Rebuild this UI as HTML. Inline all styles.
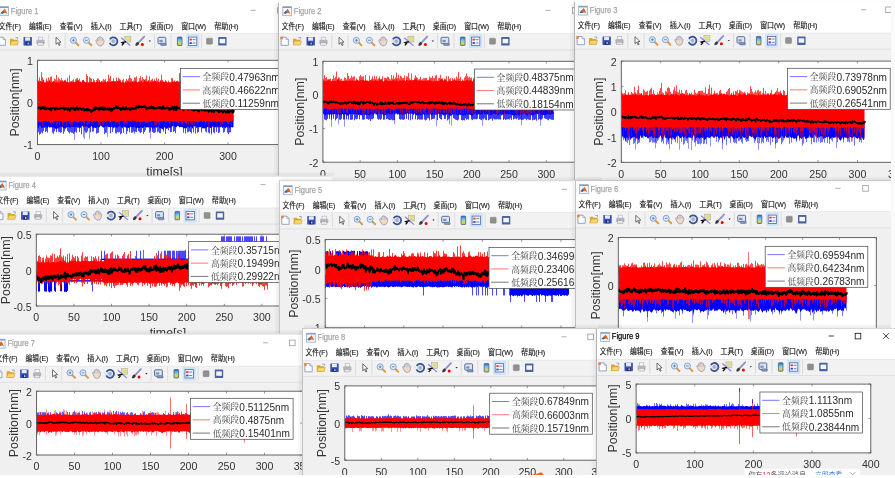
<!DOCTYPE html><html><head><meta charset="utf-8"><title>Figures</title><style>html,body{margin:0;padding:0;background:#fff;overflow:hidden}svg{display:block;filter:blur(0.45px)}</style></head><body><svg width="895" height="478" viewBox="0 0 895 478"><defs><linearGradient id="cbg" x1="0" y1="0" x2="0" y2="1"><stop offset="0" stop-color="#3a5ad8"/><stop offset="0.35" stop-color="#58c8e8"/><stop offset="0.65" stop-color="#b8e070"/><stop offset="1" stop-color="#f0b040"/></linearGradient><linearGradient id="shl" x1="0" y1="0" x2="1" y2="0"><stop offset="0" stop-color="#000" stop-opacity="0"/><stop offset="1" stop-color="#000" stop-opacity="0.07"/></linearGradient><linearGradient id="sht" x1="0" y1="0" x2="0" y2="1"><stop offset="0" stop-color="#000" stop-opacity="0"/><stop offset="1" stop-color="#000" stop-opacity="0.07"/></linearGradient></defs><rect width="895" height="478" fill="#fff"/><clipPath id="w0"><rect x="-5" y="2" width="305" height="198"/></clipPath><g clip-path="url(#w0)"><rect x="-5" y="2" width="305" height="198" fill="#f0f0f0"/><rect x="-5" y="2" width="305" height="31.6" fill="#fff"/><path d="M-5 33.8 H300" stroke="#e2e2e2" stroke-width="0.8"/><rect x="-5" y="34.2" width="305" height="15.3" fill="#f2f2f2"/><path d="M-5 49.8 H300" stroke="#dcdcdc" stroke-width="0.8"/><g transform="translate(-0.7,6.3)"><rect x="0.4" y="0.4" width="8.8" height="9" fill="#f6f7fa" stroke="#a0aac0" stroke-width="0.8"/><rect x="0.4" y="0.4" width="8.8" height="1.3" fill="#7f98c8"/><path d="M1.2 7 L5.4 2.4 L8.2 8 L6.4 6.8 Z" fill="#e06a1c"/><path d="M1.2 7 L3.6 4.4 L4.8 6.8 L3 7.6 Z" fill="#2f6db5"/><path d="M5.4 2.4 L8.2 8 L6.2 4.8 Z" fill="#b83a10"/></g><text x="10.8" y="13.7" style='font-family:"Liberation Sans","Noto Sans CJK SC",sans-serif;font-size:8.5px' fill="#a6a6a6" stroke="#a6a6a6" stroke-width="0.25" textLength="27.6" lengthAdjust="spacingAndGlyphs">Figure 1</text><path d="M250.4 10.3 H255.6" stroke="#9a9a9a" stroke-width="0.8"/><rect x="277.6" y="7.6" width="5.6" height="5.6" fill="none" stroke="#9a9a9a" stroke-width="0.8"/><text x="-1.2" y="28.7" style='font-family:"Liberation Sans","Noto Sans CJK SC",sans-serif;font-size:7.6px' fill="#1a1a1a" stroke="#1a1a1a" stroke-width="0.15" textLength="22.1" lengthAdjust="spacingAndGlyphs">文件(F)</text><text x="29" y="28.7" style='font-family:"Liberation Sans","Noto Sans CJK SC",sans-serif;font-size:7.6px' fill="#1a1a1a" stroke="#1a1a1a" stroke-width="0.15" textLength="22.6" lengthAdjust="spacingAndGlyphs">编辑(E)</text><text x="59.7" y="28.7" style='font-family:"Liberation Sans","Noto Sans CJK SC",sans-serif;font-size:7.6px' fill="#1a1a1a" stroke="#1a1a1a" stroke-width="0.15" textLength="22.9" lengthAdjust="spacingAndGlyphs">查看(V)</text><text x="90.7" y="28.7" style='font-family:"Liberation Sans","Noto Sans CJK SC",sans-serif;font-size:7.6px' fill="#1a1a1a" stroke="#1a1a1a" stroke-width="0.15" textLength="20.9" lengthAdjust="spacingAndGlyphs">插入(I)</text><text x="119.5" y="28.7" style='font-family:"Liberation Sans","Noto Sans CJK SC",sans-serif;font-size:7.6px' fill="#1a1a1a" stroke="#1a1a1a" stroke-width="0.15" textLength="22.6" lengthAdjust="spacingAndGlyphs">工具(T)</text><text x="149.8" y="28.7" style='font-family:"Liberation Sans","Noto Sans CJK SC",sans-serif;font-size:7.6px' fill="#1a1a1a" stroke="#1a1a1a" stroke-width="0.15" textLength="23.3" lengthAdjust="spacingAndGlyphs">桌面(D)</text><text x="181.2" y="28.7" style='font-family:"Liberation Sans","Noto Sans CJK SC",sans-serif;font-size:7.6px' fill="#1a1a1a" stroke="#1a1a1a" stroke-width="0.15" textLength="25" lengthAdjust="spacingAndGlyphs">窗口(W)</text><text x="214.2" y="28.7" style='font-family:"Liberation Sans","Noto Sans CJK SC",sans-serif;font-size:7.6px' fill="#1a1a1a" stroke="#1a1a1a" stroke-width="0.15" textLength="24.2" lengthAdjust="spacingAndGlyphs">帮助(H)</text><g transform="translate(-2.9,36.7)"><path d="M1 0.5 H6 L8.3 2.8 V8.6 H1 Z" fill="#fdfdff" stroke="#7d8fb0" stroke-width="0.8"/><path d="M6 0.5 V2.8 H8.3" fill="#dfe6f2" stroke="#7d8fb0" stroke-width="0.6"/><rect x="0.2" y="0" width="2.6" height="2.6" fill="#f08040"/></g><g transform="translate(9.5,36.7)"><path d="M0.5 2 H3.5 L4.3 3 H8 V8.3 H0.5 Z" fill="#d9a92c"/><path d="M0.5 8.3 L2 4.3 H9 L7.8 8.3 Z" fill="#f6d56b" stroke="#c89a28" stroke-width="0.5"/><path d="M6 0.8 L8.2 0.8 L8.2 2.6" stroke="#6a8ac0" stroke-width="0.7" fill="none"/></g><g transform="translate(23.1,36.7)"><rect x="0.4" y="0.4" width="8.4" height="8.4" rx="0.6" fill="#3b4fb0"/><rect x="2" y="0.6" width="5" height="3.4" fill="#e8ecf8"/><rect x="2.6" y="5.6" width="3.8" height="3" fill="#1e2a70"/><rect x="4.4" y="6" width="1.2" height="1.8" fill="#dfe4f0"/></g><g transform="translate(36,36.7)"><rect x="2.4" y="0.4" width="4.4" height="3.6" fill="#f4f6fa" stroke="#9aa4b8" stroke-width="0.5"/><path d="M0.4 4.2 Q0.4 3 1.6 3 H7.4 Q8.6 3 8.6 4.2 V7.4 H0.4 Z" fill="#b4b6bc"/><rect x="1.8" y="6" width="5.4" height="2.7" fill="#e6e7ea" stroke="#8c8e94" stroke-width="0.4"/></g><g transform="translate(53.7,36.7)"><path d="M2.3 0.6 L2.3 7.6 L4 6 L5.4 8.8 L6.4 8.3 L5 5.6 L7.3 5.4 Z" fill="#fff" stroke="#333" stroke-width="0.7"/></g><g transform="translate(69.8,36.7)"><path d="M5.2 5.2 L8.6 8.6" stroke="#e09a40" stroke-width="2" stroke-linecap="round"/><circle cx="3.6" cy="3.6" r="3" fill="#dcecfb" stroke="#7a9ad0" stroke-width="0.9"/><path d="M2.2 3.6 H5 M3.6 2.2 V5" stroke="#4a78c0" stroke-width="0.8"/></g><g transform="translate(82.8,36.7)"><path d="M5.2 5.2 L8.6 8.6" stroke="#e09a40" stroke-width="2" stroke-linecap="round"/><circle cx="3.6" cy="3.6" r="3" fill="#dcecfb" stroke="#7a9ad0" stroke-width="0.9"/><path d="M2.2 3.6 H5" stroke="#4a78c0" stroke-width="0.8"/></g><g transform="translate(94.9,36.2)"><path d="M1.2 5.2 Q0.4 3.6 1.8 3.4 L2.8 4.4 V2 Q3.4 0.6 4.4 1.4 V0.9 Q5.2 0 6 0.9 V1.4 Q7 0.8 7.6 1.8 V3.2 Q8.8 2.8 9.2 3.8 L8.8 6.6 Q8.2 9.8 5.2 9.8 Q2.8 9.8 1.2 5.2 Z" fill="#f7d8bc" stroke="#7f93c6" stroke-width="0.7"/><path d="M3 2.2 V5 M4.5 1.2 V4.6 M6 1.2 V4.6 M7.5 2 V5" stroke="#9fb0d8" stroke-width="0.5"/></g><g transform="translate(108.3,36.2)"><path d="M1.6 3.2 A4 4 0 1 1 1.4 6.6" fill="none" stroke="#3a5490" stroke-width="1.8"/><circle cx="5.2" cy="5" r="2.2" fill="#b8c4dc"/><path d="M4.4 3.8 V6.2 M5.4 3.6 V6.4" stroke="#7f8fb8" stroke-width="0.5"/><path d="M0 4.6 L3 4.2 L2 6.6 Z" fill="#fff" stroke="#9aa" stroke-width="0.3"/></g><g transform="translate(120.9,36.2)"><rect x="4" y="0" width="6" height="5.8" fill="#e6e4a4" stroke="#a8a470" stroke-width="0.5"/><rect x="5" y="1" width="4" height="3.8" fill="#dddb9a"/><path d="M0.4 1.6 L9.4 9.4" stroke="#8080ff" stroke-width="1.2"/><path d="M5 5.6 L1.2 6.4 L2.6 7.4 L1 9.2" stroke="#111" stroke-width="1.4" fill="none"/></g><g transform="translate(134.8,36.2)"><path d="M9.4 0.4 L4.2 6" stroke="#8c94cc" stroke-width="1.9" stroke-linecap="round"/><path d="M0.6 9.6 Q0.4 6.6 3 5.6 L4.4 7 Q3.8 9.6 0.6 9.6 Z" fill="#3a3a3a"/><circle cx="7.6" cy="8.2" r="1.5" fill="#ee0000"/></g><path d="M148.6 40.6 h2.4 l-1.2 1.3 z" fill="#333"/><g transform="translate(157.6,36.7)"><rect x="0.4" y="0.6" width="7.8" height="6.4" rx="1" fill="#dde4f0" stroke="#4a5f95" stroke-width="0.9"/><rect x="1.8" y="3.2" width="3.2" height="2.2" fill="#7d8fb8"/><rect x="3" y="6.6" width="5.8" height="2.2" rx="0.6" fill="#8596bd" stroke="#4a5f95" stroke-width="0.5"/></g><rect x="186.2" y="34.2" width="13" height="14" fill="#cce4f7"/><g transform="translate(175.1,36.7)"><rect x="2.3" y="0.4" width="4.6" height="8.4" rx="0.6" fill="url(#cbg)" stroke="#4f5f8f" stroke-width="0.8"/></g><g transform="translate(188,36.7)"><rect x="0.4" y="0.4" width="8.4" height="8.4" fill="#f4f6fb" stroke="#5a6a9a" stroke-width="0.8"/><rect x="1.5" y="2" width="2.4" height="1.8" fill="#e83a3a"/><rect x="1.5" y="5.4" width="2.4" height="1.8" fill="#3a4ae8"/><path d="M4.6 2.9 H7.6 M4.6 6.3 H7.6" stroke="#6a7aa8" stroke-width="0.9"/></g><rect x="206.5" y="38.2" width="6" height="6" rx="0.8" fill="#909090" stroke="#777" stroke-width="0.4"/><g transform="translate(217.8,36.7)"><rect x="0.4" y="0.4" width="8.4" height="8.4" rx="0.6" fill="#4a64a0"/><rect x="1.8" y="2.2" width="5.6" height="4.4" fill="#f4f6fb"/></g><path d="M48.8 34.2 V48.2" stroke="#d6d6d6" stroke-width="0.8"/><path d="M65.1 34.2 V48.2" stroke="#d6d6d6" stroke-width="0.8"/><path d="M154.5 34.2 V48.2" stroke="#d6d6d6" stroke-width="0.8"/><path d="M171 34.2 V48.2" stroke="#d6d6d6" stroke-width="0.8"/><path d="M201.5 34.2 V48.2" stroke="#d6d6d6" stroke-width="0.8"/><path d="M-4.5 200 V2.5" stroke="#b4b4b4" stroke-width="1" fill="none"/><clipPath id="a21"><rect x="37.5" y="60.3" width="254" height="84.3"/></clipPath><rect x="37.5" y="60.3" width="254" height="84.3" fill="#fff"/><g clip-path="url(#a21)"><path d="M37.5 115.09 L38.5 115.09 L39.5 115.09 L40.5 115.09 L41.5 115.09 L42.5 115.09 L43.5 115.09 L44.5 115.09 L45.5 115.09 L46.5 115.09 L47.5 115.09 L48.5 115.09 L49.5 115.09 L50.5 115.09 L51.5 115.09 L52.5 115.09 L53.5 115.09 L54.5 115.09 L55.5 115.09 L56.5 115.09 L57.5 115.09 L58.5 115.09 L59.5 115.09 L60.5 115.09 L61.5 115.09 L62.5 115.09 L63.5 115.09 L64.5 115.09 L65.5 115.09 L66.5 115.09 L67.5 115.09 L68.5 115.09 L69.5 115.09 L70.5 115.09 L71.5 115.09 L72.5 115.09 L73.5 115.09 L74.5 115.09 L75.5 115.09 L76.5 115.09 L77.5 115.09 L78.5 115.09 L79.5 115.09 L80.5 115.09 L81.5 115.09 L82.5 115.09 L83.5 115.09 L84.5 115.09 L85.5 115.09 L86.5 115.09 L87.5 115.09 L88.5 115.09 L89.5 115.09 L90.5 115.09 L91.5 115.09 L92.5 115.09 L93.5 115.09 L94.5 115.09 L95.5 115.09 L96.5 115.09 L97.5 115.09 L98.5 115.09 L99.5 115.09 L100.5 115.09 L101.5 115.09 L102.5 115.09 L103.5 115.09 L104.5 115.09 L105.5 115.09 L106.5 115.09 L107.5 115.09 L108.5 115.09 L109.5 115.09 L110.5 115.09 L111.5 115.09 L112.5 115.09 L113.5 115.09 L114.5 115.09 L115.5 115.09 L116.5 115.09 L117.5 115.09 L118.5 115.09 L119.5 115.09 L120.5 115.09 L121.5 115.09 L122.5 115.09 L123.5 115.09 L124.5 115.09 L125.5 115.09 L126.5 115.09 L127.5 115.09 L128.5 115.09 L129.5 115.09 L130.5 115.09 L131.5 115.09 L132.5 115.09 L133.5 115.09 L134.5 115.09 L135.5 115.09 L136.5 115.09 L137.5 115.09 L138.5 115.09 L139.5 115.09 L140.5 115.09 L141.5 115.09 L142.5 115.09 L143.5 115.09 L144.5 115.09 L145.5 115.09 L146.5 115.09 L147.5 115.09 L148.5 115.09 L149.5 115.09 L150.5 115.09 L151.5 115.09 L152.5 115.09 L153.5 115.09 L154.5 115.09 L155.5 115.09 L156.5 115.09 L157.5 115.09 L158.5 115.09 L159.5 115.09 L160.5 115.09 L161.5 115.09 L162.5 115.09 L163.5 115.09 L164.5 115.09 L165.5 115.09 L166.5 115.09 L167.5 115.09 L168.5 115.09 L169.5 115.09 L170.5 115.09 L171.5 115.09 L172.5 115.09 L173.5 115.09 L174.5 115.09 L175.5 115.09 L176.5 115.09 L177.5 115.09 L178.5 115.09 L179.5 115.09 L180.5 115.09 L181.5 115.09 L182.5 115.09 L183.5 115.09 L184.5 115.09 L185.5 115.09 L186.5 115.09 L187.5 115.09 L188.5 115.09 L189.5 115.09 L190.5 115.09 L191.5 115.09 L192.5 115.09 L193.5 115.09 L194.5 115.09 L195.5 115.09 L196.5 115.09 L197.5 115.09 L198.5 115.09 L199.5 115.09 L200.5 115.09 L201.5 115.09 L202.5 115.09 L203.5 115.09 L204.5 115.09 L205.5 115.09 L206.5 115.09 L207.5 115.09 L208.5 115.09 L209.5 115.09 L210.5 115.09 L211.5 115.09 L212.5 115.09 L213.5 115.09 L214.5 115.09 L215.5 115.09 L216.5 115.09 L217.5 115.09 L218.5 115.09 L219.5 115.09 L220.5 115.09 L221.5 115.09 L222.5 115.09 L223.5 115.09 L224.5 115.09 L225.5 115.09 L226.5 115.09 L227.5 115.09 L228.5 115.09 L229.5 115.09 L230.5 115.09 L231.5 115.09 L232.5 115.09 L233.5 115.09 L233.5 127.1 L232.5 127.6 L231.5 127.08 L230.5 127.46 L229.5 127.89 L228.5 126.24 L227.5 128.07 L226.5 126.75 L225.5 128.66 L224.5 127.15 L223.5 126.46 L222.5 128.26 L221.5 126.62 L220.5 127.54 L219.5 126.35 L218.5 126.77 L217.5 127.82 L216.5 126.01 L215.5 127.59 L214.5 127.23 L213.5 126.67 L212.5 126.52 L211.5 127.69 L210.5 127.89 L209.5 127.29 L208.5 127.09 L207.5 127.01 L206.5 127.83 L205.5 127.79 L204.5 128.49 L203.5 128.37 L202.5 128.58 L201.5 126.43 L200.5 127.17 L199.5 127.15 L198.5 126.96 L197.5 126.87 L196.5 128.36 L195.5 125.58 L194.5 126.64 L193.5 125.77 L192.5 128.93 L191.5 126.57 L190.5 126.14 L189.5 128.34 L188.5 126.87 L187.5 126.29 L186.5 128.62 L185.5 127.77 L184.5 128.44 L183.5 127.74 L182.5 127.27 L181.5 127.08 L180.5 126.93 L179.5 127.58 L178.5 126.11 L177.5 125.8 L176.5 127.16 L175.5 127.2 L174.5 126.45 L173.5 125.68 L172.5 126.18 L171.5 127.04 L170.5 127.63 L169.5 127.97 L168.5 126.8 L167.5 128.57 L166.5 128.89 L165.5 127.86 L164.5 127.01 L163.5 128.9 L162.5 129.34 L161.5 128.51 L160.5 128.27 L159.5 128.2 L158.5 125.48 L157.5 127.19 L156.5 127.83 L155.5 126.77 L154.5 128.07 L153.5 127.34 L152.5 129.35 L151.5 127.4 L150.5 126.7 L149.5 127.36 L148.5 127.42 L147.5 127.21 L146.5 127.45 L145.5 126.74 L144.5 126.12 L143.5 127.43 L142.5 128.31 L141.5 127.07 L140.5 127.62 L139.5 128.17 L138.5 127.96 L137.5 127.48 L136.5 128.85 L135.5 127.87 L134.5 126.11 L133.5 128.04 L132.5 127.08 L131.5 127.29 L130.5 126.93 L129.5 127.26 L128.5 128.24 L127.5 127.37 L126.5 128.26 L125.5 127.35 L124.5 127.25 L123.5 125.69 L122.5 128.63 L121.5 127.04 L120.5 126.79 L119.5 125.63 L118.5 126.66 L117.5 127.58 L116.5 127.8 L115.5 127.12 L114.5 127.37 L113.5 128.52 L112.5 126.22 L111.5 126.96 L110.5 127.49 L109.5 126.88 L108.5 127.24 L107.5 126.26 L106.5 126.79 L105.5 125.95 L104.5 126.97 L103.5 127.83 L102.5 127.04 L101.5 126.32 L100.5 125.5 L99.5 127.3 L98.5 127.85 L97.5 126.05 L96.5 128.04 L95.5 127.88 L94.5 127.62 L93.5 128.04 L92.5 127.23 L91.5 126.11 L90.5 126.94 L89.5 127.86 L88.5 128.38 L87.5 126.3 L86.5 126.64 L85.5 126.33 L84.5 126.84 L83.5 127.3 L82.5 125.84 L81.5 126.01 L80.5 127.99 L79.5 128 L78.5 127.62 L77.5 127.8 L76.5 126.22 L75.5 127.14 L74.5 126.83 L73.5 126.7 L72.5 127.31 L71.5 126.53 L70.5 127.47 L69.5 127.42 L68.5 126.87 L67.5 126.91 L66.5 127.46 L65.5 129.1 L64.5 127.92 L63.5 127.99 L62.5 127.22 L61.5 126.85 L60.5 127.27 L59.5 127.34 L58.5 127.96 L57.5 128.39 L56.5 129.18 L55.5 128.87 L54.5 127.9 L53.5 127.04 L52.5 127.58 L51.5 127.33 L50.5 127.13 L49.5 127.81 L48.5 126.22 L47.5 128.23 L46.5 127.38 L45.5 126.21 L44.5 127.95 L43.5 127.12 L42.5 127.93 L41.5 127.9 L40.5 125.7 L39.5 125.22 L38.5 128.16 L37.5 128.85Z" fill="#0000ff"/><path d="M37.5 123.52V132.84M38.5 123.52V132.2M39.5 123.52V134.7M40.5 123.52V133.88M41.5 123.52V132.3M42.5 123.52V133.29M43.5 123.52V131.07M45.5 123.52V132.09M46.5 123.52V131.1M47.5 123.52V132.6M52.5 123.52V132.64M53.5 123.52V133.77M54.5 123.52V131.29M56.5 123.52V132.2M58.5 123.52V131.74M59.5 123.52V131.92M60.5 123.52V132.79M61.5 123.52V132.34M63.5 123.52V133.79M64.5 123.52V131.47M67.5 123.52V131.03M68.5 123.52V132.21M69.5 123.52V133.47M70.5 123.52V131.91M71.5 123.52V132.79M72.5 123.52V132.85M73.5 123.52V133.93M74.5 123.52V132.37M75.5 123.52V131.63M76.5 123.52V132.63M79.5 123.52V131.89M81.5 123.52V134.18M84.5 123.52V130.77M85.5 123.52V132.64M86.5 123.52V132.68M87.5 123.52V131.55M90.5 123.52V132.2M92.5 123.52V131.66M93.5 123.52V131.48M96.5 123.52V133.63M97.5 123.52V133M98.5 123.52V132.68M104.5 123.52V134.09M105.5 123.52V132.64M106.5 123.52V132.65M110.5 123.52V133.2M112.5 123.52V131.95M115.5 123.52V133.2M116.5 123.52V133.58M117.5 123.52V132.14M118.5 123.52V132.41M119.5 123.52V131.98M120.5 123.52V134.34M121.5 123.52V133.32M123.5 123.52V132.85M126.5 123.52V134.11M127.5 123.52V131.28M129.5 123.52V132.34M131.5 123.52V132.81M132.5 123.52V132.51M133.5 123.52V131.53M134.5 123.52V133.52M135.5 123.52V131.75M136.5 123.52V132.15M138.5 123.52V131.01M139.5 123.52V132.11M140.5 123.52V133.17M141.5 123.52V132.12M143.5 123.52V133.89M144.5 123.52V132.05M145.5 123.52V130.23M149.5 123.52V132.67M150.5 123.52V131.35M152.5 123.52V131.98M153.5 123.52V132.91M154.5 123.52V132.86M155.5 123.52V132.13M157.5 123.52V132.35M158.5 123.52V131.66M159.5 123.52V133.18M160.5 123.52V133.32M163.5 123.52V131.52M165.5 123.52V133.99M168.5 123.52V130.31M170.5 123.52V132.23M171.5 123.52V131.99M173.5 123.52V131.9M174.5 123.52V131.15M175.5 123.52V133.22M183.5 123.52V132.74M185.5 123.52V133.35M187.5 123.52V132.43M188.5 123.52V131.76M189.5 123.52V131.49M190.5 123.52V132.04M191.5 123.52V133.43M193.5 123.52V132.36M195.5 123.52V133.53M197.5 123.52V132.85M198.5 123.52V132.05M201.5 123.52V132.46M205.5 123.52V131.38M206.5 123.52V132.49M208.5 123.52V132.61M209.5 123.52V133.53M211.5 123.52V133.39M213.5 123.52V132.21M214.5 123.52V133.32M216.5 123.52V131.87M218.5 123.52V133.05M219.5 123.52V132.39M223.5 123.52V132.67M224.5 123.52V131.73M227.5 123.52V132.68M228.5 123.52V134.11M229.5 123.52V132.41M230.5 123.52V132.29" stroke="#0000ff" stroke-width="0.9" stroke-opacity="0.8" fill="none"/><path d="M74.5 123.52V139.98M83.5 123.52V137.6M84.5 123.52V138.96M89.5 123.52V139.29M107.5 123.52V136.87M150.5 123.52V138.53M211.5 123.52V134.93" stroke="#0000ff" stroke-width="0.7" stroke-opacity="0.6" fill="none"/><path d="M37.5 81.6 L38.5 80.31 L39.5 82.57 L40.5 80.63 L41.5 82.03 L42.5 81.93 L43.5 78.81 L44.5 82.58 L45.5 82.6 L46.5 80.39 L47.5 82.43 L48.5 82.19 L49.5 80.42 L50.5 81.98 L51.5 82.55 L52.5 82.17 L53.5 80.85 L54.5 81.76 L55.5 82.61 L56.5 81.88 L57.5 82.59 L58.5 82.55 L59.5 82.47 L60.5 79.82 L61.5 82.1 L62.5 80.87 L63.5 81.76 L64.5 80.26 L65.5 81.67 L66.5 81.54 L67.5 82 L68.5 82.15 L69.5 82.56 L70.5 82.28 L71.5 81.07 L72.5 82.51 L73.5 82.08 L74.5 82.03 L75.5 81.91 L76.5 81.51 L77.5 80 L78.5 80.12 L79.5 82.21 L80.5 81.61 L81.5 82.6 L82.5 80.09 L83.5 79.76 L84.5 81.78 L85.5 82.29 L86.5 82.48 L87.5 82.41 L88.5 82.23 L89.5 82.59 L90.5 81.88 L91.5 82.11 L92.5 81.88 L93.5 82.02 L94.5 81.72 L95.5 82.44 L96.5 82.16 L97.5 81.49 L98.5 82.51 L99.5 81.13 L100.5 82.01 L101.5 82.5 L102.5 82.5 L103.5 82.56 L104.5 82.21 L105.5 81.26 L106.5 82.42 L107.5 81.42 L108.5 81.95 L109.5 81.71 L110.5 82.13 L111.5 81.47 L112.5 81.11 L113.5 81.2 L114.5 81.19 L115.5 81.61 L116.5 81.78 L117.5 81.09 L118.5 80.26 L119.5 81.22 L120.5 81.09 L121.5 82.39 L122.5 81.76 L123.5 82.4 L124.5 82.63 L125.5 82.08 L126.5 82.38 L127.5 80.94 L128.5 81.28 L129.5 82.47 L130.5 81.27 L131.5 82.02 L132.5 81.15 L133.5 82.52 L134.5 82.07 L135.5 80.53 L136.5 81.65 L137.5 82.62 L138.5 81.27 L139.5 81.63 L140.5 81.81 L141.5 80.25 L142.5 82.45 L143.5 82.57 L144.5 79.36 L145.5 81.7 L146.5 81.66 L147.5 81.2 L148.5 79.79 L149.5 82.63 L150.5 81.83 L151.5 82.17 L152.5 81.27 L153.5 81.95 L154.5 80.49 L155.5 80.99 L156.5 81.68 L157.5 82.39 L158.5 82.01 L159.5 82.2 L160.5 79.87 L161.5 81.94 L162.5 81.3 L163.5 81.65 L164.5 82.02 L165.5 81.4 L166.5 81.18 L167.5 82.48 L168.5 81.94 L169.5 82.16 L170.5 82.29 L171.5 82.41 L172.5 81.29 L173.5 81.71 L174.5 80.98 L175.5 82.04 L176.5 81.09 L177.5 81.56 L178.5 82.29 L179.5 82.37 L180.5 81.39 L181.5 81.46 L182.5 82.04 L183.5 81.26 L184.5 81.83 L185.5 82.03 L186.5 82.38 L187.5 81.7 L188.5 81.48 L189.5 80.72 L190.5 81.94 L191.5 80.64 L192.5 81.99 L193.5 81.5 L194.5 80.81 L195.5 81.98 L196.5 82.49 L197.5 82.55 L198.5 82.21 L199.5 82.07 L200.5 82.56 L201.5 82.47 L202.5 79.4 L203.5 81.46 L204.5 82.1 L205.5 81.67 L206.5 81.3 L207.5 82.46 L208.5 81.39 L209.5 81.81 L210.5 82.07 L211.5 81.27 L212.5 82.21 L213.5 81.62 L214.5 82.17 L215.5 81.66 L216.5 81.3 L217.5 81.81 L218.5 80.15 L219.5 82.25 L220.5 81.28 L221.5 80.73 L222.5 78.25 L223.5 81.12 L224.5 82.14 L225.5 81.58 L226.5 80.82 L227.5 81.95 L228.5 81.64 L229.5 81.32 L230.5 80.31 L231.5 81.22 L232.5 80.99 L233.5 81.48 L233.5 121.12 L232.5 120.84 L231.5 121.55 L230.5 121.36 L229.5 121.17 L228.5 121.73 L227.5 122.64 L226.5 121.68 L225.5 121.54 L224.5 120.71 L223.5 121.48 L222.5 121.45 L221.5 121.06 L220.5 120.6 L219.5 121.61 L218.5 120.76 L217.5 122.25 L216.5 121.02 L215.5 120.8 L214.5 121.66 L213.5 121.4 L212.5 120.58 L211.5 122.57 L210.5 121.19 L209.5 121.43 L208.5 121.44 L207.5 120.92 L206.5 121.22 L205.5 122.67 L204.5 121.05 L203.5 120.61 L202.5 121.97 L201.5 120.65 L200.5 120.86 L199.5 122.19 L198.5 121.77 L197.5 122.31 L196.5 121.72 L195.5 121.94 L194.5 121.84 L193.5 121.36 L192.5 121.01 L191.5 121.05 L190.5 121.21 L189.5 120.97 L188.5 121.4 L187.5 120.9 L186.5 122.31 L185.5 123.62 L184.5 121 L183.5 121.17 L182.5 120.65 L181.5 121.51 L180.5 121.82 L179.5 121.3 L178.5 121.35 L177.5 120.9 L176.5 122.16 L175.5 121.23 L174.5 121.8 L173.5 121.27 L172.5 121.34 L171.5 121.61 L170.5 120.97 L169.5 120.7 L168.5 121.75 L167.5 120.92 L166.5 121.55 L165.5 122 L164.5 120.84 L163.5 120.72 L162.5 121.13 L161.5 121.2 L160.5 121.33 L159.5 121.22 L158.5 120.76 L157.5 122.61 L156.5 121.15 L155.5 120.92 L154.5 120.65 L153.5 121.08 L152.5 120.65 L151.5 121.32 L150.5 121.68 L149.5 121.22 L148.5 120.99 L147.5 122.45 L146.5 122.77 L145.5 121.74 L144.5 121.52 L143.5 121.52 L142.5 122.1 L141.5 121.66 L140.5 121.28 L139.5 122.78 L138.5 121.21 L137.5 121.67 L136.5 121.72 L135.5 120.89 L134.5 121.1 L133.5 120.62 L132.5 120.73 L131.5 121.8 L130.5 121.04 L129.5 121.17 L128.5 120.73 L127.5 121.23 L126.5 120.66 L125.5 122.52 L124.5 121.02 L123.5 120.73 L122.5 120.62 L121.5 120.68 L120.5 120.93 L119.5 121.38 L118.5 121.77 L117.5 122.07 L116.5 122.5 L115.5 121.72 L114.5 121 L113.5 120.61 L112.5 121.6 L111.5 121.04 L110.5 122.41 L109.5 121.17 L108.5 121.22 L107.5 120.58 L106.5 122.34 L105.5 121.46 L104.5 120.92 L103.5 121.65 L102.5 120.95 L101.5 121.87 L100.5 121.65 L99.5 121.28 L98.5 121.35 L97.5 120.79 L96.5 121.25 L95.5 122.21 L94.5 120.82 L93.5 120.96 L92.5 121.61 L91.5 121.69 L90.5 120.62 L89.5 121.48 L88.5 120.6 L87.5 121.44 L86.5 120.79 L85.5 121.08 L84.5 120.6 L83.5 123.01 L82.5 121.28 L81.5 120.7 L80.5 121.21 L79.5 121.36 L78.5 122.5 L77.5 122.65 L76.5 121.64 L75.5 121.38 L74.5 121.27 L73.5 121.65 L72.5 122.26 L71.5 121.88 L70.5 120.93 L69.5 121 L68.5 121.65 L67.5 120.86 L66.5 121.81 L65.5 121.96 L64.5 121.46 L63.5 122.21 L62.5 122.99 L61.5 121.12 L60.5 121.25 L59.5 120.73 L58.5 121.16 L57.5 120.65 L56.5 121.12 L55.5 121.15 L54.5 121.54 L53.5 121.37 L52.5 123.07 L51.5 120.78 L50.5 123.02 L49.5 122.19 L48.5 120.85 L47.5 121.88 L46.5 121.56 L45.5 120.87 L44.5 121.27 L43.5 120.77 L42.5 121.5 L41.5 122.61 L40.5 121.93 L39.5 122.4 L38.5 121.19 L37.5 121.25Z" fill="#ff0000"/><path d="M37.5 81.71V89.8M39.5 77.44V89.8M41.5 72.24V89.8M42.5 77.22V89.8M46.5 78.22V89.8M47.5 80.67V89.8M48.5 77.4V89.8M49.5 79.59V89.8M50.5 76.92V89.8M51.5 76.4V89.8M52.5 81.58V89.8M53.5 81.04V89.8M54.5 78.64V89.8M55.5 79.35V89.8M56.5 74.93V89.8M57.5 80.33V89.8M58.5 77.59V89.8M59.5 78.98V89.8M61.5 78.07V89.8M62.5 80.2V89.8M64.5 80.26V89.8M65.5 79.59V89.8M67.5 77.75V89.8M69.5 75.31V89.8M70.5 81.29V89.8M72.5 80.35V89.8M73.5 79.18V89.8M75.5 79.38V89.8M76.5 78.42V89.8M77.5 77.92V89.8M79.5 78.61V89.8M80.5 81.79V89.8M83.5 80.66V89.8M86.5 74.1V89.8M87.5 76.01V89.8M89.5 77.15V89.8M90.5 77.94V89.8M91.5 78.7V89.8M93.5 78.72V89.8M94.5 80.26V89.8M96.5 79.9V89.8M97.5 78.28V89.8M98.5 78.7V89.8M99.5 80.01V89.8M101.5 81.02V89.8M102.5 80.68V89.8M103.5 78.91V89.8M104.5 80.02V89.8M105.5 78.82V89.8M107.5 80.91V89.8M108.5 74.65V89.8M109.5 78.26V89.8M110.5 75.92V89.8M111.5 81.16V89.8M113.5 78.16V89.8M115.5 81.2V89.8M116.5 77.67V89.8M118.5 77.72V89.8M119.5 78.82V89.8M120.5 79.76V89.8M122.5 80.15V89.8M123.5 78.89V89.8M125.5 81V89.8M126.5 78.81V89.8M127.5 80.45V89.8M128.5 78.52V89.8M129.5 75.16V89.8M130.5 78.02V89.8M131.5 78.71V89.8M132.5 81.39V89.8M133.5 80.46V89.8M134.5 77.57V89.8M135.5 77.51V89.8M136.5 76.29V89.8M139.5 78.25V89.8M140.5 76.17V89.8M141.5 80.74V89.8M142.5 77.05V89.8M143.5 78.89V89.8M144.5 79.78V89.8M145.5 78.89V89.8M146.5 75.52V89.8M149.5 76.25V89.8M150.5 80.47V89.8M151.5 79.65V89.8M152.5 78.62V89.8M153.5 81V89.8M154.5 79.17V89.8M156.5 77.63V89.8M157.5 80.39V89.8M158.5 78.58V89.8M161.5 74.62V89.8M162.5 79.81V89.8M163.5 81.73V89.8M165.5 79.96V89.8M168.5 80.5V89.8M171.5 78.23V89.8M172.5 78.04V89.8M174.5 80.48V89.8M177.5 80.58V89.8M178.5 81.43V89.8M179.5 73.12V89.8M180.5 81.15V89.8M182.5 79.79V89.8M183.5 75.23V89.8M184.5 76.49V89.8M185.5 80.76V89.8M186.5 78.47V89.8M187.5 80.5V89.8M188.5 81.03V89.8M190.5 79.89V89.8M191.5 81.56V89.8M192.5 77.24V89.8M194.5 79.39V89.8M195.5 74.29V89.8M196.5 78.3V89.8M197.5 75.76V89.8M199.5 79.23V89.8M200.5 77.36V89.8M203.5 80.92V89.8M204.5 78.32V89.8M205.5 81.31V89.8M207.5 79.33V89.8M208.5 79.87V89.8M209.5 77.99V89.8M210.5 81.29V89.8M213.5 81.55V89.8M216.5 78.39V89.8M217.5 79.02V89.8M218.5 81.32V89.8M220.5 81.67V89.8M221.5 76.73V89.8M222.5 79.61V89.8M223.5 81.22V89.8M226.5 81.11V89.8M227.5 77.05V89.8M229.5 76.2V89.8M233.5 78.96V89.8" stroke="#ff0000" stroke-width="0.9" stroke-opacity="0.8" fill="none"/><path d="M37.5 115.09V126.41M42.5 115.09V125.63M50.5 115.09V124.08M51.5 115.09V124.13M53.5 115.09V123.86M56.5 115.09V125.28M57.5 115.09V123.98M59.5 115.09V125.32M62.5 115.09V126.31M66.5 115.09V125.84M69.5 115.09V124.46M70.5 115.09V125.56M71.5 115.09V124.28M72.5 115.09V124.81M81.5 115.09V124.28M84.5 115.09V127.28M87.5 115.09V125.33M88.5 115.09V123.83M89.5 115.09V123.79M92.5 115.09V124.39M98.5 115.09V124.9M99.5 115.09V125.16M100.5 115.09V124.88M102.5 115.09V125.24M103.5 115.09V124.69M106.5 115.09V124.27M109.5 115.09V123.89M111.5 115.09V126.65M115.5 115.09V124.77M118.5 115.09V124.34M119.5 115.09V125M123.5 115.09V123.62M124.5 115.09V124.1M126.5 115.09V124.49M127.5 115.09V124.18M136.5 115.09V123.57M140.5 115.09V125.07M145.5 115.09V124.14M148.5 115.09V123.99M151.5 115.09V124.17M154.5 115.09V125.24M155.5 115.09V125.85M156.5 115.09V125.46M158.5 115.09V124.16M159.5 115.09V125.05M165.5 115.09V124.05M169.5 115.09V124.33M170.5 115.09V124.58M173.5 115.09V125.84M178.5 115.09V124.09M181.5 115.09V124.56M182.5 115.09V124.74M186.5 115.09V124.98M188.5 115.09V125.38M190.5 115.09V123.77M191.5 115.09V124.17M192.5 115.09V124.71M194.5 115.09V125.4M197.5 115.09V124.39M205.5 115.09V124.49M208.5 115.09V126.81M216.5 115.09V124.3M220.5 115.09V124.8M221.5 115.09V124.06M222.5 115.09V124.26M227.5 115.09V123.83M228.5 115.09V124.07M229.5 115.09V123.84M231.5 115.09V125.64" stroke="#ff0000" stroke-width="0.7" stroke-opacity="0.7" fill="none"/><path d="M37.5 107.21 L37.88 107.87 L38.26 108.05 L38.64 107.28 L39.01 107.15 L39.39 107.16 L39.77 107.2 L40.15 107.32 L40.53 109.38 L40.91 108.67 L41.29 108.22 L41.66 108.46 L42.04 107.63 L42.42 106.88 L42.8 107.08 L43.18 108.63 L43.56 108.26 L43.94 107.82 L44.31 108.8 L44.69 107.39 L45.07 108.28 L45.45 109.34 L45.83 107.33 L46.21 109.01 L46.59 109.3 L46.96 108.56 L47.34 108.28 L47.72 107.92 L48.1 107.91 L48.48 109.08 L48.86 108.45 L49.24 109.08 L49.61 108.85 L49.99 109.56 L50.37 108.38 L50.75 107.74 L51.13 110.48 L51.51 109.09 L51.89 108.17 L52.26 108.4 L52.64 108.14 L53.02 107.61 L53.4 107.6 L53.78 107.59 L54.16 107.88 L54.54 109.29 L54.91 109.87 L55.29 107.93 L55.67 107.86 L56.05 108.92 L56.43 108.25 L56.81 107.87 L57.19 109.17 L57.56 108.56 L57.94 108.18 L58.32 108.77 L58.7 108.97 L59.08 109.12 L59.46 109.26 L59.83 109.14 L60.21 108.1 L60.59 107.7 L60.97 108.21 L61.35 107.95 L61.73 108.3 L62.11 108.41 L62.48 107.9 L62.86 107.64 L63.24 108.42 L63.62 107.63 L64 108.21 L64.38 109.9 L64.76 108.36 L65.13 108.34 L65.51 108.24 L65.89 109.06 L66.27 107.86 L66.65 108.48 L67.03 108.62 L67.41 109.73 L67.78 109.91 L68.16 108.44 L68.54 107.84 L68.92 109.64 L69.3 109.01 L69.68 111.02 L70.06 109.87 L70.43 109.78 L70.81 107.91 L71.19 108.73 L71.57 108.61 L71.95 107.73 L72.33 108.81 L72.71 108.79 L73.08 108.11 L73.46 107.59 L73.84 107.76 L74.22 109.85 L74.6 109.38 L74.98 110.1 L75.36 108.23 L75.73 109.12 L76.11 109.39 L76.49 107.36 L76.87 107.75 L77.25 108.79 L77.63 108.29 L78.01 109.75 L78.38 108.93 L78.76 109.56 L79.14 107.56 L79.52 108.46 L79.9 107.96 L80.28 108.67 L80.66 108.65 L81.03 109.48 L81.41 109.14 L81.79 110.02 L82.17 108.96 L82.55 108.56 L82.93 108.76 L83.31 107.94 L83.68 108.67 L84.06 110.57 L84.44 109.5 L84.82 110.45 L85.2 110.35 L85.58 110.17 L85.96 109.68 L86.33 108.81 L86.71 110.43 L87.09 108.9 L87.47 110.47 L87.85 109.11 L88.23 109.04 L88.61 110.36 L88.98 110.36 L89.36 109.97 L89.74 110.32 L90.12 110.19 L90.5 110.04 L90.88 110.54 L91.26 112.09 L91.63 110.5 L92.01 111.36 L92.39 110.77 L92.77 109.53 L93.15 109.53 L93.53 108.86 L93.91 110.67 L94.28 108.03 L94.66 109.41 L95.04 109.82 L95.42 106.83 L95.8 108.4 L96.18 108.52 L96.56 107.75 L96.93 108.81 L97.31 108.15 L97.69 108.94 L98.07 109.38 L98.45 108.81 L98.83 109.74 L99.2 107.62 L99.58 110.2 L99.96 107.96 L100.34 107.67 L100.72 107.78 L101.1 108.07 L101.48 109.25 L101.85 107.16 L102.23 109.37 L102.61 108.71 L102.99 109.66 L103.37 107.67 L103.75 109.76 L104.13 107.68 L104.5 107.4 L104.88 108.17 L105.26 109.54 L105.64 108.64 L106.02 109.27 L106.4 108.75 L106.78 108.68 L107.15 108.36 L107.53 109.48 L107.91 109.05 L108.29 108.93 L108.67 108.88 L109.05 109.9 L109.43 108.12 L109.8 108.87 L110.18 109.3 L110.56 109.1 L110.94 108.8 L111.32 111.38 L111.7 108.55 L112.08 110.59 L112.45 109.31 L112.83 109.27 L113.21 108.39 L113.59 108.43 L113.97 107.69 L114.35 108.91 L114.73 107.73 L115.1 107.62 L115.48 107.6 L115.86 106.54 L116.24 108.19 L116.62 106.25 L117 107.62 L117.38 108.01 L117.75 108.26 L118.13 107.51 L118.51 108.1 L118.89 107.56 L119.27 107.92 L119.65 107.6 L120.03 108.86 L120.4 109.44 L120.78 109.94 L121.16 108.27 L121.54 108.51 L121.92 109.51 L122.3 107.63 L122.68 108.38 L123.05 109.17 L123.43 107.07 L123.81 108.35 L124.19 109.38 L124.57 109.39 L124.95 109.73 L125.33 108.48 L125.7 107.92 L126.08 107.16 L126.46 108.72 L126.84 109.37 L127.22 108.56 L127.6 109.49 L127.98 108.68 L128.35 108.85 L128.73 109.11 L129.11 108.06 L129.49 108.77 L129.87 110.24 L130.25 108.51 L130.63 108.72 L131 109.67 L131.38 108.88 L131.76 108.01 L132.14 108.99 L132.52 108.41 L132.9 107.91 L133.28 109.25 L133.65 108.86 L134.03 108.66 L134.41 108.54 L134.79 108.67 L135.17 107.92 L135.55 107.35 L135.93 108.89 L136.3 107.34 L136.68 105.76 L137.06 106.49 L137.44 106.6 L137.82 107.33 L138.2 107.95 L138.57 107.7 L138.95 105.54 L139.33 107.21 L139.71 106.99 L140.09 107.16 L140.47 106.76 L140.85 106.32 L141.22 107.14 L141.6 107.49 L141.98 107.4 L142.36 107.2 L142.74 106.68 L143.12 106.93 L143.5 106.66 L143.87 107.12 L144.25 106.2 L144.63 105.64 L145.01 106.78 L145.39 107.61 L145.77 106.81 L146.15 108.53 L146.52 109.23 L146.9 108.05 L147.28 107.97 L147.66 108.56 L148.04 108.8 L148.42 107.58 L148.8 107.84 L149.17 107.82 L149.55 106.93 L149.93 107.88 L150.31 108.42 L150.69 108.4 L151.07 107.65 L151.45 106.35 L151.82 108 L152.2 108.56 L152.58 107.34 L152.96 107.18 L153.34 107.33 L153.72 107.06 L154.1 108.77 L154.47 108.82 L154.85 107.88 L155.23 107.98 L155.61 107.92 L155.99 108.03 L156.37 108.34 L156.75 108.5 L157.12 107.58 L157.5 107.86 L157.88 108.14 L158.26 107.84 L158.64 107.12 L159.02 107.68 L159.4 107.31 L159.77 106.84 L160.15 108.87 L160.53 107.57 L160.91 107.17 L161.29 108.06 L161.67 107.92 L162.05 108.82 L162.42 107.96 L162.8 107.41 L163.18 106.11 L163.56 108.36 L163.94 107.37 L164.32 108.9 L164.7 107.82 L165.07 108.49 L165.45 108.12 L165.83 108.49 L166.21 107.72 L166.59 108.31 L166.97 108.37 L167.35 107.33 L167.72 107.77 L168.1 107.48 L168.48 108.09 L168.86 108.03 L169.24 109.98 L169.62 108.33 L170 107.99 L170.37 109.07 L170.75 109.57 L171.13 108.63 L171.51 108.46 L171.89 108.72 L172.27 107.01 L172.65 106.72 L173.02 108.55 L173.4 107.76 L173.78 110.29 L174.16 108.02 L174.54 106.54 L174.92 108.17 L175.3 107.86 L175.67 108.62 L176.05 110.4 L176.43 108.09 L176.81 106.17 L177.19 108 L177.57 108.67 L177.94 107.87 L178.32 108.31 L178.7 107.8 L179.08 108.45 L179.46 108.33 L179.84 107.57 L180.22 109.18 L180.59 108.01 L180.97 107.61 L181.35 108.03 L181.73 108.74 L182.11 108.39 L182.49 109.24 L182.87 108.87 L183.24 109 L183.62 110.29 L184 108.44 L184.38 108.83 L184.76 107.54 L185.14 108.29 L185.52 108.37 L185.89 108.67 L186.27 108.31 L186.65 107.55 L187.03 108.3 L187.41 107.83 L187.79 108.26 L188.17 108.75 L188.54 109.61 L188.92 109.51 L189.3 109.13 L189.68 108.31 L190.06 109.24 L190.44 107.75 L190.82 108.69 L191.19 108.49 L191.57 107.37 L191.95 110 L192.33 108.44 L192.71 108.12 L193.09 109.55 L193.47 108.15 L193.84 110 L194.22 110.7 L194.6 109.75 L194.98 109.84 L195.36 109.9 L195.74 110.12 L196.12 109.12 L196.49 108.14 L196.87 109.91 L197.25 108.95 L197.63 110.44 L198.01 111.15 L198.39 110.03 L198.77 110.27 L199.14 111.39 L199.52 109.68 L199.9 109.41 L200.28 109.57 L200.66 109.56 L201.04 109.76 L201.42 108.11 L201.79 109.44 L202.17 110.31 L202.55 109.08 L202.93 109.32 L203.31 108.81 L203.69 110.32 L204.07 109.69 L204.44 110.29 L204.82 109.56 L205.2 110.81 L205.58 109.76 L205.96 109.67 L206.34 110.54 L206.72 109.17 L207.09 110.01 L207.47 108.93 L207.85 109.83 L208.23 110.24 L208.61 111.97 L208.99 109.98 L209.37 110.85 L209.74 109.77 L210.12 109.77 L210.5 110.04 L210.88 110.87 L211.26 110.5 L211.64 112.16 L212.02 110.07 L212.39 110.21 L212.77 110.21 L213.15 111.49 L213.53 110.43 L213.91 112.43 L214.29 110.3 L214.66 110.67 L215.04 110.18 L215.42 110.37 L215.8 110.43 L216.18 110.32 L216.56 110.53 L216.94 109.82 L217.31 110.95 L217.69 109.86 L218.07 110.95 L218.45 110.37 L218.83 112.36 L219.21 110.32 L219.59 110.82 L219.96 110.91 L220.34 111.47 L220.72 111.55 L221.1 110.97 L221.48 111.25 L221.86 111.64 L222.24 111.26 L222.61 111.52 L222.99 112.68 L223.37 111.45 L223.75 111.58 L224.13 110.83 L224.51 110.68 L224.89 111.2 L225.26 111.49 L225.64 112.53 L226.02 111.4 L226.4 111.64 L226.78 111.55 L227.16 112.7 L227.54 112.27 L227.91 108.88 L228.29 111.41 L228.67 111.55 L229.05 112.78 L229.43 110.72 L229.81 111.44 L230.19 111.25 L230.56 111.27 L230.94 111.6 L231.32 110.96 L231.7 111.73 L232.08 111.39 L232.46 109.74 L232.84 112.79 L233.21 110.11 L233.59 110.41 L233.97 111.72 L234.35 111.65" stroke="#000000" stroke-width="1.8" fill="none" stroke-linejoin="round"/></g><rect x="37.5" y="60.3" width="254" height="84.3" fill="none" stroke="#555" stroke-width="0.9"/><path d="M37.5 144.6 v-2.2 M37.5 60.3 v2.2" stroke="#666" stroke-width="0.7"/><text x="37.5" y="160" text-anchor="middle" style='font-family:"Liberation Sans",sans-serif;font-size:10.6px' fill="#333">0</text><path d="M101 144.6 v-2.2 M101 60.3 v2.2" stroke="#666" stroke-width="0.7"/><text x="101" y="160" text-anchor="middle" style='font-family:"Liberation Sans",sans-serif;font-size:10.6px' fill="#333">100</text><path d="M164.5 144.6 v-2.2 M164.5 60.3 v2.2" stroke="#666" stroke-width="0.7"/><text x="164.5" y="160" text-anchor="middle" style='font-family:"Liberation Sans",sans-serif;font-size:10.6px' fill="#333">200</text><path d="M228 144.6 v-2.2 M228 60.3 v2.2" stroke="#666" stroke-width="0.7"/><text x="228" y="160" text-anchor="middle" style='font-family:"Liberation Sans",sans-serif;font-size:10.6px' fill="#333">300</text><path d="M291.5 144.6 v-2.2 M291.5 60.3 v2.2" stroke="#666" stroke-width="0.7"/><text x="291.5" y="160" text-anchor="middle" style='font-family:"Liberation Sans",sans-serif;font-size:10.6px' fill="#333">400</text><path d="M37.5 144.6 h2.2 M291.5 144.6 h-2.2" stroke="#666" stroke-width="0.7"/><text x="32.9" y="149.1" text-anchor="end" style='font-family:"Liberation Sans",sans-serif;font-size:10.6px' fill="#333">-1</text><path d="M37.5 102.45 h2.2 M291.5 102.45 h-2.2" stroke="#666" stroke-width="0.7"/><text x="32.9" y="106.95" text-anchor="end" style='font-family:"Liberation Sans",sans-serif;font-size:10.6px' fill="#333">0</text><path d="M37.5 60.3 h2.2 M291.5 60.3 h-2.2" stroke="#666" stroke-width="0.7"/><text x="32.9" y="64.8" text-anchor="end" style='font-family:"Liberation Sans",sans-serif;font-size:10.6px' fill="#333">1</text><text transform="translate(18.8,102.45) rotate(-90)" text-anchor="middle" style='font-family:"Liberation Sans",sans-serif;font-size:12.4px' fill="#333">Position[nm]</text><text x="164.5" y="176" text-anchor="middle" style='font-family:"Liberation Sans",sans-serif;font-size:12.4px' fill="#333">time[s]</text><rect x="180.4" y="68.4" width="102.6" height="41" fill="#fff" stroke="#444" stroke-width="0.7"/><path d="M182.6 76.7 H200" stroke="#0000ff" stroke-width="0.9" stroke-opacity="0.6"/><text x="202.6" y="80.3" style='font-family:"Liberation Sans","Noto Serif CJK SC",serif;font-size:9.6px' fill="#444" textLength="26.4" lengthAdjust="spacingAndGlyphs">全频段</text><text x="229.2" y="80.6" style='font-family:"Liberation Sans",sans-serif;font-size:10.1px' fill="#2a2a2a">0.47963nm</text><path d="M182.6 89.95 H200" stroke="#ff0000" stroke-width="0.9" stroke-opacity="0.6"/><text x="202.6" y="93.55" style='font-family:"Liberation Sans","Noto Serif CJK SC",serif;font-size:9.6px' fill="#444" textLength="26.4" lengthAdjust="spacingAndGlyphs">高频段</text><text x="229.2" y="93.85" style='font-family:"Liberation Sans",sans-serif;font-size:10.1px' fill="#2a2a2a">0.46622nm</text><path d="M182.6 103.2 H200" stroke="#000" stroke-width="0.9" stroke-opacity="0.6"/><text x="202.6" y="106.8" style='font-family:"Liberation Sans","Noto Serif CJK SC",serif;font-size:9.6px' fill="#444" textLength="26.4" lengthAdjust="spacingAndGlyphs">低频段</text><text x="229.2" y="107.1" style='font-family:"Liberation Sans",sans-serif;font-size:10.1px' fill="#2a2a2a">0.11259nm</text></g><rect x="273" y="4" width="5" height="198" fill="url(#shl)"/><clipPath id="w31"><rect x="278" y="2" width="322" height="198"/></clipPath><g clip-path="url(#w31)"><rect x="278" y="2" width="322" height="198" fill="#f0f0f0"/><rect x="278" y="2" width="322" height="31.6" fill="#fff"/><path d="M278 33.8 H600" stroke="#e2e2e2" stroke-width="0.8"/><rect x="278" y="34.2" width="322" height="15.3" fill="#f2f2f2"/><path d="M278 49.8 H600" stroke="#dcdcdc" stroke-width="0.8"/><g transform="translate(282.3,6.3)"><rect x="0.4" y="0.4" width="8.8" height="9" fill="#f6f7fa" stroke="#a0aac0" stroke-width="0.8"/><rect x="0.4" y="0.4" width="8.8" height="1.3" fill="#7f98c8"/><path d="M1.2 7 L5.4 2.4 L8.2 8 L6.4 6.8 Z" fill="#e06a1c"/><path d="M1.2 7 L3.6 4.4 L4.8 6.8 L3 7.6 Z" fill="#2f6db5"/><path d="M5.4 2.4 L8.2 8 L6.2 4.8 Z" fill="#b83a10"/></g><text x="293.8" y="13.7" style='font-family:"Liberation Sans","Noto Sans CJK SC",sans-serif;font-size:8.5px' fill="#a6a6a6" stroke="#a6a6a6" stroke-width="0.25" textLength="27.6" lengthAdjust="spacingAndGlyphs">Figure 2</text><path d="M545.4 10.3 H550.6" stroke="#9a9a9a" stroke-width="0.8"/><rect x="572.4" y="7.6" width="5.6" height="5.6" fill="none" stroke="#9a9a9a" stroke-width="0.8"/><text x="281.8" y="28.7" style='font-family:"Liberation Sans","Noto Sans CJK SC",sans-serif;font-size:7.6px' fill="#1a1a1a" stroke="#1a1a1a" stroke-width="0.15" textLength="22.1" lengthAdjust="spacingAndGlyphs">文件(F)</text><text x="312" y="28.7" style='font-family:"Liberation Sans","Noto Sans CJK SC",sans-serif;font-size:7.6px' fill="#1a1a1a" stroke="#1a1a1a" stroke-width="0.15" textLength="22.6" lengthAdjust="spacingAndGlyphs">编辑(E)</text><text x="342.7" y="28.7" style='font-family:"Liberation Sans","Noto Sans CJK SC",sans-serif;font-size:7.6px' fill="#1a1a1a" stroke="#1a1a1a" stroke-width="0.15" textLength="22.9" lengthAdjust="spacingAndGlyphs">查看(V)</text><text x="373.7" y="28.7" style='font-family:"Liberation Sans","Noto Sans CJK SC",sans-serif;font-size:7.6px' fill="#1a1a1a" stroke="#1a1a1a" stroke-width="0.15" textLength="20.9" lengthAdjust="spacingAndGlyphs">插入(I)</text><text x="402.5" y="28.7" style='font-family:"Liberation Sans","Noto Sans CJK SC",sans-serif;font-size:7.6px' fill="#1a1a1a" stroke="#1a1a1a" stroke-width="0.15" textLength="22.6" lengthAdjust="spacingAndGlyphs">工具(T)</text><text x="432.8" y="28.7" style='font-family:"Liberation Sans","Noto Sans CJK SC",sans-serif;font-size:7.6px' fill="#1a1a1a" stroke="#1a1a1a" stroke-width="0.15" textLength="23.3" lengthAdjust="spacingAndGlyphs">桌面(D)</text><text x="464.2" y="28.7" style='font-family:"Liberation Sans","Noto Sans CJK SC",sans-serif;font-size:7.6px' fill="#1a1a1a" stroke="#1a1a1a" stroke-width="0.15" textLength="25" lengthAdjust="spacingAndGlyphs">窗口(W)</text><text x="497.2" y="28.7" style='font-family:"Liberation Sans","Noto Sans CJK SC",sans-serif;font-size:7.6px' fill="#1a1a1a" stroke="#1a1a1a" stroke-width="0.15" textLength="24.2" lengthAdjust="spacingAndGlyphs">帮助(H)</text><g transform="translate(280.1,36.7)"><path d="M1 0.5 H6 L8.3 2.8 V8.6 H1 Z" fill="#fdfdff" stroke="#7d8fb0" stroke-width="0.8"/><path d="M6 0.5 V2.8 H8.3" fill="#dfe6f2" stroke="#7d8fb0" stroke-width="0.6"/><rect x="0.2" y="0" width="2.6" height="2.6" fill="#f08040"/></g><g transform="translate(292.5,36.7)"><path d="M0.5 2 H3.5 L4.3 3 H8 V8.3 H0.5 Z" fill="#d9a92c"/><path d="M0.5 8.3 L2 4.3 H9 L7.8 8.3 Z" fill="#f6d56b" stroke="#c89a28" stroke-width="0.5"/><path d="M6 0.8 L8.2 0.8 L8.2 2.6" stroke="#6a8ac0" stroke-width="0.7" fill="none"/></g><g transform="translate(306.1,36.7)"><rect x="0.4" y="0.4" width="8.4" height="8.4" rx="0.6" fill="#3b4fb0"/><rect x="2" y="0.6" width="5" height="3.4" fill="#e8ecf8"/><rect x="2.6" y="5.6" width="3.8" height="3" fill="#1e2a70"/><rect x="4.4" y="6" width="1.2" height="1.8" fill="#dfe4f0"/></g><g transform="translate(319,36.7)"><rect x="2.4" y="0.4" width="4.4" height="3.6" fill="#f4f6fa" stroke="#9aa4b8" stroke-width="0.5"/><path d="M0.4 4.2 Q0.4 3 1.6 3 H7.4 Q8.6 3 8.6 4.2 V7.4 H0.4 Z" fill="#b4b6bc"/><rect x="1.8" y="6" width="5.4" height="2.7" fill="#e6e7ea" stroke="#8c8e94" stroke-width="0.4"/></g><g transform="translate(336.7,36.7)"><path d="M2.3 0.6 L2.3 7.6 L4 6 L5.4 8.8 L6.4 8.3 L5 5.6 L7.3 5.4 Z" fill="#fff" stroke="#333" stroke-width="0.7"/></g><g transform="translate(352.8,36.7)"><path d="M5.2 5.2 L8.6 8.6" stroke="#e09a40" stroke-width="2" stroke-linecap="round"/><circle cx="3.6" cy="3.6" r="3" fill="#dcecfb" stroke="#7a9ad0" stroke-width="0.9"/><path d="M2.2 3.6 H5 M3.6 2.2 V5" stroke="#4a78c0" stroke-width="0.8"/></g><g transform="translate(365.8,36.7)"><path d="M5.2 5.2 L8.6 8.6" stroke="#e09a40" stroke-width="2" stroke-linecap="round"/><circle cx="3.6" cy="3.6" r="3" fill="#dcecfb" stroke="#7a9ad0" stroke-width="0.9"/><path d="M2.2 3.6 H5" stroke="#4a78c0" stroke-width="0.8"/></g><g transform="translate(377.9,36.2)"><path d="M1.2 5.2 Q0.4 3.6 1.8 3.4 L2.8 4.4 V2 Q3.4 0.6 4.4 1.4 V0.9 Q5.2 0 6 0.9 V1.4 Q7 0.8 7.6 1.8 V3.2 Q8.8 2.8 9.2 3.8 L8.8 6.6 Q8.2 9.8 5.2 9.8 Q2.8 9.8 1.2 5.2 Z" fill="#f7d8bc" stroke="#7f93c6" stroke-width="0.7"/><path d="M3 2.2 V5 M4.5 1.2 V4.6 M6 1.2 V4.6 M7.5 2 V5" stroke="#9fb0d8" stroke-width="0.5"/></g><g transform="translate(391.3,36.2)"><path d="M1.6 3.2 A4 4 0 1 1 1.4 6.6" fill="none" stroke="#3a5490" stroke-width="1.8"/><circle cx="5.2" cy="5" r="2.2" fill="#b8c4dc"/><path d="M4.4 3.8 V6.2 M5.4 3.6 V6.4" stroke="#7f8fb8" stroke-width="0.5"/><path d="M0 4.6 L3 4.2 L2 6.6 Z" fill="#fff" stroke="#9aa" stroke-width="0.3"/></g><g transform="translate(403.9,36.2)"><rect x="4" y="0" width="6" height="5.8" fill="#e6e4a4" stroke="#a8a470" stroke-width="0.5"/><rect x="5" y="1" width="4" height="3.8" fill="#dddb9a"/><path d="M0.4 1.6 L9.4 9.4" stroke="#8080ff" stroke-width="1.2"/><path d="M5 5.6 L1.2 6.4 L2.6 7.4 L1 9.2" stroke="#111" stroke-width="1.4" fill="none"/></g><g transform="translate(417.8,36.2)"><path d="M9.4 0.4 L4.2 6" stroke="#8c94cc" stroke-width="1.9" stroke-linecap="round"/><path d="M0.6 9.6 Q0.4 6.6 3 5.6 L4.4 7 Q3.8 9.6 0.6 9.6 Z" fill="#3a3a3a"/><circle cx="7.6" cy="8.2" r="1.5" fill="#ee0000"/></g><path d="M431.6 40.6 h2.4 l-1.2 1.3 z" fill="#333"/><g transform="translate(440.6,36.7)"><rect x="0.4" y="0.6" width="7.8" height="6.4" rx="1" fill="#dde4f0" stroke="#4a5f95" stroke-width="0.9"/><rect x="1.8" y="3.2" width="3.2" height="2.2" fill="#7d8fb8"/><rect x="3" y="6.6" width="5.8" height="2.2" rx="0.6" fill="#8596bd" stroke="#4a5f95" stroke-width="0.5"/></g><rect x="469.2" y="34.2" width="13" height="14" fill="#cce4f7"/><g transform="translate(458.1,36.7)"><rect x="2.3" y="0.4" width="4.6" height="8.4" rx="0.6" fill="url(#cbg)" stroke="#4f5f8f" stroke-width="0.8"/></g><g transform="translate(471,36.7)"><rect x="0.4" y="0.4" width="8.4" height="8.4" fill="#f4f6fb" stroke="#5a6a9a" stroke-width="0.8"/><rect x="1.5" y="2" width="2.4" height="1.8" fill="#e83a3a"/><rect x="1.5" y="5.4" width="2.4" height="1.8" fill="#3a4ae8"/><path d="M4.6 2.9 H7.6 M4.6 6.3 H7.6" stroke="#6a7aa8" stroke-width="0.9"/></g><rect x="489.5" y="38.2" width="6" height="6" rx="0.8" fill="#909090" stroke="#777" stroke-width="0.4"/><g transform="translate(500.8,36.7)"><rect x="0.4" y="0.4" width="8.4" height="8.4" rx="0.6" fill="#4a64a0"/><rect x="1.8" y="2.2" width="5.6" height="4.4" fill="#f4f6fb"/></g><path d="M331.8 34.2 V48.2" stroke="#d6d6d6" stroke-width="0.8"/><path d="M348.1 34.2 V48.2" stroke="#d6d6d6" stroke-width="0.8"/><path d="M437.5 34.2 V48.2" stroke="#d6d6d6" stroke-width="0.8"/><path d="M454 34.2 V48.2" stroke="#d6d6d6" stroke-width="0.8"/><path d="M484.5 34.2 V48.2" stroke="#d6d6d6" stroke-width="0.8"/><path d="M278.5 200 V2.5" stroke="#b4b4b4" stroke-width="1" fill="none"/><clipPath id="a53"><rect x="322.9" y="61.3" width="260.6" height="100.9"/></clipPath><rect x="322.9" y="61.3" width="260.6" height="100.9" fill="#fff"/><g clip-path="url(#a53)"><path d="M322.5 105.02 L323.5 105.02 L324.5 105.02 L325.5 105.02 L326.5 105.02 L327.5 105.02 L328.5 105.02 L329.5 105.02 L330.5 105.02 L331.5 105.02 L332.5 105.02 L333.5 105.02 L334.5 105.02 L335.5 105.02 L336.5 105.02 L337.5 105.02 L338.5 105.02 L339.5 105.02 L340.5 105.02 L341.5 105.02 L342.5 105.02 L343.5 105.02 L344.5 105.02 L345.5 105.02 L346.5 105.02 L347.5 105.02 L348.5 105.02 L349.5 105.02 L350.5 105.02 L351.5 105.02 L352.5 105.02 L353.5 105.02 L354.5 105.02 L355.5 105.02 L356.5 105.02 L357.5 105.02 L358.5 105.02 L359.5 105.02 L360.5 105.02 L361.5 105.02 L362.5 105.02 L363.5 105.02 L364.5 105.02 L365.5 105.02 L366.5 105.02 L367.5 105.02 L368.5 105.02 L369.5 105.02 L370.5 105.02 L371.5 105.02 L372.5 105.02 L373.5 105.02 L374.5 105.02 L375.5 105.02 L376.5 105.02 L377.5 105.02 L378.5 105.02 L379.5 105.02 L380.5 105.02 L381.5 105.02 L382.5 105.02 L383.5 105.02 L384.5 105.02 L385.5 105.02 L386.5 105.02 L387.5 105.02 L388.5 105.02 L389.5 105.02 L390.5 105.02 L391.5 105.02 L392.5 105.02 L393.5 105.02 L394.5 105.02 L395.5 105.02 L396.5 105.02 L397.5 105.02 L398.5 105.02 L399.5 105.02 L400.5 105.02 L401.5 105.02 L402.5 105.02 L403.5 105.02 L404.5 105.02 L405.5 105.02 L406.5 105.02 L407.5 105.02 L408.5 105.02 L409.5 105.02 L410.5 105.02 L411.5 105.02 L412.5 105.02 L413.5 105.02 L414.5 105.02 L415.5 105.02 L416.5 105.02 L417.5 105.02 L418.5 105.02 L419.5 105.02 L420.5 105.02 L421.5 105.02 L422.5 105.02 L423.5 105.02 L424.5 105.02 L425.5 105.02 L426.5 105.02 L427.5 105.02 L428.5 105.02 L429.5 105.02 L430.5 105.02 L431.5 105.02 L432.5 105.02 L433.5 105.02 L434.5 105.02 L435.5 105.02 L436.5 105.02 L437.5 105.02 L438.5 105.02 L439.5 105.02 L440.5 105.02 L441.5 105.02 L442.5 105.02 L443.5 105.02 L444.5 105.02 L445.5 105.02 L446.5 105.02 L447.5 105.02 L448.5 105.02 L449.5 105.02 L450.5 105.02 L451.5 105.02 L452.5 105.02 L453.5 105.02 L454.5 105.02 L455.5 105.02 L456.5 105.02 L457.5 105.02 L458.5 105.02 L459.5 105.02 L460.5 105.02 L461.5 105.02 L462.5 105.02 L463.5 105.02 L464.5 105.02 L465.5 105.02 L466.5 105.02 L467.5 105.02 L468.5 105.02 L469.5 105.02 L470.5 105.02 L471.5 105.02 L472.5 105.02 L473.5 105.02 L474.5 105.02 L475.5 105.02 L476.5 105.02 L477.5 105.02 L478.5 105.02 L479.5 105.02 L480.5 105.02 L481.5 105.02 L482.5 105.02 L483.5 105.02 L484.5 105.02 L485.5 105.02 L486.5 105.02 L487.5 105.02 L488.5 105.02 L489.5 105.02 L490.5 105.02 L491.5 105.02 L492.5 105.02 L493.5 105.02 L494.5 105.02 L495.5 105.02 L496.5 105.02 L497.5 105.02 L498.5 105.02 L499.5 105.02 L500.5 105.02 L501.5 105.02 L502.5 105.02 L503.5 105.02 L504.5 105.02 L505.5 105.02 L506.5 105.02 L507.5 105.02 L508.5 105.02 L509.5 105.02 L510.5 105.02 L511.5 105.02 L512.5 105.02 L513.5 105.02 L514.5 105.02 L515.5 105.02 L516.5 105.02 L517.5 105.02 L518.5 105.02 L519.5 105.02 L520.5 105.02 L521.5 105.02 L522.5 105.02 L523.5 105.02 L524.5 105.02 L525.5 105.02 L526.5 105.02 L527.5 105.02 L528.5 105.02 L529.5 105.02 L530.5 105.02 L531.5 105.02 L532.5 105.02 L533.5 105.02 L534.5 105.02 L535.5 105.02 L536.5 105.02 L537.5 105.02 L538.5 105.02 L539.5 105.02 L540.5 105.02 L541.5 105.02 L542.5 105.02 L543.5 105.02 L544.5 105.02 L545.5 105.02 L546.5 105.02 L547.5 105.02 L548.5 105.02 L549.5 105.02 L550.5 105.02 L551.5 105.02 L552.5 105.02 L553.5 105.02 L553.5 113.93 L552.5 113.85 L551.5 114.16 L550.5 114.68 L549.5 114.39 L548.5 114.34 L547.5 114.21 L546.5 114.52 L545.5 115.04 L544.5 115.29 L543.5 114.97 L542.5 115.27 L541.5 114.66 L540.5 113.5 L539.5 113.94 L538.5 114.31 L537.5 114.26 L536.5 113.43 L535.5 113.92 L534.5 114.44 L533.5 115.57 L532.5 114.47 L531.5 115.39 L530.5 114.84 L529.5 113.79 L528.5 114.12 L527.5 116.43 L526.5 114.87 L525.5 114.4 L524.5 113.92 L523.5 113.02 L522.5 114.78 L521.5 114.19 L520.5 114.05 L519.5 116.08 L518.5 115.09 L517.5 113.62 L516.5 115.69 L515.5 114.82 L514.5 115.98 L513.5 114.63 L512.5 115.4 L511.5 114.53 L510.5 114.05 L509.5 113.82 L508.5 115 L507.5 113.57 L506.5 114.81 L505.5 113.67 L504.5 113.45 L503.5 115.24 L502.5 114.21 L501.5 115.84 L500.5 114.22 L499.5 113.42 L498.5 114.99 L497.5 115.43 L496.5 113.3 L495.5 114.38 L494.5 113.96 L493.5 113.75 L492.5 114.44 L491.5 114.98 L490.5 114.43 L489.5 116.29 L488.5 113.32 L487.5 114.91 L486.5 113.4 L485.5 114.56 L484.5 113.47 L483.5 114.03 L482.5 113.84 L481.5 113.96 L480.5 114.79 L479.5 113.87 L478.5 114.45 L477.5 114.06 L476.5 115.42 L475.5 112.99 L474.5 113.75 L473.5 113.86 L472.5 115.69 L471.5 115.63 L470.5 114.99 L469.5 114.6 L468.5 114.48 L467.5 115.11 L466.5 113.35 L465.5 115.63 L464.5 114.57 L463.5 115.65 L462.5 115.33 L461.5 113.93 L460.5 115.21 L459.5 114.53 L458.5 115.18 L457.5 115.29 L456.5 114.76 L455.5 114.29 L454.5 114.15 L453.5 114.52 L452.5 114.43 L451.5 115.6 L450.5 115.9 L449.5 114.82 L448.5 114.41 L447.5 114.02 L446.5 114.83 L445.5 114.69 L444.5 114.26 L443.5 115.74 L442.5 114.6 L441.5 114.2 L440.5 114.62 L439.5 114.57 L438.5 113.6 L437.5 114.3 L436.5 114.73 L435.5 114.81 L434.5 114.71 L433.5 114.35 L432.5 114.77 L431.5 115.52 L430.5 113.85 L429.5 114.59 L428.5 114.45 L427.5 114.39 L426.5 114.51 L425.5 114.6 L424.5 114.98 L423.5 114.34 L422.5 114.24 L421.5 115.12 L420.5 115.44 L419.5 114.46 L418.5 115.38 L417.5 114.87 L416.5 115.61 L415.5 114.42 L414.5 113.13 L413.5 115.4 L412.5 113.29 L411.5 113.71 L410.5 113.51 L409.5 113.75 L408.5 114.02 L407.5 113.31 L406.5 113.97 L405.5 114.62 L404.5 113.4 L403.5 114.76 L402.5 114.43 L401.5 114.33 L400.5 114.37 L399.5 114.7 L398.5 113.98 L397.5 114.85 L396.5 113.57 L395.5 113.45 L394.5 114.25 L393.5 112.89 L392.5 114.35 L391.5 114.39 L390.5 114.23 L389.5 114.62 L388.5 113.24 L387.5 114.37 L386.5 114.15 L385.5 115.27 L384.5 115.18 L383.5 115.66 L382.5 114.14 L381.5 113.78 L380.5 114.35 L379.5 112.47 L378.5 114.3 L377.5 114.58 L376.5 114.64 L375.5 113.3 L374.5 113.51 L373.5 115.15 L372.5 114.71 L371.5 113.47 L370.5 114.38 L369.5 115.38 L368.5 114.94 L367.5 114.32 L366.5 115.11 L365.5 114.66 L364.5 114.48 L363.5 114.35 L362.5 114.67 L361.5 115.24 L360.5 115.13 L359.5 114.2 L358.5 115.3 L357.5 114.12 L356.5 114.13 L355.5 113.89 L354.5 113.73 L353.5 114.81 L352.5 113.89 L351.5 113.96 L350.5 114.3 L349.5 114.35 L348.5 115.4 L347.5 115.43 L346.5 115.43 L345.5 114.18 L344.5 113.9 L343.5 114.97 L342.5 113.8 L341.5 114.4 L340.5 114.64 L339.5 115.47 L338.5 113.87 L337.5 114.38 L336.5 114.51 L335.5 113.57 L334.5 114.24 L333.5 114.36 L332.5 114.37 L331.5 115.64 L330.5 113.95 L329.5 115.1 L328.5 114.51 L327.5 114.53 L326.5 113.73 L325.5 116.01 L324.5 114.84 L323.5 114.24 L322.5 112.98Z" fill="#0000ff"/><path d="M324.5 111.75V119.43M325.5 111.75V119.9M326.5 111.75V120.35M327.5 111.75V118.93M329.5 111.75V118.92M331.5 111.75V119.74M333.5 111.75V118.74M335.5 111.75V120.44M336.5 111.75V118.95M337.5 111.75V118.13M339.5 111.75V119.71M340.5 111.75V119.85M341.5 111.75V118.83M343.5 111.75V119.56M344.5 111.75V119.38M346.5 111.75V119.44M348.5 111.75V119.55M350.5 111.75V119.85M351.5 111.75V119.81M352.5 111.75V119.53M354.5 111.75V120.32M355.5 111.75V118.71M356.5 111.75V119.36M357.5 111.75V118.84M359.5 111.75V119.34M362.5 111.75V119.64M363.5 111.75V119.79M364.5 111.75V119.36M366.5 111.75V118.92M367.5 111.75V118.97M368.5 111.75V119.8M369.5 111.75V119.36M370.5 111.75V121.04M371.5 111.75V119.18M372.5 111.75V119.29M373.5 111.75V118.39M377.5 111.75V118.72M378.5 111.75V119.77M379.5 111.75V119.18M380.5 111.75V119.83M381.5 111.75V118.82M383.5 111.75V119.83M384.5 111.75V119.67M386.5 111.75V119.07M387.5 111.75V118.72M388.5 111.75V119.56M389.5 111.75V119.95M390.5 111.75V120.15M391.5 111.75V119.54M392.5 111.75V120.32M393.5 111.75V120.26M394.5 111.75V120.08M399.5 111.75V119.14M400.5 111.75V119.73M401.5 111.75V119.26M402.5 111.75V119.65M403.5 111.75V119.83M404.5 111.75V119.35M406.5 111.75V118.85M408.5 111.75V119.74M410.5 111.75V120.28M412.5 111.75V119.37M415.5 111.75V119.26M417.5 111.75V119.88M418.5 111.75V118.91M419.5 111.75V119.63M420.5 111.75V119.56M421.5 111.75V119.61M422.5 111.75V119.48M424.5 111.75V119.5M425.5 111.75V120.47M426.5 111.75V119.89M427.5 111.75V118.24M428.5 111.75V118.31M429.5 111.75V120.36M431.5 111.75V119.61M432.5 111.75V119.04M433.5 111.75V118.71M434.5 111.75V118.73M437.5 111.75V120.12M439.5 111.75V118.07M440.5 111.75V119.01M441.5 111.75V119.62M444.5 111.75V118.95M445.5 111.75V118.78M447.5 111.75V120.48M448.5 111.75V119.45M449.5 111.75V118.5M453.5 111.75V118.21M454.5 111.75V118.83M455.5 111.75V119.67M456.5 111.75V119.97M457.5 111.75V120.49M458.5 111.75V119.64M461.5 111.75V120.05M462.5 111.75V120.55M463.5 111.75V119.95M464.5 111.75V120.44M465.5 111.75V118.34M466.5 111.75V119.79M467.5 111.75V119.04M468.5 111.75V119.61M471.5 111.75V119.54M472.5 111.75V120.12M473.5 111.75V119.15M474.5 111.75V119.14M475.5 111.75V119.13M476.5 111.75V119.4M477.5 111.75V118.7M479.5 111.75V119.07M480.5 111.75V119.69M481.5 111.75V120.18M482.5 111.75V118.48M483.5 111.75V119.37M484.5 111.75V118.37M485.5 111.75V119.75M486.5 111.75V120.18M488.5 111.75V120.27M489.5 111.75V119.65M490.5 111.75V118.99M491.5 111.75V118.68M492.5 111.75V120.6M493.5 111.75V118.66M494.5 111.75V119.41M495.5 111.75V119.43M496.5 111.75V119.46M497.5 111.75V119M498.5 111.75V119.47M499.5 111.75V119.35M500.5 111.75V119.5M503.5 111.75V119.9M504.5 111.75V118.78M505.5 111.75V120M506.5 111.75V119.42M507.5 111.75V119.33M508.5 111.75V119.23M509.5 111.75V119.58M510.5 111.75V118.3M511.5 111.75V119.92M513.5 111.75V119.46M514.5 111.75V118.9M515.5 111.75V118.64M516.5 111.75V119.33M517.5 111.75V118.29M518.5 111.75V119.86M519.5 111.75V119.71M520.5 111.75V119.36M521.5 111.75V119.96M522.5 111.75V119.82M523.5 111.75V119.63M524.5 111.75V118.74M525.5 111.75V118.89M526.5 111.75V120.22M527.5 111.75V119.1M528.5 111.75V119.56M529.5 111.75V119.95M530.5 111.75V119.82M532.5 111.75V120.35M533.5 111.75V119.76M534.5 111.75V119.93M535.5 111.75V119.32M536.5 111.75V120.73M538.5 111.75V119.7M539.5 111.75V118.94M540.5 111.75V119.71M541.5 111.75V119.67M542.5 111.75V118.58M544.5 111.75V118.22M545.5 111.75V118.9M546.5 111.75V118.94M547.5 111.75V119.66M548.5 111.75V120.29M549.5 111.75V118.88M550.5 111.75V119.2M551.5 111.75V119.72M552.5 111.75V119.9M553.5 111.75V119.76" stroke="#0000ff" stroke-width="0.9" stroke-opacity="0.85" fill="none"/><path d="M331.5 111.75V126.77M338.5 111.75V124.52M344.5 111.75V126.84M394.5 111.75V124.38M436.5 111.75V126.36M449.5 111.75V124.25M451.5 111.75V125.46M482.5 111.75V125.74M521.5 111.75V125.3M540.5 111.75V125.68" stroke="#0000ff" stroke-width="0.7" stroke-opacity="0.6" fill="none"/><path d="M322.5 81.21 L323.5 81.18 L324.5 80.46 L325.5 81.15 L326.5 81.04 L327.5 80.78 L328.5 79.22 L329.5 80.59 L330.5 81.46 L331.5 80.93 L332.5 80.85 L333.5 81.11 L334.5 80.91 L335.5 81 L336.5 81.01 L337.5 78.96 L338.5 79.06 L339.5 80.82 L340.5 81.01 L341.5 81.29 L342.5 80.69 L343.5 80.71 L344.5 80.64 L345.5 81.11 L346.5 80.32 L347.5 81.38 L348.5 80.53 L349.5 80.61 L350.5 80.58 L351.5 80.71 L352.5 80.08 L353.5 81.25 L354.5 80.89 L355.5 80.42 L356.5 80.2 L357.5 80.18 L358.5 80.5 L359.5 81.27 L360.5 80.03 L361.5 80.6 L362.5 80.31 L363.5 80.08 L364.5 80.75 L365.5 80.18 L366.5 80.58 L367.5 80.43 L368.5 81.3 L369.5 80.79 L370.5 80.03 L371.5 80.69 L372.5 80.55 L373.5 80.65 L374.5 80.83 L375.5 79.78 L376.5 81.04 L377.5 80.74 L378.5 81.31 L379.5 79.41 L380.5 79.32 L381.5 79.54 L382.5 80.88 L383.5 81.46 L384.5 81.14 L385.5 80.3 L386.5 79.21 L387.5 81.15 L388.5 81.33 L389.5 81.11 L390.5 81.02 L391.5 80.9 L392.5 80.23 L393.5 79.68 L394.5 80.56 L395.5 81.46 L396.5 78.24 L397.5 81.31 L398.5 81.23 L399.5 80.5 L400.5 80.32 L401.5 81.37 L402.5 79.82 L403.5 80.5 L404.5 80.47 L405.5 80.95 L406.5 79.61 L407.5 80.37 L408.5 81.09 L409.5 80.33 L410.5 79.66 L411.5 81.21 L412.5 79.68 L413.5 80.19 L414.5 80.01 L415.5 79.33 L416.5 79.25 L417.5 80.82 L418.5 80.91 L419.5 80.01 L420.5 81.04 L421.5 79.94 L422.5 80.77 L423.5 81.37 L424.5 80.4 L425.5 80.67 L426.5 81.11 L427.5 79.94 L428.5 80.47 L429.5 79.51 L430.5 80.57 L431.5 81.09 L432.5 81.4 L433.5 81.4 L434.5 80.73 L435.5 81.37 L436.5 81.3 L437.5 80.52 L438.5 81.36 L439.5 81.02 L440.5 79.92 L441.5 78.16 L442.5 80.3 L443.5 80.87 L444.5 79.54 L445.5 79.47 L446.5 80.98 L447.5 81.48 L448.5 81.34 L449.5 80.22 L450.5 81.45 L451.5 80.84 L452.5 81.47 L453.5 80.35 L454.5 79.8 L455.5 81.27 L456.5 80.37 L457.5 81.16 L458.5 80.18 L459.5 81.26 L460.5 81.28 L461.5 81.01 L462.5 81.17 L463.5 80.45 L464.5 81.31 L465.5 80.87 L466.5 80.32 L467.5 79.78 L468.5 80.63 L469.5 80.81 L470.5 79.66 L471.5 80.96 L472.5 81.46 L473.5 79.65 L474.5 79.26 L475.5 80.66 L476.5 80.51 L477.5 81.21 L478.5 80.32 L479.5 81.37 L480.5 79.87 L481.5 80.97 L482.5 80.75 L483.5 78.72 L484.5 80.63 L485.5 80.51 L486.5 80.64 L487.5 80.81 L488.5 80.89 L489.5 80.59 L490.5 80.03 L491.5 79.88 L492.5 80.64 L493.5 80.5 L494.5 80.6 L495.5 80.65 L496.5 81.38 L497.5 81.35 L498.5 80.83 L499.5 80.97 L500.5 80.7 L501.5 80.55 L502.5 79.96 L503.5 81.47 L504.5 80.47 L505.5 80.62 L506.5 81.36 L507.5 79.6 L508.5 79.89 L509.5 80.8 L510.5 80.66 L511.5 79.6 L512.5 81.25 L513.5 80.59 L514.5 80.47 L515.5 81.36 L516.5 80.1 L517.5 80.2 L518.5 81.41 L519.5 80.5 L520.5 78.39 L521.5 80.07 L522.5 81.14 L523.5 81.29 L524.5 80.11 L525.5 81.46 L526.5 81.17 L527.5 79.94 L528.5 80.84 L529.5 80.33 L530.5 80.4 L531.5 81.13 L532.5 80.82 L533.5 81.45 L534.5 81.14 L535.5 80.52 L536.5 80.79 L537.5 81.41 L538.5 80.56 L539.5 80.34 L540.5 80.26 L541.5 81.32 L542.5 80.69 L543.5 80.24 L544.5 80.71 L545.5 79.12 L546.5 81.46 L547.5 81.18 L548.5 80.15 L549.5 80.93 L550.5 80.99 L551.5 80.64 L552.5 80.7 L553.5 80.36 L553.5 109.23 L552.5 109.24 L551.5 108.2 L550.5 108.31 L549.5 108.9 L548.5 108.89 L547.5 108.63 L546.5 108.23 L545.5 108.45 L544.5 108.82 L543.5 108.5 L542.5 108.4 L541.5 108.68 L540.5 108.4 L539.5 109.73 L538.5 108.76 L537.5 108.64 L536.5 108.68 L535.5 108.72 L534.5 108.8 L533.5 108.4 L532.5 108.08 L531.5 108.71 L530.5 108.63 L529.5 109.06 L528.5 109.01 L527.5 108.53 L526.5 108.61 L525.5 109.73 L524.5 109.31 L523.5 108.54 L522.5 108.11 L521.5 108.98 L520.5 109.17 L519.5 108.62 L518.5 109.12 L517.5 110.54 L516.5 108.41 L515.5 108.27 L514.5 108.14 L513.5 110.12 L512.5 109.45 L511.5 109.77 L510.5 108.11 L509.5 109.05 L508.5 109.15 L507.5 108.11 L506.5 108.22 L505.5 108.37 L504.5 108.11 L503.5 108.13 L502.5 110.16 L501.5 109.33 L500.5 108.07 L499.5 108.27 L498.5 108.11 L497.5 110.76 L496.5 110.58 L495.5 109.11 L494.5 109.19 L493.5 108.99 L492.5 109.93 L491.5 108.54 L490.5 108.99 L489.5 108.63 L488.5 108.17 L487.5 108.31 L486.5 108.26 L485.5 109.08 L484.5 108.76 L483.5 108.68 L482.5 108.37 L481.5 108.62 L480.5 109.01 L479.5 108.27 L478.5 108.53 L477.5 108.39 L476.5 109.35 L475.5 108.59 L474.5 108.48 L473.5 108.78 L472.5 109.49 L471.5 109.34 L470.5 108.91 L469.5 108.96 L468.5 108.36 L467.5 108.82 L466.5 108.42 L465.5 108.8 L464.5 108.54 L463.5 108.57 L462.5 109.14 L461.5 108.52 L460.5 108.55 L459.5 110 L458.5 109.65 L457.5 108.3 L456.5 108.22 L455.5 109.07 L454.5 108.29 L453.5 109.9 L452.5 108.79 L451.5 108.58 L450.5 108.14 L449.5 108.35 L448.5 108.61 L447.5 108.14 L446.5 109.49 L445.5 108.6 L444.5 109.64 L443.5 108.63 L442.5 109.29 L441.5 109.7 L440.5 108.72 L439.5 108.74 L438.5 108.73 L437.5 109.5 L436.5 108.82 L435.5 108.84 L434.5 108.54 L433.5 108.51 L432.5 108.23 L431.5 108.6 L430.5 109.03 L429.5 109.43 L428.5 108.77 L427.5 108.25 L426.5 108.11 L425.5 109.72 L424.5 109.43 L423.5 109.6 L422.5 108.14 L421.5 109.87 L420.5 109.07 L419.5 108.61 L418.5 108.63 L417.5 108.69 L416.5 109.44 L415.5 108.74 L414.5 108.82 L413.5 108.11 L412.5 109.23 L411.5 108.1 L410.5 109.08 L409.5 108.54 L408.5 108.71 L407.5 108.75 L406.5 108.92 L405.5 108.98 L404.5 108.56 L403.5 108.71 L402.5 108.29 L401.5 108.5 L400.5 109.38 L399.5 108.57 L398.5 108.65 L397.5 108.57 L396.5 108.78 L395.5 108.45 L394.5 110.2 L393.5 110.41 L392.5 109.31 L391.5 108.44 L390.5 109.42 L389.5 108.2 L388.5 108.13 L387.5 109.63 L386.5 109.26 L385.5 108.34 L384.5 110.05 L383.5 108.32 L382.5 109.28 L381.5 108.77 L380.5 109.36 L379.5 109.65 L378.5 108.33 L377.5 108.63 L376.5 108.72 L375.5 108.14 L374.5 109.36 L373.5 109.68 L372.5 108.25 L371.5 109.74 L370.5 108.78 L369.5 108.81 L368.5 108.95 L367.5 108.18 L366.5 108.67 L365.5 109.06 L364.5 109.67 L363.5 108.2 L362.5 108.2 L361.5 109.14 L360.5 108.51 L359.5 108.36 L358.5 110.1 L357.5 108.86 L356.5 109.48 L355.5 108.81 L354.5 110.5 L353.5 108.55 L352.5 108.4 L351.5 108.54 L350.5 109.18 L349.5 109.37 L348.5 108.1 L347.5 109.7 L346.5 108.99 L345.5 108.48 L344.5 108.59 L343.5 110.56 L342.5 108.39 L341.5 108.36 L340.5 108.17 L339.5 108.26 L338.5 109.05 L337.5 109.1 L336.5 109.15 L335.5 108.39 L334.5 108.65 L333.5 108.63 L332.5 108.93 L331.5 108.72 L330.5 109.53 L329.5 110.73 L328.5 108.92 L327.5 109.5 L326.5 108.25 L325.5 108.43 L324.5 108.2 L323.5 109.96 L322.5 109.4Z" fill="#ff0000"/><path d="M322.5 78.31V84.84M323.5 79.26V84.84M324.5 75.19V84.84M325.5 78.07V84.84M326.5 76.95V84.84M327.5 79.28V84.84M328.5 79.33V84.84M329.5 79.09V84.84M330.5 78.37V84.84M332.5 79.05V84.84M333.5 75.47V84.84M334.5 78.38V84.84M335.5 76.82V84.84M336.5 71.54V84.84M338.5 77.27V84.84M339.5 77.7V84.84M340.5 79.33V84.84M341.5 78.66V84.84M344.5 77.38V84.84M345.5 78.07V84.84M346.5 79.32V84.84M347.5 72.97V84.84M348.5 75.99V84.84M349.5 79.05V84.84M350.5 78.21V84.84M351.5 75.72V84.84M352.5 77.31V84.84M353.5 76.62V84.84M354.5 76.31V84.84M356.5 78.28V84.84M357.5 79.44V84.84M359.5 76.41V84.84M360.5 74.94V84.84M361.5 76.53V84.84M362.5 76.72V84.84M363.5 76.14V84.84M365.5 75.1V84.84M369.5 75.67V84.84M371.5 78.72V84.84M372.5 76.39V84.84M373.5 79.1V84.84M374.5 75.89V84.84M375.5 79.23V84.84M376.5 76.28V84.84M377.5 79.4V84.84M378.5 78.15V84.84M379.5 76.42V84.84M381.5 78.83V84.84M382.5 76.28V84.84M384.5 77.88V84.84M385.5 77.89V84.84M386.5 78.17V84.84M387.5 76.66V84.84M388.5 77.04V84.84M389.5 78.71V84.84M390.5 79.33V84.84M391.5 75.09V84.84M392.5 78.62V84.84M393.5 75.63V84.84M394.5 78.72V84.84M395.5 77.45V84.84M396.5 72.72V84.84M397.5 78.07V84.84M398.5 74.71V84.84M399.5 78.45V84.84M400.5 75.74V84.84M401.5 76.44V84.84M402.5 78.01V84.84M403.5 77.9V84.84M404.5 75.32V84.84M406.5 76.27V84.84M407.5 76.61V84.84M408.5 72.77V84.84M409.5 78.29V84.84M411.5 73.5V84.84M414.5 77.82V84.84M415.5 75.13V84.84M416.5 77.09V84.84M417.5 77.8V84.84M418.5 79.44V84.84M419.5 78.92V84.84M420.5 76.87V84.84M422.5 79.28V84.84M423.5 78.23V84.84M424.5 78.24V84.84M425.5 77.74V84.84M426.5 78.02V84.84M429.5 76.45V84.84M430.5 77.65V84.84M431.5 77.7V84.84M432.5 76.02V84.84M433.5 78.12V84.84M434.5 78.17V84.84M435.5 75.67V84.84M436.5 75.07V84.84M438.5 78.21V84.84M439.5 77.89V84.84M440.5 74.8V84.84M442.5 78.33V84.84M444.5 78.57V84.84M445.5 79.39V84.84M446.5 76.16V84.84M448.5 76.16V84.84M449.5 79.07V84.84M450.5 78.26V84.84M452.5 78.29V84.84M453.5 79.41V84.84M454.5 78.27V84.84M455.5 79.45V84.84M456.5 76.54V84.84M457.5 78.15V84.84M458.5 71.88V84.84M459.5 78.69V84.84M460.5 76.87V84.84M462.5 79.36V84.84M464.5 77.56V84.84M465.5 76.27V84.84M466.5 73.68V84.84M467.5 76.07V84.84M468.5 77.62V84.84M469.5 76.7V84.84M470.5 78.09V84.84M471.5 77.44V84.84M473.5 78.16V84.84M474.5 78.54V84.84M475.5 76.87V84.84M476.5 78.55V84.84M478.5 78.18V84.84M479.5 77.19V84.84M480.5 78.17V84.84M481.5 72.74V84.84M482.5 76.42V84.84M483.5 79.41V84.84M484.5 76.93V84.84M485.5 76.19V84.84M486.5 77.03V84.84M487.5 76.66V84.84M488.5 78.13V84.84M489.5 76.33V84.84M490.5 78.39V84.84M491.5 78.49V84.84M492.5 75.89V84.84M494.5 78.4V84.84M495.5 74.72V84.84M496.5 77.67V84.84M498.5 72.71V84.84M500.5 77.2V84.84M501.5 78.93V84.84M504.5 79.01V84.84M505.5 78.51V84.84M507.5 78.08V84.84M508.5 77.23V84.84M510.5 77.62V84.84M511.5 78.29V84.84M513.5 78.08V84.84M514.5 78.95V84.84M515.5 78.61V84.84M516.5 78.31V84.84M517.5 78.37V84.84M518.5 74.34V84.84M521.5 76.65V84.84M523.5 75.07V84.84M524.5 77.27V84.84M525.5 74.32V84.84M526.5 76.13V84.84M527.5 78.49V84.84M528.5 78.32V84.84M529.5 78.79V84.84M530.5 76.57V84.84M532.5 79.3V84.84M533.5 74.39V84.84M534.5 77.94V84.84M535.5 78.3V84.84M537.5 76.29V84.84M538.5 79.27V84.84M540.5 77.66V84.84M541.5 77.68V84.84M542.5 79.02V84.84M543.5 75.55V84.84M544.5 76.05V84.84M545.5 74.5V84.84M546.5 79.05V84.84M547.5 77.72V84.84M548.5 79V84.84M549.5 78.36V84.84M550.5 76.86V84.84M551.5 79.17V84.84M552.5 79.31V84.84" stroke="#ff0000" stroke-width="0.9" stroke-opacity="0.8" fill="none"/><path d="M322.5 105.02V112.45M327.5 105.02V112.61M332.5 105.02V113.52M335.5 105.02V113.54M337.5 105.02V113.24M338.5 105.02V113.31M339.5 105.02V113.41M340.5 105.02V113.19M343.5 105.02V112.83M346.5 105.02V113.23M347.5 105.02V112.8M351.5 105.02V112.65M353.5 105.02V113.55M356.5 105.02V112.91M359.5 105.02V112.48M362.5 105.02V113.86M363.5 105.02V114.73M364.5 105.02V113.31M365.5 105.02V112.94M367.5 105.02V112.89M368.5 105.02V113.85M371.5 105.02V112.45M372.5 105.02V112.59M373.5 105.02V113.19M375.5 105.02V114.64M376.5 105.02V112.48M378.5 105.02V113.81M379.5 105.02V115.36M381.5 105.02V113.86M382.5 105.02V112.72M384.5 105.02V114.94M385.5 105.02V113.49M390.5 105.02V113.29M393.5 105.02V114.31M395.5 105.02V114.46M400.5 105.02V113.08M402.5 105.02V114.44M406.5 105.02V113.54M408.5 105.02V112.85M409.5 105.02V112.95M411.5 105.02V113.39M414.5 105.02V112.48M416.5 105.02V112.92M418.5 105.02V113M420.5 105.02V113.64M421.5 105.02V113.55M423.5 105.02V112.58M424.5 105.02V112.91M425.5 105.02V115.93M428.5 105.02V112.46M429.5 105.02V113.51M430.5 105.02V115.02M431.5 105.02V113.29M432.5 105.02V112.51M433.5 105.02V113.5M435.5 105.02V115.08M436.5 105.02V113.5M438.5 105.02V113.85M440.5 105.02V112.73M443.5 105.02V113M444.5 105.02V112.72M446.5 105.02V112.92M448.5 105.02V112.92M449.5 105.02V112.52M450.5 105.02V112.97M451.5 105.02V113.15M453.5 105.02V112.5M454.5 105.02V112.57M455.5 105.02V114.99M457.5 105.02V113.72M460.5 105.02V112.89M461.5 105.02V113.04M463.5 105.02V114.1M465.5 105.02V113.43M467.5 105.02V112.84M468.5 105.02V112.78M471.5 105.02V112.87M472.5 105.02V114.01M474.5 105.02V112.51M475.5 105.02V113.26M480.5 105.02V113.1M483.5 105.02V114.37M486.5 105.02V112.45M488.5 105.02V112.53M489.5 105.02V114.28M492.5 105.02V112.76M496.5 105.02V112.96M497.5 105.02V113.72M498.5 105.02V112.75M499.5 105.02V113.16M501.5 105.02V114.51M504.5 105.02V115.73M509.5 105.02V113.51M515.5 105.02V112.78M516.5 105.02V113.91M517.5 105.02V113.21M520.5 105.02V114.89M521.5 105.02V113.27M522.5 105.02V112.81M523.5 105.02V113.63M524.5 105.02V114.19M526.5 105.02V113.09M527.5 105.02V113.35M528.5 105.02V113.86M529.5 105.02V112.53M530.5 105.02V113.26M531.5 105.02V113.42M533.5 105.02V112.43M534.5 105.02V112.72M538.5 105.02V113.24M539.5 105.02V115.89M542.5 105.02V112.58M548.5 105.02V112.65M550.5 105.02V113.13" stroke="#ff0000" stroke-width="0.7" stroke-opacity="0.7" fill="none"/><path d="M322.9 101.04 L323.34 102.61 L323.79 101.23 L324.23 101.82 L324.68 101.72 L325.12 102.07 L325.56 101.66 L326.01 101.3 L326.45 102.12 L326.89 101.63 L327.34 102.86 L327.78 102.51 L328.23 103.66 L328.67 102.37 L329.11 103.1 L329.56 101.82 L330 101.31 L330.45 102.32 L330.89 101.84 L331.33 101.05 L331.78 102.5 L332.22 102.59 L332.67 101.72 L333.11 101.45 L333.55 101.31 L334 102.31 L334.44 102.1 L334.88 102.23 L335.33 101.9 L335.77 102.8 L336.22 102.05 L336.66 101.96 L337.1 102.48 L337.55 102.72 L337.99 102.67 L338.44 103.06 L338.88 103.19 L339.32 103.28 L339.77 103.81 L340.21 103.28 L340.66 104.23 L341.1 102.71 L341.54 103.5 L341.99 103.13 L342.43 103.29 L342.87 103.81 L343.32 103.07 L343.76 103.23 L344.21 102.79 L344.65 102.35 L345.09 102.88 L345.54 102.77 L345.98 102.25 L346.43 103.89 L346.87 102.51 L347.31 103.05 L347.76 102.5 L348.2 103.02 L348.64 103.2 L349.09 101.77 L349.53 102.03 L349.98 102.06 L350.42 102.17 L350.86 102.32 L351.31 102.38 L351.75 103.04 L352.2 102.36 L352.64 102.25 L353.08 102.49 L353.53 103.69 L353.97 101.38 L354.42 102.34 L354.86 101.89 L355.3 103.09 L355.75 103.87 L356.19 102.41 L356.63 103.28 L357.08 102.46 L357.52 103.73 L357.97 104.29 L358.41 102.4 L358.85 102.97 L359.3 103.83 L359.74 104.44 L360.19 102.97 L360.63 101.69 L361.07 102.22 L361.52 101.48 L361.96 102.08 L362.41 102.68 L362.85 101.76 L363.29 104.13 L363.74 102.99 L364.18 101.98 L364.62 103.19 L365.07 103.24 L365.51 103.21 L365.96 102.45 L366.4 101.87 L366.84 102.36 L367.29 102.28 L367.73 101.89 L368.18 101.81 L368.62 102.76 L369.06 102.46 L369.51 103.11 L369.95 101.35 L370.4 103.22 L370.84 102.37 L371.28 102.6 L371.73 102.45 L372.17 102.55 L372.61 102.95 L373.06 103.92 L373.5 103.62 L373.95 105.11 L374.39 103.96 L374.83 103.16 L375.28 103.18 L375.72 103.6 L376.17 103.78 L376.61 103.81 L377.05 104.9 L377.5 103.19 L377.94 103.67 L378.38 103.54 L378.83 104.33 L379.27 103.49 L379.72 103.89 L380.16 104.11 L380.6 102.32 L381.05 103.26 L381.49 103.62 L381.94 104.67 L382.38 102.75 L382.82 104.04 L383.27 104.02 L383.71 103.83 L384.16 104.13 L384.6 104.28 L385.04 102.84 L385.49 102.34 L385.93 103.67 L386.37 104.02 L386.82 103.46 L387.26 103.73 L387.71 103.71 L388.15 103.84 L388.59 102.27 L389.04 103.25 L389.48 104.22 L389.93 103.21 L390.37 102.63 L390.81 103.5 L391.26 102.74 L391.7 102.59 L392.15 103.46 L392.59 102.84 L393.03 102.3 L393.48 104.04 L393.92 103.6 L394.36 103.92 L394.81 104.05 L395.25 103.66 L395.7 103.24 L396.14 103.45 L396.58 102.62 L397.03 102.99 L397.47 103.54 L397.92 102.74 L398.36 103.22 L398.8 104.09 L399.25 102.53 L399.69 103.72 L400.13 102.85 L400.58 102.93 L401.02 103.55 L401.47 102.84 L401.91 103.61 L402.35 102.77 L402.8 103.22 L403.24 102.82 L403.69 102.27 L404.13 102.69 L404.57 103.38 L405.02 103.15 L405.46 103.24 L405.91 102.28 L406.35 102.51 L406.79 103.03 L407.24 102.79 L407.68 102.91 L408.12 103.54 L408.57 104.31 L409.01 103.31 L409.46 104.05 L409.9 104.19 L410.34 102.75 L410.79 102.12 L411.23 102.38 L411.68 103.26 L412.12 101.94 L412.56 102.97 L413.01 101.77 L413.45 102.01 L413.9 102.03 L414.34 102.25 L414.78 101.64 L415.23 101.58 L415.67 101.37 L416.11 101.58 L416.56 102.46 L417 102.26 L417.45 101.95 L417.89 102.67 L418.33 102.25 L418.78 101.82 L419.22 102.41 L419.67 102.42 L420.11 103.01 L420.55 103.03 L421 102.78 L421.44 102.13 L421.89 102.66 L422.33 102.93 L422.77 101.77 L423.22 101.97 L423.66 103.43 L424.1 102.81 L424.55 103.12 L424.99 102.96 L425.44 103.28 L425.88 103.19 L426.32 103.29 L426.77 103.13 L427.21 103.33 L427.66 103.6 L428.1 102.5 L428.54 103.07 L428.99 102.86 L429.43 102.46 L429.87 103.88 L430.32 102.41 L430.76 101.63 L431.21 103.2 L431.65 102.29 L432.09 101.96 L432.54 101.98 L432.98 102.86 L433.43 102.9 L433.87 102.91 L434.31 102.9 L434.76 104 L435.2 102.52 L435.65 102.34 L436.09 102.17 L436.53 102.35 L436.98 103.38 L437.42 103.13 L437.86 103.11 L438.31 103.15 L438.75 102.42 L439.2 101.86 L439.64 103.15 L440.08 102.62 L440.53 102.94 L440.97 103.7 L441.42 103.03 L441.86 102.08 L442.3 103.53 L442.75 103.23 L443.19 104.51 L443.64 102.77 L444.08 104.02 L444.52 103.38 L444.97 102.92 L445.41 102.74 L445.85 103.44 L446.3 103.81 L446.74 104.37 L447.19 104.53 L447.63 103.71 L448.07 103.1 L448.52 102.85 L448.96 103.13 L449.41 103.95 L449.85 102.26 L450.29 102.74 L450.74 104 L451.18 103.33 L451.62 103.7 L452.07 103.81 L452.51 103.24 L452.96 102.98 L453.4 103.87 L453.84 103.26 L454.29 103.53 L454.73 102.68 L455.18 104.33 L455.62 103.66 L456.06 104.14 L456.51 104.88 L456.95 103.49 L457.4 103.94 L457.84 103.99 L458.28 104.36 L458.73 104.39 L459.17 104.6 L459.61 105.27 L460.06 104.89 L460.5 103.89 L460.95 104.58 L461.39 105.39 L461.83 105.17 L462.28 105.17 L462.72 104.61 L463.17 104.59 L463.61 104.37 L464.05 103.6 L464.5 104.9 L464.94 104.44 L465.39 104.29 L465.83 103.63 L466.27 104.6 L466.72 104.79 L467.16 106.01 L467.6 105.62 L468.05 104 L468.49 105.4 L468.94 103.88 L469.38 104.27 L469.82 104.5 L470.27 104.75 L470.71 105.49 L471.16 104.68 L471.6 105.01 L472.04 104.81 L472.49 105.32 L472.93 104.79 L473.38 104.49 L473.82 104.47 L474.26 104.36 L474.71 103.27 L475.15 104.12 L475.59 104.68 L476.04 105.3 L476.48 106.33 L476.93 105.18 L477.37 106.5 L477.81 105.67 L478.26 105.28 L478.7 106.56 L479.15 105.19 L479.59 106.47 L480.03 105.36 L480.48 105.3 L480.92 105.85 L481.36 105.95 L481.81 105.34 L482.25 105.08 L482.7 106.37 L483.14 105.65 L483.58 106.53 L484.03 107.02 L484.47 105.29 L484.92 105.24 L485.36 105.09 L485.8 105.52 L486.25 104.23 L486.69 106.6 L487.14 105.65 L487.58 106 L488.02 105.75 L488.47 106.01 L488.91 105.78 L489.35 104.38 L489.8 105.76 L490.24 105.54 L490.69 105.44 L491.13 106.26 L491.57 105.25 L492.02 106.44 L492.46 105.34 L492.91 105.79 L493.35 105.84 L493.79 106.98 L494.24 106.97 L494.68 106.92 L495.13 105.73 L495.57 106.05 L496.01 107.18 L496.46 106.52 L496.9 107.06 L497.34 106.61 L497.79 106.22 L498.23 106.39 L498.68 105.33 L499.12 106.13 L499.56 105.78 L500.01 106.83 L500.45 106.92 L500.9 106.82 L501.34 106.42 L501.78 107.02 L502.23 105.65 L502.67 107.53 L503.11 106.34 L503.56 107.47 L504 107.35 L504.45 106.1 L504.89 106.74 L505.33 106.84 L505.78 106.34 L506.22 106.03 L506.67 106.31 L507.11 105.56 L507.55 106.07 L508 105.56 L508.44 105.75 L508.89 105.91 L509.33 106.22 L509.77 104.85 L510.22 106.14 L510.66 107.45 L511.1 106.41 L511.55 107.29 L511.99 107.22 L512.44 107.29 L512.88 106.12 L513.32 107.24 L513.77 107.47 L514.21 107.19 L514.66 107.45 L515.1 105.98 L515.54 106.54 L515.99 106.33 L516.43 107.43 L516.88 106.34 L517.32 106.35 L517.76 108.12 L518.21 107.72 L518.65 107.49 L519.09 106.86 L519.54 106.13 L519.98 106.98 L520.43 105.24 L520.87 106.68 L521.31 107.79 L521.76 106.15 L522.2 106.06 L522.65 106.72 L523.09 107.42 L523.53 106.5 L523.98 105.8 L524.42 107.73 L524.87 105.74 L525.31 107.05 L525.75 106.72 L526.2 107.09 L526.64 107.25 L527.08 105.42 L527.53 106.91 L527.97 105.97 L528.42 107.12 L528.86 106.07 L529.3 106.14 L529.75 107.97 L530.19 106.97 L530.64 106.64 L531.08 106.7 L531.52 105.93 L531.97 105.51 L532.41 105.45 L532.85 106.43 L533.3 105.43 L533.74 105.37 L534.19 106.19 L534.63 105.34 L535.07 104.92 L535.52 104.76 L535.96 106.39 L536.41 105.22 L536.85 105.12 L537.29 105.32 L537.74 106.39 L538.18 106.23 L538.63 106.27 L539.07 104.98 L539.51 105.72 L539.96 105.66 L540.4 105.52 L540.84 105.63 L541.29 105.76 L541.73 106.64 L542.18 105.78 L542.62 105.93 L543.06 105.15 L543.51 106.28 L543.95 105.21 L544.4 105.54 L544.84 106.56 L545.28 105.98 L545.73 105.77 L546.17 106.38 L546.62 105.25 L547.06 104.94 L547.5 105.98 L547.95 104.77 L548.39 104.53 L548.83 105.14 L549.28 104.99 L549.72 104.5 L550.17 106.01 L550.61 105.23 L551.05 104.43 L551.5 105.64 L551.94 106.12 L552.39 105.85 L552.83 105.7 L553.27 106.36 L553.72 105.59" stroke="#000000" stroke-width="1.6" fill="none" stroke-linejoin="round"/></g><rect x="322.9" y="61.3" width="260.6" height="100.9" fill="none" stroke="#555" stroke-width="0.9"/><path d="M322.9 162.2 v-2.2 M322.9 61.3 v2.2" stroke="#666" stroke-width="0.7"/><text x="322.9" y="177.6" text-anchor="middle" style='font-family:"Liberation Sans",sans-serif;font-size:10.6px' fill="#333">0</text><path d="M360.13 162.2 v-2.2 M360.13 61.3 v2.2" stroke="#666" stroke-width="0.7"/><text x="360.13" y="177.6" text-anchor="middle" style='font-family:"Liberation Sans",sans-serif;font-size:10.6px' fill="#333">50</text><path d="M397.36 162.2 v-2.2 M397.36 61.3 v2.2" stroke="#666" stroke-width="0.7"/><text x="397.36" y="177.6" text-anchor="middle" style='font-family:"Liberation Sans",sans-serif;font-size:10.6px' fill="#333">100</text><path d="M434.59 162.2 v-2.2 M434.59 61.3 v2.2" stroke="#666" stroke-width="0.7"/><text x="434.59" y="177.6" text-anchor="middle" style='font-family:"Liberation Sans",sans-serif;font-size:10.6px' fill="#333">150</text><path d="M471.81 162.2 v-2.2 M471.81 61.3 v2.2" stroke="#666" stroke-width="0.7"/><text x="471.81" y="177.6" text-anchor="middle" style='font-family:"Liberation Sans",sans-serif;font-size:10.6px' fill="#333">200</text><path d="M509.04 162.2 v-2.2 M509.04 61.3 v2.2" stroke="#666" stroke-width="0.7"/><text x="509.04" y="177.6" text-anchor="middle" style='font-family:"Liberation Sans",sans-serif;font-size:10.6px' fill="#333">250</text><path d="M546.27 162.2 v-2.2 M546.27 61.3 v2.2" stroke="#666" stroke-width="0.7"/><text x="546.27" y="177.6" text-anchor="middle" style='font-family:"Liberation Sans",sans-serif;font-size:10.6px' fill="#333">300</text><path d="M583.5 162.2 v-2.2 M583.5 61.3 v2.2" stroke="#666" stroke-width="0.7"/><text x="583.5" y="177.6" text-anchor="middle" style='font-family:"Liberation Sans",sans-serif;font-size:10.6px' fill="#333">350</text><path d="M322.9 162.2 h2.2 M583.5 162.2 h-2.2" stroke="#666" stroke-width="0.7"/><text x="318.3" y="166.7" text-anchor="end" style='font-family:"Liberation Sans",sans-serif;font-size:10.6px' fill="#333">-2</text><path d="M322.9 128.57 h2.2 M583.5 128.57 h-2.2" stroke="#666" stroke-width="0.7"/><text x="318.3" y="133.07" text-anchor="end" style='font-family:"Liberation Sans",sans-serif;font-size:10.6px' fill="#333">-1</text><path d="M322.9 94.93 h2.2 M583.5 94.93 h-2.2" stroke="#666" stroke-width="0.7"/><text x="318.3" y="99.43" text-anchor="end" style='font-family:"Liberation Sans",sans-serif;font-size:10.6px' fill="#333">0</text><path d="M322.9 61.3 h2.2 M583.5 61.3 h-2.2" stroke="#666" stroke-width="0.7"/><text x="318.3" y="65.8" text-anchor="end" style='font-family:"Liberation Sans",sans-serif;font-size:10.6px' fill="#333">1</text><text transform="translate(304.2,111.75) rotate(-90)" text-anchor="middle" style='font-family:"Liberation Sans",sans-serif;font-size:12.4px' fill="#333">Position[nm]</text><text x="453.2" y="193.6" text-anchor="middle" style='font-family:"Liberation Sans",sans-serif;font-size:12.4px' fill="#333">time[s]</text><rect x="474.4" y="69" width="102.6" height="41" fill="#fff" stroke="#444" stroke-width="0.7"/><path d="M476.6 77.3 H494" stroke="#0000ff" stroke-width="0.9" stroke-opacity="0.6"/><text x="496.6" y="80.9" style='font-family:"Liberation Sans","Noto Serif CJK SC",serif;font-size:9.6px' fill="#444" textLength="26.4" lengthAdjust="spacingAndGlyphs">全频段</text><text x="523.2" y="81.2" style='font-family:"Liberation Sans",sans-serif;font-size:10.1px' fill="#2a2a2a">0.48375nm</text><path d="M476.6 90.55 H494" stroke="#ff0000" stroke-width="0.9" stroke-opacity="0.6"/><text x="496.6" y="94.15" style='font-family:"Liberation Sans","Noto Serif CJK SC",serif;font-size:9.6px' fill="#444" textLength="26.4" lengthAdjust="spacingAndGlyphs">高频段</text><text x="523.2" y="94.45" style='font-family:"Liberation Sans",sans-serif;font-size:10.1px' fill="#2a2a2a">0.44839nm</text><path d="M476.6 103.8 H494" stroke="#000" stroke-width="0.9" stroke-opacity="0.6"/><text x="496.6" y="107.4" style='font-family:"Liberation Sans","Noto Serif CJK SC",serif;font-size:9.6px' fill="#444" textLength="26.4" lengthAdjust="spacingAndGlyphs">低频段</text><text x="523.2" y="107.7" style='font-family:"Liberation Sans",sans-serif;font-size:10.1px' fill="#2a2a2a">0.18154nm</text></g><rect x="569" y="3.4" width="5" height="198.6" fill="url(#shl)"/><clipPath id="w63"><rect x="574" y="1.4" width="317" height="198.6"/></clipPath><g clip-path="url(#w63)"><rect x="574" y="1.4" width="317" height="198.6" fill="#f0f0f0"/><rect x="574" y="1.4" width="317" height="31.6" fill="#fff"/><path d="M574 33.2 H891" stroke="#e2e2e2" stroke-width="0.8"/><rect x="574" y="33.6" width="317" height="15.3" fill="#f2f2f2"/><path d="M574 49.2 H891" stroke="#dcdcdc" stroke-width="0.8"/><g transform="translate(578.3,5.7)"><rect x="0.4" y="0.4" width="8.8" height="9" fill="#f6f7fa" stroke="#a0aac0" stroke-width="0.8"/><rect x="0.4" y="0.4" width="8.8" height="1.3" fill="#7f98c8"/><path d="M1.2 7 L5.4 2.4 L8.2 8 L6.4 6.8 Z" fill="#e06a1c"/><path d="M1.2 7 L3.6 4.4 L4.8 6.8 L3 7.6 Z" fill="#2f6db5"/><path d="M5.4 2.4 L8.2 8 L6.2 4.8 Z" fill="#b83a10"/></g><text x="589.8" y="13.1" style='font-family:"Liberation Sans","Noto Sans CJK SC",sans-serif;font-size:8.5px' fill="#a6a6a6" stroke="#a6a6a6" stroke-width="0.25" textLength="27.6" lengthAdjust="spacingAndGlyphs">Figure 3</text><path d="M860.9 9.7 H866.1" stroke="#9a9a9a" stroke-width="0.8"/><rect x="885.7" y="7" width="5.6" height="5.6" fill="none" stroke="#9a9a9a" stroke-width="0.8"/><text x="577.8" y="28.1" style='font-family:"Liberation Sans","Noto Sans CJK SC",sans-serif;font-size:7.6px' fill="#1a1a1a" stroke="#1a1a1a" stroke-width="0.15" textLength="22.1" lengthAdjust="spacingAndGlyphs">文件(F)</text><text x="608" y="28.1" style='font-family:"Liberation Sans","Noto Sans CJK SC",sans-serif;font-size:7.6px' fill="#1a1a1a" stroke="#1a1a1a" stroke-width="0.15" textLength="22.6" lengthAdjust="spacingAndGlyphs">编辑(E)</text><text x="638.7" y="28.1" style='font-family:"Liberation Sans","Noto Sans CJK SC",sans-serif;font-size:7.6px' fill="#1a1a1a" stroke="#1a1a1a" stroke-width="0.15" textLength="22.9" lengthAdjust="spacingAndGlyphs">查看(V)</text><text x="669.7" y="28.1" style='font-family:"Liberation Sans","Noto Sans CJK SC",sans-serif;font-size:7.6px' fill="#1a1a1a" stroke="#1a1a1a" stroke-width="0.15" textLength="20.9" lengthAdjust="spacingAndGlyphs">插入(I)</text><text x="698.5" y="28.1" style='font-family:"Liberation Sans","Noto Sans CJK SC",sans-serif;font-size:7.6px' fill="#1a1a1a" stroke="#1a1a1a" stroke-width="0.15" textLength="22.6" lengthAdjust="spacingAndGlyphs">工具(T)</text><text x="728.8" y="28.1" style='font-family:"Liberation Sans","Noto Sans CJK SC",sans-serif;font-size:7.6px' fill="#1a1a1a" stroke="#1a1a1a" stroke-width="0.15" textLength="23.3" lengthAdjust="spacingAndGlyphs">桌面(D)</text><text x="760.2" y="28.1" style='font-family:"Liberation Sans","Noto Sans CJK SC",sans-serif;font-size:7.6px' fill="#1a1a1a" stroke="#1a1a1a" stroke-width="0.15" textLength="25" lengthAdjust="spacingAndGlyphs">窗口(W)</text><text x="793.2" y="28.1" style='font-family:"Liberation Sans","Noto Sans CJK SC",sans-serif;font-size:7.6px' fill="#1a1a1a" stroke="#1a1a1a" stroke-width="0.15" textLength="24.2" lengthAdjust="spacingAndGlyphs">帮助(H)</text><g transform="translate(576.1,36.1)"><path d="M1 0.5 H6 L8.3 2.8 V8.6 H1 Z" fill="#fdfdff" stroke="#7d8fb0" stroke-width="0.8"/><path d="M6 0.5 V2.8 H8.3" fill="#dfe6f2" stroke="#7d8fb0" stroke-width="0.6"/><rect x="0.2" y="0" width="2.6" height="2.6" fill="#f08040"/></g><g transform="translate(588.5,36.1)"><path d="M0.5 2 H3.5 L4.3 3 H8 V8.3 H0.5 Z" fill="#d9a92c"/><path d="M0.5 8.3 L2 4.3 H9 L7.8 8.3 Z" fill="#f6d56b" stroke="#c89a28" stroke-width="0.5"/><path d="M6 0.8 L8.2 0.8 L8.2 2.6" stroke="#6a8ac0" stroke-width="0.7" fill="none"/></g><g transform="translate(602.1,36.1)"><rect x="0.4" y="0.4" width="8.4" height="8.4" rx="0.6" fill="#3b4fb0"/><rect x="2" y="0.6" width="5" height="3.4" fill="#e8ecf8"/><rect x="2.6" y="5.6" width="3.8" height="3" fill="#1e2a70"/><rect x="4.4" y="6" width="1.2" height="1.8" fill="#dfe4f0"/></g><g transform="translate(615,36.1)"><rect x="2.4" y="0.4" width="4.4" height="3.6" fill="#f4f6fa" stroke="#9aa4b8" stroke-width="0.5"/><path d="M0.4 4.2 Q0.4 3 1.6 3 H7.4 Q8.6 3 8.6 4.2 V7.4 H0.4 Z" fill="#b4b6bc"/><rect x="1.8" y="6" width="5.4" height="2.7" fill="#e6e7ea" stroke="#8c8e94" stroke-width="0.4"/></g><g transform="translate(632.7,36.1)"><path d="M2.3 0.6 L2.3 7.6 L4 6 L5.4 8.8 L6.4 8.3 L5 5.6 L7.3 5.4 Z" fill="#fff" stroke="#333" stroke-width="0.7"/></g><g transform="translate(648.8,36.1)"><path d="M5.2 5.2 L8.6 8.6" stroke="#e09a40" stroke-width="2" stroke-linecap="round"/><circle cx="3.6" cy="3.6" r="3" fill="#dcecfb" stroke="#7a9ad0" stroke-width="0.9"/><path d="M2.2 3.6 H5 M3.6 2.2 V5" stroke="#4a78c0" stroke-width="0.8"/></g><g transform="translate(661.8,36.1)"><path d="M5.2 5.2 L8.6 8.6" stroke="#e09a40" stroke-width="2" stroke-linecap="round"/><circle cx="3.6" cy="3.6" r="3" fill="#dcecfb" stroke="#7a9ad0" stroke-width="0.9"/><path d="M2.2 3.6 H5" stroke="#4a78c0" stroke-width="0.8"/></g><g transform="translate(673.9,35.6)"><path d="M1.2 5.2 Q0.4 3.6 1.8 3.4 L2.8 4.4 V2 Q3.4 0.6 4.4 1.4 V0.9 Q5.2 0 6 0.9 V1.4 Q7 0.8 7.6 1.8 V3.2 Q8.8 2.8 9.2 3.8 L8.8 6.6 Q8.2 9.8 5.2 9.8 Q2.8 9.8 1.2 5.2 Z" fill="#f7d8bc" stroke="#7f93c6" stroke-width="0.7"/><path d="M3 2.2 V5 M4.5 1.2 V4.6 M6 1.2 V4.6 M7.5 2 V5" stroke="#9fb0d8" stroke-width="0.5"/></g><g transform="translate(687.3,35.6)"><path d="M1.6 3.2 A4 4 0 1 1 1.4 6.6" fill="none" stroke="#3a5490" stroke-width="1.8"/><circle cx="5.2" cy="5" r="2.2" fill="#b8c4dc"/><path d="M4.4 3.8 V6.2 M5.4 3.6 V6.4" stroke="#7f8fb8" stroke-width="0.5"/><path d="M0 4.6 L3 4.2 L2 6.6 Z" fill="#fff" stroke="#9aa" stroke-width="0.3"/></g><g transform="translate(699.9,35.6)"><rect x="4" y="0" width="6" height="5.8" fill="#e6e4a4" stroke="#a8a470" stroke-width="0.5"/><rect x="5" y="1" width="4" height="3.8" fill="#dddb9a"/><path d="M0.4 1.6 L9.4 9.4" stroke="#8080ff" stroke-width="1.2"/><path d="M5 5.6 L1.2 6.4 L2.6 7.4 L1 9.2" stroke="#111" stroke-width="1.4" fill="none"/></g><g transform="translate(713.8,35.6)"><path d="M9.4 0.4 L4.2 6" stroke="#8c94cc" stroke-width="1.9" stroke-linecap="round"/><path d="M0.6 9.6 Q0.4 6.6 3 5.6 L4.4 7 Q3.8 9.6 0.6 9.6 Z" fill="#3a3a3a"/><circle cx="7.6" cy="8.2" r="1.5" fill="#ee0000"/></g><path d="M727.6 40 h2.4 l-1.2 1.3 z" fill="#333"/><g transform="translate(736.6,36.1)"><rect x="0.4" y="0.6" width="7.8" height="6.4" rx="1" fill="#dde4f0" stroke="#4a5f95" stroke-width="0.9"/><rect x="1.8" y="3.2" width="3.2" height="2.2" fill="#7d8fb8"/><rect x="3" y="6.6" width="5.8" height="2.2" rx="0.6" fill="#8596bd" stroke="#4a5f95" stroke-width="0.5"/></g><rect x="765.2" y="33.6" width="13" height="14" fill="#cce4f7"/><g transform="translate(754.1,36.1)"><rect x="2.3" y="0.4" width="4.6" height="8.4" rx="0.6" fill="url(#cbg)" stroke="#4f5f8f" stroke-width="0.8"/></g><g transform="translate(767,36.1)"><rect x="0.4" y="0.4" width="8.4" height="8.4" fill="#f4f6fb" stroke="#5a6a9a" stroke-width="0.8"/><rect x="1.5" y="2" width="2.4" height="1.8" fill="#e83a3a"/><rect x="1.5" y="5.4" width="2.4" height="1.8" fill="#3a4ae8"/><path d="M4.6 2.9 H7.6 M4.6 6.3 H7.6" stroke="#6a7aa8" stroke-width="0.9"/></g><rect x="785.5" y="37.6" width="6" height="6" rx="0.8" fill="#909090" stroke="#777" stroke-width="0.4"/><g transform="translate(796.8,36.1)"><rect x="0.4" y="0.4" width="8.4" height="8.4" rx="0.6" fill="#4a64a0"/><rect x="1.8" y="2.2" width="5.6" height="4.4" fill="#f4f6fb"/></g><path d="M627.8 33.6 V47.6" stroke="#d6d6d6" stroke-width="0.8"/><path d="M644.1 33.6 V47.6" stroke="#d6d6d6" stroke-width="0.8"/><path d="M733.5 33.6 V47.6" stroke="#d6d6d6" stroke-width="0.8"/><path d="M750 33.6 V47.6" stroke="#d6d6d6" stroke-width="0.8"/><path d="M780.5 33.6 V47.6" stroke="#d6d6d6" stroke-width="0.8"/><path d="M574.5 200 V1.9" stroke="#b4b4b4" stroke-width="1" fill="none"/><clipPath id="a85"><rect x="621.3" y="61.1" width="275.5" height="101.2"/></clipPath><rect x="621.3" y="61.1" width="275.5" height="101.2" fill="#fff"/><g clip-path="url(#a85)"><path d="M621.5 121.82 L622.5 121.82 L623.5 121.82 L624.5 121.82 L625.5 121.82 L626.5 121.82 L627.5 121.82 L628.5 121.82 L629.5 121.82 L630.5 121.82 L631.5 121.82 L632.5 121.82 L633.5 121.82 L634.5 121.82 L635.5 121.82 L636.5 121.82 L637.5 121.82 L638.5 121.82 L639.5 121.82 L640.5 121.82 L641.5 121.82 L642.5 121.82 L643.5 121.82 L644.5 121.82 L645.5 121.82 L646.5 121.82 L647.5 121.82 L648.5 121.82 L649.5 121.82 L650.5 121.82 L651.5 121.82 L652.5 121.82 L653.5 121.82 L654.5 121.82 L655.5 121.82 L656.5 121.82 L657.5 121.82 L658.5 121.82 L659.5 121.82 L660.5 121.82 L661.5 121.82 L662.5 121.82 L663.5 121.82 L664.5 121.82 L665.5 121.82 L666.5 121.82 L667.5 121.82 L668.5 121.82 L669.5 121.82 L670.5 121.82 L671.5 121.82 L672.5 121.82 L673.5 121.82 L674.5 121.82 L675.5 121.82 L676.5 121.82 L677.5 121.82 L678.5 121.82 L679.5 121.82 L680.5 121.82 L681.5 121.82 L682.5 121.82 L683.5 121.82 L684.5 121.82 L685.5 121.82 L686.5 121.82 L687.5 121.82 L688.5 121.82 L689.5 121.82 L690.5 121.82 L691.5 121.82 L692.5 121.82 L693.5 121.82 L694.5 121.82 L695.5 121.82 L696.5 121.82 L697.5 121.82 L698.5 121.82 L699.5 121.82 L700.5 121.82 L701.5 121.82 L702.5 121.82 L703.5 121.82 L704.5 121.82 L705.5 121.82 L706.5 121.82 L707.5 121.82 L708.5 121.82 L709.5 121.82 L710.5 121.82 L711.5 121.82 L712.5 121.82 L713.5 121.82 L714.5 121.82 L715.5 121.82 L716.5 121.82 L717.5 121.82 L718.5 121.82 L719.5 121.82 L720.5 121.82 L721.5 121.82 L722.5 121.82 L723.5 121.82 L724.5 121.82 L725.5 121.82 L726.5 121.82 L727.5 121.82 L728.5 121.82 L729.5 121.82 L730.5 121.82 L731.5 121.82 L732.5 121.82 L733.5 121.82 L734.5 121.82 L735.5 121.82 L736.5 121.82 L737.5 121.82 L738.5 121.82 L739.5 121.82 L740.5 121.82 L741.5 121.82 L742.5 121.82 L743.5 121.82 L744.5 121.82 L745.5 121.82 L746.5 121.82 L747.5 121.82 L748.5 121.82 L749.5 121.82 L750.5 121.82 L751.5 121.82 L752.5 121.82 L753.5 121.82 L754.5 121.82 L755.5 121.82 L756.5 121.82 L757.5 121.82 L758.5 121.82 L759.5 121.82 L760.5 121.82 L761.5 121.82 L762.5 121.82 L763.5 121.82 L764.5 121.82 L765.5 121.82 L766.5 121.82 L767.5 121.82 L768.5 121.82 L769.5 121.82 L770.5 121.82 L771.5 121.82 L772.5 121.82 L773.5 121.82 L774.5 121.82 L775.5 121.82 L776.5 121.82 L777.5 121.82 L778.5 121.82 L779.5 121.82 L780.5 121.82 L781.5 121.82 L782.5 121.82 L783.5 121.82 L784.5 121.82 L785.5 121.82 L786.5 121.82 L787.5 121.82 L788.5 121.82 L789.5 121.82 L790.5 121.82 L791.5 121.82 L792.5 121.82 L793.5 121.82 L794.5 121.82 L795.5 121.82 L796.5 121.82 L797.5 121.82 L798.5 121.82 L799.5 121.82 L800.5 121.82 L801.5 121.82 L802.5 121.82 L803.5 121.82 L804.5 121.82 L805.5 121.82 L806.5 121.82 L807.5 121.82 L808.5 121.82 L809.5 121.82 L810.5 121.82 L811.5 121.82 L812.5 121.82 L813.5 121.82 L814.5 121.82 L815.5 121.82 L816.5 121.82 L817.5 121.82 L818.5 121.82 L819.5 121.82 L820.5 121.82 L821.5 121.82 L822.5 121.82 L823.5 121.82 L824.5 121.82 L825.5 121.82 L826.5 121.82 L827.5 121.82 L828.5 121.82 L829.5 121.82 L830.5 121.82 L831.5 121.82 L832.5 121.82 L833.5 121.82 L834.5 121.82 L835.5 121.82 L836.5 121.82 L837.5 121.82 L838.5 121.82 L839.5 121.82 L840.5 121.82 L841.5 121.82 L842.5 121.82 L843.5 121.82 L844.5 121.82 L845.5 121.82 L846.5 121.82 L847.5 121.82 L848.5 121.82 L849.5 121.82 L850.5 121.82 L851.5 121.82 L852.5 121.82 L853.5 121.82 L854.5 121.82 L855.5 121.82 L856.5 121.82 L857.5 121.82 L858.5 121.82 L859.5 121.82 L860.5 121.82 L861.5 121.82 L862.5 121.82 L863.5 121.82 L864.5 121.82 L864.5 138.4 L863.5 140.04 L862.5 138.28 L861.5 136.42 L860.5 139.29 L859.5 138.65 L858.5 137.38 L857.5 138.97 L856.5 137.96 L855.5 137.53 L854.5 136.03 L853.5 137.24 L852.5 138.11 L851.5 137.54 L850.5 137.06 L849.5 136.47 L848.5 138.03 L847.5 138.41 L846.5 137.5 L845.5 137.63 L844.5 137 L843.5 140.37 L842.5 137.06 L841.5 139.32 L840.5 140.76 L839.5 139.76 L838.5 137.2 L837.5 137.65 L836.5 136.2 L835.5 137.44 L834.5 137.54 L833.5 138.01 L832.5 137.11 L831.5 137.6 L830.5 138.43 L829.5 139.49 L828.5 136.2 L827.5 137.46 L826.5 136.95 L825.5 138.13 L824.5 137.34 L823.5 139.58 L822.5 136.69 L821.5 136.19 L820.5 135.95 L819.5 137.47 L818.5 136.19 L817.5 138.84 L816.5 135.6 L815.5 136.07 L814.5 134.32 L813.5 136.52 L812.5 138.14 L811.5 137.56 L810.5 137.75 L809.5 134.67 L808.5 137.81 L807.5 138.31 L806.5 138.25 L805.5 139.16 L804.5 136.59 L803.5 137.24 L802.5 137.29 L801.5 139.46 L800.5 137.68 L799.5 138.88 L798.5 135.04 L797.5 136.05 L796.5 141.08 L795.5 137.71 L794.5 138.81 L793.5 138.74 L792.5 137.28 L791.5 138.07 L790.5 137.29 L789.5 135.85 L788.5 138.03 L787.5 137.51 L786.5 137.85 L785.5 135.14 L784.5 138.63 L783.5 137.48 L782.5 136.55 L781.5 135.31 L780.5 137.69 L779.5 138.59 L778.5 138.66 L777.5 137.8 L776.5 136.35 L775.5 138.53 L774.5 136.7 L773.5 138.14 L772.5 138.08 L771.5 137.24 L770.5 135.98 L769.5 137.2 L768.5 136.2 L767.5 137.5 L766.5 137.02 L765.5 138.31 L764.5 135.8 L763.5 139.29 L762.5 137.56 L761.5 136.16 L760.5 138 L759.5 137.55 L758.5 137.04 L757.5 136.39 L756.5 137.17 L755.5 139.58 L754.5 138.97 L753.5 138.01 L752.5 136.25 L751.5 137.51 L750.5 136.25 L749.5 135.57 L748.5 137.48 L747.5 139.02 L746.5 138.92 L745.5 136.72 L744.5 137.93 L743.5 137.56 L742.5 135.89 L741.5 138.34 L740.5 140.07 L739.5 136.21 L738.5 136.95 L737.5 138.35 L736.5 138.53 L735.5 137.18 L734.5 139.4 L733.5 138.94 L732.5 137.43 L731.5 136.25 L730.5 136.3 L729.5 138.57 L728.5 138.09 L727.5 136.22 L726.5 135.85 L725.5 136.68 L724.5 140.21 L723.5 136.45 L722.5 136.08 L721.5 138.28 L720.5 137.27 L719.5 138.57 L718.5 137.85 L717.5 136.41 L716.5 136.83 L715.5 136.19 L714.5 138.08 L713.5 137.6 L712.5 136.39 L711.5 136.17 L710.5 137.28 L709.5 138.07 L708.5 137.71 L707.5 137.02 L706.5 137.38 L705.5 139.37 L704.5 140.53 L703.5 137.12 L702.5 138.35 L701.5 137.32 L700.5 137.67 L699.5 139.22 L698.5 137.46 L697.5 137.39 L696.5 137.45 L695.5 139.5 L694.5 135.82 L693.5 135.21 L692.5 137.58 L691.5 138.16 L690.5 137.66 L689.5 137.5 L688.5 136.95 L687.5 138.23 L686.5 138.63 L685.5 136.31 L684.5 136.99 L683.5 138.15 L682.5 136.31 L681.5 137.83 L680.5 138.14 L679.5 137.26 L678.5 135.95 L677.5 135.13 L676.5 136.72 L675.5 138.4 L674.5 139.8 L673.5 138.59 L672.5 136.79 L671.5 139.37 L670.5 137.74 L669.5 137.92 L668.5 141.05 L667.5 137.71 L666.5 138.5 L665.5 138.05 L664.5 134.67 L663.5 136.93 L662.5 139.68 L661.5 137.54 L660.5 135.24 L659.5 137.11 L658.5 137.19 L657.5 138.61 L656.5 137.89 L655.5 137.74 L654.5 137.08 L653.5 137.97 L652.5 137.83 L651.5 135.53 L650.5 137.34 L649.5 136.27 L648.5 138.63 L647.5 137.84 L646.5 136.6 L645.5 137.35 L644.5 136.2 L643.5 135.16 L642.5 137.61 L641.5 138.35 L640.5 135.06 L639.5 138.89 L638.5 140.11 L637.5 137.95 L636.5 138.62 L635.5 137.83 L634.5 136.57 L633.5 137.22 L632.5 137.51 L631.5 138.2 L630.5 140.6 L629.5 134.2 L628.5 140.74 L627.5 137.74 L626.5 136.96 L625.5 141.12 L624.5 137.89 L623.5 136.9 L622.5 136.05 L621.5 138.77Z" fill="#0000ff"/><path d="M623.5 131.94V139.82M625.5 131.94V141.49M626.5 131.94V141.81M627.5 131.94V143.08M629.5 131.94V144.97M633.5 131.94V143.96M634.5 131.94V143.17M635.5 131.94V141.15M637.5 131.94V144.18M638.5 131.94V143.09M639.5 131.94V142.6M647.5 131.94V138.31M649.5 131.94V142.55M650.5 131.94V142.18M651.5 131.94V140.38M652.5 131.94V142.73M653.5 131.94V142.56M654.5 131.94V142.54M655.5 131.94V142.46M656.5 131.94V143.27M657.5 131.94V141.16M658.5 131.94V139.69M661.5 131.94V142.22M662.5 131.94V141.2M663.5 131.94V143.55M666.5 131.94V144.51M667.5 131.94V142.58M668.5 131.94V144.24M671.5 131.94V144.1M672.5 131.94V139.69M675.5 131.94V142.27M677.5 131.94V143.14M681.5 131.94V141.73M683.5 131.94V144.59M684.5 131.94V143.59M685.5 131.94V140.38M686.5 131.94V140.97M687.5 131.94V142.95M692.5 131.94V140.43M694.5 131.94V142.52M695.5 131.94V141.71M696.5 131.94V140.89M697.5 131.94V144.02M698.5 131.94V144.13M699.5 131.94V143.58M700.5 131.94V144.45M701.5 131.94V143.39M703.5 131.94V144.14M704.5 131.94V143.56M706.5 131.94V144.24M716.5 131.94V141.69M718.5 131.94V142.25M719.5 131.94V139.94M722.5 131.94V143.22M726.5 131.94V144.91M730.5 131.94V142.78M733.5 131.94V142.29M734.5 131.94V143.14M735.5 131.94V142.51M736.5 131.94V143.6M738.5 131.94V141.11M739.5 131.94V140.64M741.5 131.94V142.34M742.5 131.94V143.62M745.5 131.94V140.3M746.5 131.94V142.17M747.5 131.94V141.16M748.5 131.94V140.97M754.5 131.94V142.92M755.5 131.94V140.76M757.5 131.94V143.06M759.5 131.94V143.34M761.5 131.94V143.54M762.5 131.94V141.72M763.5 131.94V143.23M766.5 131.94V141.9M767.5 131.94V139.94M768.5 131.94V142.07M770.5 131.94V144.91M772.5 131.94V141.89M775.5 131.94V144.14M776.5 131.94V143.05M777.5 131.94V142.56M781.5 131.94V144.26M782.5 131.94V142.36M783.5 131.94V140.42M789.5 131.94V143.71M791.5 131.94V142.52M796.5 131.94V141.74M799.5 131.94V140.77M802.5 131.94V145.67M803.5 131.94V143.68M806.5 131.94V142.2M811.5 131.94V144.33M813.5 131.94V142.07M814.5 131.94V142.33M816.5 131.94V142.59M818.5 131.94V141.6M820.5 131.94V143.05M821.5 131.94V142.05M822.5 131.94V142.25M824.5 131.94V142.65M827.5 131.94V142.96M829.5 131.94V143.9M831.5 131.94V140.04M832.5 131.94V141.44M837.5 131.94V142.18M843.5 131.94V142.4M847.5 131.94V141.78M848.5 131.94V141.4M849.5 131.94V142.77M851.5 131.94V141.7M854.5 131.94V145.68M859.5 131.94V142.19M860.5 131.94V140.39M861.5 131.94V142.58M863.5 131.94V139.86" stroke="#0000ff" stroke-width="0.8" stroke-opacity="0.7" fill="none"/><path d="M635.5 131.94V149.48M655.5 131.94V148.44M669.5 131.94V149.44M679.5 131.94V149.66M688.5 131.94V148.9M691.5 131.94V150.01M695.5 131.94V146.44M710.5 131.94V146.45M722.5 131.94V149.4M758.5 131.94V149.9M775.5 131.94V148.6M836.5 131.94V148.1" stroke="#0000ff" stroke-width="0.7" stroke-opacity="0.6" fill="none"/><path d="M621.5 93.53 L622.5 94.73 L623.5 95.74 L624.5 95.34 L625.5 94.32 L626.5 94.79 L627.5 94.53 L628.5 94.77 L629.5 94.97 L630.5 94.24 L631.5 95.67 L632.5 94.57 L633.5 94.48 L634.5 94.69 L635.5 93.76 L636.5 95.25 L637.5 94.98 L638.5 94.76 L639.5 95.24 L640.5 94.88 L641.5 92.69 L642.5 95.13 L643.5 95.41 L644.5 95.41 L645.5 94.68 L646.5 95.29 L647.5 95.31 L648.5 95.55 L649.5 94.62 L650.5 94.75 L651.5 95.33 L652.5 93.96 L653.5 95.53 L654.5 95.3 L655.5 95.02 L656.5 94.78 L657.5 95.26 L658.5 94.96 L659.5 94.25 L660.5 95.31 L661.5 94 L662.5 95.01 L663.5 94.63 L664.5 95.11 L665.5 95.35 L666.5 95.34 L667.5 93.26 L668.5 94.89 L669.5 95.68 L670.5 95.12 L671.5 94.37 L672.5 94.88 L673.5 93.6 L674.5 95.52 L675.5 93.25 L676.5 94.51 L677.5 94.84 L678.5 95.44 L679.5 95.46 L680.5 93.99 L681.5 94.59 L682.5 94.16 L683.5 93.41 L684.5 93.99 L685.5 95.38 L686.5 95.06 L687.5 95.42 L688.5 94.99 L689.5 93.62 L690.5 93.98 L691.5 95.66 L692.5 94.33 L693.5 94.83 L694.5 95.3 L695.5 95.3 L696.5 95.75 L697.5 94.64 L698.5 94.91 L699.5 93.04 L700.5 94.72 L701.5 94.79 L702.5 95.45 L703.5 95.01 L704.5 95.67 L705.5 95.66 L706.5 94.33 L707.5 95.66 L708.5 95.73 L709.5 95.38 L710.5 95.47 L711.5 94.52 L712.5 94.5 L713.5 95 L714.5 93.83 L715.5 94.04 L716.5 94.42 L717.5 95.44 L718.5 94.6 L719.5 94.3 L720.5 94.05 L721.5 93.01 L722.5 95.16 L723.5 93.76 L724.5 93.58 L725.5 94.44 L726.5 94.38 L727.5 94.46 L728.5 95.53 L729.5 95.64 L730.5 94.37 L731.5 94.39 L732.5 95.09 L733.5 93.86 L734.5 94.85 L735.5 94.75 L736.5 95.69 L737.5 95.45 L738.5 95.19 L739.5 93.04 L740.5 94.18 L741.5 95.3 L742.5 94.9 L743.5 94.03 L744.5 93.84 L745.5 94.41 L746.5 95.13 L747.5 94.46 L748.5 94.4 L749.5 93.36 L750.5 94.93 L751.5 94.33 L752.5 94.61 L753.5 94.5 L754.5 95.52 L755.5 94.22 L756.5 95.54 L757.5 95.43 L758.5 93.74 L759.5 95.72 L760.5 94.26 L761.5 94.8 L762.5 94.99 L763.5 94.06 L764.5 94.76 L765.5 95.32 L766.5 95.43 L767.5 94.01 L768.5 94.83 L769.5 95.02 L770.5 93.55 L771.5 95.26 L772.5 94.37 L773.5 94.6 L774.5 93.61 L775.5 94.03 L776.5 94.75 L777.5 95.4 L778.5 93.66 L779.5 94.83 L780.5 92.78 L781.5 93.45 L782.5 95.03 L783.5 95.44 L784.5 95.01 L785.5 95.61 L786.5 94.93 L787.5 95.04 L788.5 94.06 L789.5 95.61 L790.5 95.12 L791.5 94.43 L792.5 95.15 L793.5 94.79 L794.5 94.94 L795.5 95.02 L796.5 94.12 L797.5 95.28 L798.5 94.53 L799.5 95.07 L800.5 94.54 L801.5 94.11 L802.5 94.94 L803.5 95.53 L804.5 94.59 L805.5 94.66 L806.5 95.55 L807.5 95.27 L808.5 95.7 L809.5 95.24 L810.5 94.88 L811.5 95.02 L812.5 94.35 L813.5 94.16 L814.5 95.6 L815.5 95.31 L816.5 95.59 L817.5 94.84 L818.5 94.81 L819.5 94.73 L820.5 95.05 L821.5 93.33 L822.5 95.43 L823.5 94.94 L824.5 93.94 L825.5 95.18 L826.5 91.92 L827.5 95.34 L828.5 93.88 L829.5 94.89 L830.5 95.72 L831.5 93.33 L832.5 94.15 L833.5 94.36 L834.5 94.93 L835.5 95.7 L836.5 95.6 L837.5 95.66 L838.5 93.4 L839.5 95.3 L840.5 93.33 L841.5 92.83 L842.5 94.76 L843.5 95.28 L844.5 95.21 L845.5 95.73 L846.5 94.31 L847.5 92.58 L848.5 95.02 L849.5 94.69 L850.5 95.68 L851.5 93.83 L852.5 94.82 L853.5 95.2 L854.5 93.91 L855.5 95.5 L856.5 94.33 L857.5 95.73 L858.5 95.55 L859.5 95.33 L860.5 93.51 L861.5 94.31 L862.5 95.67 L863.5 93.51 L864.5 92.61 L864.5 127.03 L863.5 128.98 L862.5 128.28 L861.5 127.39 L860.5 126.89 L859.5 127.29 L858.5 127.4 L857.5 127.19 L856.5 126.95 L855.5 127.38 L854.5 127.64 L853.5 127.16 L852.5 128.23 L851.5 127.77 L850.5 127.28 L849.5 127.1 L848.5 127.17 L847.5 126.88 L846.5 128.37 L845.5 127.67 L844.5 127.09 L843.5 128.09 L842.5 127.65 L841.5 126.98 L840.5 127.48 L839.5 128.65 L838.5 126.94 L837.5 127.28 L836.5 127.55 L835.5 127.97 L834.5 128.22 L833.5 127.34 L832.5 127.77 L831.5 127.02 L830.5 127.58 L829.5 127.84 L828.5 127.02 L827.5 128.16 L826.5 127.95 L825.5 129.01 L824.5 127.37 L823.5 127.28 L822.5 127.16 L821.5 127.36 L820.5 127.53 L819.5 128.56 L818.5 128.07 L817.5 127.28 L816.5 128.05 L815.5 127.22 L814.5 129.23 L813.5 127.03 L812.5 128.08 L811.5 127.64 L810.5 127.08 L809.5 127.54 L808.5 127.66 L807.5 126.88 L806.5 128.02 L805.5 127.08 L804.5 127.74 L803.5 126.88 L802.5 127.43 L801.5 127.12 L800.5 127.22 L799.5 127.38 L798.5 127.57 L797.5 127.08 L796.5 127.03 L795.5 127.56 L794.5 127 L793.5 127.31 L792.5 128.02 L791.5 128.74 L790.5 127.22 L789.5 129.5 L788.5 127.82 L787.5 127.87 L786.5 127.56 L785.5 126.88 L784.5 126.93 L783.5 126.96 L782.5 129.33 L781.5 128.55 L780.5 128.6 L779.5 127.35 L778.5 127.83 L777.5 128.35 L776.5 127.69 L775.5 127.12 L774.5 126.94 L773.5 127.78 L772.5 127.11 L771.5 127.85 L770.5 127.41 L769.5 127.14 L768.5 128.05 L767.5 126.93 L766.5 127.71 L765.5 127.14 L764.5 127.81 L763.5 127.02 L762.5 127.79 L761.5 127.28 L760.5 127.04 L759.5 127.17 L758.5 128.01 L757.5 127.51 L756.5 127.55 L755.5 127.18 L754.5 129.46 L753.5 127.5 L752.5 127.14 L751.5 127.07 L750.5 127.7 L749.5 127.53 L748.5 127.04 L747.5 127.5 L746.5 127.29 L745.5 127.29 L744.5 127.56 L743.5 128.36 L742.5 127.93 L741.5 127.16 L740.5 126.97 L739.5 127.7 L738.5 127.06 L737.5 127.89 L736.5 128.14 L735.5 129.21 L734.5 128.03 L733.5 126.92 L732.5 126.96 L731.5 128.66 L730.5 128.47 L729.5 128.01 L728.5 127.06 L727.5 127.59 L726.5 128.31 L725.5 127.24 L724.5 127.72 L723.5 127.87 L722.5 129.31 L721.5 127.04 L720.5 127 L719.5 128.37 L718.5 127.3 L717.5 127.69 L716.5 128.06 L715.5 127.59 L714.5 127.18 L713.5 128.07 L712.5 127.09 L711.5 127.47 L710.5 127.07 L709.5 128.01 L708.5 127.04 L707.5 128.36 L706.5 127.67 L705.5 127.48 L704.5 127.05 L703.5 126.94 L702.5 126.96 L701.5 127.9 L700.5 127.41 L699.5 127.79 L698.5 127.35 L697.5 127.87 L696.5 127.18 L695.5 127.87 L694.5 127.82 L693.5 127.75 L692.5 127.19 L691.5 127.29 L690.5 127.04 L689.5 127.5 L688.5 127.07 L687.5 128.73 L686.5 127.9 L685.5 127.73 L684.5 127.25 L683.5 127.2 L682.5 127.24 L681.5 128.72 L680.5 128.35 L679.5 127.65 L678.5 127.39 L677.5 127.67 L676.5 127.86 L675.5 128.78 L674.5 127 L673.5 128.59 L672.5 129.38 L671.5 127.35 L670.5 127.01 L669.5 127.65 L668.5 127.56 L667.5 127.18 L666.5 127.16 L665.5 127.8 L664.5 127.69 L663.5 127.48 L662.5 128.13 L661.5 127.44 L660.5 127.56 L659.5 127.82 L658.5 126.9 L657.5 127.5 L656.5 127.37 L655.5 127.14 L654.5 127.31 L653.5 127.27 L652.5 127.17 L651.5 128.12 L650.5 127.1 L649.5 127.38 L648.5 127.68 L647.5 127.69 L646.5 127.65 L645.5 127.31 L644.5 126.93 L643.5 127.78 L642.5 127.08 L641.5 127.36 L640.5 127.88 L639.5 127.85 L638.5 128.38 L637.5 127.36 L636.5 128.29 L635.5 128.24 L634.5 129.09 L633.5 127.2 L632.5 127.61 L631.5 127.43 L630.5 127.09 L629.5 129.34 L628.5 127.62 L627.5 127.64 L626.5 127.51 L625.5 129.07 L624.5 127.72 L623.5 127.23 L622.5 127.04 L621.5 127.79Z" fill="#ff0000"/><path d="M621.5 121.82V131.86M625.5 121.82V130.96M628.5 121.82V130.62M633.5 121.82V130.89M634.5 121.82V130.32M635.5 121.82V133.35M636.5 121.82V133.19M638.5 121.82V130.71M639.5 121.82V130.41M642.5 121.82V131.05M643.5 121.82V134.08M646.5 121.82V132.78M647.5 121.82V129.92M648.5 121.82V132.91M649.5 121.82V133.69M650.5 121.82V130.56M651.5 121.82V130.45M652.5 121.82V130.88M653.5 121.82V131.51M654.5 121.82V134.87M658.5 121.82V130.36M659.5 121.82V130.86M661.5 121.82V133.57M662.5 121.82V132.07M663.5 121.82V130.78M666.5 121.82V131.05M667.5 121.82V131.13M671.5 121.82V134.89M674.5 121.82V132.4M676.5 121.82V131.5M677.5 121.82V131.66M678.5 121.82V130.1M679.5 121.82V132.69M680.5 121.82V132.85M681.5 121.82V132.8M682.5 121.82V131.58M683.5 121.82V131.89M684.5 121.82V134.75M687.5 121.82V130.04M688.5 121.82V132.11M689.5 121.82V132.36M691.5 121.82V138.44M694.5 121.82V134.31M695.5 121.82V134.55M698.5 121.82V132.74M699.5 121.82V133.53M700.5 121.82V133.89M704.5 121.82V130.84M705.5 121.82V131.61M706.5 121.82V129.99M707.5 121.82V131.25M709.5 121.82V130.12M710.5 121.82V130.8M711.5 121.82V131.99M715.5 121.82V130.26M716.5 121.82V133.81M719.5 121.82V131.87M720.5 121.82V130.57M722.5 121.82V130.77M727.5 121.82V130.47M728.5 121.82V133.02M729.5 121.82V130.7M730.5 121.82V132.53M732.5 121.82V134.97M734.5 121.82V131.49M736.5 121.82V131.83M738.5 121.82V130.6M739.5 121.82V132.1M740.5 121.82V130.42M742.5 121.82V132.88M743.5 121.82V131.1M745.5 121.82V134.71M747.5 121.82V131.82M751.5 121.82V130.32M752.5 121.82V132.4M753.5 121.82V132.92M756.5 121.82V133.56M759.5 121.82V130.35M761.5 121.82V133.03M762.5 121.82V130.57M763.5 121.82V131.32M764.5 121.82V131.02M767.5 121.82V130.66M768.5 121.82V131M771.5 121.82V133.09M774.5 121.82V135.52M775.5 121.82V132.24M781.5 121.82V131.02M785.5 121.82V133.24M788.5 121.82V132.06M789.5 121.82V130.33M791.5 121.82V133.51M793.5 121.82V132.13M794.5 121.82V132.13M795.5 121.82V132.42M796.5 121.82V134.34M797.5 121.82V130.27M800.5 121.82V131.13M801.5 121.82V131M802.5 121.82V131.33M807.5 121.82V129.94M808.5 121.82V129.95M809.5 121.82V133.02M810.5 121.82V133.31M811.5 121.82V132.96M812.5 121.82V130.42M813.5 121.82V131.06M814.5 121.82V132.22M815.5 121.82V136.82M816.5 121.82V137.04M817.5 121.82V132.77M820.5 121.82V131.36M821.5 121.82V134.28M824.5 121.82V135.34M825.5 121.82V132.35M827.5 121.82V130.33M828.5 121.82V132.46M829.5 121.82V130.13M833.5 121.82V130.32M835.5 121.82V131.56M836.5 121.82V130.99M838.5 121.82V132.02M840.5 121.82V135.79M844.5 121.82V131.81M846.5 121.82V130.62M848.5 121.82V133.5M849.5 121.82V133.33M851.5 121.82V130.42M854.5 121.82V132.65M856.5 121.82V135.75M857.5 121.82V131.19M858.5 121.82V130.18M859.5 121.82V132.42M860.5 121.82V134.73" stroke="#ff0000" stroke-width="0.8" stroke-opacity="0.8" fill="none"/><path d="M621.5 91.66V99.05M622.5 93.21V99.05M623.5 93.53V99.05M624.5 93.13V99.05M625.5 90.38V99.05M628.5 92.01V99.05M631.5 91.98V99.05M632.5 93.14V99.05M633.5 93.43V99.05M634.5 86.58V99.05M635.5 92.33V99.05M636.5 93.46V99.05M637.5 90.09V99.05M638.5 85.62V99.05M639.5 92.93V99.05M640.5 93.53V99.05M641.5 93.04V99.05M643.5 89.41V99.05M644.5 90.68V99.05M645.5 92.12V99.05M646.5 91.6V99.05M647.5 90.78V99.05M649.5 90.6V99.05M650.5 89.04V99.05M651.5 87.65V99.05M652.5 93.97V99.05M653.5 90.18V99.05M654.5 93.68V99.05M657.5 92.44V99.05M658.5 93.95V99.05M659.5 90.67V99.05M660.5 88.14V99.05M661.5 82.89V99.05M662.5 92.39V99.05M663.5 93.23V99.05M665.5 91.11V99.05M666.5 91.65V99.05M667.5 88.05V99.05M668.5 87.25V99.05M669.5 88.18V99.05M670.5 91.7V99.05M671.5 93.75V99.05M672.5 93.59V99.05M673.5 89.71V99.05M674.5 87.12V99.05M675.5 90.96V99.05M676.5 85.17V99.05M677.5 91.8V99.05M678.5 92.32V99.05M679.5 89.67V99.05M680.5 93.38V99.05M681.5 90V99.05M682.5 92.99V99.05M683.5 93.66V99.05M684.5 93.93V99.05M685.5 90.5V99.05M686.5 89.8V99.05M687.5 92.89V99.05M689.5 93.18V99.05M691.5 92.68V99.05M694.5 89.72V99.05M695.5 92.57V99.05M696.5 93.76V99.05M697.5 92.68V99.05M698.5 91.01V99.05M699.5 91.02V99.05M700.5 90.74V99.05M701.5 90.79V99.05M702.5 90.67V99.05M703.5 92.59V99.05M704.5 92.77V99.05M705.5 87.27V99.05M706.5 93.9V99.05M707.5 93.59V99.05M708.5 88.84V99.05M709.5 84.61V99.05M710.5 93.58V99.05M711.5 87.67V99.05M713.5 93.5V99.05M714.5 90.82V99.05M715.5 93.67V99.05M716.5 92.88V99.05M717.5 92.88V99.05M719.5 90.88V99.05M720.5 89.84V99.05M721.5 93.51V99.05M722.5 93.71V99.05M723.5 93.95V99.05M726.5 91.8V99.05M727.5 90.74V99.05M728.5 89.05V99.05M729.5 87.92V99.05M731.5 92.72V99.05M733.5 91.4V99.05M735.5 90.89V99.05M736.5 91.45V99.05M737.5 89.86V99.05M738.5 92.95V99.05M739.5 89.77V99.05M740.5 90.67V99.05M741.5 91.4V99.05M742.5 92.19V99.05M743.5 92.61V99.05M744.5 91.77V99.05M745.5 92.89V99.05M747.5 92.43V99.05M748.5 93.33V99.05M749.5 93.59V99.05M750.5 86.23V99.05M751.5 89.04V99.05M752.5 91.56V99.05M753.5 93.54V99.05M754.5 92.25V99.05M755.5 90.62V99.05M756.5 92.48V99.05M757.5 90.31V99.05M758.5 89.83V99.05M759.5 91.58V99.05M760.5 91.16V99.05M762.5 92.81V99.05M763.5 87.85V99.05M764.5 93.78V99.05M765.5 90.82V99.05M766.5 93.94V99.05M767.5 93.22V99.05M768.5 93.2V99.05M770.5 92.82V99.05M771.5 89.83V99.05M774.5 93.67V99.05M775.5 92V99.05M776.5 90.86V99.05M777.5 87.9V99.05M778.5 91.83V99.05M779.5 92.16V99.05M780.5 90.52V99.05M783.5 89.98V99.05M784.5 90.94V99.05M787.5 90.65V99.05M788.5 89.84V99.05M789.5 91.05V99.05M790.5 93.47V99.05M791.5 93.51V99.05M792.5 93.88V99.05M793.5 93.77V99.05M795.5 92.03V99.05M796.5 91.8V99.05M798.5 91.99V99.05M799.5 83.12V99.05M800.5 92.02V99.05M802.5 89.09V99.05M804.5 88.76V99.05M806.5 91.21V99.05M807.5 90.55V99.05M809.5 87.46V99.05M810.5 89.97V99.05M811.5 93.81V99.05M812.5 91.17V99.05M814.5 93.87V99.05M815.5 92.96V99.05M816.5 89.18V99.05M817.5 88.78V99.05M818.5 90.62V99.05M819.5 88.5V99.05M820.5 91.73V99.05M821.5 88.65V99.05M822.5 93.47V99.05M823.5 93.46V99.05M824.5 90.84V99.05M825.5 87.7V99.05M826.5 89.37V99.05M827.5 91.91V99.05M828.5 91.17V99.05M829.5 86.74V99.05M830.5 91.87V99.05M832.5 88.72V99.05M833.5 93.91V99.05M834.5 92.54V99.05M837.5 93.21V99.05M838.5 90.04V99.05M839.5 93.98V99.05M840.5 85.08V99.05M841.5 91.55V99.05M844.5 93.56V99.05M845.5 90.8V99.05M846.5 93.81V99.05M847.5 91.21V99.05M848.5 93.21V99.05M849.5 90.23V99.05M851.5 87V99.05M852.5 93.78V99.05M853.5 90.64V99.05M854.5 87.94V99.05M856.5 93.08V99.05M857.5 87.85V99.05M858.5 91.98V99.05M859.5 91.75V99.05M860.5 84.79V99.05M861.5 90.31V99.05M862.5 92.25V99.05M863.5 91.83V99.05" stroke="#ff0000" stroke-width="0.9" stroke-opacity="0.8" fill="none"/><path d="M623.5 126.88V135.75M627.5 126.88V139.69M628.5 126.88V137.39M629.5 126.88V137.8M631.5 126.88V136M636.5 126.88V139.05M643.5 126.88V138.48M648.5 126.88V136.29M653.5 126.88V136.71M654.5 126.88V137.18M655.5 126.88V136.99M658.5 126.88V136.73M659.5 126.88V137.76M662.5 126.88V137.81M663.5 126.88V138.58M664.5 126.88V137.29M665.5 126.88V136.1M668.5 126.88V136.39M670.5 126.88V137.34M681.5 126.88V136.72M685.5 126.88V137.61M686.5 126.88V136.57M689.5 126.88V137.37M692.5 126.88V135.97M694.5 126.88V137.58M695.5 126.88V138.16M696.5 126.88V136.33M702.5 126.88V137.44M705.5 126.88V136.79M707.5 126.88V136.56M709.5 126.88V136.62M713.5 126.88V138M714.5 126.88V136.26M719.5 126.88V136.11M722.5 126.88V138.24M728.5 126.88V137.53M735.5 126.88V138.27M737.5 126.88V135.81M740.5 126.88V137.32M745.5 126.88V137.78M746.5 126.88V137.22M747.5 126.88V138.2M748.5 126.88V136.56M752.5 126.88V136.68M754.5 126.88V136.32M755.5 126.88V136.11M757.5 126.88V136.91M760.5 126.88V136.01M761.5 126.88V136.56M766.5 126.88V135.92M775.5 126.88V137.08M776.5 126.88V136M778.5 126.88V139.03M781.5 126.88V140.12M783.5 126.88V137.74M785.5 126.88V136.41M786.5 126.88V136.38M789.5 126.88V136.21M800.5 126.88V137.04M801.5 126.88V138.91M802.5 126.88V138.05M803.5 126.88V136.78M809.5 126.88V138.21M812.5 126.88V136.97M813.5 126.88V137.31M819.5 126.88V138.39M822.5 126.88V137.16M823.5 126.88V138.26M825.5 126.88V138.12M827.5 126.88V135.95M835.5 126.88V136.27M836.5 126.88V138.62M838.5 126.88V138.6M846.5 126.88V138.18M848.5 126.88V137.93M849.5 126.88V137.73M852.5 126.88V141.78M860.5 126.88V139.66M864.5 126.88V136.81" stroke="#ff0000" stroke-width="0.7" stroke-opacity="0.6" fill="none"/><path d="M621.3 117.24 L621.77 115.94 L622.24 117.6 L622.71 116.63 L623.18 116.77 L623.65 117.42 L624.12 118.07 L624.58 116.73 L625.05 118.37 L625.52 117.5 L625.99 116.99 L626.46 117.17 L626.93 117.96 L627.4 117.59 L627.87 118.15 L628.34 115.55 L628.81 118.69 L629.28 117.7 L629.75 117.12 L630.22 116.85 L630.69 116.58 L631.15 118.5 L631.62 117.91 L632.09 116.55 L632.56 117.02 L633.03 117.49 L633.5 117.35 L633.97 117.53 L634.44 116.47 L634.91 116.98 L635.38 116.77 L635.85 117.96 L636.32 117.28 L636.79 116.98 L637.25 117.72 L637.72 117.95 L638.19 117.59 L638.66 118.03 L639.13 118.11 L639.6 116.66 L640.07 116.96 L640.54 116.91 L641.01 116.06 L641.48 117.77 L641.95 117.14 L642.42 118.18 L642.89 116.77 L643.36 117.79 L643.82 117.81 L644.29 117.25 L644.76 118.01 L645.23 116.66 L645.7 116.83 L646.17 117.5 L646.64 118.37 L647.11 117.77 L647.58 118.62 L648.05 118.71 L648.52 118.73 L648.99 118.2 L649.46 118.39 L649.92 118.41 L650.39 119.02 L650.86 118.54 L651.33 118.07 L651.8 118.59 L652.27 118.17 L652.74 116.5 L653.21 117.21 L653.68 118.29 L654.15 118.34 L654.62 117.02 L655.09 116.95 L655.56 117.29 L656.03 119.17 L656.49 117.11 L656.96 117.96 L657.43 117.04 L657.9 117.52 L658.37 116.96 L658.84 117.47 L659.31 116.82 L659.78 117.69 L660.25 116.95 L660.72 117.57 L661.19 117.18 L661.66 116.35 L662.13 117.49 L662.59 117.64 L663.06 118.93 L663.53 117.91 L664 117.7 L664.47 119.12 L664.94 118.8 L665.41 119.12 L665.88 118.65 L666.35 117.47 L666.82 117.54 L667.29 118.31 L667.76 117.57 L668.23 117.96 L668.7 117.81 L669.16 117.99 L669.63 118.19 L670.1 117.98 L670.57 117.98 L671.04 117.4 L671.51 117.36 L671.98 117.54 L672.45 118.52 L672.92 118.88 L673.39 117.62 L673.86 118.07 L674.33 117.97 L674.8 119.11 L675.26 117.85 L675.73 118.23 L676.2 117.97 L676.67 118.37 L677.14 117.43 L677.61 118.87 L678.08 116.99 L678.55 119.27 L679.02 118.09 L679.49 118.53 L679.96 119.42 L680.43 118.03 L680.9 117.49 L681.37 119.08 L681.83 117.5 L682.3 117.54 L682.77 118.05 L683.24 118.83 L683.71 119.2 L684.18 119.32 L684.65 117.44 L685.12 118.19 L685.59 118.55 L686.06 118.08 L686.53 118.51 L687 118.92 L687.47 118.33 L687.93 120.06 L688.4 118.62 L688.87 119.05 L689.34 118.05 L689.81 118.08 L690.28 117.81 L690.75 118.76 L691.22 119.32 L691.69 117.67 L692.16 118.81 L692.63 117.87 L693.1 119.02 L693.57 117.98 L694.04 119.02 L694.5 117.79 L694.97 118.67 L695.44 118.7 L695.91 118.56 L696.38 119.7 L696.85 118.38 L697.32 117.84 L697.79 118.82 L698.26 117.64 L698.73 118.09 L699.2 119.28 L699.67 118.44 L700.14 119.13 L700.6 119.99 L701.07 118.41 L701.54 118.14 L702.01 118.98 L702.48 118.22 L702.95 117.86 L703.42 119.11 L703.89 119.34 L704.36 118.73 L704.83 118.49 L705.3 119.14 L705.77 118.94 L706.24 119.82 L706.7 119.96 L707.17 118.68 L707.64 120.4 L708.11 119.1 L708.58 119.21 L709.05 118.22 L709.52 118.17 L709.99 119.31 L710.46 119.28 L710.93 119.29 L711.4 119.27 L711.87 119.43 L712.34 118.14 L712.81 118.73 L713.27 118.77 L713.74 119.54 L714.21 119 L714.68 119.01 L715.15 119.86 L715.62 119.23 L716.09 119.04 L716.56 119.3 L717.03 119.33 L717.5 118.87 L717.97 120.25 L718.44 119.4 L718.91 120.15 L719.37 119.47 L719.84 119.77 L720.31 118.88 L720.78 119.33 L721.25 119.09 L721.72 118.45 L722.19 118.82 L722.66 118.97 L723.13 118.92 L723.6 117.94 L724.07 118.63 L724.54 119.54 L725.01 117.79 L725.48 118.91 L725.94 119.62 L726.41 120.5 L726.88 118.01 L727.35 119.18 L727.82 118.78 L728.29 119.27 L728.76 119.47 L729.23 119.04 L729.7 119.72 L730.17 119.58 L730.64 118.96 L731.11 120.31 L731.58 118.95 L732.04 120.04 L732.51 118.66 L732.98 119.39 L733.45 118.19 L733.92 118.68 L734.39 119.49 L734.86 119.01 L735.33 120.45 L735.8 119.28 L736.27 120.85 L736.74 118.72 L737.21 118.4 L737.68 118.71 L738.15 119.38 L738.61 119.08 L739.08 120.22 L739.55 119.45 L740.02 119.59 L740.49 119.45 L740.96 121.25 L741.43 120.55 L741.9 118.9 L742.37 120.81 L742.84 118.78 L743.31 119.25 L743.78 120.09 L744.25 119.67 L744.71 119.78 L745.18 120.72 L745.65 120.84 L746.12 118.42 L746.59 120.5 L747.06 120.56 L747.53 119.73 L748 118.61 L748.47 118.32 L748.94 119.56 L749.41 118.17 L749.88 119.54 L750.35 120.14 L750.82 120.34 L751.28 119.69 L751.75 121.29 L752.22 120.6 L752.69 120.04 L753.16 120.2 L753.63 119.45 L754.1 120.34 L754.57 119.56 L755.04 120.75 L755.51 121.76 L755.98 119.56 L756.45 118.22 L756.92 118.75 L757.38 119.12 L757.85 119.16 L758.32 120.72 L758.79 119.61 L759.26 119.79 L759.73 119.63 L760.2 120.34 L760.67 120.99 L761.14 121.26 L761.61 121.08 L762.08 119.97 L762.55 119.87 L763.02 120.52 L763.49 120.44 L763.95 119.69 L764.42 119.78 L764.89 120.84 L765.36 121.38 L765.83 120.43 L766.3 121.21 L766.77 120.33 L767.24 119.92 L767.71 120.51 L768.18 120.72 L768.65 120.83 L769.12 121.66 L769.59 122.07 L770.05 120.45 L770.52 121.75 L770.99 122.48 L771.46 121.61 L771.93 121.85 L772.4 121.8 L772.87 121.31 L773.34 121.24 L773.81 120.36 L774.28 119.7 L774.75 121.16 L775.22 121 L775.69 120.67 L776.16 119.65 L776.62 121.21 L777.09 120.87 L777.56 119.82 L778.03 120.98 L778.5 121.16 L778.97 121.8 L779.44 121.01 L779.91 119.9 L780.38 120.45 L780.85 119.88 L781.32 121.22 L781.79 119.95 L782.26 119.74 L782.72 120.95 L783.19 119.79 L783.66 121.44 L784.13 121.81 L784.6 121.36 L785.07 120.83 L785.54 120.87 L786.01 121.24 L786.48 121.93 L786.95 120.36 L787.42 121.2 L787.89 119.59 L788.36 120.55 L788.83 121.22 L789.29 120.79 L789.76 120.4 L790.23 121.09 L790.7 121.16 L791.17 120.02 L791.64 120.89 L792.11 120.79 L792.58 120.05 L793.05 121.54 L793.52 120.06 L793.99 120 L794.46 120.62 L794.93 120.23 L795.39 121.26 L795.86 120.52 L796.33 122.52 L796.8 121.08 L797.27 121.39 L797.74 121.03 L798.21 119.82 L798.68 121.01 L799.15 121.01 L799.62 120.29 L800.09 120.88 L800.56 120.31 L801.03 120.6 L801.5 120.41 L801.96 120.59 L802.43 121.05 L802.9 120.74 L803.37 120.78 L803.84 120.32 L804.31 121.53 L804.78 121.8 L805.25 121.37 L805.72 121.69 L806.19 121.01 L806.66 122.08 L807.13 120.58 L807.6 121.74 L808.06 121.11 L808.53 121.43 L809 122.03 L809.47 121.49 L809.94 121.64 L810.41 121.26 L810.88 122.98 L811.35 122.67 L811.82 120.77 L812.29 121.04 L812.76 121.98 L813.23 122.93 L813.7 121.44 L814.17 121.97 L814.63 122.05 L815.1 121.49 L815.57 121.59 L816.04 122.34 L816.51 122.63 L816.98 121.31 L817.45 120.91 L817.92 121.35 L818.39 121.35 L818.86 121.56 L819.33 122.11 L819.8 121.49 L820.27 121.99 L820.73 122.29 L821.2 122.21 L821.67 121.86 L822.14 122.24 L822.61 122.49 L823.08 122.33 L823.55 121.78 L824.02 122.66 L824.49 120.63 L824.96 121.92 L825.43 122.1 L825.9 122.2 L826.37 121.35 L826.84 122.33 L827.3 122.13 L827.77 122.22 L828.24 121.99 L828.71 122.91 L829.18 122.5 L829.65 123.24 L830.12 121.95 L830.59 123.27 L831.06 122.38 L831.53 122.95 L832 121.6 L832.47 122.42 L832.94 121.77 L833.4 123.24 L833.87 122.9 L834.34 122.02 L834.81 122.04 L835.28 122.14 L835.75 122.05 L836.22 123.3 L836.69 123.3 L837.16 121.3 L837.63 121.91 L838.1 122.54 L838.57 122.14 L839.04 122.6 L839.51 122.32 L839.97 122.64 L840.44 123.82 L840.91 122.41 L841.38 121.73 L841.85 123.31 L842.32 122.83 L842.79 121.8 L843.26 122.74 L843.73 123.16 L844.2 122.94 L844.67 122.1 L845.14 123.19 L845.61 123.91 L846.07 121.24 L846.54 122.68 L847.01 122.59 L847.48 123.38 L847.95 122.28 L848.42 121.88 L848.89 122.46 L849.36 122.01 L849.83 122.78 L850.3 122.67 L850.77 121.48 L851.24 123.34 L851.71 123.12 L852.18 123.47 L852.64 121.11 L853.11 122.15 L853.58 122.03 L854.05 121.89 L854.52 121.09 L854.99 121.95 L855.46 122.46 L855.93 122.52 L856.4 122.98 L856.87 122.93 L857.34 123.29 L857.81 123.08 L858.28 123.48 L858.74 124 L859.21 122.73 L859.68 123.55 L860.15 122.52 L860.62 122.95 L861.09 124.24 L861.56 123.86 L862.03 122.96 L862.5 122.66 L862.97 123.67 L863.44 122.03 L863.91 123.36 L864.38 122.55 L864.85 121.54 L865.31 122.81" stroke="#000000" stroke-width="1.5" fill="none" stroke-linejoin="round"/></g><rect x="621.3" y="61.1" width="275.5" height="101.2" fill="none" stroke="#555" stroke-width="0.9"/><path d="M621.3 162.3 v-2.2 M621.3 61.1 v2.2" stroke="#666" stroke-width="0.7"/><text x="621.3" y="177.7" text-anchor="middle" style='font-family:"Liberation Sans",sans-serif;font-size:10.6px' fill="#333">0</text><path d="M660.66 162.3 v-2.2 M660.66 61.1 v2.2" stroke="#666" stroke-width="0.7"/><text x="660.66" y="177.7" text-anchor="middle" style='font-family:"Liberation Sans",sans-serif;font-size:10.6px' fill="#333">50</text><path d="M700.01 162.3 v-2.2 M700.01 61.1 v2.2" stroke="#666" stroke-width="0.7"/><text x="700.01" y="177.7" text-anchor="middle" style='font-family:"Liberation Sans",sans-serif;font-size:10.6px' fill="#333">100</text><path d="M739.37 162.3 v-2.2 M739.37 61.1 v2.2" stroke="#666" stroke-width="0.7"/><text x="739.37" y="177.7" text-anchor="middle" style='font-family:"Liberation Sans",sans-serif;font-size:10.6px' fill="#333">150</text><path d="M778.73 162.3 v-2.2 M778.73 61.1 v2.2" stroke="#666" stroke-width="0.7"/><text x="778.73" y="177.7" text-anchor="middle" style='font-family:"Liberation Sans",sans-serif;font-size:10.6px' fill="#333">200</text><path d="M818.09 162.3 v-2.2 M818.09 61.1 v2.2" stroke="#666" stroke-width="0.7"/><text x="818.09" y="177.7" text-anchor="middle" style='font-family:"Liberation Sans",sans-serif;font-size:10.6px' fill="#333">250</text><path d="M857.44 162.3 v-2.2 M857.44 61.1 v2.2" stroke="#666" stroke-width="0.7"/><text x="857.44" y="177.7" text-anchor="middle" style='font-family:"Liberation Sans",sans-serif;font-size:10.6px' fill="#333">300</text><path d="M896.8 162.3 v-2.2 M896.8 61.1 v2.2" stroke="#666" stroke-width="0.7"/><text x="896.8" y="177.7" text-anchor="middle" style='font-family:"Liberation Sans",sans-serif;font-size:10.6px' fill="#333">350</text><path d="M621.3 162.3 h2.2 M896.8 162.3 h-2.2" stroke="#666" stroke-width="0.7"/><text x="616.7" y="166.8" text-anchor="end" style='font-family:"Liberation Sans",sans-serif;font-size:10.6px' fill="#333">-2</text><path d="M621.3 137 h2.2 M896.8 137 h-2.2" stroke="#666" stroke-width="0.7"/><text x="616.7" y="141.5" text-anchor="end" style='font-family:"Liberation Sans",sans-serif;font-size:10.6px' fill="#333">-1</text><path d="M621.3 111.7 h2.2 M896.8 111.7 h-2.2" stroke="#666" stroke-width="0.7"/><text x="616.7" y="116.2" text-anchor="end" style='font-family:"Liberation Sans",sans-serif;font-size:10.6px' fill="#333">0</text><path d="M621.3 86.4 h2.2 M896.8 86.4 h-2.2" stroke="#666" stroke-width="0.7"/><text x="616.7" y="90.9" text-anchor="end" style='font-family:"Liberation Sans",sans-serif;font-size:10.6px' fill="#333">1</text><path d="M621.3 61.1 h2.2 M896.8 61.1 h-2.2" stroke="#666" stroke-width="0.7"/><text x="616.7" y="65.6" text-anchor="end" style='font-family:"Liberation Sans",sans-serif;font-size:10.6px' fill="#333">2</text><text transform="translate(602.6,111.7) rotate(-90)" text-anchor="middle" style='font-family:"Liberation Sans",sans-serif;font-size:12.4px' fill="#333">Position[nm]</text><text x="759.05" y="193.7" text-anchor="middle" style='font-family:"Liberation Sans",sans-serif;font-size:12.4px' fill="#333">time[s]</text><rect x="787.6" y="68.3" width="102.6" height="41" fill="#fff" stroke="#444" stroke-width="0.7"/><path d="M789.8 76.6 H807.2" stroke="#0000ff" stroke-width="0.9" stroke-opacity="0.6"/><text x="809.8" y="80.2" style='font-family:"Liberation Sans","Noto Serif CJK SC",serif;font-size:9.6px' fill="#444" textLength="26.4" lengthAdjust="spacingAndGlyphs">全频段</text><text x="836.4" y="80.5" style='font-family:"Liberation Sans",sans-serif;font-size:10.1px' fill="#2a2a2a">0.73978nm</text><path d="M789.8 89.85 H807.2" stroke="#ff0000" stroke-width="0.9" stroke-opacity="0.6"/><text x="809.8" y="93.45" style='font-family:"Liberation Sans","Noto Serif CJK SC",serif;font-size:9.6px' fill="#444" textLength="26.4" lengthAdjust="spacingAndGlyphs">高频段</text><text x="836.4" y="93.75" style='font-family:"Liberation Sans",sans-serif;font-size:10.1px' fill="#2a2a2a">0.69052nm</text><path d="M789.8 103.1 H807.2" stroke="#000" stroke-width="0.9" stroke-opacity="0.6"/><text x="809.8" y="106.7" style='font-family:"Liberation Sans","Noto Serif CJK SC",serif;font-size:9.6px' fill="#444" textLength="26.4" lengthAdjust="spacingAndGlyphs">低频段</text><text x="836.4" y="107" style='font-family:"Liberation Sans",sans-serif;font-size:10.1px' fill="#2a2a2a">0.26541nm</text></g><rect x="-5.4" y="171.4" width="339.9" height="4" fill="url(#sht)"/><clipPath id="w95"><rect x="-7.4" y="175.4" width="339.9" height="164.6"/></clipPath><g clip-path="url(#w95)"><rect x="-7.4" y="176.3" width="339.9" height="163.7" fill="#f0f0f0"/><rect x="-7.4" y="175.4" width="339.9" height="32.5" fill="#fff"/><path d="M-7.4 208.1 H332.5" stroke="#e2e2e2" stroke-width="0.8"/><rect x="-7.4" y="208.5" width="339.9" height="15.3" fill="#f2f2f2"/><path d="M-7.4 224.1 H332.5" stroke="#dcdcdc" stroke-width="0.8"/><g transform="translate(-3.1,180.6)"><rect x="0.4" y="0.4" width="8.8" height="9" fill="#f6f7fa" stroke="#a0aac0" stroke-width="0.8"/><rect x="0.4" y="0.4" width="8.8" height="1.3" fill="#7f98c8"/><path d="M1.2 7 L5.4 2.4 L8.2 8 L6.4 6.8 Z" fill="#e06a1c"/><path d="M1.2 7 L3.6 4.4 L4.8 6.8 L3 7.6 Z" fill="#2f6db5"/><path d="M5.4 2.4 L8.2 8 L6.2 4.8 Z" fill="#b83a10"/></g><text x="8.4" y="188" style='font-family:"Liberation Sans","Noto Sans CJK SC",sans-serif;font-size:8.5px' fill="#a6a6a6" stroke="#a6a6a6" stroke-width="0.25" textLength="27.6" lengthAdjust="spacingAndGlyphs">Figure 4</text><path d="M260.4 184.6 H265.6" stroke="#9a9a9a" stroke-width="0.8"/><rect x="287.2" y="181.9" width="5.6" height="5.6" fill="none" stroke="#9a9a9a" stroke-width="0.8"/><text x="-3.6" y="203" style='font-family:"Liberation Sans","Noto Sans CJK SC",sans-serif;font-size:7.6px' fill="#1a1a1a" stroke="#1a1a1a" stroke-width="0.15" textLength="22.1" lengthAdjust="spacingAndGlyphs">文件(F)</text><text x="26.6" y="203" style='font-family:"Liberation Sans","Noto Sans CJK SC",sans-serif;font-size:7.6px' fill="#1a1a1a" stroke="#1a1a1a" stroke-width="0.15" textLength="22.6" lengthAdjust="spacingAndGlyphs">编辑(E)</text><text x="57.3" y="203" style='font-family:"Liberation Sans","Noto Sans CJK SC",sans-serif;font-size:7.6px' fill="#1a1a1a" stroke="#1a1a1a" stroke-width="0.15" textLength="22.9" lengthAdjust="spacingAndGlyphs">查看(V)</text><text x="88.3" y="203" style='font-family:"Liberation Sans","Noto Sans CJK SC",sans-serif;font-size:7.6px' fill="#1a1a1a" stroke="#1a1a1a" stroke-width="0.15" textLength="20.9" lengthAdjust="spacingAndGlyphs">插入(I)</text><text x="117.1" y="203" style='font-family:"Liberation Sans","Noto Sans CJK SC",sans-serif;font-size:7.6px' fill="#1a1a1a" stroke="#1a1a1a" stroke-width="0.15" textLength="22.6" lengthAdjust="spacingAndGlyphs">工具(T)</text><text x="147.4" y="203" style='font-family:"Liberation Sans","Noto Sans CJK SC",sans-serif;font-size:7.6px' fill="#1a1a1a" stroke="#1a1a1a" stroke-width="0.15" textLength="23.3" lengthAdjust="spacingAndGlyphs">桌面(D)</text><text x="178.8" y="203" style='font-family:"Liberation Sans","Noto Sans CJK SC",sans-serif;font-size:7.6px' fill="#1a1a1a" stroke="#1a1a1a" stroke-width="0.15" textLength="25" lengthAdjust="spacingAndGlyphs">窗口(W)</text><text x="211.8" y="203" style='font-family:"Liberation Sans","Noto Sans CJK SC",sans-serif;font-size:7.6px' fill="#1a1a1a" stroke="#1a1a1a" stroke-width="0.15" textLength="24.2" lengthAdjust="spacingAndGlyphs">帮助(H)</text><g transform="translate(-5.3,211)"><path d="M1 0.5 H6 L8.3 2.8 V8.6 H1 Z" fill="#fdfdff" stroke="#7d8fb0" stroke-width="0.8"/><path d="M6 0.5 V2.8 H8.3" fill="#dfe6f2" stroke="#7d8fb0" stroke-width="0.6"/><rect x="0.2" y="0" width="2.6" height="2.6" fill="#f08040"/></g><g transform="translate(7.1,211)"><path d="M0.5 2 H3.5 L4.3 3 H8 V8.3 H0.5 Z" fill="#d9a92c"/><path d="M0.5 8.3 L2 4.3 H9 L7.8 8.3 Z" fill="#f6d56b" stroke="#c89a28" stroke-width="0.5"/><path d="M6 0.8 L8.2 0.8 L8.2 2.6" stroke="#6a8ac0" stroke-width="0.7" fill="none"/></g><g transform="translate(20.7,211)"><rect x="0.4" y="0.4" width="8.4" height="8.4" rx="0.6" fill="#3b4fb0"/><rect x="2" y="0.6" width="5" height="3.4" fill="#e8ecf8"/><rect x="2.6" y="5.6" width="3.8" height="3" fill="#1e2a70"/><rect x="4.4" y="6" width="1.2" height="1.8" fill="#dfe4f0"/></g><g transform="translate(33.6,211)"><rect x="2.4" y="0.4" width="4.4" height="3.6" fill="#f4f6fa" stroke="#9aa4b8" stroke-width="0.5"/><path d="M0.4 4.2 Q0.4 3 1.6 3 H7.4 Q8.6 3 8.6 4.2 V7.4 H0.4 Z" fill="#b4b6bc"/><rect x="1.8" y="6" width="5.4" height="2.7" fill="#e6e7ea" stroke="#8c8e94" stroke-width="0.4"/></g><g transform="translate(51.3,211)"><path d="M2.3 0.6 L2.3 7.6 L4 6 L5.4 8.8 L6.4 8.3 L5 5.6 L7.3 5.4 Z" fill="#fff" stroke="#333" stroke-width="0.7"/></g><g transform="translate(67.4,211)"><path d="M5.2 5.2 L8.6 8.6" stroke="#e09a40" stroke-width="2" stroke-linecap="round"/><circle cx="3.6" cy="3.6" r="3" fill="#dcecfb" stroke="#7a9ad0" stroke-width="0.9"/><path d="M2.2 3.6 H5 M3.6 2.2 V5" stroke="#4a78c0" stroke-width="0.8"/></g><g transform="translate(80.4,211)"><path d="M5.2 5.2 L8.6 8.6" stroke="#e09a40" stroke-width="2" stroke-linecap="round"/><circle cx="3.6" cy="3.6" r="3" fill="#dcecfb" stroke="#7a9ad0" stroke-width="0.9"/><path d="M2.2 3.6 H5" stroke="#4a78c0" stroke-width="0.8"/></g><g transform="translate(92.5,210.5)"><path d="M1.2 5.2 Q0.4 3.6 1.8 3.4 L2.8 4.4 V2 Q3.4 0.6 4.4 1.4 V0.9 Q5.2 0 6 0.9 V1.4 Q7 0.8 7.6 1.8 V3.2 Q8.8 2.8 9.2 3.8 L8.8 6.6 Q8.2 9.8 5.2 9.8 Q2.8 9.8 1.2 5.2 Z" fill="#f7d8bc" stroke="#7f93c6" stroke-width="0.7"/><path d="M3 2.2 V5 M4.5 1.2 V4.6 M6 1.2 V4.6 M7.5 2 V5" stroke="#9fb0d8" stroke-width="0.5"/></g><g transform="translate(105.9,210.5)"><path d="M1.6 3.2 A4 4 0 1 1 1.4 6.6" fill="none" stroke="#3a5490" stroke-width="1.8"/><circle cx="5.2" cy="5" r="2.2" fill="#b8c4dc"/><path d="M4.4 3.8 V6.2 M5.4 3.6 V6.4" stroke="#7f8fb8" stroke-width="0.5"/><path d="M0 4.6 L3 4.2 L2 6.6 Z" fill="#fff" stroke="#9aa" stroke-width="0.3"/></g><g transform="translate(118.5,210.5)"><rect x="4" y="0" width="6" height="5.8" fill="#e6e4a4" stroke="#a8a470" stroke-width="0.5"/><rect x="5" y="1" width="4" height="3.8" fill="#dddb9a"/><path d="M0.4 1.6 L9.4 9.4" stroke="#8080ff" stroke-width="1.2"/><path d="M5 5.6 L1.2 6.4 L2.6 7.4 L1 9.2" stroke="#111" stroke-width="1.4" fill="none"/></g><g transform="translate(132.4,210.5)"><path d="M9.4 0.4 L4.2 6" stroke="#8c94cc" stroke-width="1.9" stroke-linecap="round"/><path d="M0.6 9.6 Q0.4 6.6 3 5.6 L4.4 7 Q3.8 9.6 0.6 9.6 Z" fill="#3a3a3a"/><circle cx="7.6" cy="8.2" r="1.5" fill="#ee0000"/></g><path d="M146.2 214.9 h2.4 l-1.2 1.3 z" fill="#333"/><g transform="translate(155.2,211)"><rect x="0.4" y="0.6" width="7.8" height="6.4" rx="1" fill="#dde4f0" stroke="#4a5f95" stroke-width="0.9"/><rect x="1.8" y="3.2" width="3.2" height="2.2" fill="#7d8fb8"/><rect x="3" y="6.6" width="5.8" height="2.2" rx="0.6" fill="#8596bd" stroke="#4a5f95" stroke-width="0.5"/></g><rect x="183.8" y="208.5" width="13" height="14" fill="#cce4f7"/><g transform="translate(172.7,211)"><rect x="2.3" y="0.4" width="4.6" height="8.4" rx="0.6" fill="url(#cbg)" stroke="#4f5f8f" stroke-width="0.8"/></g><g transform="translate(185.6,211)"><rect x="0.4" y="0.4" width="8.4" height="8.4" fill="#f4f6fb" stroke="#5a6a9a" stroke-width="0.8"/><rect x="1.5" y="2" width="2.4" height="1.8" fill="#e83a3a"/><rect x="1.5" y="5.4" width="2.4" height="1.8" fill="#3a4ae8"/><path d="M4.6 2.9 H7.6 M4.6 6.3 H7.6" stroke="#6a7aa8" stroke-width="0.9"/></g><rect x="204.1" y="212.5" width="6" height="6" rx="0.8" fill="#909090" stroke="#777" stroke-width="0.4"/><g transform="translate(215.4,211)"><rect x="0.4" y="0.4" width="8.4" height="8.4" rx="0.6" fill="#4a64a0"/><rect x="1.8" y="2.2" width="5.6" height="4.4" fill="#f4f6fb"/></g><path d="M46.4 208.5 V222.5" stroke="#d6d6d6" stroke-width="0.8"/><path d="M62.7 208.5 V222.5" stroke="#d6d6d6" stroke-width="0.8"/><path d="M152.1 208.5 V222.5" stroke="#d6d6d6" stroke-width="0.8"/><path d="M168.6 208.5 V222.5" stroke="#d6d6d6" stroke-width="0.8"/><path d="M199.1 208.5 V222.5" stroke="#d6d6d6" stroke-width="0.8"/><path d="M-6.9 340 V175.9" stroke="#b4b4b4" stroke-width="1" fill="none"/><path d="M-7.4 175.9 H332.5" stroke="#c8c8c8" stroke-width="1" fill="none"/><clipPath id="a118"><rect x="36.3" y="234.2" width="263.2" height="71.8"/></clipPath><rect x="36.3" y="234.2" width="263.2" height="71.8" fill="#fff"/><g clip-path="url(#a118)"><path d="M36.5 277.28V291.34M37.5 280.15V281.59M38.5 277.28V291.65M39.5 277.28V291.53M40.5 280.15V281.59M41.5 280.15V281.59M42.5 280.15V281.59M43.5 280.15V281.59M44.5 277.28V291.29M45.5 277.28V291.51M46.5 277.28V291.61M47.5 280.15V281.59M48.5 277.28V291.48M49.5 277.28V292.5M50.5 277.28V291.48M51.5 277.28V291.54M52.5 280.15V281.59M53.5 280.15V281.59M54.5 277.28V290.71M55.5 277.28V291.81M56.5 280.15V281.59M57.5 280.15V281.59M58.5 280.15V281.59M59.5 280.15V281.59M60.5 277.28V291.28M61.5 277.28V291.26M62.5 280.15V281.59M63.5 280.15V281.59M64.5 277.28V291.89M65.5 277.28V291.73M66.5 277.28V291.88M67.5 277.28V290.9M68.5 280.15V281.59M69.5 280.15V281.59M70.5 280.15V281.59M71.5 280.15V281.59M72.5 280.15V281.59M73.5 280.15V281.59M74.5 280.15V281.59M75.5 280.15V281.59M76.5 280.15V281.59M77.5 280.15V281.59M78.5 280.15V281.59M79.5 280.15V281.59M80.5 280.15V281.59M81.5 280.15V281.59M82.5 280.15V281.59M83.5 280.15V281.59M84.5 280.15V281.59M85.5 280.15V281.59M86.5 280.15V281.59M87.5 280.15V281.59M88.5 280.15V281.59M89.5 280.15V281.59M90.5 280.15V281.59M91.5 280.15V281.59M92.5 280.15V281.59M93.5 280.15V281.59M94.5 280.15V281.59M95.5 280.15V281.59M96.5 280.15V281.59M97.5 280.15V281.59M98.5 280.15V281.59M99.5 280.15V281.59M100.5 280.15V281.59M101.5 280.15V281.59M102.5 280.15V281.59M102.5 258.61V260.05M103.5 280.15V281.59M103.5 258.61V260.05M104.5 258.61V260.05M105.5 258.61V260.05M106.5 258.61V260.05M107.5 258.61V260.05M108.5 258.61V260.05M109.5 258.61V260.05M110.5 258.61V260.05M111.5 258.61V260.05M112.5 258.61V260.05M113.5 258.61V260.05M114.5 258.61V260.05M115.5 258.61V260.05M116.5 258.61V260.05M117.5 258.61V260.05M118.5 258.61V260.05M119.5 258.61V260.05M120.5 258.61V260.05M121.5 258.61V260.05M122.5 258.61V260.05M123.5 258.61V260.05M124.5 258.61V260.05M125.5 258.61V260.05M126.5 258.61V260.05M127.5 258.61V260.05M128.5 258.61V260.05M129.5 258.61V260.05M130.5 258.61V260.05M131.5 258.61V260.05M132.5 258.61V260.05M133.5 258.61V260.05M134.5 258.61V260.05M135.5 258.61V260.05M136.5 258.61V260.05M137.5 258.61V260.05M138.5 258.61V260.05M139.5 258.61V260.05M140.5 258.61V260.05M141.5 258.61V260.05M142.5 258.61V260.05M143.5 258.61V260.05M144.5 258.61V260.05M145.5 258.61V260.05M146.5 258.61V260.05M147.5 258.61V260.05M148.5 258.61V260.05M149.5 258.61V260.05M150.5 258.61V260.05M151.5 258.61V260.05M152.5 258.61V260.05M153.5 258.61V260.05M154.5 258.61V260.05M155.5 258.61V260.05M156.5 258.61V260.05M157.5 258.61V260.05M158.5 258.61V260.05M159.5 258.61V260.05M160.5 258.61V260.05M161.5 258.61V260.05M162.5 258.61V260.05M163.5 258.61V260.05M164.5 258.61V260.05M165.5 258.61V260.05M166.5 258.61V260.05M167.5 258.61V260.05M168.5 258.61V260.05M169.5 258.61V260.05M170.5 258.61V260.05M171.5 258.61V260.05M172.5 258.61V260.05M173.5 258.61V260.05M174.5 258.61V260.05M175.5 258.61V260.05M176.5 258.61V260.05M177.5 258.61V260.05M178.5 258.61V260.05M179.5 258.61V260.05M180.5 258.61V260.05M181.5 258.61V260.05M182.5 258.61V260.05M183.5 258.61V260.05M184.5 258.61V260.05M185.5 258.61V260.05M186.5 258.61V260.05M187.5 258.61V260.05M188.5 258.61V260.05M189.5 258.61V260.05M190.5 258.61V260.05M191.5 258.61V260.05M192.5 258.61V260.05M193.5 258.61V260.05M194.5 258.61V260.05M195.5 258.61V260.05M196.5 258.61V260.05M197.5 258.61V260.05M198.5 258.61V260.05M199.5 258.61V260.05M200.5 258.61V260.05M201.5 258.61V260.05M202.5 258.61V260.05M203.5 258.61V260.05M204.5 258.61V260.05M205.5 258.61V260.05M206.5 258.61V260.05M207.5 258.61V260.05M208.5 258.61V260.05M209.5 258.61V260.05M210.5 258.61V260.05M211.5 258.61V260.05M212.5 258.61V260.05M213.5 258.61V260.05M214.5 258.61V260.05M215.5 258.61V260.05M216.5 258.61V260.05M217.5 258.61V260.05M218.5 258.61V260.05M219.5 258.61V260.05M220.5 258.61V260.05M221.5 258.61V260.05M222.5 258.61V260.05M223.5 258.61V260.05M224.5 258.61V260.05M225.5 258.61V260.05M226.5 258.61V260.05M227.5 258.61V260.05M228.5 258.61V260.05M229.5 258.61V260.05M230.5 258.61V260.05M231.5 258.61V260.05M232.5 258.61V260.05M233.5 258.61V260.05M234.5 258.61V260.05M235.5 258.61V260.05M236.5 258.61V260.05M237.5 258.61V260.05M238.5 258.61V260.05M239.5 258.61V260.05M240.5 258.61V260.05M241.5 258.61V260.05M242.5 258.61V260.05M243.5 258.61V260.05M244.5 258.61V260.05M245.5 258.61V260.05M246.5 258.61V260.05M247.5 258.61V260.05M248.5 258.61V260.05M249.5 258.61V260.05M250.5 258.61V260.05M251.5 258.61V260.05M252.5 258.61V260.05M253.5 258.61V260.05M254.5 258.61V260.05M255.5 258.61V260.05M256.5 258.61V260.05M257.5 258.61V260.05M258.5 258.61V260.05M259.5 258.61V260.05M260.5 258.61V260.05M261.5 258.61V260.05M262.5 258.61V260.05M263.5 258.61V260.05M264.5 258.61V260.05M265.5 258.61V260.05M266.5 258.61V260.05M267.5 258.61V260.05M268.5 258.61V260.05" stroke="#0000ff" stroke-width="1" fill="none"/><path d="M92.5 277.28V291.64M101.5 250.71V262.92M104.5 250.71V262.92M136.5 250.71V262.92M140.5 250.71V262.92M158.5 250.71V262.92M164.5 250.71V262.92M165.5 250.71V262.92M167.5 250.71V262.92M168.5 250.71V262.92M169.5 250.71V262.92M170.5 250.71V262.92M172.5 250.71V262.92M173.5 250.71V262.92M174.5 250.71V262.92M176.5 250.71V262.92M178.5 250.71V262.92M179.5 250.71V262.92M180.5 250.71V262.92M181.5 250.71V262.92M182.5 250.71V262.92M183.5 250.71V262.92M184.5 250.71V262.92M185.5 250.71V262.92M188.5 250.71V262.92M189.5 250.71V262.92M190.5 250.71V262.92M194.5 250.71V262.92M206.5 250.71V262.92M209.5 250.71V262.92M218.5 250.71V262.92M221.5 236.35V262.92M222.5 236.35V262.92M223.5 236.35V262.92M224.5 236.35V262.92M226.5 236.35V262.92M227.5 236.35V262.92M228.5 236.35V262.92M229.5 236.35V262.92M230.5 236.35V262.92M231.5 236.35V262.92M234.5 236.35V262.92M235.5 250.71V262.92M236.5 236.35V262.92M237.5 236.35V262.92M238.5 236.35V262.92M239.5 236.35V262.92M240.5 236.35V262.92M242.5 236.35V262.92M244.5 236.35V262.92M245.5 236.35V262.92M246.5 236.35V262.92M247.5 236.35V262.92M248.5 236.35V262.92M249.5 236.35V262.92M250.5 236.35V262.92M251.5 236.35V262.92M252.5 236.35V262.92M254.5 236.35V262.92M256.5 236.35V262.92M260.5 236.35V262.92M261.5 236.35V262.92M262.5 236.35V262.92M263.5 236.35V262.92M266.5 236.35V262.92M267.5 250.71V262.92M268.5 250.71V262.92" stroke="#0000ff" stroke-width="0.9" stroke-opacity="0.8" fill="none"/><path d="M36.5 261.37 L37.5 261.08 L38.5 262.68 L39.5 262.85 L40.5 262.65 L41.5 261.72 L42.5 262.73 L43.5 260.07 L44.5 262.4 L45.5 262.75 L46.5 261.65 L47.5 262.39 L48.5 260.21 L49.5 262.73 L50.5 262.42 L51.5 262.5 L52.5 262.27 L53.5 261.63 L54.5 262.31 L55.5 262.9 L56.5 262.05 L57.5 262.05 L58.5 261.86 L59.5 261.34 L60.5 260.75 L61.5 261.18 L62.5 262.22 L63.5 259.06 L64.5 260.68 L65.5 262.06 L66.5 262.7 L67.5 261.68 L68.5 262.79 L69.5 260.36 L70.5 260.86 L71.5 261.39 L72.5 261.04 L73.5 260.74 L74.5 260.65 L75.5 260.76 L76.5 261.48 L77.5 261.38 L78.5 260.97 L79.5 261.28 L80.5 261.45 L81.5 260.96 L82.5 260.56 L83.5 260.63 L84.5 260.76 L85.5 261.3 L86.5 261.12 L87.5 260.89 L88.5 261.02 L89.5 261.29 L90.5 261.35 L91.5 260.67 L92.5 260.8 L93.5 261.29 L94.5 260.06 L95.5 261.38 L96.5 260.63 L97.5 261.23 L98.5 261.19 L99.5 261.46 L100.5 261.14 L101.5 260.81 L102.5 261.45 L103.5 261.2 L104.5 259.66 L105.5 259.51 L106.5 259.68 L107.5 258.35 L108.5 259.07 L109.5 259.5 L110.5 259.36 L111.5 258.57 L112.5 259.07 L113.5 259.63 L114.5 259.41 L115.5 259.46 L116.5 259.27 L117.5 259.42 L118.5 258.96 L119.5 258.56 L120.5 258.78 L121.5 259.22 L122.5 258.97 L123.5 259.44 L124.5 259.56 L125.5 259.11 L126.5 259.39 L127.5 258.96 L128.5 259.42 L129.5 259.51 L130.5 259.27 L131.5 259.06 L132.5 259.45 L133.5 259.67 L134.5 259.55 L135.5 259.52 L136.5 259.57 L137.5 259.38 L138.5 259.6 L139.5 259.29 L140.5 259.48 L141.5 259.38 L142.5 259.25 L143.5 259.38 L144.5 259.27 L145.5 259.48 L146.5 259.16 L147.5 259.54 L148.5 259.02 L149.5 259.29 L150.5 259.53 L151.5 259.35 L152.5 259.42 L153.5 259.1 L154.5 259.38 L155.5 259.49 L156.5 259.3 L157.5 259.62 L158.5 258.78 L159.5 259.12 L160.5 259.63 L161.5 258.67 L162.5 259.63 L163.5 259.48 L164.5 259.55 L165.5 259.21 L166.5 259.56 L167.5 259.57 L168.5 259.34 L169.5 259.18 L170.5 259.29 L171.5 258.84 L172.5 259.43 L173.5 259.22 L174.5 259.14 L175.5 259.61 L176.5 259.01 L177.5 259.45 L178.5 259.58 L179.5 259.3 L180.5 259.49 L181.5 259.5 L182.5 259.68 L183.5 259.45 L184.5 259.49 L185.5 259.62 L186.5 259.32 L187.5 259.39 L188.5 258.84 L189.5 258.92 L190.5 258.98 L191.5 259.61 L192.5 259.01 L193.5 258.76 L194.5 259.3 L195.5 259.67 L196.5 259.48 L197.5 259.25 L198.5 259.37 L199.5 259.33 L200.5 259.37 L201.5 259.22 L202.5 259.19 L203.5 259.36 L204.5 259.42 L205.5 258.51 L206.5 259.57 L207.5 259.58 L208.5 259.54 L209.5 259.66 L210.5 259.07 L211.5 259.29 L212.5 259.58 L213.5 259.1 L214.5 259.64 L215.5 259.38 L216.5 258.69 L217.5 259.05 L218.5 259.68 L219.5 259.67 L220.5 259.41 L221.5 259.48 L222.5 259.13 L223.5 259.39 L224.5 259.44 L225.5 259.68 L226.5 259.34 L227.5 259.47 L228.5 259.33 L229.5 259.17 L230.5 259.22 L231.5 259.62 L232.5 259.65 L233.5 259.55 L234.5 259.58 L235.5 259.5 L236.5 259.65 L237.5 259.05 L238.5 259.66 L239.5 259.1 L240.5 258.5 L241.5 259.6 L242.5 259.24 L243.5 259.62 L244.5 259.52 L245.5 259.41 L246.5 259.17 L247.5 259.2 L248.5 258.97 L249.5 258.7 L250.5 259.54 L251.5 259.58 L252.5 259.33 L253.5 259.46 L254.5 259.63 L255.5 259.08 L256.5 259.58 L257.5 259.55 L258.5 259.62 L259.5 259.53 L260.5 259.64 L261.5 259.29 L262.5 259.42 L263.5 259.61 L264.5 259.08 L265.5 259.58 L266.5 259.58 L267.5 259.2 L268.5 259.4 L268.5 283.27 L267.5 282.5 L266.5 283.87 L265.5 282.89 L264.5 283.02 L263.5 282.8 L262.5 282.34 L261.5 283.56 L260.5 284.22 L259.5 283.91 L258.5 282.96 L257.5 282.83 L256.5 283.12 L255.5 283.17 L254.5 282.9 L253.5 282.68 L252.5 283.24 L251.5 283.26 L250.5 283.8 L249.5 282.87 L248.5 283.74 L247.5 282.91 L246.5 282.37 L245.5 284.17 L244.5 282.5 L243.5 283.23 L242.5 282.96 L241.5 282.91 L240.5 282.74 L239.5 283.04 L238.5 283.46 L237.5 282.55 L236.5 284.12 L235.5 282.35 L234.5 283.1 L233.5 285.18 L232.5 282.73 L231.5 282.93 L230.5 283.86 L229.5 283.46 L228.5 283.98 L227.5 282.38 L226.5 283.16 L225.5 282.5 L224.5 282.6 L223.5 282.99 L222.5 283.16 L221.5 284.46 L220.5 283.36 L219.5 282.69 L218.5 284.08 L217.5 282.76 L216.5 283.72 L215.5 285.01 L214.5 282.97 L213.5 284.09 L212.5 283.31 L211.5 284.74 L210.5 283.01 L209.5 282.88 L208.5 283.06 L207.5 282.41 L206.5 282.65 L205.5 282.53 L204.5 283.6 L203.5 283.42 L202.5 284.24 L201.5 282.74 L200.5 283.6 L199.5 282.46 L198.5 283.2 L197.5 283.03 L196.5 283.47 L195.5 284.39 L194.5 284.03 L193.5 282.43 L192.5 283.68 L191.5 283.47 L190.5 283.35 L189.5 282.45 L188.5 282.49 L187.5 282.83 L186.5 282.47 L185.5 282.61 L184.5 282.68 L183.5 284.56 L182.5 284.03 L181.5 282.83 L180.5 283.82 L179.5 283.43 L178.5 283.18 L177.5 282.56 L176.5 282.54 L175.5 283.46 L174.5 283.31 L173.5 284.56 L172.5 283.15 L171.5 283.42 L170.5 283.22 L169.5 282.33 L168.5 282.74 L167.5 282.88 L166.5 283.72 L165.5 283.68 L164.5 282.96 L163.5 284.25 L162.5 283.15 L161.5 283.83 L160.5 282.79 L159.5 283.04 L158.5 282.63 L157.5 283.76 L156.5 283.44 L155.5 283.26 L154.5 283.1 L153.5 283.79 L152.5 282.79 L151.5 283.41 L150.5 283.58 L149.5 283.88 L148.5 283.09 L147.5 282.39 L146.5 282.6 L145.5 283.41 L144.5 283.52 L143.5 282.95 L142.5 283.32 L141.5 282.31 L140.5 282.46 L139.5 282.75 L138.5 283.15 L137.5 282.58 L136.5 283.06 L135.5 282.82 L134.5 282.31 L133.5 283.26 L132.5 282.65 L131.5 283.93 L130.5 282.69 L129.5 282.71 L128.5 282.49 L127.5 283.31 L126.5 283.81 L125.5 283.07 L124.5 283.34 L123.5 283.61 L122.5 283.62 L121.5 282.81 L120.5 283.35 L119.5 282.44 L118.5 282.37 L117.5 283.07 L116.5 282.38 L115.5 282.81 L114.5 282.7 L113.5 284.01 L112.5 282.42 L111.5 283.26 L110.5 282.87 L109.5 282.39 L108.5 282.63 L107.5 283.54 L106.5 282.45 L105.5 283.62 L104.5 283.25 L103.5 279.85 L102.5 280.09 L101.5 279.02 L100.5 280.36 L99.5 280.06 L98.5 279.53 L97.5 280.73 L96.5 278.9 L95.5 279.78 L94.5 280.65 L93.5 280.1 L92.5 279.97 L91.5 279.84 L90.5 281.1 L89.5 279.09 L88.5 279.33 L87.5 279.24 L86.5 279 L85.5 279.58 L84.5 279.92 L83.5 280.99 L82.5 279.05 L81.5 279.21 L80.5 278.73 L79.5 279.51 L78.5 280.34 L77.5 280.62 L76.5 279.39 L75.5 279.47 L74.5 278.99 L73.5 279.02 L72.5 278.97 L71.5 279.25 L70.5 280.08 L69.5 280.91 L68.5 280.9 L67.5 283.15 L66.5 282.61 L65.5 281.69 L64.5 281.07 L63.5 281.82 L62.5 281.37 L61.5 284.09 L60.5 282.8 L59.5 281.25 L58.5 281.18 L57.5 281.33 L56.5 280.89 L55.5 281.2 L54.5 280.99 L53.5 281.85 L52.5 282.71 L51.5 281.17 L50.5 281.31 L49.5 281.62 L48.5 281.46 L47.5 281.42 L46.5 281.16 L45.5 282.19 L44.5 281.78 L43.5 282.04 L42.5 284.1 L41.5 280.92 L40.5 283.33 L39.5 281.86 L38.5 281.76 L37.5 280.87 L36.5 282.82Z" fill="#ff0000"/><path d="M36.5 270.1V286.2M38.5 256.11V270.1M38.5 270.1V282.64M39.5 255.32V270.1M39.5 270.1V284.15M40.5 257V270.1M41.5 270.1V284.31M42.5 258.1V270.1M42.5 270.1V283.3M43.5 257.63V270.1M45.5 258.57V270.1M45.5 270.1V284.05M46.5 255.35V270.1M47.5 257.44V270.1M47.5 270.1V283.74M48.5 257.61V270.1M48.5 270.1V282.76M49.5 258.1V270.1M49.5 270.1V285.62M50.5 255.29V270.1M51.5 255.6V270.1M51.5 270.1V283.69M52.5 253.41V270.1M54.5 253.92V270.1M55.5 258.13V270.1M55.5 270.1V288.33M56.5 257.78V270.1M56.5 270.1V283.27M57.5 255.73V270.1M58.5 257.21V270.1M58.5 270.1V285.32M59.5 255.13V270.1M59.5 270.1V284.21M60.5 248.51V270.1M60.5 270.1V289.62M61.5 256.53V270.1M61.5 270.1V284.99M62.5 257.47V270.1M63.5 255.49V270.1M63.5 270.1V282.77M65.5 256.61V270.1M65.5 270.1V283.86M67.5 254.09V270.1M67.5 270.1V282.77M68.5 270.1V283.16M69.5 253.21V270.1M69.5 270.1V284.93M71.5 259.32V270.1M71.5 270.1V282.34M72.5 254.77V270.1M72.5 270.1V281.78M73.5 257.04V270.1M74.5 257.92V270.1M74.5 270.1V283.18M75.5 255.96V270.1M76.5 270.1V283.21M77.5 256.15V270.1M77.5 270.1V282.04M78.5 257.74V270.1M81.5 255.53V270.1M81.5 270.1V282.69M82.5 252.1V270.1M82.5 270.1V286.51M83.5 270.1V282.73M84.5 257.66V270.1M84.5 270.1V284.15M85.5 256.2V270.1M86.5 256.97V270.1M87.5 256.3V270.1M87.5 270.1V284.09M91.5 256.19V270.1M91.5 270.1V284.91M92.5 270.1V284.51M93.5 257.05V270.1M93.5 270.1V281.5M94.5 258.12V270.1M94.5 270.1V283.69M95.5 256.13V270.1M96.5 258.61V270.1M96.5 270.1V284.33M98.5 256.4V270.1M98.5 270.1V284.37M99.5 270.1V282.25M100.5 259.08V270.1M100.5 270.1V284.44M101.5 254.91V270.1M102.5 270.1V282.11M103.5 270.1V283.14M104.5 270.1V285.63M105.5 254.85V270.1M105.5 270.1V284.69M106.5 254.16V270.1M106.5 270.1V286.34M107.5 253.52V270.1M109.5 270.1V286.28M110.5 253.41V270.1M111.5 252.38V270.1M111.5 270.1V288.15M112.5 251.36V270.1M113.5 270.1V286.09M114.5 270.1V288.07M115.5 255.24V270.1M115.5 270.1V285.8M116.5 270.1V285.43M117.5 254.64V270.1M117.5 270.1V284.86M118.5 255.64V270.1M118.5 270.1V284.83M120.5 270.1V285.17M121.5 270.1V284.82M122.5 255.6V270.1M122.5 270.1V285.05M123.5 253.97V270.1M124.5 252.05V270.1M126.5 270.1V284.71M127.5 255.49V270.1M127.5 270.1V286.71M128.5 253.88V270.1M130.5 250.98V270.1M130.5 270.1V285.86M132.5 270.1V285.67M135.5 255.89V270.1M137.5 270.1V284.62M138.5 270.1V285.32M142.5 270.1V286.27M143.5 249.78V270.1M144.5 270.1V284.93M147.5 270.1V285.89M150.5 270.1V288.04M152.5 270.1V286.35M154.5 256V270.1M154.5 270.1V286.58M155.5 270.1V287.07M156.5 253.05V270.1M156.5 270.1V286.24M157.5 255.26V270.1M159.5 270.1V285.96M160.5 253.71V270.1M161.5 251.43V270.1M161.5 270.1V285.78M164.5 255.37V270.1M164.5 270.1V285.72M166.5 254.63V270.1M166.5 270.1V287.28M167.5 270.1V286.61M168.5 256.42V270.1M170.5 255.96V270.1M170.5 270.1V284.81M172.5 270.1V286.03M174.5 270.1V286.47M177.5 251.09V270.1M178.5 254.52V270.1M179.5 254.69V270.1M179.5 270.1V290.84M180.5 270.1V287.62M181.5 270.1V285.37M182.5 270.1V284.52M183.5 270.1V286.19M184.5 270.1V286.8M185.5 249.69V270.1M186.5 270.1V286.2M188.5 254.67V270.1M188.5 270.1V285.14M190.5 270.1V285.77M191.5 251.58V270.1M191.5 270.1V288.87M192.5 255.82V270.1M192.5 270.1V285.3M193.5 270.1V285.75M194.5 252.88V270.1M195.5 256.11V270.1M195.5 270.1V287.33M196.5 254.86V270.1M196.5 270.1V288.03M198.5 255.66V270.1M199.5 270.1V285.68M200.5 254.22V270.1M201.5 270.1V285.43M202.5 253.26V270.1M203.5 270.1V285.98M204.5 255.61V270.1M208.5 270.1V287.43M209.5 270.1V286.17M210.5 270.1V285.32M211.5 270.1V285.4M214.5 270.1V284.48M215.5 256.17V270.1M217.5 270.1V285.16M220.5 270.1V286.2M221.5 270.1V288.71M222.5 252.86V270.1M223.5 254.97V270.1M224.5 256V270.1M225.5 270.1V286.17M226.5 270.1V286.87M227.5 255.26V270.1M227.5 270.1V286.54M228.5 270.1V288.33M229.5 255.56V270.1M232.5 270.1V286.1M234.5 252.01V270.1M236.5 270.1V284.9M237.5 256.45V270.1M238.5 255.15V270.1M240.5 255.81V270.1M241.5 252.65V270.1M242.5 270.1V286.56M243.5 270.1V286.33M245.5 252.77V270.1M251.5 254.88V270.1M252.5 270.1V286.08M253.5 270.1V284.53M254.5 252.31V270.1M255.5 255.14V270.1M256.5 270.1V284.46M258.5 270.1V285.73M259.5 254.36V270.1M259.5 270.1V286.96M260.5 270.1V284.52M261.5 252.13V270.1M261.5 270.1V285.02M262.5 254.53V270.1M262.5 270.1V286.15M263.5 270.1V286.7M264.5 252.46V270.1M264.5 270.1V289.95M265.5 270.1V285.43M266.5 270.1V285.65M267.5 270.1V289.55" stroke="#ff0000" stroke-width="0.9" stroke-opacity="0.85" fill="none"/><path d="M36.3 276.32 L36.77 276.39 L37.23 276.59 L37.7 278.86 L38.16 278.1 L38.63 280.04 L39.1 278.61 L39.56 278.31 L40.03 280.23 L40.5 280.06 L40.96 282.2 L41.43 280.58 L41.89 278.48 L42.36 280.54 L42.83 279.75 L43.29 277.25 L43.76 278.65 L44.23 279.14 L44.69 279.26 L45.16 278.02 L45.62 276.05 L46.09 280.02 L46.56 278.19 L47.02 276.78 L47.49 277.21 L47.96 276.29 L48.42 279.07 L48.89 276.94 L49.35 278.76 L49.82 276.5 L50.29 277.06 L50.75 276.47 L51.22 278.25 L51.69 276.48 L52.15 277.29 L52.62 279.58 L53.08 276.08 L53.55 277.83 L54.02 276.57 L54.48 275.64 L54.95 276.66 L55.42 276.9 L55.88 277.83 L56.35 276.68 L56.81 276.41 L57.28 275.84 L57.75 274.93 L58.21 277.17 L58.68 279.21 L59.15 276.87 L59.61 276.89 L60.08 278.21 L60.54 276.87 L61.01 275.32 L61.48 277.4 L61.94 276.29 L62.41 277.35 L62.88 277.23 L63.34 275.56 L63.81 274.84 L64.27 276.7 L64.74 273.39 L65.21 272.59 L65.67 278.76 L66.14 274.92 L66.61 276.11 L67.07 274.59 L67.54 273.73 L68 276.58 L68.47 276.64 L68.94 275.6 L69.4 276.3 L69.87 276.32 L70.34 275.49 L70.8 275.64 L71.27 276.31 L71.73 277.49 L72.2 275.37 L72.67 275.96 L73.13 274.34 L73.6 275.73 L74.07 274.65 L74.53 275.62 L75 274.15 L75.46 273.79 L75.93 273.32 L76.4 274.97 L76.86 275.48 L77.33 274.39 L77.8 273.36 L78.26 273.37 L78.73 275.36 L79.19 275.52 L79.66 272.91 L80.13 273.21 L80.59 272.61 L81.06 274.14 L81.53 275.35 L81.99 276.16 L82.46 273.51 L82.92 274.57 L83.39 276.56 L83.86 272.8 L84.32 274.45 L84.79 273.11 L85.26 272.86 L85.72 272.58 L86.19 273.45 L86.65 272.61 L87.12 273.53 L87.59 273.97 L88.05 273.2 L88.52 275.03 L88.99 271.85 L89.45 272.83 L89.92 274.06 L90.38 270.15 L90.85 271.19 L91.32 271.82 L91.78 272.28 L92.25 270.51 L92.72 271.22 L93.18 270.62 L93.65 271.17 L94.11 271.99 L94.58 270.33 L95.05 272.57 L95.51 271.5 L95.98 273.43 L96.44 270.6 L96.91 270.42 L97.38 270.76 L97.84 273.08 L98.31 269.6 L98.78 271.36 L99.24 273.42 L99.71 271.01 L100.17 271.25 L100.64 270.88 L101.11 268.26 L101.57 269.3 L102.04 271.6 L102.51 269.68 L102.97 271.15 L103.44 272 L103.9 270.13 L104.37 269.78 L104.84 272.17 L105.3 269.05 L105.77 270.29 L106.24 271.92 L106.7 270.59 L107.17 272.44 L107.63 271.78 L108.1 273.8 L108.57 270.37 L109.03 270.22 L109.5 273.88 L109.97 269.14 L110.43 272.2 L110.9 268.1 L111.36 269.36 L111.83 272.77 L112.3 269.17 L112.76 270.26 L113.23 270.59 L113.7 268.16 L114.16 269.4 L114.63 268.86 L115.09 270.32 L115.56 269.94 L116.03 269.65 L116.49 270.61 L116.96 270.3 L117.43 270.76 L117.89 269.71 L118.36 270.35 L118.82 270.13 L119.29 267.45 L119.76 269.78 L120.22 267.92 L120.69 268.06 L121.16 268.55 L121.62 271.1 L122.09 269.66 L122.55 271.56 L123.02 270.89 L123.49 271.07 L123.95 270.8 L124.42 272.28 L124.89 269.02 L125.35 270.14 L125.82 270.15 L126.28 270.1 L126.75 271.28 L127.22 270.43 L127.68 268.45 L128.15 269.86 L128.62 270.68 L129.08 271.32 L129.55 273.67 L130.01 271.59 L130.48 270.15 L130.95 269.3 L131.41 269.77 L131.88 269.16 L132.35 269.66 L132.81 268.59 L133.28 268.65 L133.74 269.06 L134.21 269.63 L134.68 269.61 L135.14 267.81 L135.61 271.36 L136.08 271.65 L136.54 268.71 L137.01 270.85 L137.47 271.74 L137.94 269.24 L138.41 268.41 L138.87 269.08 L139.34 268.91 L139.81 269.29 L140.27 270.67 L140.74 269.18 L141.2 268.85 L141.67 270.1 L142.14 268.5 L142.6 268.2 L143.07 268.59 L143.54 266.55 L144 268.32 L144.47 267.78 L144.93 269.05 L145.4 266.05 L145.87 270.13 L146.33 270.29 L146.8 271.25 L147.27 269.39 L147.73 271.26 L148.2 269.36 L148.66 269.93 L149.13 268.47 L149.6 271.67 L150.06 269.32 L150.53 267.41 L151 270.21 L151.46 269.57 L151.93 270.15 L152.39 269.64 L152.86 269.86 L153.33 269.09 L153.79 269.11 L154.26 266.07 L154.72 269.49 L155.19 268.4 L155.66 267.12 L156.12 265.62 L156.59 270.96 L157.06 267.2 L157.52 269.13 L157.99 267.85 L158.45 269.27 L158.92 269.93 L159.39 270.31 L159.85 271.59 L160.32 267.13 L160.79 272.03 L161.25 269.28 L161.72 269.03 L162.18 269.62 L162.65 270.11 L163.12 271.72 L163.58 267.92 L164.05 270.61 L164.52 270.09 L164.98 268.85 L165.45 268.21 L165.91 269.56 L166.38 268.84 L166.85 270.69 L167.31 267.93 L167.78 268.86 L168.25 268.89 L168.71 267.21 L169.18 267.13 L169.64 268.5 L170.11 268.97 L170.58 269.08 L171.04 269.39 L171.51 266.58 L171.98 271.73 L172.44 267.49 L172.91 268.2 L173.37 268.79 L173.84 267.92 L174.31 265.67 L174.77 268.92 L175.24 267.1 L175.71 266.59 L176.17 265.98 L176.64 268.02 L177.1 267.34 L177.57 265.33 L178.04 264.41 L178.5 265.76 L178.97 267.87 L179.44 266.55 L179.9 268.37 L180.37 267.65 L180.83 268.77 L181.3 266.74 L181.77 266.54 L182.23 266.61 L182.7 268.11 L183.17 266.09 L183.63 267.86 L184.1 267.13 L184.56 265.33 L185.03 266.54 L185.5 265.56 L185.96 266.36 L186.43 268.3 L186.9 264.12 L187.36 267.38 L187.83 268.78 L188.29 266.6 L188.76 266.51 L189.23 265.64 L189.69 267.4 L190.16 270.03 L190.63 267.85 L191.09 265.7 L191.56 267.92 L192.02 267.35 L192.49 265.63 L192.96 265.14 L193.42 265.47 L193.89 266.38 L194.36 266.56 L194.82 267.01 L195.29 267.04 L195.75 268.64 L196.22 266.88 L196.69 267.54 L197.15 268.09 L197.62 266.7 L198.09 267.78 L198.55 268.6 L199.02 269 L199.48 269.48 L199.95 266.41 L200.42 265.99 L200.88 266.93 L201.35 268.71 L201.82 269.68 L202.28 266.88 L202.75 271.29 L203.21 268.48 L203.68 269.39 L204.15 267.49 L204.61 265.93 L205.08 266.73 L205.55 267.25 L206.01 268.84 L206.48 266.4 L206.94 265.12 L207.41 267.33 L207.88 268.55 L208.34 266.92 L208.81 267.95 L209.28 267.9 L209.74 265.9 L210.21 267.45 L210.67 267.98 L211.14 266.36 L211.61 265.34 L212.07 265.84 L212.54 264.82 L213 266.5 L213.47 265.38 L213.94 263.42 L214.4 265.12 L214.87 265.56 L215.34 264.91 L215.8 265.42 L216.27 265.72 L216.73 268.8 L217.2 267.45 L217.67 269.67 L218.13 265.97 L218.6 266.56 L219.07 267.57 L219.53 266.99 L220 266.54 L220.46 268.39 L220.93 267.79 L221.4 266.52 L221.86 264.86 L222.33 266.09 L222.8 264.41 L223.26 262.55 L223.73 266.48 L224.19 266.02 L224.66 263.1 L225.13 266.05 L225.59 265.44 L226.06 265.95 L226.53 266.58 L226.99 265.35 L227.46 265.08 L227.92 263.63 L228.39 263.75 L228.86 263.94 L229.32 266.42 L229.79 265.33 L230.26 262.82 L230.72 262.37 L231.19 266.92 L231.65 267.32 L232.12 264.74 L232.59 266.44 L233.05 263.88 L233.52 263.94 L233.99 264.86 L234.45 267.11 L234.92 265.05 L235.38 268.32 L235.85 265.14 L236.32 267.57 L236.78 266.19 L237.25 267.16 L237.72 267.13 L238.18 267.08 L238.65 267.42 L239.11 266.87 L239.58 267.03 L240.05 264.3 L240.51 266.99 L240.98 268.06 L241.45 267.58 L241.91 266.61 L242.38 265.72 L242.84 265.69 L243.31 266.85 L243.78 263.69 L244.24 266.37 L244.71 266.64 L245.18 264.74 L245.64 265.75 L246.11 265.08 L246.57 265.5 L247.04 264.82 L247.51 265.48 L247.97 263.23 L248.44 266.08 L248.91 263.62 L249.37 265.87 L249.84 265.42 L250.3 265.59 L250.77 264.32 L251.24 265.26 L251.7 265.12 L252.17 264.14 L252.64 264.22 L253.1 262.72 L253.57 264.01 L254.03 264.54 L254.5 265.46 L254.97 265.16 L255.43 266.02 L255.9 267.29 L256.37 266 L256.83 265.34 L257.3 266.94 L257.76 268.66 L258.23 266.56 L258.7 263.25 L259.16 266.48 L259.63 265.03 L260.1 266.22 L260.56 264.9 L261.03 264.86 L261.49 265.58 L261.96 264.91 L262.43 263.53 L262.89 265.31 L263.36 266.59 L263.83 265.09 L264.29 268.09 L264.76 265.68 L265.22 265.77 L265.69 266.61 L266.16 266.29 L266.62 265.94 L267.09 264.64 L267.56 264.34 L268.02 264.66 L268.49 263.87 L268.95 264.84 L269.42 266.44" stroke="#000000" stroke-width="2.1" fill="none" stroke-linejoin="round"/></g><rect x="36.3" y="234.2" width="263.2" height="71.8" fill="none" stroke="#555" stroke-width="0.9"/><path d="M36.3 306 v-2.2 M36.3 234.2 v2.2" stroke="#666" stroke-width="0.7"/><text x="36.3" y="321.4" text-anchor="middle" style='font-family:"Liberation Sans",sans-serif;font-size:10.6px' fill="#333">0</text><path d="M73.9 306 v-2.2 M73.9 234.2 v2.2" stroke="#666" stroke-width="0.7"/><text x="73.9" y="321.4" text-anchor="middle" style='font-family:"Liberation Sans",sans-serif;font-size:10.6px' fill="#333">50</text><path d="M111.5 306 v-2.2 M111.5 234.2 v2.2" stroke="#666" stroke-width="0.7"/><text x="111.5" y="321.4" text-anchor="middle" style='font-family:"Liberation Sans",sans-serif;font-size:10.6px' fill="#333">100</text><path d="M149.1 306 v-2.2 M149.1 234.2 v2.2" stroke="#666" stroke-width="0.7"/><text x="149.1" y="321.4" text-anchor="middle" style='font-family:"Liberation Sans",sans-serif;font-size:10.6px' fill="#333">150</text><path d="M186.7 306 v-2.2 M186.7 234.2 v2.2" stroke="#666" stroke-width="0.7"/><text x="186.7" y="321.4" text-anchor="middle" style='font-family:"Liberation Sans",sans-serif;font-size:10.6px' fill="#333">200</text><path d="M224.3 306 v-2.2 M224.3 234.2 v2.2" stroke="#666" stroke-width="0.7"/><text x="224.3" y="321.4" text-anchor="middle" style='font-family:"Liberation Sans",sans-serif;font-size:10.6px' fill="#333">250</text><path d="M261.9 306 v-2.2 M261.9 234.2 v2.2" stroke="#666" stroke-width="0.7"/><text x="261.9" y="321.4" text-anchor="middle" style='font-family:"Liberation Sans",sans-serif;font-size:10.6px' fill="#333">300</text><path d="M299.5 306 v-2.2 M299.5 234.2 v2.2" stroke="#666" stroke-width="0.7"/><text x="299.5" y="321.4" text-anchor="middle" style='font-family:"Liberation Sans",sans-serif;font-size:10.6px' fill="#333">350</text><path d="M36.3 306 h2.2 M299.5 306 h-2.2" stroke="#666" stroke-width="0.7"/><text x="31.7" y="310.5" text-anchor="end" style='font-family:"Liberation Sans",sans-serif;font-size:10.6px' fill="#333">-0.5</text><path d="M36.3 270.1 h2.2 M299.5 270.1 h-2.2" stroke="#666" stroke-width="0.7"/><text x="31.7" y="274.6" text-anchor="end" style='font-family:"Liberation Sans",sans-serif;font-size:10.6px' fill="#333">0</text><path d="M36.3 234.2 h2.2 M299.5 234.2 h-2.2" stroke="#666" stroke-width="0.7"/><text x="31.7" y="238.7" text-anchor="end" style='font-family:"Liberation Sans",sans-serif;font-size:10.6px' fill="#333">0.5</text><text transform="translate(9.6,270.1) rotate(-90)" text-anchor="middle" style='font-family:"Liberation Sans",sans-serif;font-size:12.4px' fill="#333">Position[nm]</text><text x="167.9" y="337.4" text-anchor="middle" style='font-family:"Liberation Sans",sans-serif;font-size:12.4px' fill="#333">time[s]</text><rect x="188.7" y="241.6" width="102.6" height="41" fill="#fff" stroke="#444" stroke-width="0.7"/><path d="M190.9 249.9 H208.3" stroke="#0000ff" stroke-width="0.9" stroke-opacity="0.6"/><text x="210.9" y="253.5" style='font-family:"Liberation Sans","Noto Serif CJK SC",serif;font-size:9.6px' fill="#444" textLength="26.4" lengthAdjust="spacingAndGlyphs">全频段</text><text x="237.5" y="253.8" style='font-family:"Liberation Sans",sans-serif;font-size:10.1px' fill="#2a2a2a">0.35715nm</text><path d="M190.9 263.15 H208.3" stroke="#ff0000" stroke-width="0.9" stroke-opacity="0.6"/><text x="210.9" y="266.75" style='font-family:"Liberation Sans","Noto Serif CJK SC",serif;font-size:9.6px' fill="#444" textLength="26.4" lengthAdjust="spacingAndGlyphs">高频段</text><text x="237.5" y="267.05" style='font-family:"Liberation Sans",sans-serif;font-size:10.1px' fill="#2a2a2a">0.19499nm</text><path d="M190.9 276.4 H208.3" stroke="#000" stroke-width="0.9" stroke-opacity="0.6"/><text x="210.9" y="280" style='font-family:"Liberation Sans","Noto Serif CJK SC",serif;font-size:9.6px' fill="#444" textLength="26.4" lengthAdjust="spacingAndGlyphs">低频段</text><text x="237.5" y="280.3" style='font-family:"Liberation Sans",sans-serif;font-size:10.1px' fill="#2a2a2a">0.29922nm</text></g><rect x="273.7" y="183" width="5" height="159" fill="url(#shl)"/><rect x="280.7" y="176.2" width="321.3" height="4" fill="url(#sht)"/><clipPath id="w128"><rect x="278.7" y="180.2" width="321.3" height="159.8"/></clipPath><g clip-path="url(#w128)"><rect x="278.7" y="181" width="321.3" height="159" fill="#f0f0f0"/><rect x="278.7" y="180.2" width="321.3" height="32.4" fill="#fff"/><path d="M278.7 212.8 H600" stroke="#e2e2e2" stroke-width="0.8"/><rect x="278.7" y="213.2" width="321.3" height="15.3" fill="#f2f2f2"/><path d="M278.7 228.8 H600" stroke="#dcdcdc" stroke-width="0.8"/><g transform="translate(283,185.3)"><rect x="0.4" y="0.4" width="8.8" height="9" fill="#f6f7fa" stroke="#a0aac0" stroke-width="0.8"/><rect x="0.4" y="0.4" width="8.8" height="1.3" fill="#7f98c8"/><path d="M1.2 7 L5.4 2.4 L8.2 8 L6.4 6.8 Z" fill="#e06a1c"/><path d="M1.2 7 L3.6 4.4 L4.8 6.8 L3 7.6 Z" fill="#2f6db5"/><path d="M5.4 2.4 L8.2 8 L6.2 4.8 Z" fill="#b83a10"/></g><text x="294.5" y="192.7" style='font-family:"Liberation Sans","Noto Sans CJK SC",sans-serif;font-size:8.5px' fill="#a6a6a6" stroke="#a6a6a6" stroke-width="0.25" textLength="27.6" lengthAdjust="spacingAndGlyphs">Figure 5</text><path d="M561.9 189.3 H567.1" stroke="#9a9a9a" stroke-width="0.8"/><rect x="588.7" y="186.6" width="5.6" height="5.6" fill="none" stroke="#9a9a9a" stroke-width="0.8"/><text x="282.5" y="207.7" style='font-family:"Liberation Sans","Noto Sans CJK SC",sans-serif;font-size:7.6px' fill="#1a1a1a" stroke="#1a1a1a" stroke-width="0.15" textLength="22.1" lengthAdjust="spacingAndGlyphs">文件(F)</text><text x="312.7" y="207.7" style='font-family:"Liberation Sans","Noto Sans CJK SC",sans-serif;font-size:7.6px' fill="#1a1a1a" stroke="#1a1a1a" stroke-width="0.15" textLength="22.6" lengthAdjust="spacingAndGlyphs">编辑(E)</text><text x="343.4" y="207.7" style='font-family:"Liberation Sans","Noto Sans CJK SC",sans-serif;font-size:7.6px' fill="#1a1a1a" stroke="#1a1a1a" stroke-width="0.15" textLength="22.9" lengthAdjust="spacingAndGlyphs">查看(V)</text><text x="374.4" y="207.7" style='font-family:"Liberation Sans","Noto Sans CJK SC",sans-serif;font-size:7.6px' fill="#1a1a1a" stroke="#1a1a1a" stroke-width="0.15" textLength="20.9" lengthAdjust="spacingAndGlyphs">插入(I)</text><text x="403.2" y="207.7" style='font-family:"Liberation Sans","Noto Sans CJK SC",sans-serif;font-size:7.6px' fill="#1a1a1a" stroke="#1a1a1a" stroke-width="0.15" textLength="22.6" lengthAdjust="spacingAndGlyphs">工具(T)</text><text x="433.5" y="207.7" style='font-family:"Liberation Sans","Noto Sans CJK SC",sans-serif;font-size:7.6px' fill="#1a1a1a" stroke="#1a1a1a" stroke-width="0.15" textLength="23.3" lengthAdjust="spacingAndGlyphs">桌面(D)</text><text x="464.9" y="207.7" style='font-family:"Liberation Sans","Noto Sans CJK SC",sans-serif;font-size:7.6px' fill="#1a1a1a" stroke="#1a1a1a" stroke-width="0.15" textLength="25" lengthAdjust="spacingAndGlyphs">窗口(W)</text><text x="497.9" y="207.7" style='font-family:"Liberation Sans","Noto Sans CJK SC",sans-serif;font-size:7.6px' fill="#1a1a1a" stroke="#1a1a1a" stroke-width="0.15" textLength="24.2" lengthAdjust="spacingAndGlyphs">帮助(H)</text><g transform="translate(280.8,215.7)"><path d="M1 0.5 H6 L8.3 2.8 V8.6 H1 Z" fill="#fdfdff" stroke="#7d8fb0" stroke-width="0.8"/><path d="M6 0.5 V2.8 H8.3" fill="#dfe6f2" stroke="#7d8fb0" stroke-width="0.6"/><rect x="0.2" y="0" width="2.6" height="2.6" fill="#f08040"/></g><g transform="translate(293.2,215.7)"><path d="M0.5 2 H3.5 L4.3 3 H8 V8.3 H0.5 Z" fill="#d9a92c"/><path d="M0.5 8.3 L2 4.3 H9 L7.8 8.3 Z" fill="#f6d56b" stroke="#c89a28" stroke-width="0.5"/><path d="M6 0.8 L8.2 0.8 L8.2 2.6" stroke="#6a8ac0" stroke-width="0.7" fill="none"/></g><g transform="translate(306.8,215.7)"><rect x="0.4" y="0.4" width="8.4" height="8.4" rx="0.6" fill="#3b4fb0"/><rect x="2" y="0.6" width="5" height="3.4" fill="#e8ecf8"/><rect x="2.6" y="5.6" width="3.8" height="3" fill="#1e2a70"/><rect x="4.4" y="6" width="1.2" height="1.8" fill="#dfe4f0"/></g><g transform="translate(319.7,215.7)"><rect x="2.4" y="0.4" width="4.4" height="3.6" fill="#f4f6fa" stroke="#9aa4b8" stroke-width="0.5"/><path d="M0.4 4.2 Q0.4 3 1.6 3 H7.4 Q8.6 3 8.6 4.2 V7.4 H0.4 Z" fill="#b4b6bc"/><rect x="1.8" y="6" width="5.4" height="2.7" fill="#e6e7ea" stroke="#8c8e94" stroke-width="0.4"/></g><g transform="translate(337.4,215.7)"><path d="M2.3 0.6 L2.3 7.6 L4 6 L5.4 8.8 L6.4 8.3 L5 5.6 L7.3 5.4 Z" fill="#fff" stroke="#333" stroke-width="0.7"/></g><g transform="translate(353.5,215.7)"><path d="M5.2 5.2 L8.6 8.6" stroke="#e09a40" stroke-width="2" stroke-linecap="round"/><circle cx="3.6" cy="3.6" r="3" fill="#dcecfb" stroke="#7a9ad0" stroke-width="0.9"/><path d="M2.2 3.6 H5 M3.6 2.2 V5" stroke="#4a78c0" stroke-width="0.8"/></g><g transform="translate(366.5,215.7)"><path d="M5.2 5.2 L8.6 8.6" stroke="#e09a40" stroke-width="2" stroke-linecap="round"/><circle cx="3.6" cy="3.6" r="3" fill="#dcecfb" stroke="#7a9ad0" stroke-width="0.9"/><path d="M2.2 3.6 H5" stroke="#4a78c0" stroke-width="0.8"/></g><g transform="translate(378.6,215.2)"><path d="M1.2 5.2 Q0.4 3.6 1.8 3.4 L2.8 4.4 V2 Q3.4 0.6 4.4 1.4 V0.9 Q5.2 0 6 0.9 V1.4 Q7 0.8 7.6 1.8 V3.2 Q8.8 2.8 9.2 3.8 L8.8 6.6 Q8.2 9.8 5.2 9.8 Q2.8 9.8 1.2 5.2 Z" fill="#f7d8bc" stroke="#7f93c6" stroke-width="0.7"/><path d="M3 2.2 V5 M4.5 1.2 V4.6 M6 1.2 V4.6 M7.5 2 V5" stroke="#9fb0d8" stroke-width="0.5"/></g><g transform="translate(392,215.2)"><path d="M1.6 3.2 A4 4 0 1 1 1.4 6.6" fill="none" stroke="#3a5490" stroke-width="1.8"/><circle cx="5.2" cy="5" r="2.2" fill="#b8c4dc"/><path d="M4.4 3.8 V6.2 M5.4 3.6 V6.4" stroke="#7f8fb8" stroke-width="0.5"/><path d="M0 4.6 L3 4.2 L2 6.6 Z" fill="#fff" stroke="#9aa" stroke-width="0.3"/></g><g transform="translate(404.6,215.2)"><rect x="4" y="0" width="6" height="5.8" fill="#e6e4a4" stroke="#a8a470" stroke-width="0.5"/><rect x="5" y="1" width="4" height="3.8" fill="#dddb9a"/><path d="M0.4 1.6 L9.4 9.4" stroke="#8080ff" stroke-width="1.2"/><path d="M5 5.6 L1.2 6.4 L2.6 7.4 L1 9.2" stroke="#111" stroke-width="1.4" fill="none"/></g><g transform="translate(418.5,215.2)"><path d="M9.4 0.4 L4.2 6" stroke="#8c94cc" stroke-width="1.9" stroke-linecap="round"/><path d="M0.6 9.6 Q0.4 6.6 3 5.6 L4.4 7 Q3.8 9.6 0.6 9.6 Z" fill="#3a3a3a"/><circle cx="7.6" cy="8.2" r="1.5" fill="#ee0000"/></g><path d="M432.3 219.6 h2.4 l-1.2 1.3 z" fill="#333"/><g transform="translate(441.3,215.7)"><rect x="0.4" y="0.6" width="7.8" height="6.4" rx="1" fill="#dde4f0" stroke="#4a5f95" stroke-width="0.9"/><rect x="1.8" y="3.2" width="3.2" height="2.2" fill="#7d8fb8"/><rect x="3" y="6.6" width="5.8" height="2.2" rx="0.6" fill="#8596bd" stroke="#4a5f95" stroke-width="0.5"/></g><rect x="469.9" y="213.2" width="13" height="14" fill="#cce4f7"/><g transform="translate(458.8,215.7)"><rect x="2.3" y="0.4" width="4.6" height="8.4" rx="0.6" fill="url(#cbg)" stroke="#4f5f8f" stroke-width="0.8"/></g><g transform="translate(471.7,215.7)"><rect x="0.4" y="0.4" width="8.4" height="8.4" fill="#f4f6fb" stroke="#5a6a9a" stroke-width="0.8"/><rect x="1.5" y="2" width="2.4" height="1.8" fill="#e83a3a"/><rect x="1.5" y="5.4" width="2.4" height="1.8" fill="#3a4ae8"/><path d="M4.6 2.9 H7.6 M4.6 6.3 H7.6" stroke="#6a7aa8" stroke-width="0.9"/></g><rect x="490.2" y="217.2" width="6" height="6" rx="0.8" fill="#909090" stroke="#777" stroke-width="0.4"/><g transform="translate(501.5,215.7)"><rect x="0.4" y="0.4" width="8.4" height="8.4" rx="0.6" fill="#4a64a0"/><rect x="1.8" y="2.2" width="5.6" height="4.4" fill="#f4f6fb"/></g><path d="M332.5 213.2 V227.2" stroke="#d6d6d6" stroke-width="0.8"/><path d="M348.8 213.2 V227.2" stroke="#d6d6d6" stroke-width="0.8"/><path d="M438.2 213.2 V227.2" stroke="#d6d6d6" stroke-width="0.8"/><path d="M454.7 213.2 V227.2" stroke="#d6d6d6" stroke-width="0.8"/><path d="M485.2 213.2 V227.2" stroke="#d6d6d6" stroke-width="0.8"/><path d="M279.2 340 V180.7" stroke="#b4b4b4" stroke-width="1" fill="none"/><path d="M278.7 180.7 H600" stroke="#c8c8c8" stroke-width="1" fill="none"/><clipPath id="a152"><rect x="325.2" y="239.6" width="275.1" height="88.2"/></clipPath><rect x="325.2" y="239.6" width="275.1" height="88.2" fill="#fff"/><g clip-path="url(#a152)"><path d="M325.5 274.88V287.84M325.5 251.99V263.12M326.5 274.88V286.68M326.5 251.38V263.12M327.5 274.88V287.05M327.5 251.13V263.12M328.5 274.88V286.95M329.5 274.88V286.52M330.5 274.88V286.35M330.5 251.21V263.12M331.5 274.88V286.94M332.5 274.88V286.89M332.5 251.37V263.12M333.5 274.88V286.63M334.5 274.88V286.2M335.5 274.88V287.2M336.5 274.88V287.05M336.5 251.34V263.12M337.5 274.88V286.82M337.5 251.22V263.12M338.5 274.88V286.98M338.5 251.26V263.12M339.5 274.88V286.77M339.5 251.57V263.12M340.5 274.88V286.9M340.5 251.41V263.12M341.5 274.88V287.02M342.5 274.88V286.96M343.5 274.88V286.21M343.5 250.82V263.12M344.5 274.88V287.1M344.5 251.54V263.12M345.5 274.88V287.09M345.5 251.9V263.12M346.5 274.88V286.48M346.5 251.26V263.12M347.5 274.88V287.33M347.5 250.77V263.12M348.5 274.88V286.53M348.5 250.99V263.12M349.5 274.88V287.73M349.5 251.72V263.12M350.5 274.88V287M350.5 251.46V263.12M351.5 274.88V287.05M351.5 251V263.12M352.5 274.88V286.53M352.5 251V263.12M353.5 274.88V286.94M353.5 250.89V263.12M354.5 274.88V287.24M354.5 250.79V263.12M355.5 274.88V287.09M356.5 274.88V286.78M357.5 274.88V286.61M357.5 251.18V263.12M358.5 274.88V287.02M359.5 274.88V287.16M359.5 251.1V263.12M360.5 274.88V287.75M360.5 251.5V263.12M361.5 274.88V287.19M361.5 251.81V263.12M362.5 274.88V286.48M362.5 251.5V263.12M363.5 274.88V286.18M363.5 250.85V263.12M364.5 274.88V287M364.5 251.97V263.12M365.5 274.88V286.03M365.5 251.53V263.12M366.5 274.88V287.25M366.5 251.21V263.12M367.5 274.88V286.63M367.5 251.37V263.12M368.5 274.88V287.14M369.5 274.88V286.77M370.5 274.88V286.45M371.5 274.88V287.65M372.5 274.88V286.81M373.5 274.88V286.56M374.5 274.88V286.89M375.5 274.88V286.64M376.5 274.88V287.45M377.5 274.88V287.19M378.5 274.88V286.59M379.5 274.88V286.96M380.5 274.88V286.91M381.5 274.88V286.71M382.5 274.88V286.81M383.5 274.88V286.77M384.5 274.88V287.1M385.5 274.88V287.03M386.5 274.88V286.49M387.5 274.88V287.1M388.5 274.88V287.42M389.5 274.88V287.05M390.5 274.88V286.63M391.5 274.88V286.31M392.5 274.88V286.88M393.5 274.88V287.14M394.5 274.88V286.73M395.5 274.88V286.82M396.5 274.88V286.54M397.5 274.88V286.75M398.5 274.88V286.68M399.5 274.88V286.75M400.5 274.88V286.79M401.5 274.88V287.24M402.5 274.88V286.99M403.5 274.88V286.38M404.5 274.88V286.49M405.5 274.88V286.6M406.5 274.88V286.8M407.5 274.88V286.97M408.5 274.88V286.82M409.5 274.88V287.04M410.5 274.88V286.57M411.5 274.88V287.04M412.5 274.88V287.19M413.5 274.88V287.48M414.5 274.88V286.41M415.5 274.88V287.19M416.5 274.88V287.22M417.5 274.88V286.79M418.5 274.88V286.33M419.5 274.88V286.7M420.5 274.88V287.04M421.5 274.88V286.73M422.5 274.88V287.21M423.5 274.88V287.01M424.5 274.88V286.92M425.5 274.88V286.92M426.5 274.88V286.67M427.5 274.88V286.74M428.5 274.88V286.3M429.5 274.88V286.64M430.5 274.88V287.03M431.5 274.88V286.84M432.5 274.88V287.22M433.5 274.88V287.14M434.5 274.88V287.05M435.5 274.88V286.58M436.5 274.88V287.16M437.5 274.88V287.46M438.5 274.88V287.27M439.5 274.88V287.34M440.5 274.88V286.99M441.5 274.88V287.03M442.5 274.88V287.32M443.5 274.88V287.2M444.5 274.88V287.07M445.5 274.88V286.79M446.5 274.88V286.73M447.5 274.88V286.47M448.5 274.88V287.02M449.5 274.88V286.71M450.5 274.88V286.91M451.5 274.88V287.3M452.5 274.88V287.14M453.5 274.88V286.17M454.5 274.88V286.99M455.5 274.88V286.36M456.5 274.88V286.66M457.5 274.88V286.35M458.5 274.88V287M459.5 274.88V286.6M460.5 274.88V287.03M461.5 274.88V287.3M462.5 274.88V287.32M463.5 274.88V286.77M464.5 274.88V287.47M465.5 274.88V286.8M466.5 274.88V287.22M467.5 274.88V286.8M468.5 274.88V287.39M469.5 274.88V286.63M470.5 274.88V287.01M471.5 274.88V287.45M472.5 274.88V287.41M473.5 274.88V286.9M474.5 274.88V287.48M475.5 274.88V286.81M476.5 274.88V286.77M477.5 274.88V287.15M478.5 274.88V286.47M479.5 274.88V286.43M480.5 274.88V286.83M481.5 274.88V286.77M482.5 274.88V286.78M483.5 274.88V287.01M484.5 274.88V286.5M485.5 274.88V287.1M486.5 274.88V287.77M487.5 274.88V286.91M488.5 274.88V286.79M489.5 274.88V286.64M490.5 274.88V287.3M491.5 274.88V286.45M492.5 274.88V287.21M493.5 274.88V286.71M494.5 274.88V286.69M495.5 274.88V286.86M496.5 274.88V286.56M497.5 274.88V287.09M498.5 274.88V286.25M499.5 274.88V286.75M500.5 274.88V287.07M501.5 274.88V286.03M502.5 274.88V286.94M503.5 274.88V287.47M504.5 274.88V286.46M505.5 274.88V286.39M506.5 274.88V287.13M507.5 274.88V287.26M508.5 274.88V286.56M509.5 274.88V286.9M510.5 274.88V287.25M510.5 286.64V295.66M511.5 274.88V286.91M511.5 286.64V294.99M512.5 274.88V286.41M512.5 286.64V295.72M513.5 274.88V286.42M513.5 286.64V296.13M514.5 274.88V286.7M514.5 286.64V295.5M515.5 274.88V286.79M515.5 286.64V295.64M516.5 274.88V287.17M516.5 286.64V295.31M517.5 274.88V286.56M517.5 286.64V296.45M518.5 274.88V286.92M518.5 286.64V295.62M519.5 274.88V287.29M519.5 286.64V296.05M520.5 274.88V286.76M520.5 286.64V295.19M521.5 274.88V286.72M521.5 286.64V296.35M522.5 274.88V287.44M522.5 286.64V295.72M523.5 274.88V287.08M523.5 286.64V294.64M524.5 274.88V287.06M524.5 286.64V295.38M525.5 274.88V286.6M525.5 286.64V294.68M526.5 274.88V286.81M526.5 286.64V295.28M527.5 274.88V286.29M527.5 286.64V295.62M528.5 274.88V287.53M528.5 286.64V295.78M529.5 274.88V287.04M529.5 286.64V294.84M530.5 274.88V286.83M530.5 286.64V294.89M531.5 274.88V286.9M531.5 286.64V295.42M532.5 274.88V287.13M532.5 286.64V296M533.5 274.88V286.76M533.5 286.64V295.28M534.5 274.88V286.74M534.5 286.64V295.68M535.5 274.88V287.07M535.5 286.64V295.27M536.5 274.88V286.73M536.5 286.64V294.53M537.5 274.88V287.22M537.5 286.64V294.99M538.5 274.88V286.64M538.5 286.64V295.56M539.5 274.88V286.89M539.5 286.64V295.47M540.5 274.88V286.42M540.5 286.64V294.28M541.5 274.88V286.83M541.5 286.64V295.56M542.5 274.88V286.62M542.5 286.64V295.22M543.5 274.88V286.99M543.5 286.64V295.1M544.5 274.88V286.64M544.5 286.64V295.62M545.5 274.88V286.65M545.5 286.64V296.46M546.5 274.88V287.36M546.5 286.64V295.58M547.5 274.88V286.88M547.5 286.64V296.1M548.5 274.88V286.44M548.5 286.64V295.61M549.5 274.88V286.88M549.5 286.64V295.46M550.5 274.88V286.68M550.5 286.64V295.7M551.5 274.88V286.68M551.5 286.64V295.82M552.5 274.88V287.43M552.5 286.64V295.21M553.5 274.88V286.88M553.5 286.64V295.04M554.5 274.88V287.58M554.5 286.64V295.39M555.5 274.88V287.15M555.5 286.64V295.53M556.5 274.88V287.06M556.5 286.64V295.61M557.5 274.88V287.16M557.5 286.64V294.98M558.5 274.88V287.51M558.5 286.64V296.2M559.5 274.88V286.82M559.5 286.64V294.52M560.5 274.88V287.19M560.5 286.64V295.85M561.5 274.88V287.32M561.5 286.64V295.9M562.5 274.88V286.52M562.5 286.64V295.13M563.5 274.88V286.63M563.5 286.64V295.28M564.5 274.88V286.85M564.5 286.64V295.7M565.5 274.88V287.26M565.5 286.64V295.16M566.5 274.88V286.1M566.5 286.64V295.61M567.5 274.88V286.51M567.5 286.64V295.76M568.5 274.88V286.92M568.5 286.64V294.67" stroke="#0000ff" stroke-width="1" fill="none"/><path d="M423.5 286.64V295.46M472.5 286.64V295.46M476.5 286.64V295.46M478.5 286.64V295.46M482.5 286.64V295.46M485.5 286.64V295.46M487.5 286.64V295.46M492.5 286.64V295.46M496.5 286.64V295.46M503.5 286.64V295.46M504.5 286.64V295.46M509.5 286.64V295.46M510.5 286.64V301.93M524.5 286.64V301.93M536.5 286.64V301.93M539.5 286.64V301.93M545.5 286.64V301.93M551.5 286.64V301.93M552.5 286.64V301.93" stroke="#0000ff" stroke-width="0.9" stroke-opacity="0.8" fill="none"/><path d="M325.5 255.69 L326.5 253.7 L327.5 255.11 L328.5 255.77 L329.5 255.8 L330.5 255.74 L331.5 255.97 L332.5 255.29 L333.5 255.75 L334.5 255.01 L335.5 255 L336.5 254.23 L337.5 255.82 L338.5 256.03 L339.5 255.41 L340.5 256.03 L341.5 253.7 L342.5 255.58 L343.5 252.07 L344.5 254.81 L345.5 254.3 L346.5 254.13 L347.5 255.45 L348.5 255.83 L349.5 255.51 L350.5 255.16 L351.5 255.8 L352.5 255.68 L353.5 255.26 L354.5 253.72 L355.5 256.01 L356.5 253.93 L357.5 256.05 L358.5 255.77 L359.5 255.07 L360.5 255.68 L361.5 255.93 L362.5 255.84 L363.5 254.92 L364.5 255.98 L365.5 255.23 L366.5 255.69 L367.5 255.86 L368.5 255.31 L369.5 255.38 L370.5 255.2 L371.5 255.44 L372.5 255.35 L373.5 256.81 L374.5 256.99 L375.5 256.12 L376.5 257.1 L377.5 256.8 L378.5 256.49 L379.5 257.2 L380.5 256.9 L381.5 256.99 L382.5 256 L383.5 256.97 L384.5 256.71 L385.5 257.2 L386.5 256.42 L387.5 255.39 L388.5 256.87 L389.5 256.41 L390.5 255.78 L391.5 257.16 L392.5 256.37 L393.5 257.14 L394.5 255.45 L395.5 254.83 L396.5 256.26 L397.5 257.12 L398.5 256.45 L399.5 256.92 L400.5 257.14 L401.5 256.68 L402.5 255.32 L403.5 254.7 L404.5 257.16 L405.5 256.06 L406.5 256.71 L407.5 256.93 L408.5 256.75 L409.5 255.26 L410.5 256.38 L411.5 256.29 L412.5 256.66 L413.5 256.96 L414.5 255.63 L415.5 256.5 L416.5 257.01 L417.5 255.7 L418.5 256.86 L419.5 256.93 L420.5 255.48 L421.5 256.88 L422.5 255.68 L423.5 256.39 L424.5 257.02 L425.5 257.09 L426.5 257.17 L427.5 255.94 L428.5 257.17 L429.5 255.93 L430.5 255.88 L431.5 256.18 L432.5 257.23 L433.5 256.98 L434.5 255.51 L435.5 257.1 L436.5 256.81 L437.5 256.22 L438.5 256.42 L439.5 254.79 L440.5 256.98 L441.5 257.12 L442.5 256.8 L443.5 254.95 L444.5 256.36 L445.5 256.58 L446.5 255.88 L447.5 256.89 L448.5 256.5 L449.5 256.69 L450.5 256.97 L451.5 256.96 L452.5 256.85 L453.5 257.16 L454.5 256.98 L455.5 256.48 L456.5 256.43 L457.5 257.17 L458.5 256.55 L459.5 256.71 L460.5 257.21 L461.5 257.19 L462.5 256.75 L463.5 256.11 L464.5 255.97 L465.5 256.49 L466.5 256.94 L467.5 257.22 L468.5 255.71 L469.5 255.82 L470.5 255.35 L471.5 256.6 L472.5 257.07 L473.5 256.29 L474.5 257.11 L475.5 255.74 L476.5 255.87 L477.5 255.59 L478.5 257.13 L479.5 256.59 L480.5 256.75 L481.5 256.04 L482.5 257.07 L483.5 256.79 L484.5 257.23 L485.5 256.68 L486.5 255.68 L487.5 256.62 L488.5 257.23 L489.5 256.1 L490.5 255.98 L491.5 255.79 L492.5 257.04 L493.5 256.43 L494.5 256 L495.5 256.21 L496.5 256.96 L497.5 257.06 L498.5 256.62 L499.5 256.53 L500.5 256.43 L501.5 256.04 L502.5 256.32 L503.5 256.28 L504.5 255.94 L505.5 256.67 L506.5 256.51 L507.5 256.64 L508.5 255.61 L509.5 257.15 L510.5 256.57 L511.5 256.08 L512.5 257.22 L513.5 256.7 L514.5 256.69 L515.5 257.01 L516.5 255.77 L517.5 256.89 L518.5 256.33 L519.5 257.2 L520.5 256.72 L521.5 256.69 L522.5 257.17 L523.5 257.08 L524.5 257.2 L525.5 256.84 L526.5 256.8 L527.5 256.83 L528.5 256.04 L529.5 256.66 L530.5 256.54 L531.5 256.53 L532.5 256.17 L533.5 255.04 L534.5 255.95 L535.5 256.42 L536.5 256.11 L537.5 256.05 L538.5 257.21 L539.5 256.08 L540.5 256.69 L541.5 256.7 L542.5 257.04 L543.5 256.99 L544.5 256.87 L545.5 257.06 L546.5 256.55 L547.5 255.99 L548.5 257.16 L549.5 256.93 L550.5 257.14 L551.5 257.12 L552.5 257.01 L553.5 256.24 L554.5 257.02 L555.5 256.53 L556.5 256.09 L557.5 257.02 L558.5 257.2 L559.5 256.38 L560.5 256.25 L561.5 257.01 L562.5 257.11 L563.5 256.39 L564.5 256.57 L565.5 256.77 L566.5 255.32 L567.5 257 L568.5 256.19 L568.5 281.1 L567.5 282.4 L566.5 281.01 L565.5 280.88 L564.5 280.66 L563.5 280.88 L562.5 280.54 L561.5 280.5 L560.5 280.87 L559.5 280.32 L558.5 281.14 L557.5 281.49 L556.5 280.98 L555.5 280.71 L554.5 281.06 L553.5 281.41 L552.5 280.99 L551.5 280.9 L550.5 280.6 L549.5 281.67 L548.5 281.06 L547.5 280.19 L546.5 281.44 L545.5 280.71 L544.5 281.25 L543.5 281.04 L542.5 281.85 L541.5 281.01 L540.5 280.97 L539.5 281.22 L538.5 280.29 L537.5 281.82 L536.5 280.21 L535.5 281.08 L534.5 281.67 L533.5 280.3 L532.5 280.42 L531.5 280.73 L530.5 280.28 L529.5 281.21 L528.5 280.87 L527.5 280.38 L526.5 280.17 L525.5 280.92 L524.5 280.37 L523.5 280.37 L522.5 281.43 L521.5 281.56 L520.5 280.55 L519.5 280.66 L518.5 280.87 L517.5 280.63 L516.5 281.3 L515.5 281.1 L514.5 280.57 L513.5 280.62 L512.5 280.45 L511.5 281.07 L510.5 280.68 L509.5 280.3 L508.5 281.91 L507.5 280.81 L506.5 281.41 L505.5 280.56 L504.5 281.54 L503.5 280.63 L502.5 280.42 L501.5 281.51 L500.5 280.96 L499.5 280.89 L498.5 280.71 L497.5 280.6 L496.5 281.89 L495.5 281.28 L494.5 280.3 L493.5 281.66 L492.5 280.88 L491.5 280.77 L490.5 280.98 L489.5 280.94 L488.5 280.53 L487.5 280.3 L486.5 280.97 L485.5 280.59 L484.5 281.03 L483.5 280.61 L482.5 280.61 L481.5 281.54 L480.5 282.16 L479.5 281.2 L478.5 281.42 L477.5 280.94 L476.5 281.5 L475.5 280.32 L474.5 280.44 L473.5 281.07 L472.5 280.63 L471.5 280.95 L470.5 281.1 L469.5 281.15 L468.5 280.31 L467.5 280.56 L466.5 280.82 L465.5 280.59 L464.5 280.54 L463.5 280.94 L462.5 280.79 L461.5 280.54 L460.5 280.51 L459.5 280.27 L458.5 281.79 L457.5 281.21 L456.5 280.39 L455.5 280.87 L454.5 280.32 L453.5 280.27 L452.5 280.27 L451.5 280.51 L450.5 280.18 L449.5 280.18 L448.5 281.3 L447.5 280.2 L446.5 280.95 L445.5 281.03 L444.5 280.28 L443.5 280.27 L442.5 281.36 L441.5 280.9 L440.5 280.22 L439.5 281.32 L438.5 280.36 L437.5 280.76 L436.5 280.42 L435.5 280.85 L434.5 280.9 L433.5 282.28 L432.5 280.44 L431.5 280.87 L430.5 281.65 L429.5 281.06 L428.5 280.49 L427.5 281.22 L426.5 280.48 L425.5 281.07 L424.5 280.33 L423.5 280.32 L422.5 280.46 L421.5 281.61 L420.5 281.13 L419.5 280.25 L418.5 280.2 L417.5 280.31 L416.5 280.23 L415.5 280.94 L414.5 281.34 L413.5 280.61 L412.5 281.04 L411.5 280.78 L410.5 281.36 L409.5 280.29 L408.5 280.65 L407.5 280.37 L406.5 280.83 L405.5 280.63 L404.5 281.04 L403.5 280.83 L402.5 280.32 L401.5 281.18 L400.5 281.2 L399.5 280.18 L398.5 280.59 L397.5 281.09 L396.5 280.55 L395.5 280.47 L394.5 280.67 L393.5 280.53 L392.5 280.98 L391.5 280.35 L390.5 281.26 L389.5 280.21 L388.5 280.69 L387.5 280.9 L386.5 280.18 L385.5 280.39 L384.5 280.75 L383.5 281.88 L382.5 281.26 L381.5 280.31 L380.5 280.54 L379.5 280.65 L378.5 280.49 L377.5 282.09 L376.5 281.15 L375.5 280.46 L374.5 280.77 L373.5 280.25 L372.5 280.8 L371.5 282.47 L370.5 282.95 L369.5 281.94 L368.5 282.83 L367.5 282.99 L366.5 283.74 L365.5 283.12 L364.5 282.47 L363.5 282.74 L362.5 284.11 L361.5 282.26 L360.5 283.01 L359.5 283.82 L358.5 281.98 L357.5 282.16 L356.5 283.96 L355.5 282.38 L354.5 282.83 L353.5 282.36 L352.5 282.71 L351.5 283.28 L350.5 282.55 L349.5 284.74 L348.5 282.24 L347.5 282.93 L346.5 282.29 L345.5 284.57 L344.5 283.47 L343.5 284.72 L342.5 283.78 L341.5 283.16 L340.5 283.6 L339.5 282.83 L338.5 282.64 L337.5 283.47 L336.5 282.89 L335.5 283.4 L334.5 283.33 L333.5 283 L332.5 282.43 L331.5 282.62 L330.5 283.27 L329.5 282.32 L328.5 283.11 L327.5 282.14 L326.5 284.82 L325.5 282.02Z" fill="#ff0000"/><path d="M325.5 251.57V269M326.5 251.55V269M327.5 252.47V269M328.5 251.51V269M329.5 248.71V269M329.5 269V287.73M330.5 253.25V269M330.5 269V286.51M331.5 252.74V269M332.5 250.28V269M333.5 269V286.21M334.5 269V286.82M335.5 249.11V269M336.5 253.13V269M337.5 253.01V269M337.5 269V286.44M338.5 269V286.94M339.5 249.96V269M339.5 269V286.81M340.5 253.45V269M340.5 269V287.58M341.5 253.08V269M341.5 269V289.01M342.5 250.39V269M342.5 269V286.03M345.5 253.48V269M345.5 269V285.74M346.5 249.5V269M346.5 269V286.92M347.5 251.87V269M348.5 269V286.73M349.5 253.01V269M349.5 269V286.99M350.5 253.24V269M350.5 269V287.07M351.5 250.2V269M351.5 269V286.92M352.5 251.88V269M352.5 269V286.35M353.5 250.71V269M354.5 252.66V269M354.5 269V286.92M355.5 269V289.94M356.5 269V285.8M358.5 269V288.1M359.5 269V286.57M360.5 253.15V269M360.5 269V286.47M361.5 253.46V269M362.5 249.58V269M364.5 251.46V269M364.5 269V290.72M365.5 253.52V269M366.5 253.04V269M366.5 269V290.11M367.5 269V285.62M368.5 252.49V269M368.5 269V289.84M369.5 252.03V269M370.5 269V285.84M371.5 249.53V269M371.5 269V286.04M373.5 249.36V269M373.5 269V282.39M374.5 269V282.09M375.5 269V282.4M378.5 252.36V269M379.5 251.98V269M380.5 269V282.26M383.5 252.04V269M389.5 248.97V269M392.5 252.88V269M400.5 269V282.5M401.5 253.74V269M403.5 251.03V269M404.5 253.37V269M411.5 253.62V269M412.5 253.13V269M413.5 253.44V269M413.5 269V283.14M417.5 252.6V269M418.5 253.51V269M420.5 252.4V269M424.5 252.12V269M424.5 269V283.32M427.5 252.76V269M427.5 269V282.38M431.5 269V282.2M433.5 251.49V269M434.5 253.1V269M435.5 253.45V269M436.5 250.44V269M436.5 269V282.05M438.5 251.09V269M443.5 250.84V269M444.5 253.35V269M445.5 253.91V269M446.5 253.83V269M451.5 269V282.51M453.5 252.12V269M453.5 269V283.1M454.5 253.58V269M455.5 269V283.63M457.5 246.33V269M460.5 245.52V269M462.5 252.81V269M463.5 251.32V269M463.5 269V283.73M464.5 253.46V269M464.5 269V284.21M466.5 269V283.48M468.5 252.31V269M469.5 251.59V269M478.5 252.02V269M480.5 252.32V269M481.5 269V282.78M482.5 253.69V269M484.5 252.03V269M484.5 269V283.54M487.5 251.43V269M491.5 269V282.09M494.5 249.04V269M499.5 251.44V269M502.5 252.45V269M502.5 269V282.11M505.5 269V282.81M506.5 249.57V269M508.5 254.16V269M509.5 250.2V269M512.5 269V283.14M522.5 250.3V269M522.5 269V283.01M528.5 269V283.1M529.5 251.82V269M530.5 269V283.58M531.5 250.33V269M532.5 269V284.08M534.5 250.96V269M546.5 254.02V269M547.5 251.62V269M559.5 269V283.56M565.5 269V284.46M566.5 253.6V269M567.5 254.16V269M567.5 269V283.5M568.5 252.23V269" stroke="#ff0000" stroke-width="0.9" stroke-opacity="0.85" fill="none"/><path d="M325.2 266.99 L325.69 264.37 L326.17 268.46 L326.66 267.99 L327.15 265.5 L327.64 264.75 L328.12 266.17 L328.61 263.88 L329.1 265.69 L329.59 265.13 L330.07 264.74 L330.56 264.46 L331.05 264.19 L331.54 263.81 L332.02 266.31 L332.51 265.82 L333 264.77 L333.48 264.59 L333.97 265.4 L334.46 264.37 L334.95 266.38 L335.43 264.96 L335.92 267.01 L336.41 264.88 L336.9 267.54 L337.38 266.97 L337.87 268.42 L338.36 266.71 L338.84 270.17 L339.33 267.09 L339.82 267.11 L340.31 269.22 L340.79 267.96 L341.28 269.03 L341.77 268.43 L342.26 265.74 L342.74 264.87 L343.23 267.08 L343.72 264.89 L344.21 267.79 L344.69 268.54 L345.18 267.71 L345.67 268.36 L346.15 267.67 L346.64 267.9 L347.13 265.52 L347.62 263.18 L348.1 263.84 L348.59 266.12 L349.08 267.87 L349.57 266.82 L350.05 265.93 L350.54 265.39 L351.03 267.18 L351.52 268.58 L352 268.87 L352.49 264.92 L352.98 266.89 L353.46 265.49 L353.95 267.77 L354.44 267.18 L354.93 267.35 L355.41 269.74 L355.9 266.65 L356.39 269.8 L356.88 267.61 L357.36 267.06 L357.85 268.28 L358.34 268.45 L358.83 266.78 L359.31 266.93 L359.8 265.59 L360.29 264.54 L360.77 268.08 L361.26 265.01 L361.75 264.52 L362.24 266.7 L362.72 266.08 L363.21 265.03 L363.7 268.62 L364.19 267.82 L364.67 268.58 L365.16 266.03 L365.65 271.88 L366.13 270.2 L366.62 267.39 L367.11 268.96 L367.6 269.5 L368.08 268.36 L368.57 267.68 L369.06 268.16 L369.55 272.55 L370.03 271 L370.52 266.12 L371.01 267.55 L371.5 268.09 L371.98 269.6 L372.47 267.37 L372.96 272.53 L373.44 270.23 L373.93 269.51 L374.42 272.15 L374.91 272.8 L375.39 271.43 L375.88 270.62 L376.37 270.62 L376.86 270.4 L377.34 267.9 L377.83 270.43 L378.32 271.21 L378.81 269.53 L379.29 270.56 L379.78 270.48 L380.27 271.77 L380.75 268.68 L381.24 270.23 L381.73 270.65 L382.22 270.98 L382.7 270.86 L383.19 271.07 L383.68 271.67 L384.17 270.14 L384.65 272.15 L385.14 270.77 L385.63 269.41 L386.12 271.25 L386.6 272.12 L387.09 272.55 L387.58 270.86 L388.06 269.98 L388.55 273.79 L389.04 273.31 L389.53 270.14 L390.01 269.03 L390.5 271.21 L390.99 272.77 L391.48 270.85 L391.96 269.43 L392.45 269.11 L392.94 269.43 L393.42 268.45 L393.91 268.65 L394.4 266.19 L394.89 270.22 L395.37 265.98 L395.86 268.65 L396.35 269.32 L396.84 268.06 L397.32 268.25 L397.81 269.33 L398.3 269.46 L398.79 269.49 L399.27 270.57 L399.76 269.03 L400.25 268.11 L400.73 268.48 L401.22 268.32 L401.71 269.63 L402.2 270.21 L402.68 268.19 L403.17 267.68 L403.66 267.06 L404.15 269.06 L404.63 268.84 L405.12 268.59 L405.61 269.34 L406.1 268.64 L406.58 269.62 L407.07 270.51 L407.56 268.97 L408.04 273.38 L408.53 269.42 L409.02 270.73 L409.51 270.01 L409.99 268.77 L410.48 269.91 L410.97 270.96 L411.46 270.42 L411.94 271 L412.43 267.79 L412.92 270.2 L413.4 270.92 L413.89 268.9 L414.38 267.76 L414.87 270.05 L415.35 267.91 L415.84 269.75 L416.33 270.34 L416.82 269.6 L417.3 268.99 L417.79 267.62 L418.28 270.94 L418.77 270.81 L419.25 269.78 L419.74 271.91 L420.23 271.51 L420.71 271.56 L421.2 271.98 L421.69 270.46 L422.18 271.74 L422.66 274.6 L423.15 272.71 L423.64 270.61 L424.13 269.37 L424.61 271.99 L425.1 273.07 L425.59 271.79 L426.08 271.45 L426.56 273.79 L427.05 269.85 L427.54 272.34 L428.02 270.3 L428.51 271.9 L429 272.47 L429.49 268.74 L429.97 270.8 L430.46 270.07 L430.95 270.93 L431.44 270.23 L431.92 270.25 L432.41 270.31 L432.9 271.02 L433.39 271.54 L433.87 271.15 L434.36 273.07 L434.85 269.96 L435.33 271.31 L435.82 271.59 L436.31 275.49 L436.8 273 L437.28 272.9 L437.77 274.72 L438.26 271.56 L438.75 270.38 L439.23 270.62 L439.72 269.27 L440.21 268.86 L440.69 273.79 L441.18 271.41 L441.67 272.52 L442.16 269.88 L442.64 271.3 L443.13 273.07 L443.62 272.26 L444.11 268.97 L444.59 269.81 L445.08 270.88 L445.57 268.86 L446.06 268.27 L446.54 267.94 L447.03 269.35 L447.52 271.33 L448 271.32 L448.49 270.62 L448.98 271.63 L449.47 270.3 L449.95 270.79 L450.44 271.9 L450.93 270.26 L451.42 272.52 L451.9 268.31 L452.39 271.36 L452.88 270.66 L453.37 268.92 L453.85 273.18 L454.34 270.05 L454.83 271.41 L455.31 272.26 L455.8 275.15 L456.29 273.93 L456.78 273.73 L457.26 274.21 L457.75 271.1 L458.24 274.83 L458.73 272.04 L459.21 274.95 L459.7 275.53 L460.19 273.38 L460.67 273.93 L461.16 273.07 L461.65 272.92 L462.14 274.73 L462.62 275.52 L463.11 277.59 L463.6 279.41 L464.09 275.02 L464.57 272.77 L465.06 272.97 L465.55 274.82 L466.04 275.52 L466.52 272.77 L467.01 275.31 L467.5 275.02 L467.98 272.55 L468.47 273.78 L468.96 271.9 L469.45 273.29 L469.93 274.57 L470.42 273.65 L470.91 271.74 L471.4 273.02 L471.88 274.28 L472.37 272.22 L472.86 271.57 L473.35 274.3 L473.83 272.89 L474.32 273.37 L474.81 272.66 L475.29 274.24 L475.78 272.85 L476.27 273 L476.76 275.32 L477.24 273.89 L477.73 274.97 L478.22 273.28 L478.71 276.67 L479.19 276.17 L479.68 276.45 L480.17 274.04 L480.66 277.02 L481.14 274.99 L481.63 275.51 L482.12 272.95 L482.6 274.59 L483.09 274.32 L483.58 274.16 L484.07 271.83 L484.55 274.53 L485.04 270.15 L485.53 271.1 L486.02 275.43 L486.5 274.74 L486.99 276.13 L487.48 272.3 L487.96 272.08 L488.45 274.46 L488.94 274.63 L489.43 275.34 L489.91 272.86 L490.4 272.43 L490.89 276.07 L491.38 273 L491.86 273.71 L492.35 271.71 L492.84 273.03 L493.33 274.37 L493.81 272.06 L494.3 273.66 L494.79 274.46 L495.27 273.77 L495.76 272.99 L496.25 273.55 L496.74 273.26 L497.22 273.53 L497.71 271.78 L498.2 272.49 L498.69 271.93 L499.17 272.81 L499.66 273.37 L500.15 273.68 L500.64 273.79 L501.12 272.21 L501.61 275.52 L502.1 273.28 L502.58 273.73 L503.07 276.28 L503.56 276.34 L504.05 274.73 L504.53 275.61 L505.02 275.38 L505.51 274.59 L506 273.89 L506.48 272.7 L506.97 274.16 L507.46 274.62 L507.94 276.72 L508.43 273.83 L508.92 274.48 L509.41 276.01 L509.89 273.08 L510.38 274.57 L510.87 274.43 L511.36 275.84 L511.84 275.81 L512.33 273.78 L512.82 275.07 L513.31 276.17 L513.79 275.95 L514.28 275.69 L514.77 274.86 L515.25 275.38 L515.74 275.95 L516.23 275.18 L516.72 274.62 L517.2 277.95 L517.69 278.73 L518.18 277.03 L518.67 277.82 L519.15 275.36 L519.64 276.81 L520.13 278.83 L520.62 277.54 L521.1 277.4 L521.59 277.12 L522.08 277.02 L522.56 275.44 L523.05 276.4 L523.54 275.65 L524.03 277.13 L524.51 277.35 L525 274.93 L525.49 275.05 L525.98 277.6 L526.46 276.12 L526.95 275.28 L527.44 276.18 L527.93 275.68 L528.41 275.77 L528.9 273.37 L529.39 276.7 L529.87 277.67 L530.36 275.84 L530.85 277.87 L531.34 275.94 L531.82 276.78 L532.31 273.93 L532.8 275.48 L533.29 276.95 L533.77 275.1 L534.26 273.66 L534.75 274.21 L535.23 277.17 L535.72 274.8 L536.21 273.09 L536.7 276.19 L537.18 276.34 L537.67 273.69 L538.16 276.46 L538.65 278.52 L539.13 274.21 L539.62 277.2 L540.11 275.06 L540.6 275.89 L541.08 274.12 L541.57 276.48 L542.06 279.04 L542.54 277.7 L543.03 279.55 L543.52 279.09 L544.01 277.16 L544.49 276.84 L544.98 279.23 L545.47 275.7 L545.96 275.73 L546.44 274.56 L546.93 274.83 L547.42 274.6 L547.91 275.15 L548.39 276.45 L548.88 275.9 L549.37 277.77 L549.85 273.55 L550.34 274.88 L550.83 278.14 L551.32 276.27 L551.8 273.29 L552.29 276.59 L552.78 274.96 L553.27 272.89 L553.75 276.04 L554.24 277.3 L554.73 276.26 L555.22 275.65 L555.7 277.13 L556.19 275.36 L556.68 275.5 L557.16 277.62 L557.65 276.3 L558.14 274.4 L558.63 276.69 L559.11 277.61 L559.6 274.85 L560.09 277.42 L560.58 275.99 L561.06 276.02 L561.55 275.39 L562.04 276.89 L562.52 276.45 L563.01 277.44 L563.5 276.17 L563.99 274.66 L564.47 274.01 L564.96 277 L565.45 277.7 L565.94 275.32 L566.42 277.59 L566.91 275.54 L567.4 275.58 L567.89 276.33 L568.37 274.12 L568.86 276.43" stroke="#000000" stroke-width="1.8" fill="none" stroke-linejoin="round"/></g><rect x="325.2" y="239.6" width="275.1" height="88.2" fill="none" stroke="#555" stroke-width="0.9"/><path d="M325.2 327.8 v-2.2 M325.2 239.6 v2.2" stroke="#666" stroke-width="0.7"/><text x="325.2" y="343.2" text-anchor="middle" style='font-family:"Liberation Sans",sans-serif;font-size:10.6px' fill="#333">0</text><path d="M364.5 327.8 v-2.2 M364.5 239.6 v2.2" stroke="#666" stroke-width="0.7"/><text x="364.5" y="343.2" text-anchor="middle" style='font-family:"Liberation Sans",sans-serif;font-size:10.6px' fill="#333">50</text><path d="M403.8 327.8 v-2.2 M403.8 239.6 v2.2" stroke="#666" stroke-width="0.7"/><text x="403.8" y="343.2" text-anchor="middle" style='font-family:"Liberation Sans",sans-serif;font-size:10.6px' fill="#333">100</text><path d="M443.1 327.8 v-2.2 M443.1 239.6 v2.2" stroke="#666" stroke-width="0.7"/><text x="443.1" y="343.2" text-anchor="middle" style='font-family:"Liberation Sans",sans-serif;font-size:10.6px' fill="#333">150</text><path d="M482.4 327.8 v-2.2 M482.4 239.6 v2.2" stroke="#666" stroke-width="0.7"/><text x="482.4" y="343.2" text-anchor="middle" style='font-family:"Liberation Sans",sans-serif;font-size:10.6px' fill="#333">200</text><path d="M521.7 327.8 v-2.2 M521.7 239.6 v2.2" stroke="#666" stroke-width="0.7"/><text x="521.7" y="343.2" text-anchor="middle" style='font-family:"Liberation Sans",sans-serif;font-size:10.6px' fill="#333">250</text><path d="M561 327.8 v-2.2 M561 239.6 v2.2" stroke="#666" stroke-width="0.7"/><text x="561" y="343.2" text-anchor="middle" style='font-family:"Liberation Sans",sans-serif;font-size:10.6px' fill="#333">300</text><path d="M600.3 327.8 v-2.2 M600.3 239.6 v2.2" stroke="#666" stroke-width="0.7"/><text x="600.3" y="343.2" text-anchor="middle" style='font-family:"Liberation Sans",sans-serif;font-size:10.6px' fill="#333">350</text><path d="M325.2 327.8 h2.2 M600.3 327.8 h-2.2" stroke="#666" stroke-width="0.7"/><text x="320.6" y="332.3" text-anchor="end" style='font-family:"Liberation Sans",sans-serif;font-size:10.6px' fill="#333">-1</text><path d="M325.2 298.4 h2.2 M600.3 298.4 h-2.2" stroke="#666" stroke-width="0.7"/><text x="320.6" y="302.9" text-anchor="end" style='font-family:"Liberation Sans",sans-serif;font-size:10.6px' fill="#333">-0.5</text><path d="M325.2 269 h2.2 M600.3 269 h-2.2" stroke="#666" stroke-width="0.7"/><text x="320.6" y="273.5" text-anchor="end" style='font-family:"Liberation Sans",sans-serif;font-size:10.6px' fill="#333">0</text><path d="M325.2 239.6 h2.2 M600.3 239.6 h-2.2" stroke="#666" stroke-width="0.7"/><text x="320.6" y="244.1" text-anchor="end" style='font-family:"Liberation Sans",sans-serif;font-size:10.6px' fill="#333">0.5</text><text transform="translate(297.5,283.7) rotate(-90)" text-anchor="middle" style='font-family:"Liberation Sans",sans-serif;font-size:12.4px' fill="#333">Position[nm]</text><text x="462.75" y="359.2" text-anchor="middle" style='font-family:"Liberation Sans",sans-serif;font-size:12.4px' fill="#333">time[s]</text><rect x="489" y="247.4" width="102.6" height="41" fill="#fff" stroke="#444" stroke-width="0.7"/><path d="M491.2 255.7 H508.6" stroke="#0000ff" stroke-width="0.9" stroke-opacity="0.6"/><text x="511.2" y="259.3" style='font-family:"Liberation Sans","Noto Serif CJK SC",serif;font-size:9.6px' fill="#444" textLength="26.4" lengthAdjust="spacingAndGlyphs">全频段</text><text x="537.8" y="259.6" style='font-family:"Liberation Sans",sans-serif;font-size:10.1px' fill="#2a2a2a">0.34699nm</text><path d="M491.2 268.95 H508.6" stroke="#ff0000" stroke-width="0.9" stroke-opacity="0.6"/><text x="511.2" y="272.55" style='font-family:"Liberation Sans","Noto Serif CJK SC",serif;font-size:9.6px' fill="#444" textLength="26.4" lengthAdjust="spacingAndGlyphs">高频段</text><text x="537.8" y="272.85" style='font-family:"Liberation Sans",sans-serif;font-size:10.1px' fill="#2a2a2a">0.23406nm</text><path d="M491.2 282.2 H508.6" stroke="#000" stroke-width="0.9" stroke-opacity="0.6"/><text x="511.2" y="285.8" style='font-family:"Liberation Sans","Noto Serif CJK SC",serif;font-size:9.6px' fill="#444" textLength="26.4" lengthAdjust="spacingAndGlyphs">低频段</text><text x="537.8" y="286.1" style='font-family:"Liberation Sans",sans-serif;font-size:10.1px' fill="#2a2a2a">0.25616nm</text></g><rect x="569.8" y="182" width="5" height="160" fill="url(#shl)"/><rect x="576.8" y="176" width="316.2" height="4" fill="url(#sht)"/><clipPath id="w162"><rect x="574.8" y="180" width="316.2" height="160"/></clipPath><g clip-path="url(#w162)"><rect x="574.8" y="180" width="316.2" height="160" fill="#f0f0f0"/><rect x="574.8" y="180" width="316.2" height="31.6" fill="#fff"/><path d="M574.8 211.8 H891" stroke="#e2e2e2" stroke-width="0.8"/><rect x="574.8" y="212.2" width="316.2" height="15.3" fill="#f2f2f2"/><path d="M574.8 227.8 H891" stroke="#dcdcdc" stroke-width="0.8"/><g transform="translate(579.1,184.3)"><rect x="0.4" y="0.4" width="8.8" height="9" fill="#f6f7fa" stroke="#a0aac0" stroke-width="0.8"/><rect x="0.4" y="0.4" width="8.8" height="1.3" fill="#7f98c8"/><path d="M1.2 7 L5.4 2.4 L8.2 8 L6.4 6.8 Z" fill="#e06a1c"/><path d="M1.2 7 L3.6 4.4 L4.8 6.8 L3 7.6 Z" fill="#2f6db5"/><path d="M5.4 2.4 L8.2 8 L6.2 4.8 Z" fill="#b83a10"/></g><text x="590.6" y="191.7" style='font-family:"Liberation Sans","Noto Sans CJK SC",sans-serif;font-size:8.5px' fill="#a6a6a6" stroke="#a6a6a6" stroke-width="0.25" textLength="27.6" lengthAdjust="spacingAndGlyphs">Figure 6</text><path d="M835.4 188.3 H840.6" stroke="#9a9a9a" stroke-width="0.8"/><rect x="862.7" y="185.6" width="5.6" height="5.6" fill="none" stroke="#9a9a9a" stroke-width="0.8"/><text x="578.6" y="206.7" style='font-family:"Liberation Sans","Noto Sans CJK SC",sans-serif;font-size:7.6px' fill="#1a1a1a" stroke="#1a1a1a" stroke-width="0.15" textLength="22.1" lengthAdjust="spacingAndGlyphs">文件(F)</text><text x="608.8" y="206.7" style='font-family:"Liberation Sans","Noto Sans CJK SC",sans-serif;font-size:7.6px' fill="#1a1a1a" stroke="#1a1a1a" stroke-width="0.15" textLength="22.6" lengthAdjust="spacingAndGlyphs">编辑(E)</text><text x="639.5" y="206.7" style='font-family:"Liberation Sans","Noto Sans CJK SC",sans-serif;font-size:7.6px' fill="#1a1a1a" stroke="#1a1a1a" stroke-width="0.15" textLength="22.9" lengthAdjust="spacingAndGlyphs">查看(V)</text><text x="670.5" y="206.7" style='font-family:"Liberation Sans","Noto Sans CJK SC",sans-serif;font-size:7.6px' fill="#1a1a1a" stroke="#1a1a1a" stroke-width="0.15" textLength="20.9" lengthAdjust="spacingAndGlyphs">插入(I)</text><text x="699.3" y="206.7" style='font-family:"Liberation Sans","Noto Sans CJK SC",sans-serif;font-size:7.6px' fill="#1a1a1a" stroke="#1a1a1a" stroke-width="0.15" textLength="22.6" lengthAdjust="spacingAndGlyphs">工具(T)</text><text x="729.6" y="206.7" style='font-family:"Liberation Sans","Noto Sans CJK SC",sans-serif;font-size:7.6px' fill="#1a1a1a" stroke="#1a1a1a" stroke-width="0.15" textLength="23.3" lengthAdjust="spacingAndGlyphs">桌面(D)</text><text x="761" y="206.7" style='font-family:"Liberation Sans","Noto Sans CJK SC",sans-serif;font-size:7.6px' fill="#1a1a1a" stroke="#1a1a1a" stroke-width="0.15" textLength="25" lengthAdjust="spacingAndGlyphs">窗口(W)</text><text x="794" y="206.7" style='font-family:"Liberation Sans","Noto Sans CJK SC",sans-serif;font-size:7.6px' fill="#1a1a1a" stroke="#1a1a1a" stroke-width="0.15" textLength="24.2" lengthAdjust="spacingAndGlyphs">帮助(H)</text><g transform="translate(576.9,214.7)"><path d="M1 0.5 H6 L8.3 2.8 V8.6 H1 Z" fill="#fdfdff" stroke="#7d8fb0" stroke-width="0.8"/><path d="M6 0.5 V2.8 H8.3" fill="#dfe6f2" stroke="#7d8fb0" stroke-width="0.6"/><rect x="0.2" y="0" width="2.6" height="2.6" fill="#f08040"/></g><g transform="translate(589.3,214.7)"><path d="M0.5 2 H3.5 L4.3 3 H8 V8.3 H0.5 Z" fill="#d9a92c"/><path d="M0.5 8.3 L2 4.3 H9 L7.8 8.3 Z" fill="#f6d56b" stroke="#c89a28" stroke-width="0.5"/><path d="M6 0.8 L8.2 0.8 L8.2 2.6" stroke="#6a8ac0" stroke-width="0.7" fill="none"/></g><g transform="translate(602.9,214.7)"><rect x="0.4" y="0.4" width="8.4" height="8.4" rx="0.6" fill="#3b4fb0"/><rect x="2" y="0.6" width="5" height="3.4" fill="#e8ecf8"/><rect x="2.6" y="5.6" width="3.8" height="3" fill="#1e2a70"/><rect x="4.4" y="6" width="1.2" height="1.8" fill="#dfe4f0"/></g><g transform="translate(615.8,214.7)"><rect x="2.4" y="0.4" width="4.4" height="3.6" fill="#f4f6fa" stroke="#9aa4b8" stroke-width="0.5"/><path d="M0.4 4.2 Q0.4 3 1.6 3 H7.4 Q8.6 3 8.6 4.2 V7.4 H0.4 Z" fill="#b4b6bc"/><rect x="1.8" y="6" width="5.4" height="2.7" fill="#e6e7ea" stroke="#8c8e94" stroke-width="0.4"/></g><g transform="translate(633.5,214.7)"><path d="M2.3 0.6 L2.3 7.6 L4 6 L5.4 8.8 L6.4 8.3 L5 5.6 L7.3 5.4 Z" fill="#fff" stroke="#333" stroke-width="0.7"/></g><g transform="translate(649.6,214.7)"><path d="M5.2 5.2 L8.6 8.6" stroke="#e09a40" stroke-width="2" stroke-linecap="round"/><circle cx="3.6" cy="3.6" r="3" fill="#dcecfb" stroke="#7a9ad0" stroke-width="0.9"/><path d="M2.2 3.6 H5 M3.6 2.2 V5" stroke="#4a78c0" stroke-width="0.8"/></g><g transform="translate(662.6,214.7)"><path d="M5.2 5.2 L8.6 8.6" stroke="#e09a40" stroke-width="2" stroke-linecap="round"/><circle cx="3.6" cy="3.6" r="3" fill="#dcecfb" stroke="#7a9ad0" stroke-width="0.9"/><path d="M2.2 3.6 H5" stroke="#4a78c0" stroke-width="0.8"/></g><g transform="translate(674.7,214.2)"><path d="M1.2 5.2 Q0.4 3.6 1.8 3.4 L2.8 4.4 V2 Q3.4 0.6 4.4 1.4 V0.9 Q5.2 0 6 0.9 V1.4 Q7 0.8 7.6 1.8 V3.2 Q8.8 2.8 9.2 3.8 L8.8 6.6 Q8.2 9.8 5.2 9.8 Q2.8 9.8 1.2 5.2 Z" fill="#f7d8bc" stroke="#7f93c6" stroke-width="0.7"/><path d="M3 2.2 V5 M4.5 1.2 V4.6 M6 1.2 V4.6 M7.5 2 V5" stroke="#9fb0d8" stroke-width="0.5"/></g><g transform="translate(688.1,214.2)"><path d="M1.6 3.2 A4 4 0 1 1 1.4 6.6" fill="none" stroke="#3a5490" stroke-width="1.8"/><circle cx="5.2" cy="5" r="2.2" fill="#b8c4dc"/><path d="M4.4 3.8 V6.2 M5.4 3.6 V6.4" stroke="#7f8fb8" stroke-width="0.5"/><path d="M0 4.6 L3 4.2 L2 6.6 Z" fill="#fff" stroke="#9aa" stroke-width="0.3"/></g><g transform="translate(700.7,214.2)"><rect x="4" y="0" width="6" height="5.8" fill="#e6e4a4" stroke="#a8a470" stroke-width="0.5"/><rect x="5" y="1" width="4" height="3.8" fill="#dddb9a"/><path d="M0.4 1.6 L9.4 9.4" stroke="#8080ff" stroke-width="1.2"/><path d="M5 5.6 L1.2 6.4 L2.6 7.4 L1 9.2" stroke="#111" stroke-width="1.4" fill="none"/></g><g transform="translate(714.6,214.2)"><path d="M9.4 0.4 L4.2 6" stroke="#8c94cc" stroke-width="1.9" stroke-linecap="round"/><path d="M0.6 9.6 Q0.4 6.6 3 5.6 L4.4 7 Q3.8 9.6 0.6 9.6 Z" fill="#3a3a3a"/><circle cx="7.6" cy="8.2" r="1.5" fill="#ee0000"/></g><path d="M728.4 218.6 h2.4 l-1.2 1.3 z" fill="#333"/><g transform="translate(737.4,214.7)"><rect x="0.4" y="0.6" width="7.8" height="6.4" rx="1" fill="#dde4f0" stroke="#4a5f95" stroke-width="0.9"/><rect x="1.8" y="3.2" width="3.2" height="2.2" fill="#7d8fb8"/><rect x="3" y="6.6" width="5.8" height="2.2" rx="0.6" fill="#8596bd" stroke="#4a5f95" stroke-width="0.5"/></g><rect x="766" y="212.2" width="13" height="14" fill="#cce4f7"/><g transform="translate(754.9,214.7)"><rect x="2.3" y="0.4" width="4.6" height="8.4" rx="0.6" fill="url(#cbg)" stroke="#4f5f8f" stroke-width="0.8"/></g><g transform="translate(767.8,214.7)"><rect x="0.4" y="0.4" width="8.4" height="8.4" fill="#f4f6fb" stroke="#5a6a9a" stroke-width="0.8"/><rect x="1.5" y="2" width="2.4" height="1.8" fill="#e83a3a"/><rect x="1.5" y="5.4" width="2.4" height="1.8" fill="#3a4ae8"/><path d="M4.6 2.9 H7.6 M4.6 6.3 H7.6" stroke="#6a7aa8" stroke-width="0.9"/></g><rect x="786.3" y="216.2" width="6" height="6" rx="0.8" fill="#909090" stroke="#777" stroke-width="0.4"/><g transform="translate(797.6,214.7)"><rect x="0.4" y="0.4" width="8.4" height="8.4" rx="0.6" fill="#4a64a0"/><rect x="1.8" y="2.2" width="5.6" height="4.4" fill="#f4f6fb"/></g><path d="M628.6 212.2 V226.2" stroke="#d6d6d6" stroke-width="0.8"/><path d="M644.9 212.2 V226.2" stroke="#d6d6d6" stroke-width="0.8"/><path d="M734.3 212.2 V226.2" stroke="#d6d6d6" stroke-width="0.8"/><path d="M750.8 212.2 V226.2" stroke="#d6d6d6" stroke-width="0.8"/><path d="M781.3 212.2 V226.2" stroke="#d6d6d6" stroke-width="0.8"/><path d="M575.3 340 V180.5" stroke="#b4b4b4" stroke-width="1" fill="none"/><path d="M574.8 180.5 H891" stroke="#c8c8c8" stroke-width="1" fill="none"/><clipPath id="a186"><rect x="618.3" y="237.6" width="258" height="95.8"/></clipPath><rect x="618.3" y="237.6" width="258" height="95.8" fill="#fff"/><g clip-path="url(#a186)"><path d="M618.5 295.08 L619.5 295.08 L620.5 295.08 L621.5 295.08 L622.5 295.08 L623.5 295.08 L624.5 295.08 L625.5 295.08 L626.5 295.08 L627.5 295.08 L628.5 295.08 L629.5 295.08 L630.5 295.08 L631.5 295.08 L632.5 295.08 L633.5 295.08 L634.5 295.08 L635.5 295.08 L636.5 295.08 L637.5 295.08 L638.5 295.08 L639.5 295.08 L640.5 295.08 L641.5 295.08 L642.5 295.08 L643.5 295.08 L644.5 295.08 L645.5 295.08 L646.5 295.08 L647.5 295.08 L648.5 295.08 L649.5 295.08 L650.5 295.08 L651.5 295.08 L652.5 295.08 L653.5 295.08 L654.5 295.08 L655.5 295.08 L656.5 295.08 L657.5 295.08 L658.5 295.08 L659.5 295.08 L660.5 295.08 L661.5 295.08 L662.5 295.08 L663.5 295.08 L664.5 295.08 L665.5 295.08 L666.5 295.08 L667.5 295.08 L668.5 295.08 L669.5 295.08 L670.5 295.08 L671.5 295.08 L672.5 295.08 L673.5 295.08 L674.5 295.08 L675.5 295.08 L676.5 295.08 L677.5 295.08 L678.5 295.08 L679.5 295.08 L680.5 295.08 L681.5 295.08 L682.5 295.08 L683.5 295.08 L684.5 295.08 L685.5 295.08 L686.5 295.08 L687.5 295.08 L688.5 295.08 L689.5 295.08 L690.5 295.08 L691.5 295.08 L692.5 295.08 L693.5 295.08 L694.5 295.08 L695.5 295.08 L696.5 295.08 L697.5 295.08 L698.5 295.08 L699.5 295.08 L700.5 295.08 L701.5 295.08 L702.5 295.08 L703.5 295.08 L704.5 295.08 L705.5 295.08 L706.5 295.08 L707.5 295.08 L708.5 295.08 L709.5 295.08 L710.5 295.08 L711.5 295.08 L712.5 295.08 L713.5 295.08 L714.5 295.08 L715.5 295.08 L716.5 295.08 L717.5 295.08 L718.5 295.08 L719.5 295.08 L720.5 295.08 L721.5 295.08 L722.5 295.08 L723.5 295.08 L724.5 295.08 L725.5 295.08 L726.5 295.08 L727.5 295.08 L728.5 295.08 L729.5 295.08 L730.5 295.08 L731.5 295.08 L732.5 295.08 L733.5 295.08 L734.5 295.08 L735.5 295.08 L736.5 295.08 L737.5 295.08 L738.5 295.08 L739.5 295.08 L740.5 295.08 L741.5 295.08 L742.5 295.08 L743.5 295.08 L744.5 295.08 L745.5 295.08 L746.5 295.08 L747.5 295.08 L748.5 295.08 L749.5 295.08 L750.5 295.08 L751.5 295.08 L752.5 295.08 L753.5 295.08 L754.5 295.08 L755.5 295.08 L756.5 295.08 L757.5 295.08 L758.5 295.08 L759.5 295.08 L760.5 295.08 L761.5 295.08 L762.5 295.08 L763.5 295.08 L764.5 295.08 L765.5 295.08 L766.5 295.08 L767.5 295.08 L768.5 295.08 L769.5 295.08 L770.5 295.08 L771.5 295.08 L772.5 295.08 L773.5 295.08 L774.5 295.08 L775.5 295.08 L776.5 295.08 L777.5 295.08 L778.5 295.08 L779.5 295.08 L780.5 295.08 L781.5 295.08 L782.5 295.08 L783.5 295.08 L784.5 295.08 L785.5 295.08 L786.5 295.08 L787.5 295.08 L788.5 295.08 L789.5 295.08 L790.5 295.08 L791.5 295.08 L792.5 295.08 L793.5 295.08 L794.5 295.08 L795.5 295.08 L796.5 295.08 L797.5 295.08 L798.5 295.08 L799.5 295.08 L800.5 295.08 L801.5 295.08 L802.5 295.08 L803.5 295.08 L804.5 295.08 L805.5 295.08 L806.5 295.08 L807.5 295.08 L808.5 295.08 L809.5 295.08 L810.5 295.08 L811.5 295.08 L812.5 295.08 L813.5 295.08 L814.5 295.08 L815.5 295.08 L816.5 295.08 L817.5 295.08 L818.5 295.08 L819.5 295.08 L820.5 295.08 L821.5 295.08 L822.5 295.08 L823.5 295.08 L824.5 295.08 L825.5 295.08 L826.5 295.08 L827.5 295.08 L828.5 295.08 L829.5 295.08 L830.5 295.08 L831.5 295.08 L832.5 295.08 L833.5 295.08 L834.5 295.08 L835.5 295.08 L836.5 295.08 L837.5 295.08 L838.5 295.08 L839.5 295.08 L840.5 295.08 L841.5 295.08 L842.5 295.08 L843.5 295.08 L844.5 295.08 L845.5 295.08 L846.5 295.08 L846.5 311.42 L845.5 307.97 L844.5 307.53 L843.5 311.52 L842.5 310.02 L841.5 310.92 L840.5 309.55 L839.5 309.98 L838.5 310.59 L837.5 311.44 L836.5 307.88 L835.5 309.5 L834.5 308.7 L833.5 310.51 L832.5 310.42 L831.5 311.05 L830.5 309.59 L829.5 311.06 L828.5 312 L827.5 310.29 L826.5 311.65 L825.5 310.49 L824.5 310.86 L823.5 310.48 L822.5 311 L821.5 311.31 L820.5 311.95 L819.5 309.08 L818.5 311.32 L817.5 310.17 L816.5 312.54 L815.5 310.28 L814.5 309.47 L813.5 311.15 L812.5 313.05 L811.5 309.33 L810.5 310.07 L809.5 312.14 L808.5 311.05 L807.5 309.72 L806.5 311.17 L805.5 309.76 L804.5 309.48 L803.5 309.33 L802.5 309.24 L801.5 310.54 L800.5 312.51 L799.5 309.27 L798.5 308.56 L797.5 310.18 L796.5 313.94 L795.5 311.78 L794.5 310.66 L793.5 309.61 L792.5 311.11 L791.5 309.23 L790.5 308 L789.5 310.59 L788.5 310.78 L787.5 308.87 L786.5 309.9 L785.5 310.89 L784.5 310.41 L783.5 310.12 L782.5 311.37 L781.5 311.5 L780.5 309.79 L779.5 312.69 L778.5 310.73 L777.5 310.02 L776.5 309.99 L775.5 307.62 L774.5 310.78 L773.5 309.67 L772.5 310.33 L771.5 312.34 L770.5 308.7 L769.5 308.72 L768.5 311.63 L767.5 309.15 L766.5 313.33 L765.5 309.8 L764.5 310.89 L763.5 310.6 L762.5 312.71 L761.5 311.09 L760.5 308.53 L759.5 310.86 L758.5 311.95 L757.5 310.96 L756.5 310.04 L755.5 309.49 L754.5 310.27 L753.5 311.08 L752.5 310.56 L751.5 310.22 L750.5 310.72 L749.5 309.39 L748.5 309.29 L747.5 310.86 L746.5 309.86 L745.5 310.08 L744.5 310.08 L743.5 311.74 L742.5 310.87 L741.5 310.63 L740.5 308.53 L739.5 311.07 L738.5 310.48 L737.5 310.55 L736.5 310.64 L735.5 313.83 L734.5 310.56 L733.5 310.3 L732.5 309.95 L731.5 310.3 L730.5 310.02 L729.5 313.17 L728.5 309.59 L727.5 310.7 L726.5 312 L725.5 308.85 L724.5 310.88 L723.5 313.32 L722.5 310.26 L721.5 311.2 L720.5 309.67 L719.5 309.27 L718.5 309.22 L717.5 310.81 L716.5 310.51 L715.5 310.61 L714.5 311.23 L713.5 308.55 L712.5 309.78 L711.5 310.81 L710.5 310.76 L709.5 308.8 L708.5 310.68 L707.5 309.01 L706.5 310.2 L705.5 310.53 L704.5 310.81 L703.5 312.36 L702.5 310.85 L701.5 311.13 L700.5 311.91 L699.5 310.06 L698.5 309.08 L697.5 310.14 L696.5 310.24 L695.5 309.4 L694.5 309.31 L693.5 313.65 L692.5 309.76 L691.5 310.76 L690.5 310.94 L689.5 312.37 L688.5 310.84 L687.5 311.29 L686.5 310.85 L685.5 309.84 L684.5 310.36 L683.5 309.07 L682.5 311.77 L681.5 310.08 L680.5 309.09 L679.5 310.24 L678.5 311.39 L677.5 310.18 L676.5 311.89 L675.5 310.93 L674.5 310.05 L673.5 312.04 L672.5 311.99 L671.5 310.92 L670.5 310.68 L669.5 309.39 L668.5 310.17 L667.5 309.45 L666.5 309.31 L665.5 311.28 L664.5 309.19 L663.5 311.06 L662.5 312.25 L661.5 310.07 L660.5 309.85 L659.5 310.08 L658.5 311.19 L657.5 310.26 L656.5 310.06 L655.5 310.65 L654.5 309.15 L653.5 309.79 L652.5 311.54 L651.5 312.68 L650.5 311.81 L649.5 310.15 L648.5 311.54 L647.5 310.39 L646.5 311.47 L645.5 310.25 L644.5 311.41 L643.5 311.92 L642.5 309.31 L641.5 309.75 L640.5 313.36 L639.5 311 L638.5 310.44 L637.5 310.55 L636.5 310.41 L635.5 311.34 L634.5 309.15 L633.5 311.31 L632.5 312.06 L631.5 309.96 L630.5 309.93 L629.5 310.46 L628.5 310.98 L627.5 310.61 L626.5 308.38 L625.5 309.76 L624.5 310.53 L623.5 310.39 L622.5 310.53 L621.5 308.91 L620.5 308.74 L619.5 308.67 L618.5 310.2Z" fill="#0000ff"/><path d="M623.5 304.66V316.38M647.5 304.66V317.28M650.5 304.66V311.49M656.5 304.66V313.4M661.5 304.66V313.32M663.5 304.66V316.69M679.5 304.66V315.51M682.5 304.66V313.83M693.5 304.66V314.85M700.5 304.66V312.78M708.5 304.66V315.04M725.5 304.66V314.32M732.5 304.66V314.39M743.5 304.66V315.68M751.5 304.66V315.2M755.5 304.66V314.34M772.5 304.66V314.34M774.5 304.66V312.14M779.5 304.66V314.42M781.5 304.66V313.78M795.5 304.66V313.67M807.5 304.66V310.86M810.5 304.66V315.28M814.5 304.66V313.97M822.5 304.66V314.44M832.5 304.66V313.71M837.5 304.66V316.53M842.5 304.66V316.14" stroke="#0000ff" stroke-width="0.8" stroke-opacity="0.7" fill="none"/><path d="M647.5 304.66V321.68M675.5 304.66V318.8M692.5 304.66V322.86M707.5 304.66V319.39M736.5 304.66V318.78M749.5 304.66V318.97M750.5 304.66V321.5M800.5 304.66V320.58M813.5 304.66V320.51" stroke="#0000ff" stroke-width="0.7" stroke-opacity="0.6" fill="none"/><path d="M618.5 266.19 L619.5 267.14 L620.5 267.52 L621.5 267.74 L622.5 267.4 L623.5 266.89 L624.5 267.1 L625.5 267.27 L626.5 267.39 L627.5 266.25 L628.5 267 L629.5 266.64 L630.5 267.51 L631.5 267.71 L632.5 267.05 L633.5 266.5 L634.5 267.38 L635.5 266.8 L636.5 266.03 L637.5 267.38 L638.5 267.76 L639.5 267.25 L640.5 267.38 L641.5 267.39 L642.5 267.13 L643.5 266.67 L644.5 267.34 L645.5 266.48 L646.5 267.51 L647.5 266.8 L648.5 267.31 L649.5 267.36 L650.5 266.8 L651.5 267.01 L652.5 267.11 L653.5 267.71 L654.5 267.59 L655.5 267.3 L656.5 266.65 L657.5 267.32 L658.5 267.25 L659.5 267.34 L660.5 266.99 L661.5 266.26 L662.5 267.09 L663.5 266.81 L664.5 266.77 L665.5 267.69 L666.5 267.6 L667.5 267.31 L668.5 267.19 L669.5 267.34 L670.5 267.46 L671.5 267.36 L672.5 267.65 L673.5 265.85 L674.5 267.09 L675.5 267.09 L676.5 267.09 L677.5 267.55 L678.5 267.12 L679.5 266.99 L680.5 267.75 L681.5 267.1 L682.5 267 L683.5 267.55 L684.5 267.01 L685.5 266.24 L686.5 267.06 L687.5 267 L688.5 267.63 L689.5 267.68 L690.5 266.79 L691.5 267.02 L692.5 266.28 L693.5 267.64 L694.5 267.27 L695.5 267.23 L696.5 267.52 L697.5 267.4 L698.5 267.15 L699.5 267.52 L700.5 267.38 L701.5 266.96 L702.5 266.95 L703.5 267.1 L704.5 266.63 L705.5 266.62 L706.5 267.41 L707.5 266.09 L708.5 266.96 L709.5 267.4 L710.5 267.38 L711.5 266.71 L712.5 266.33 L713.5 267.58 L714.5 266.63 L715.5 266.57 L716.5 267.75 L717.5 267.52 L718.5 266.86 L719.5 266.52 L720.5 267.67 L721.5 266.86 L722.5 265.66 L723.5 266.93 L724.5 266.98 L725.5 266.98 L726.5 266.58 L727.5 266.96 L728.5 267.76 L729.5 267.3 L730.5 266.8 L731.5 267.53 L732.5 267.07 L733.5 267.57 L734.5 267.51 L735.5 267.57 L736.5 267.06 L737.5 266.95 L738.5 267.65 L739.5 266.7 L740.5 267.16 L741.5 267.52 L742.5 267.03 L743.5 267.76 L744.5 267.41 L745.5 267.72 L746.5 267.57 L747.5 267.5 L748.5 266.71 L749.5 267.23 L750.5 267.63 L751.5 267.38 L752.5 267.44 L753.5 267.16 L754.5 267.56 L755.5 267.47 L756.5 267.49 L757.5 266.82 L758.5 265.38 L759.5 267.05 L760.5 267.4 L761.5 267.63 L762.5 266.46 L763.5 267.34 L764.5 267.25 L765.5 267.18 L766.5 267.2 L767.5 267.77 L768.5 267.75 L769.5 267.07 L770.5 266.06 L771.5 267.61 L772.5 266.8 L773.5 267.6 L774.5 266.92 L775.5 265.81 L776.5 266.82 L777.5 265.81 L778.5 266.75 L779.5 267.5 L780.5 267.47 L781.5 266.31 L782.5 267.21 L783.5 267.06 L784.5 267.04 L785.5 266.53 L786.5 266.71 L787.5 267.59 L788.5 266.62 L789.5 267.15 L790.5 266.85 L791.5 267.57 L792.5 266.78 L793.5 267.07 L794.5 265.52 L795.5 267.78 L796.5 267.1 L797.5 267.31 L798.5 267.36 L799.5 266.51 L800.5 266.02 L801.5 266.31 L802.5 266.68 L803.5 266.86 L804.5 267.36 L805.5 267.43 L806.5 267.66 L807.5 265.99 L808.5 267.49 L809.5 267.75 L810.5 267.59 L811.5 267.29 L812.5 266.86 L813.5 267.54 L814.5 265.34 L815.5 267.56 L816.5 266.96 L817.5 266.16 L818.5 266.66 L819.5 267.63 L820.5 267.46 L821.5 266.41 L822.5 267.62 L823.5 267.51 L824.5 267.36 L825.5 267.41 L826.5 267.45 L827.5 267.73 L828.5 266.58 L829.5 267.74 L830.5 266.5 L831.5 267.1 L832.5 267.03 L833.5 267.1 L834.5 267.33 L835.5 266.48 L836.5 266.85 L837.5 266.47 L838.5 266.22 L839.5 266.37 L840.5 266.91 L841.5 267.33 L842.5 266.74 L843.5 266.4 L844.5 266.96 L845.5 266.5 L846.5 267.14 L846.5 300.01 L845.5 299.81 L844.5 300.14 L843.5 299.53 L842.5 301.14 L841.5 300.28 L840.5 300.2 L839.5 299.34 L838.5 299.29 L837.5 299.01 L836.5 299.58 L835.5 299.05 L834.5 299.25 L833.5 299.43 L832.5 300.27 L831.5 299.65 L830.5 299.11 L829.5 300.17 L828.5 299.37 L827.5 300.68 L826.5 299.49 L825.5 299.85 L824.5 299.48 L823.5 300.15 L822.5 299.26 L821.5 300.52 L820.5 299.39 L819.5 299.73 L818.5 299.98 L817.5 299.02 L816.5 299.78 L815.5 299.53 L814.5 298.98 L813.5 298.93 L812.5 299.84 L811.5 299.62 L810.5 300.22 L809.5 299.65 L808.5 300.8 L807.5 299.48 L806.5 299.07 L805.5 300.01 L804.5 299.54 L803.5 298.99 L802.5 299.46 L801.5 299.15 L800.5 299.74 L799.5 300.05 L798.5 299.57 L797.5 300.86 L796.5 299.12 L795.5 299.93 L794.5 300.89 L793.5 299.01 L792.5 299.38 L791.5 298.92 L790.5 299.06 L789.5 299.25 L788.5 299.23 L787.5 299.84 L786.5 298.99 L785.5 299.28 L784.5 299.55 L783.5 300.47 L782.5 299.71 L781.5 299.92 L780.5 300.71 L779.5 299.02 L778.5 299.37 L777.5 300.25 L776.5 300.47 L775.5 299.86 L774.5 299.51 L773.5 298.92 L772.5 299.66 L771.5 299.54 L770.5 299.64 L769.5 299.48 L768.5 299.26 L767.5 300.76 L766.5 299.14 L765.5 300.41 L764.5 299.51 L763.5 299.33 L762.5 299.25 L761.5 299.3 L760.5 299.45 L759.5 300.32 L758.5 299.23 L757.5 299.52 L756.5 300.4 L755.5 299.84 L754.5 299.2 L753.5 299.95 L752.5 299.38 L751.5 299.81 L750.5 299.93 L749.5 299.06 L748.5 300.78 L747.5 299.43 L746.5 299.33 L745.5 299.21 L744.5 299.57 L743.5 299.81 L742.5 300.08 L741.5 299.52 L740.5 299.74 L739.5 300.14 L738.5 300.08 L737.5 300.88 L736.5 299.82 L735.5 299.65 L734.5 300.29 L733.5 299.29 L732.5 301.27 L731.5 299.99 L730.5 299.51 L729.5 299.68 L728.5 299.12 L727.5 299.03 L726.5 299.16 L725.5 299.99 L724.5 299.48 L723.5 299.04 L722.5 298.97 L721.5 300.34 L720.5 299.82 L719.5 299.34 L718.5 299.62 L717.5 299.57 L716.5 299.39 L715.5 299.5 L714.5 300.62 L713.5 299.95 L712.5 299.05 L711.5 299.71 L710.5 298.98 L709.5 299.24 L708.5 298.95 L707.5 299.79 L706.5 299.41 L705.5 299.24 L704.5 299.73 L703.5 301.01 L702.5 299.09 L701.5 300.51 L700.5 298.92 L699.5 299.43 L698.5 300.66 L697.5 299.2 L696.5 300.21 L695.5 299.48 L694.5 299.5 L693.5 298.98 L692.5 299.14 L691.5 299.25 L690.5 299.26 L689.5 300.85 L688.5 299.59 L687.5 298.94 L686.5 299.64 L685.5 299.64 L684.5 300.58 L683.5 300.52 L682.5 299.36 L681.5 299.05 L680.5 298.92 L679.5 298.99 L678.5 300.34 L677.5 298.97 L676.5 300.5 L675.5 300.54 L674.5 299.97 L673.5 299.48 L672.5 299.11 L671.5 299.68 L670.5 299.86 L669.5 299.67 L668.5 300.18 L667.5 298.92 L666.5 299.48 L665.5 300.26 L664.5 299.46 L663.5 299.04 L662.5 299.22 L661.5 299.38 L660.5 299.31 L659.5 299.67 L658.5 299.28 L657.5 300.72 L656.5 299.32 L655.5 299.94 L654.5 299.48 L653.5 300.33 L652.5 299.47 L651.5 300.33 L650.5 299.51 L649.5 299.43 L648.5 299.19 L647.5 299 L646.5 299.15 L645.5 300.05 L644.5 300.5 L643.5 299.82 L642.5 299.34 L641.5 299.83 L640.5 300.53 L639.5 299.38 L638.5 300.62 L637.5 299.21 L636.5 299.01 L635.5 300.39 L634.5 299.93 L633.5 299.19 L632.5 299.21 L631.5 299.51 L630.5 300.56 L629.5 299.11 L628.5 300.11 L627.5 299.59 L626.5 299.5 L625.5 299.4 L624.5 299.04 L623.5 299.57 L622.5 299.22 L621.5 300.31 L620.5 300.4 L619.5 300.26 L618.5 299.21Z" fill="#ff0000"/><path d="M619.5 295.08V302.4M620.5 295.08V302.78M621.5 295.08V307.5M622.5 295.08V305.49M623.5 295.08V302.89M624.5 295.08V308.91M625.5 295.08V302.75M628.5 295.08V303.47M629.5 295.08V304.77M630.5 295.08V302.6M631.5 295.08V305.59M632.5 295.08V304.59M633.5 295.08V307.22M634.5 295.08V305.99M635.5 295.08V303.17M637.5 295.08V305.6M639.5 295.08V303.43M640.5 295.08V304.35M642.5 295.08V307.4M643.5 295.08V302.28M646.5 295.08V302.88M647.5 295.08V304.3M650.5 295.08V303.22M652.5 295.08V303.86M653.5 295.08V302.47M655.5 295.08V307.72M656.5 295.08V303.8M657.5 295.08V303.83M658.5 295.08V303.67M659.5 295.08V305.03M660.5 295.08V305.41M663.5 295.08V302.83M667.5 295.08V304.67M668.5 295.08V304.64M672.5 295.08V307.71M673.5 295.08V312.88M677.5 295.08V303.65M678.5 295.08V302.42M683.5 295.08V305.12M686.5 295.08V304.01M687.5 295.08V302.54M688.5 295.08V306.16M689.5 295.08V304.92M692.5 295.08V302.64M694.5 295.08V304.21M696.5 295.08V302.68M697.5 295.08V303.28M698.5 295.08V304.09M700.5 295.08V304.66M702.5 295.08V304.04M706.5 295.08V307.23M708.5 295.08V306.58M709.5 295.08V310.86M712.5 295.08V302.89M721.5 295.08V302.79M722.5 295.08V303.24M724.5 295.08V303.19M726.5 295.08V306.03M727.5 295.08V303.31M729.5 295.08V308.17M730.5 295.08V303.38M731.5 295.08V302.57M732.5 295.08V303.57M733.5 295.08V304.65M734.5 295.08V305.25M737.5 295.08V303.65M738.5 295.08V305.56M739.5 295.08V303.97M740.5 295.08V304.91M741.5 295.08V307.71M744.5 295.08V303.22M751.5 295.08V305.99M752.5 295.08V302.4M756.5 295.08V305.3M757.5 295.08V304.26M758.5 295.08V308.07M761.5 295.08V303.32M763.5 295.08V305.67M765.5 295.08V303.11M769.5 295.08V303.04M771.5 295.08V307.51M772.5 295.08V305.75M773.5 295.08V305.05M775.5 295.08V302.68M777.5 295.08V303.56M778.5 295.08V302.38M781.5 295.08V307.41M784.5 295.08V306.7M785.5 295.08V303.37M786.5 295.08V303.41M791.5 295.08V302.52M792.5 295.08V308.23M794.5 295.08V304M795.5 295.08V305.64M796.5 295.08V303.43M797.5 295.08V302.96M799.5 295.08V304.31M800.5 295.08V303.76M801.5 295.08V302.43M802.5 295.08V306.21M805.5 295.08V303.73M807.5 295.08V306.4M808.5 295.08V305.67M809.5 295.08V304.94M812.5 295.08V303.5M813.5 295.08V302.48M815.5 295.08V302.84M817.5 295.08V305.28M819.5 295.08V302.96M820.5 295.08V307.05M822.5 295.08V303.54M824.5 295.08V307.68M826.5 295.08V308.55M827.5 295.08V305.65M828.5 295.08V302.44M831.5 295.08V304.91M832.5 295.08V304.66M834.5 295.08V302.48M836.5 295.08V303.37M841.5 295.08V305.85M843.5 295.08V303.67M844.5 295.08V303.16M845.5 295.08V303.16M846.5 295.08V303.3" stroke="#ff0000" stroke-width="0.8" stroke-opacity="0.8" fill="none"/><path d="M618.5 264.1V273.52M619.5 265.51V273.52M620.5 265.11V273.52M622.5 265.36V273.52M623.5 265.26V273.52M624.5 263.28V273.52M625.5 265.09V273.52M626.5 265.68V273.52M627.5 265.71V273.52M628.5 263.72V273.52M630.5 265.74V273.52M631.5 263.42V273.52M632.5 262.7V273.52M633.5 264.77V273.52M634.5 264.38V273.52M635.5 264.61V273.52M636.5 264.36V273.52M641.5 265.43V273.52M643.5 262.67V273.52M644.5 262.49V273.52M645.5 265.61V273.52M647.5 263.22V273.52M649.5 262.58V273.52M651.5 264.7V273.52M653.5 265.86V273.52M654.5 263.38V273.52M657.5 265.47V273.52M658.5 264.78V273.52M659.5 263.57V273.52M660.5 265.44V273.52M662.5 261.08V273.52M664.5 265.14V273.52M666.5 262.15V273.52M667.5 264.25V273.52M668.5 264.45V273.52M669.5 262.54V273.52M670.5 263.82V273.52M673.5 264.78V273.52M674.5 263.78V273.52M676.5 264.74V273.52M678.5 265.01V273.52M679.5 264.79V273.52M680.5 262.72V273.52M681.5 261.4V273.52M683.5 264.97V273.52M687.5 265.73V273.52M688.5 264.81V273.52M689.5 264.95V273.52M690.5 265.86V273.52M691.5 263.51V273.52M693.5 260.32V273.52M695.5 264.52V273.52M696.5 264.59V273.52M697.5 264.72V273.52M698.5 264.88V273.52M700.5 261.31V273.52M702.5 265.33V273.52M703.5 265.08V273.52M704.5 264.12V273.52M706.5 261.71V273.52M707.5 262.86V273.52M708.5 264.79V273.52M711.5 265.28V273.52M712.5 263.51V273.52M714.5 262.88V273.52M715.5 265.4V273.52M717.5 262.6V273.52M718.5 265.4V273.52M719.5 265.78V273.52M720.5 262.18V273.52M721.5 265.85V273.52M724.5 263.14V273.52M725.5 264.02V273.52M727.5 264.38V273.52M728.5 264.58V273.52M729.5 265.38V273.52M730.5 263.35V273.52M733.5 265.71V273.52M735.5 265.16V273.52M737.5 262.68V273.52M738.5 263.04V273.52M739.5 265.84V273.52M741.5 265.48V273.52M743.5 263.83V273.52M745.5 264.41V273.52M746.5 263.71V273.52M747.5 265.32V273.52M748.5 265.44V273.52M749.5 265.78V273.52M750.5 264.26V273.52M751.5 263.11V273.52M752.5 263.77V273.52M755.5 260.99V273.52M756.5 265.85V273.52M757.5 262.77V273.52M758.5 264.38V273.52M759.5 265.35V273.52M760.5 265.08V273.52M761.5 263.92V273.52M762.5 264.61V273.52M763.5 264.32V273.52M764.5 265.67V273.52M765.5 262.83V273.52M766.5 263.68V273.52M769.5 263.25V273.52M770.5 265.53V273.52M771.5 263.06V273.52M772.5 264.9V273.52M774.5 260.55V273.52M775.5 262.18V273.52M776.5 264.19V273.52M778.5 262.57V273.52M779.5 265.59V273.52M782.5 264.19V273.52M783.5 264.49V273.52M785.5 264.75V273.52M786.5 262.71V273.52M788.5 264.68V273.52M791.5 264.8V273.52M792.5 265.05V273.52M793.5 260.78V273.52M797.5 263V273.52M798.5 265.05V273.52M799.5 261.54V273.52M800.5 263.66V273.52M801.5 264.18V273.52M802.5 261.45V273.52M803.5 265.25V273.52M804.5 263.12V273.52M805.5 262.69V273.52M806.5 265.53V273.52M807.5 264.53V273.52M808.5 265.57V273.52M809.5 265.04V273.52M810.5 264.75V273.52M811.5 265.11V273.52M812.5 264.97V273.52M813.5 263.47V273.52M814.5 263.66V273.52M817.5 264V273.52M818.5 262.51V273.52M819.5 263.83V273.52M820.5 260.67V273.52M821.5 265.07V273.52M824.5 265.06V273.52M826.5 265.4V273.52M827.5 264.3V273.52M828.5 261.97V273.52M831.5 265.57V273.52M832.5 265.59V273.52M834.5 264.75V273.52M839.5 264.24V273.52M840.5 264.04V273.52M841.5 265.86V273.52M842.5 263.99V273.52M843.5 265.43V273.52M844.5 265.04V273.52M846.5 264.4V273.52" stroke="#ff0000" stroke-width="0.9" stroke-opacity="0.8" fill="none"/><path d="M748.5 251.97V319.03" stroke="#ff0000" stroke-width="0.8" stroke-opacity="0.7" fill="none"/><path d="M618.3 288.82 L618.76 290.9 L619.21 291.05 L619.67 291.28 L620.13 291.42 L620.59 291.59 L621.04 292.03 L621.5 291.88 L621.96 291.68 L622.41 291.35 L622.87 292.29 L623.33 293.15 L623.78 291.53 L624.24 292.42 L624.7 290.25 L625.16 290.24 L625.61 290.06 L626.07 290.05 L626.53 289.22 L626.98 291.67 L627.44 290.35 L627.9 288.97 L628.35 289.95 L628.81 288.91 L629.27 290.33 L629.73 290.06 L630.18 290.36 L630.64 291.79 L631.1 291.44 L631.55 290.31 L632.01 292.22 L632.47 290.83 L632.92 290.1 L633.38 289.51 L633.84 288.44 L634.3 289.77 L634.75 289.44 L635.21 291.27 L635.67 290.76 L636.12 289.9 L636.58 291.26 L637.04 291.99 L637.5 290.09 L637.95 291.32 L638.41 290.48 L638.87 291.15 L639.32 292.83 L639.78 291.71 L640.24 290.21 L640.69 289.78 L641.15 292.1 L641.61 290.87 L642.07 290.47 L642.52 289.98 L642.98 290.52 L643.44 291.49 L643.89 290.4 L644.35 290.22 L644.81 290.89 L645.26 289.45 L645.72 291.46 L646.18 292.46 L646.64 291.36 L647.09 289.56 L647.55 290.36 L648.01 290.8 L648.46 290.92 L648.92 289.39 L649.38 290.94 L649.83 290.72 L650.29 290.06 L650.75 288.88 L651.21 290.24 L651.66 290.05 L652.12 291.31 L652.58 291.37 L653.03 289.95 L653.49 290.85 L653.95 290.83 L654.41 290.8 L654.86 290.82 L655.32 289.27 L655.78 290.69 L656.23 289.67 L656.69 290.63 L657.15 289.78 L657.6 289.97 L658.06 289.05 L658.52 289.6 L658.98 289.61 L659.43 289.82 L659.89 290.25 L660.35 289.56 L660.8 291.3 L661.26 291.53 L661.72 290.83 L662.17 290.65 L662.63 289.75 L663.09 290.34 L663.55 291.96 L664 291.35 L664.46 290.09 L664.92 291.15 L665.37 289.78 L665.83 290.13 L666.29 292.09 L666.75 291.03 L667.2 291.6 L667.66 291 L668.12 291.68 L668.57 289.86 L669.03 289.56 L669.49 290.19 L669.94 291.94 L670.4 292.94 L670.86 290.38 L671.32 291.69 L671.77 291.66 L672.23 291.92 L672.69 291.77 L673.14 292.72 L673.6 292.16 L674.06 291.04 L674.51 292.19 L674.97 292.9 L675.43 291.28 L675.89 291.66 L676.34 288.93 L676.8 292.19 L677.26 288.89 L677.71 289.58 L678.17 291.53 L678.63 290.68 L679.08 289.3 L679.54 291.7 L680 290.43 L680.46 291.56 L680.91 291.38 L681.37 291.48 L681.83 291.46 L682.28 291.64 L682.74 291.17 L683.2 290.25 L683.66 291.99 L684.11 290.25 L684.57 290.87 L685.03 288.24 L685.48 291.14 L685.94 293.08 L686.4 290.86 L686.85 292.2 L687.31 292.42 L687.77 291.89 L688.23 293.79 L688.68 292.52 L689.14 290.06 L689.6 290.51 L690.05 291.58 L690.51 293.47 L690.97 290.85 L691.42 290.25 L691.88 291.1 L692.34 291.92 L692.8 292.53 L693.25 292.84 L693.71 292.3 L694.17 290.98 L694.62 290.95 L695.08 292.21 L695.54 291.54 L695.99 290.17 L696.45 290.97 L696.91 291.84 L697.37 292.19 L697.82 291.34 L698.28 292.44 L698.74 292.54 L699.19 292.08 L699.65 290.91 L700.11 291.81 L700.57 290.24 L701.02 290.37 L701.48 290.94 L701.94 291.25 L702.39 291.38 L702.85 289.89 L703.31 290.06 L703.76 290.04 L704.22 290.15 L704.68 292.79 L705.14 291.08 L705.59 293.54 L706.05 292.5 L706.51 293.8 L706.96 291.34 L707.42 290.83 L707.88 292.65 L708.33 292.69 L708.79 292.57 L709.25 292.39 L709.71 291.99 L710.16 291.83 L710.62 291.08 L711.08 291.29 L711.53 292.13 L711.99 291.57 L712.45 290.31 L712.9 291.06 L713.36 291.73 L713.82 290.88 L714.28 292.38 L714.73 290.25 L715.19 293.74 L715.65 293.12 L716.1 291.79 L716.56 290.88 L717.02 292.93 L717.48 291.88 L717.93 291.98 L718.39 292.2 L718.85 292.38 L719.3 292.87 L719.76 290.88 L720.22 293.72 L720.67 292.84 L721.13 292.58 L721.59 291.99 L722.05 293.25 L722.5 291.91 L722.96 292.81 L723.42 290.97 L723.87 289.98 L724.33 292.12 L724.79 292.72 L725.24 293.71 L725.7 292.93 L726.16 292.88 L726.62 291.08 L727.07 290.52 L727.53 291.94 L727.99 293.42 L728.44 291.48 L728.9 291.73 L729.36 291.52 L729.81 291.22 L730.27 291.18 L730.73 293.06 L731.19 292.66 L731.64 290.44 L732.1 291.85 L732.56 290.92 L733.01 291 L733.47 292.66 L733.93 291.43 L734.39 292.6 L734.84 291.62 L735.3 291.56 L735.76 292.1 L736.21 291.8 L736.67 291.14 L737.13 291.22 L737.58 292.44 L738.04 290.3 L738.5 291.95 L738.96 293.34 L739.41 291.81 L739.87 292.96 L740.33 290.53 L740.78 290.89 L741.24 292.64 L741.7 290.85 L742.15 292.9 L742.61 290.75 L743.07 290.66 L743.53 290.62 L743.98 291.86 L744.44 292.42 L744.9 290.85 L745.35 292.41 L745.81 294.62 L746.27 293.01 L746.73 293.13 L747.18 291.06 L747.64 293.75 L748.1 291.41 L748.55 290.68 L749.01 292.69 L749.47 290.68 L749.92 292.62 L750.38 291.18 L750.84 291.12 L751.3 291.35 L751.75 290.58 L752.21 288.96 L752.67 292.06 L753.12 291.69 L753.58 291 L754.04 291.98 L754.49 291.07 L754.95 291.4 L755.41 290.88 L755.87 292.24 L756.32 293.79 L756.78 291.13 L757.24 292.39 L757.69 293.2 L758.15 293.62 L758.61 293.86 L759.06 293.53 L759.52 292.96 L759.98 292.47 L760.44 292.31 L760.89 291.91 L761.35 292.81 L761.81 294.1 L762.26 292.63 L762.72 291.85 L763.18 291.41 L763.64 291.8 L764.09 293.94 L764.55 292.41 L765.01 290.78 L765.46 291.6 L765.92 292.99 L766.38 294.65 L766.83 292.64 L767.29 292.85 L767.75 291.29 L768.21 292.58 L768.66 293.99 L769.12 292.44 L769.58 292 L770.03 292.57 L770.49 293.17 L770.95 291.53 L771.4 293.76 L771.86 293.7 L772.32 292.11 L772.78 294.06 L773.23 293.92 L773.69 293.32 L774.15 292.94 L774.6 292.97 L775.06 292.32 L775.52 291.91 L775.97 292.25 L776.43 292.57 L776.89 293.41 L777.35 291.31 L777.8 293.78 L778.26 292.46 L778.72 295.98 L779.17 293.21 L779.63 293.41 L780.09 294.02 L780.55 293.81 L781 294.18 L781.46 292.91 L781.92 292.98 L782.37 294.72 L782.83 293.38 L783.29 292.51 L783.74 292.06 L784.2 292.08 L784.66 292.11 L785.12 293.43 L785.57 293.75 L786.03 294.7 L786.49 294.1 L786.94 292.69 L787.4 291.27 L787.86 291.76 L788.31 291.19 L788.77 291.19 L789.23 292.43 L789.69 290.16 L790.14 291.48 L790.6 289.97 L791.06 292 L791.51 292.24 L791.97 291.22 L792.43 292.71 L792.88 293.52 L793.34 294.07 L793.8 293.03 L794.26 293.27 L794.71 293.42 L795.17 292.52 L795.63 294.37 L796.08 292.19 L796.54 292.88 L797 291.63 L797.46 292.66 L797.91 293.83 L798.37 293.15 L798.83 293.52 L799.28 292.05 L799.74 292.9 L800.2 293.08 L800.65 295.54 L801.11 292.67 L801.57 294.27 L802.03 294.02 L802.48 291.32 L802.94 292.57 L803.4 291.34 L803.85 292.8 L804.31 292.21 L804.77 293.77 L805.22 294.34 L805.68 294.18 L806.14 292.85 L806.6 293.05 L807.05 292.88 L807.51 294.79 L807.97 292.28 L808.42 292.75 L808.88 291.71 L809.34 292.86 L809.79 294.06 L810.25 293.1 L810.71 294.82 L811.17 294.47 L811.62 294.19 L812.08 294.04 L812.54 293.7 L812.99 293.03 L813.45 293.99 L813.91 293.25 L814.37 294.68 L814.82 292.89 L815.28 293.18 L815.74 293.2 L816.19 292.77 L816.65 295.33 L817.11 292.12 L817.56 293.91 L818.02 293.42 L818.48 294.36 L818.94 294.03 L819.39 294.39 L819.85 293.81 L820.31 294.14 L820.76 292.83 L821.22 294.95 L821.68 291.7 L822.13 294.29 L822.59 293.33 L823.05 294.27 L823.51 293.13 L823.96 292.85 L824.42 292.77 L824.88 295.21 L825.33 291.19 L825.79 293.07 L826.25 292.51 L826.71 292.24 L827.16 292.32 L827.62 291.3 L828.08 294.29 L828.53 294.38 L828.99 292.75 L829.45 293.81 L829.9 293.91 L830.36 293.55 L830.82 292.4 L831.28 292.31 L831.73 293.97 L832.19 292.62 L832.65 293.18 L833.1 293.24 L833.56 293.91 L834.02 293.42 L834.47 293.88 L834.93 294.22 L835.39 292.63 L835.85 294.97 L836.3 293.68 L836.76 295.43 L837.22 293.22 L837.67 292.32 L838.13 293.51 L838.59 293.51 L839.04 294.22 L839.5 294.06 L839.96 293.71 L840.42 292.91 L840.87 292.83 L841.33 293.24 L841.79 295.5 L842.24 294.38 L842.7 295.87 L843.16 294.71 L843.62 294.87 L844.07 294.68 L844.53 295.04 L844.99 293.74 L845.44 293.88 L845.9 294.34 L846.36 294.22 L846.81 292.16" stroke="#000000" stroke-width="2.2" fill="none" stroke-linejoin="round"/></g><rect x="618.3" y="237.6" width="258" height="95.8" fill="none" stroke="#555" stroke-width="0.9"/><path d="M618.3 333.4 v-2.2 M618.3 237.6 v2.2" stroke="#666" stroke-width="0.7"/><text x="618.3" y="348.8" text-anchor="middle" style='font-family:"Liberation Sans",sans-serif;font-size:10.6px' fill="#333">0</text><path d="M655.16 333.4 v-2.2 M655.16 237.6 v2.2" stroke="#666" stroke-width="0.7"/><text x="655.16" y="348.8" text-anchor="middle" style='font-family:"Liberation Sans",sans-serif;font-size:10.6px' fill="#333">50</text><path d="M692.01 333.4 v-2.2 M692.01 237.6 v2.2" stroke="#666" stroke-width="0.7"/><text x="692.01" y="348.8" text-anchor="middle" style='font-family:"Liberation Sans",sans-serif;font-size:10.6px' fill="#333">100</text><path d="M728.87 333.4 v-2.2 M728.87 237.6 v2.2" stroke="#666" stroke-width="0.7"/><text x="728.87" y="348.8" text-anchor="middle" style='font-family:"Liberation Sans",sans-serif;font-size:10.6px' fill="#333">150</text><path d="M765.73 333.4 v-2.2 M765.73 237.6 v2.2" stroke="#666" stroke-width="0.7"/><text x="765.73" y="348.8" text-anchor="middle" style='font-family:"Liberation Sans",sans-serif;font-size:10.6px' fill="#333">200</text><path d="M802.59 333.4 v-2.2 M802.59 237.6 v2.2" stroke="#666" stroke-width="0.7"/><text x="802.59" y="348.8" text-anchor="middle" style='font-family:"Liberation Sans",sans-serif;font-size:10.6px' fill="#333">250</text><path d="M839.44 333.4 v-2.2 M839.44 237.6 v2.2" stroke="#666" stroke-width="0.7"/><text x="839.44" y="348.8" text-anchor="middle" style='font-family:"Liberation Sans",sans-serif;font-size:10.6px' fill="#333">300</text><path d="M876.3 333.4 v-2.2 M876.3 237.6 v2.2" stroke="#666" stroke-width="0.7"/><text x="876.3" y="348.8" text-anchor="middle" style='font-family:"Liberation Sans",sans-serif;font-size:10.6px' fill="#333">350</text><path d="M618.3 333.4 h2.2 M876.3 333.4 h-2.2" stroke="#666" stroke-width="0.7"/><text x="613.7" y="337.9" text-anchor="end" style='font-family:"Liberation Sans",sans-serif;font-size:10.6px' fill="#333">-2</text><path d="M618.3 285.5 h2.2 M876.3 285.5 h-2.2" stroke="#666" stroke-width="0.7"/><text x="613.7" y="290" text-anchor="end" style='font-family:"Liberation Sans",sans-serif;font-size:10.6px' fill="#333">0</text><path d="M618.3 237.6 h2.2 M876.3 237.6 h-2.2" stroke="#666" stroke-width="0.7"/><text x="613.7" y="242.1" text-anchor="end" style='font-family:"Liberation Sans",sans-serif;font-size:10.6px' fill="#333">2</text><text transform="translate(599.6,285.5) rotate(-90)" text-anchor="middle" style='font-family:"Liberation Sans",sans-serif;font-size:12.4px' fill="#333">Position[nm]</text><text x="747.3" y="364.8" text-anchor="middle" style='font-family:"Liberation Sans",sans-serif;font-size:12.4px' fill="#333">time[s]</text><rect x="765.2" y="246.3" width="102.6" height="41" fill="#fff" stroke="#444" stroke-width="0.7"/><path d="M767.4 254.6 H784.8" stroke="#0000ff" stroke-width="0.9" stroke-opacity="0.6"/><text x="787.4" y="258.2" style='font-family:"Liberation Sans","Noto Serif CJK SC",serif;font-size:9.6px' fill="#444" textLength="26.4" lengthAdjust="spacingAndGlyphs">全频段</text><text x="814" y="258.5" style='font-family:"Liberation Sans",sans-serif;font-size:10.1px' fill="#2a2a2a">0.69594nm</text><path d="M767.4 267.85 H784.8" stroke="#ff0000" stroke-width="0.9" stroke-opacity="0.6"/><text x="787.4" y="271.45" style='font-family:"Liberation Sans","Noto Serif CJK SC",serif;font-size:9.6px' fill="#444" textLength="26.4" lengthAdjust="spacingAndGlyphs">高频段</text><text x="814" y="271.75" style='font-family:"Liberation Sans",sans-serif;font-size:10.1px' fill="#2a2a2a">0.64234nm</text><path d="M767.4 281.1 H784.8" stroke="#000" stroke-width="0.9" stroke-opacity="0.6"/><text x="787.4" y="284.7" style='font-family:"Liberation Sans","Noto Serif CJK SC",serif;font-size:9.6px' fill="#444" textLength="26.4" lengthAdjust="spacingAndGlyphs">低频段</text><text x="814" y="285" style='font-family:"Liberation Sans",sans-serif;font-size:10.1px' fill="#2a2a2a">0.26783nm</text></g><rect x="-6.4" y="329.4" width="338.4" height="4" fill="url(#sht)"/><clipPath id="w196"><rect x="-8.4" y="333.4" width="338.4" height="141.6"/></clipPath><g clip-path="url(#w196)"><rect x="-8.4" y="334.5" width="338.4" height="140.5" fill="#f0f0f0"/><rect x="-8.4" y="333.4" width="338.4" height="32.7" fill="#fff"/><path d="M-8.4 366.3 H330" stroke="#e2e2e2" stroke-width="0.8"/><rect x="-8.4" y="366.7" width="338.4" height="15.3" fill="#f2f2f2"/><path d="M-8.4 382.3 H330" stroke="#dcdcdc" stroke-width="0.8"/><g transform="translate(-4.1,338.8)"><rect x="0.4" y="0.4" width="8.8" height="9" fill="#f6f7fa" stroke="#a0aac0" stroke-width="0.8"/><rect x="0.4" y="0.4" width="8.8" height="1.3" fill="#7f98c8"/><path d="M1.2 7 L5.4 2.4 L8.2 8 L6.4 6.8 Z" fill="#e06a1c"/><path d="M1.2 7 L3.6 4.4 L4.8 6.8 L3 7.6 Z" fill="#2f6db5"/><path d="M5.4 2.4 L8.2 8 L6.2 4.8 Z" fill="#b83a10"/></g><text x="7.4" y="346.2" style='font-family:"Liberation Sans","Noto Sans CJK SC",sans-serif;font-size:8.5px' fill="#a6a6a6" stroke="#a6a6a6" stroke-width="0.25" textLength="27.6" lengthAdjust="spacingAndGlyphs">Figure 7</text><path d="M263 342.8 H268.2" stroke="#9a9a9a" stroke-width="0.8"/><rect x="289.5" y="340.1" width="5.6" height="5.6" fill="none" stroke="#9a9a9a" stroke-width="0.8"/><text x="-4.6" y="361.2" style='font-family:"Liberation Sans","Noto Sans CJK SC",sans-serif;font-size:7.6px' fill="#1a1a1a" stroke="#1a1a1a" stroke-width="0.15" textLength="22.1" lengthAdjust="spacingAndGlyphs">文件(F)</text><text x="25.6" y="361.2" style='font-family:"Liberation Sans","Noto Sans CJK SC",sans-serif;font-size:7.6px' fill="#1a1a1a" stroke="#1a1a1a" stroke-width="0.15" textLength="22.6" lengthAdjust="spacingAndGlyphs">编辑(E)</text><text x="56.3" y="361.2" style='font-family:"Liberation Sans","Noto Sans CJK SC",sans-serif;font-size:7.6px' fill="#1a1a1a" stroke="#1a1a1a" stroke-width="0.15" textLength="22.9" lengthAdjust="spacingAndGlyphs">查看(V)</text><text x="87.3" y="361.2" style='font-family:"Liberation Sans","Noto Sans CJK SC",sans-serif;font-size:7.6px' fill="#1a1a1a" stroke="#1a1a1a" stroke-width="0.15" textLength="20.9" lengthAdjust="spacingAndGlyphs">插入(I)</text><text x="116.1" y="361.2" style='font-family:"Liberation Sans","Noto Sans CJK SC",sans-serif;font-size:7.6px' fill="#1a1a1a" stroke="#1a1a1a" stroke-width="0.15" textLength="22.6" lengthAdjust="spacingAndGlyphs">工具(T)</text><text x="146.4" y="361.2" style='font-family:"Liberation Sans","Noto Sans CJK SC",sans-serif;font-size:7.6px' fill="#1a1a1a" stroke="#1a1a1a" stroke-width="0.15" textLength="23.3" lengthAdjust="spacingAndGlyphs">桌面(D)</text><text x="177.8" y="361.2" style='font-family:"Liberation Sans","Noto Sans CJK SC",sans-serif;font-size:7.6px' fill="#1a1a1a" stroke="#1a1a1a" stroke-width="0.15" textLength="25" lengthAdjust="spacingAndGlyphs">窗口(W)</text><text x="210.8" y="361.2" style='font-family:"Liberation Sans","Noto Sans CJK SC",sans-serif;font-size:7.6px' fill="#1a1a1a" stroke="#1a1a1a" stroke-width="0.15" textLength="24.2" lengthAdjust="spacingAndGlyphs">帮助(H)</text><g transform="translate(-6.3,369.2)"><path d="M1 0.5 H6 L8.3 2.8 V8.6 H1 Z" fill="#fdfdff" stroke="#7d8fb0" stroke-width="0.8"/><path d="M6 0.5 V2.8 H8.3" fill="#dfe6f2" stroke="#7d8fb0" stroke-width="0.6"/><rect x="0.2" y="0" width="2.6" height="2.6" fill="#f08040"/></g><g transform="translate(6.1,369.2)"><path d="M0.5 2 H3.5 L4.3 3 H8 V8.3 H0.5 Z" fill="#d9a92c"/><path d="M0.5 8.3 L2 4.3 H9 L7.8 8.3 Z" fill="#f6d56b" stroke="#c89a28" stroke-width="0.5"/><path d="M6 0.8 L8.2 0.8 L8.2 2.6" stroke="#6a8ac0" stroke-width="0.7" fill="none"/></g><g transform="translate(19.7,369.2)"><rect x="0.4" y="0.4" width="8.4" height="8.4" rx="0.6" fill="#3b4fb0"/><rect x="2" y="0.6" width="5" height="3.4" fill="#e8ecf8"/><rect x="2.6" y="5.6" width="3.8" height="3" fill="#1e2a70"/><rect x="4.4" y="6" width="1.2" height="1.8" fill="#dfe4f0"/></g><g transform="translate(32.6,369.2)"><rect x="2.4" y="0.4" width="4.4" height="3.6" fill="#f4f6fa" stroke="#9aa4b8" stroke-width="0.5"/><path d="M0.4 4.2 Q0.4 3 1.6 3 H7.4 Q8.6 3 8.6 4.2 V7.4 H0.4 Z" fill="#b4b6bc"/><rect x="1.8" y="6" width="5.4" height="2.7" fill="#e6e7ea" stroke="#8c8e94" stroke-width="0.4"/></g><g transform="translate(50.3,369.2)"><path d="M2.3 0.6 L2.3 7.6 L4 6 L5.4 8.8 L6.4 8.3 L5 5.6 L7.3 5.4 Z" fill="#fff" stroke="#333" stroke-width="0.7"/></g><g transform="translate(66.4,369.2)"><path d="M5.2 5.2 L8.6 8.6" stroke="#e09a40" stroke-width="2" stroke-linecap="round"/><circle cx="3.6" cy="3.6" r="3" fill="#dcecfb" stroke="#7a9ad0" stroke-width="0.9"/><path d="M2.2 3.6 H5 M3.6 2.2 V5" stroke="#4a78c0" stroke-width="0.8"/></g><g transform="translate(79.4,369.2)"><path d="M5.2 5.2 L8.6 8.6" stroke="#e09a40" stroke-width="2" stroke-linecap="round"/><circle cx="3.6" cy="3.6" r="3" fill="#dcecfb" stroke="#7a9ad0" stroke-width="0.9"/><path d="M2.2 3.6 H5" stroke="#4a78c0" stroke-width="0.8"/></g><g transform="translate(91.5,368.7)"><path d="M1.2 5.2 Q0.4 3.6 1.8 3.4 L2.8 4.4 V2 Q3.4 0.6 4.4 1.4 V0.9 Q5.2 0 6 0.9 V1.4 Q7 0.8 7.6 1.8 V3.2 Q8.8 2.8 9.2 3.8 L8.8 6.6 Q8.2 9.8 5.2 9.8 Q2.8 9.8 1.2 5.2 Z" fill="#f7d8bc" stroke="#7f93c6" stroke-width="0.7"/><path d="M3 2.2 V5 M4.5 1.2 V4.6 M6 1.2 V4.6 M7.5 2 V5" stroke="#9fb0d8" stroke-width="0.5"/></g><g transform="translate(104.9,368.7)"><path d="M1.6 3.2 A4 4 0 1 1 1.4 6.6" fill="none" stroke="#3a5490" stroke-width="1.8"/><circle cx="5.2" cy="5" r="2.2" fill="#b8c4dc"/><path d="M4.4 3.8 V6.2 M5.4 3.6 V6.4" stroke="#7f8fb8" stroke-width="0.5"/><path d="M0 4.6 L3 4.2 L2 6.6 Z" fill="#fff" stroke="#9aa" stroke-width="0.3"/></g><g transform="translate(117.5,368.7)"><rect x="4" y="0" width="6" height="5.8" fill="#e6e4a4" stroke="#a8a470" stroke-width="0.5"/><rect x="5" y="1" width="4" height="3.8" fill="#dddb9a"/><path d="M0.4 1.6 L9.4 9.4" stroke="#8080ff" stroke-width="1.2"/><path d="M5 5.6 L1.2 6.4 L2.6 7.4 L1 9.2" stroke="#111" stroke-width="1.4" fill="none"/></g><g transform="translate(131.4,368.7)"><path d="M9.4 0.4 L4.2 6" stroke="#8c94cc" stroke-width="1.9" stroke-linecap="round"/><path d="M0.6 9.6 Q0.4 6.6 3 5.6 L4.4 7 Q3.8 9.6 0.6 9.6 Z" fill="#3a3a3a"/><circle cx="7.6" cy="8.2" r="1.5" fill="#ee0000"/></g><path d="M145.2 373.1 h2.4 l-1.2 1.3 z" fill="#333"/><g transform="translate(154.2,369.2)"><rect x="0.4" y="0.6" width="7.8" height="6.4" rx="1" fill="#dde4f0" stroke="#4a5f95" stroke-width="0.9"/><rect x="1.8" y="3.2" width="3.2" height="2.2" fill="#7d8fb8"/><rect x="3" y="6.6" width="5.8" height="2.2" rx="0.6" fill="#8596bd" stroke="#4a5f95" stroke-width="0.5"/></g><rect x="182.8" y="366.7" width="13" height="14" fill="#cce4f7"/><g transform="translate(171.7,369.2)"><rect x="2.3" y="0.4" width="4.6" height="8.4" rx="0.6" fill="url(#cbg)" stroke="#4f5f8f" stroke-width="0.8"/></g><g transform="translate(184.6,369.2)"><rect x="0.4" y="0.4" width="8.4" height="8.4" fill="#f4f6fb" stroke="#5a6a9a" stroke-width="0.8"/><rect x="1.5" y="2" width="2.4" height="1.8" fill="#e83a3a"/><rect x="1.5" y="5.4" width="2.4" height="1.8" fill="#3a4ae8"/><path d="M4.6 2.9 H7.6 M4.6 6.3 H7.6" stroke="#6a7aa8" stroke-width="0.9"/></g><rect x="203.1" y="370.7" width="6" height="6" rx="0.8" fill="#909090" stroke="#777" stroke-width="0.4"/><g transform="translate(214.4,369.2)"><rect x="0.4" y="0.4" width="8.4" height="8.4" rx="0.6" fill="#4a64a0"/><rect x="1.8" y="2.2" width="5.6" height="4.4" fill="#f4f6fb"/></g><path d="M45.4 366.7 V380.7" stroke="#d6d6d6" stroke-width="0.8"/><path d="M61.7 366.7 V380.7" stroke="#d6d6d6" stroke-width="0.8"/><path d="M151.1 366.7 V380.7" stroke="#d6d6d6" stroke-width="0.8"/><path d="M167.6 366.7 V380.7" stroke="#d6d6d6" stroke-width="0.8"/><path d="M198.1 366.7 V380.7" stroke="#d6d6d6" stroke-width="0.8"/><path d="M-7.9 475 V333.9" stroke="#b4b4b4" stroke-width="1" fill="none"/><path d="M-8.4 333.9 H330" stroke="#c8c8c8" stroke-width="1" fill="none"/><clipPath id="a219"><rect x="36.5" y="391.2" width="266" height="63.8"/></clipPath><rect x="36.5" y="391.2" width="266" height="63.8" fill="#fff"/><g clip-path="url(#a219)"><path d="M37.5 412.54V418.31M38.5 412.46V418.31M40.5 412.29V418.31M42.5 412.23V418.31M43.5 412.34V418.31M44.5 412.28V418.31M45.5 412.43V418.31M47.5 412.81V418.31M48.5 412.36V418.31M50.5 412.49V418.31M56.5 412.26V418.31M57.5 413.09V418.31M60.5 412.76V418.31M62.5 411.76V418.31M63.5 412.34V418.31M67.5 412.05V418.31M69.5 412.11V418.31M73.5 411.9V418.31M74.5 410.79V418.31M75.5 412.38V418.31M77.5 413.07V418.31M78.5 412.83V418.31M79.5 412.95V418.31M82.5 410.94V418.31M84.5 411.64V418.31M86.5 412.66V418.31M89.5 412.57V418.31M90.5 411.88V418.31M93.5 412.71V418.31M94.5 413.12V418.31M95.5 412.66V418.31M96.5 411.98V418.31M98.5 411.73V418.31M99.5 412.79V418.31M100.5 412.91V418.31M102.5 412.44V418.31M103.5 412.99V418.31M104.5 412V418.31M107.5 411.75V418.31M108.5 412.32V418.31M109.5 412.85V418.31M111.5 412.27V418.31M113.5 411.11V418.31M115.5 412.11V418.31M116.5 410.89V418.31M118.5 411.38V418.31M120.5 411.79V418.31M121.5 412.88V418.31M122.5 411.65V418.31M123.5 412.49V418.31M124.5 412.25V418.31M126.5 412.96V418.31M127.5 412.04V418.31M130.5 412.65V418.31M131.5 412.08V418.31M132.5 412.6V418.31M135.5 413.2V418.31M140.5 413.07V418.31M143.5 412.43V418.31M144.5 411.5V418.31M148.5 413.04V418.31M149.5 413.19V418.31M150.5 413.19V418.31M151.5 412.51V418.31M152.5 412.09V418.31M153.5 412.6V418.31M155.5 412.92V418.31M163.5 412.97V418.31M168.5 412.68V418.31M173.5 411.98V418.31M176.5 412.33V418.31M177.5 411.45V418.31M179.5 413V418.31M181.5 412.23V418.31M185.5 413.06V418.31M186.5 412.94V418.31M193.5 413.03V418.31M194.5 412.73V418.31M195.5 411.95V418.31M196.5 412.36V418.31M201.5 413.02V418.31M204.5 412.22V418.31M205.5 413.11V418.31M206.5 412.29V418.31M207.5 411.69V418.31M209.5 411.06V418.31M211.5 411.49V418.31M214.5 411.11V418.31M215.5 411.31V418.31M216.5 412.51V418.31M217.5 411.83V418.31M218.5 413.04V418.31M226.5 413.07V418.31M227.5 412.04V418.31M230.5 412.97V418.31M233.5 412.42V418.31M234.5 413.11V418.31M240.5 411.53V418.31M241.5 412.21V418.31M243.5 412.69V418.31M245.5 412.77V418.31" stroke="#0000ff" stroke-width="0.8" stroke-opacity="0.8" fill="none"/><path d="M36.5 415.03 L37.5 414.31 L38.5 415.09 L39.5 414.96 L40.5 414.43 L41.5 414.81 L42.5 414.65 L43.5 414.78 L44.5 414.74 L45.5 414.89 L46.5 414.94 L47.5 413.8 L48.5 414.65 L49.5 414.64 L50.5 414.01 L51.5 415.05 L52.5 413.96 L53.5 414.11 L54.5 413.27 L55.5 414.8 L56.5 414.54 L57.5 413.95 L58.5 414.13 L59.5 413.01 L60.5 414.4 L61.5 415.01 L62.5 415.11 L63.5 414.3 L64.5 414.51 L65.5 414.35 L66.5 414.87 L67.5 414.81 L68.5 414.54 L69.5 414.82 L70.5 414.83 L71.5 415 L72.5 414.15 L73.5 414.71 L74.5 414.72 L75.5 414.7 L76.5 414.68 L77.5 415.03 L78.5 414.73 L79.5 415.12 L80.5 414.85 L81.5 414.39 L82.5 414.28 L83.5 414.38 L84.5 413.81 L85.5 413.99 L86.5 414.77 L87.5 414.2 L88.5 414.9 L89.5 415.04 L90.5 413.9 L91.5 414.67 L92.5 414.76 L93.5 415.05 L94.5 413.99 L95.5 415.11 L96.5 414.01 L97.5 413.91 L98.5 414.06 L99.5 415.08 L100.5 413.53 L101.5 414.68 L102.5 414.48 L103.5 414.57 L104.5 413.74 L105.5 414.81 L106.5 414.26 L107.5 414.69 L108.5 414.66 L109.5 413.75 L110.5 414.39 L111.5 414.3 L112.5 414.85 L113.5 414.59 L114.5 413.74 L115.5 414.76 L116.5 413.4 L117.5 414.51 L118.5 413.53 L119.5 414.58 L120.5 414.89 L121.5 414.54 L122.5 414.34 L123.5 415.07 L124.5 414.52 L125.5 414.91 L126.5 414.79 L127.5 414.51 L128.5 414.01 L129.5 414.65 L130.5 414.95 L131.5 415.03 L132.5 414.91 L133.5 414.99 L134.5 413.44 L135.5 414.82 L136.5 415.07 L137.5 414.95 L138.5 415.08 L139.5 415.12 L140.5 414.44 L141.5 414.26 L142.5 414.91 L143.5 414.72 L144.5 415.06 L145.5 414.91 L146.5 413.89 L147.5 415.06 L148.5 414.15 L149.5 413.17 L150.5 414.36 L151.5 414.97 L152.5 414.67 L153.5 414.78 L154.5 414.47 L155.5 415.07 L156.5 415 L157.5 414.98 L158.5 414.18 L159.5 414.61 L160.5 414.71 L161.5 414.44 L162.5 414.86 L163.5 414.58 L164.5 414.02 L165.5 414.91 L166.5 414.89 L167.5 414.8 L168.5 414.52 L169.5 414.35 L170.5 414.19 L171.5 415.1 L172.5 415 L173.5 413.42 L174.5 415.12 L175.5 414.6 L176.5 414.41 L177.5 414.47 L178.5 414.19 L179.5 414.35 L180.5 414.93 L181.5 414.15 L182.5 414.61 L183.5 413.76 L184.5 414.56 L185.5 414.55 L186.5 414.97 L187.5 413.91 L188.5 414.76 L189.5 414.74 L190.5 413.79 L191.5 414.56 L192.5 414.95 L193.5 415.12 L194.5 414.96 L195.5 414.55 L196.5 414.31 L197.5 413.88 L198.5 414.93 L199.5 414.94 L200.5 414.48 L201.5 414.85 L202.5 414.29 L203.5 415.11 L204.5 414.65 L205.5 414.6 L206.5 414.18 L207.5 414.24 L208.5 415.02 L209.5 414.61 L210.5 414.19 L211.5 414.79 L212.5 414.55 L213.5 413.89 L214.5 414.08 L215.5 415.07 L216.5 414.69 L217.5 413.45 L218.5 414.98 L219.5 414.95 L220.5 414.88 L221.5 414.68 L222.5 413.96 L223.5 414.5 L224.5 414.9 L225.5 412.13 L226.5 414.95 L227.5 413.82 L228.5 413.79 L229.5 414.45 L230.5 413.82 L231.5 415.06 L232.5 414.83 L233.5 414.58 L234.5 415.04 L235.5 414.46 L236.5 414.02 L237.5 414.85 L238.5 414.55 L239.5 414.72 L240.5 414.66 L241.5 414.29 L242.5 414.64 L243.5 413.93 L244.5 415.06 L245.5 415.02 L245.5 431.61 L244.5 432.41 L243.5 431.47 L242.5 431.35 L241.5 432.85 L240.5 431.64 L239.5 432.02 L238.5 431.18 L237.5 432.1 L236.5 432.46 L235.5 431.67 L234.5 432.53 L233.5 432.38 L232.5 431.17 L231.5 432.06 L230.5 431.59 L229.5 431.33 L228.5 431.64 L227.5 431.74 L226.5 431.27 L225.5 432.42 L224.5 432.12 L223.5 431.47 L222.5 431.44 L221.5 431.62 L220.5 431.55 L219.5 431.51 L218.5 431.69 L217.5 431.27 L216.5 432.72 L215.5 431.68 L214.5 432 L213.5 432.2 L212.5 431.33 L211.5 431.09 L210.5 431.82 L209.5 431.96 L208.5 431.3 L207.5 431.33 L206.5 431.31 L205.5 431.86 L204.5 431.6 L203.5 431.08 L202.5 431.51 L201.5 431.49 L200.5 432.18 L199.5 431.96 L198.5 431.63 L197.5 433 L196.5 431.82 L195.5 431.84 L194.5 432.77 L193.5 431.42 L192.5 431.98 L191.5 431.67 L190.5 431.48 L189.5 433.21 L188.5 431.84 L187.5 431.8 L186.5 431.09 L185.5 431.37 L184.5 431.5 L183.5 431.27 L182.5 431.38 L181.5 431.5 L180.5 431.08 L179.5 432.71 L178.5 432.38 L177.5 431.31 L176.5 431.7 L175.5 431.73 L174.5 432 L173.5 431.13 L172.5 431.73 L171.5 431.39 L170.5 431.61 L169.5 431.33 L168.5 431.49 L167.5 431.55 L166.5 431.19 L165.5 431.8 L164.5 432.53 L163.5 431.91 L162.5 433.13 L161.5 432.65 L160.5 431.66 L159.5 431.97 L158.5 431.47 L157.5 431.24 L156.5 431.09 L155.5 431.27 L154.5 431.19 L153.5 432.46 L152.5 432.61 L151.5 431.34 L150.5 431.43 L149.5 431.85 L148.5 432.38 L147.5 431.61 L146.5 431.13 L145.5 431.82 L144.5 431.28 L143.5 432.12 L142.5 431.18 L141.5 431.35 L140.5 431.68 L139.5 431.08 L138.5 431.38 L137.5 432.19 L136.5 431.35 L135.5 431.37 L134.5 432.5 L133.5 431.39 L132.5 432.44 L131.5 432.69 L130.5 431.1 L129.5 431.81 L128.5 431.31 L127.5 431.37 L126.5 431.82 L125.5 431.17 L124.5 431.71 L123.5 432.43 L122.5 431.65 L121.5 431.63 L120.5 431.35 L119.5 432.09 L118.5 432.2 L117.5 432.14 L116.5 431.16 L115.5 431.87 L114.5 431.12 L113.5 431.85 L112.5 432.15 L111.5 431.76 L110.5 431.43 L109.5 431.6 L108.5 431.56 L107.5 431.79 L106.5 432.47 L105.5 432.53 L104.5 431.72 L103.5 431.45 L102.5 431.75 L101.5 431.79 L100.5 431.49 L99.5 431.23 L98.5 432.55 L97.5 431.75 L96.5 431.43 L95.5 431.91 L94.5 431.4 L93.5 431.79 L92.5 431.75 L91.5 431.93 L90.5 431.58 L89.5 432.48 L88.5 432 L87.5 431.51 L86.5 431.47 L85.5 432.07 L84.5 431.27 L83.5 431.59 L82.5 431.18 L81.5 431.42 L80.5 431.93 L79.5 432.35 L78.5 431.97 L77.5 431.12 L76.5 431.72 L75.5 432.26 L74.5 432.3 L73.5 431.64 L72.5 432.41 L71.5 431.26 L70.5 431.24 L69.5 431.39 L68.5 432.13 L67.5 431.96 L66.5 431.66 L65.5 431.88 L64.5 431.61 L63.5 431.12 L62.5 432.25 L61.5 431.54 L60.5 431.08 L59.5 431.87 L58.5 431.36 L57.5 431.7 L56.5 431.67 L55.5 431.78 L54.5 431.5 L53.5 432.1 L52.5 431.36 L51.5 433.06 L50.5 431.8 L49.5 432.01 L48.5 433.3 L47.5 431.36 L46.5 431.11 L45.5 431.28 L44.5 432.62 L43.5 431.43 L42.5 431.46 L41.5 431.4 L40.5 432.44 L39.5 431.59 L38.5 431.56 L37.5 432.67 L36.5 431.58Z" fill="#ff0000"/><path d="M39.5 411.61V418.31M40.5 411.91V418.31M41.5 412.09V418.31M43.5 412.5V418.31M45.5 412.44V418.31M46.5 409.36V418.31M50.5 412V418.31M54.5 411.03V418.31M55.5 410.23V418.31M59.5 411.44V418.31M60.5 411.66V418.31M61.5 412.52V418.31M63.5 409.49V418.31M64.5 409.78V418.31M66.5 410.37V418.31M72.5 412.23V418.31M76.5 411.91V418.31M78.5 412.34V418.31M79.5 411.09V418.31M87.5 412.44V418.31M92.5 411.29V418.31M94.5 411.78V418.31M98.5 411.81V418.31M99.5 411.92V418.31M100.5 411.54V418.31M104.5 409.46V418.31M107.5 412.44V418.31M109.5 410.52V418.31M110.5 410.21V418.31M142.5 410.68V418.31M143.5 411.45V418.31M150.5 411.18V418.31M154.5 412.33V418.31M156.5 412.32V418.31M157.5 411.93V418.31M158.5 412.22V418.31M165.5 410.7V418.31M175.5 412.11V418.31M178.5 412.15V418.31M181.5 411.24V418.31M190.5 412.42V418.31M201.5 412.03V418.31M206.5 411.5V418.31M207.5 409.9V418.31M209.5 411.61V418.31M212.5 411.49V418.31M219.5 412.26V418.31M226.5 410.12V418.31M229.5 411.66V418.31M244.5 411.38V418.31" stroke="#ff0000" stroke-width="0.7" stroke-opacity="0.6" fill="none"/><path d="M37.5 427.88V434.9M39.5 427.88V435.21M46.5 427.88V434.73M55.5 427.88V435.75M56.5 427.88V434.83M60.5 427.88V434.36M74.5 427.88V434.6M76.5 427.88V435M79.5 427.88V435.18M82.5 427.88V436.38M83.5 427.88V434.79M86.5 427.88V434.74M94.5 427.88V435.77M107.5 427.88V434.93M114.5 427.88V434.48M118.5 427.88V436.59M120.5 427.88V436.19M124.5 427.88V436.44M126.5 427.88V434.53M127.5 427.88V436.54M132.5 427.88V434.33M134.5 427.88V436.15M135.5 427.88V435.07M136.5 427.88V435.44M137.5 427.88V434.53M138.5 427.88V434.53M146.5 427.88V435.69M151.5 427.88V435.39M156.5 427.88V436.38M166.5 427.88V436.06M171.5 427.88V435.31M186.5 427.88V434.42M190.5 427.88V436.01M191.5 427.88V434.83M193.5 427.88V435.62M195.5 427.88V435.55M198.5 427.88V435.22M202.5 427.88V435.75M205.5 427.88V435.25M207.5 427.88V435.3M217.5 427.88V434.59M219.5 427.88V434.59M223.5 427.88V434.65M232.5 427.88V435.52M234.5 427.88V434.9M236.5 427.88V435.64M237.5 427.88V435.17M242.5 427.88V434.64M244.5 427.88V435.28" stroke="#ff0000" stroke-width="0.7" stroke-opacity="0.6" fill="none"/><path d="M170.5 397.58V448.62" stroke="#ff0000" stroke-width="0.8" stroke-opacity="0.7" fill="none"/><path d="M186.5 403.96V439.05" stroke="#ff0000" stroke-width="0.8" stroke-opacity="0.7" fill="none"/><path d="M244.5 431.07V442.24" stroke="#ff0000" stroke-width="0.8" stroke-opacity="0.7" fill="none"/><path d="M36.5 422.71 L37 422.65 L37.5 422.77 L37.99 423.45 L38.49 423.09 L38.99 423.17 L39.49 422.43 L39.98 422.8 L40.48 422.38 L40.98 423.23 L41.48 422.79 L41.97 422.84 L42.47 423.04 L42.97 422.89 L43.47 423.04 L43.96 422.66 L44.46 423.3 L44.96 422.65 L45.46 422.97 L45.95 422.97 L46.45 423.41 L46.95 422.6 L47.45 422.97 L47.95 422.69 L48.44 422.05 L48.94 422.79 L49.44 422.78 L49.94 421.62 L50.43 422.21 L50.93 422 L51.43 422.34 L51.93 422.11 L52.42 423.01 L52.92 423.11 L53.42 423.23 L53.92 423.25 L54.41 422.53 L54.91 423.03 L55.41 423.28 L55.91 423.12 L56.4 422.88 L56.9 422.55 L57.4 422.15 L57.9 422.9 L58.4 422.84 L58.89 422.64 L59.39 422.83 L59.89 422.1 L60.39 422.81 L60.88 422.16 L61.38 422.09 L61.88 422.76 L62.38 422.48 L62.87 422.18 L63.37 422.64 L63.87 422.12 L64.37 422.83 L64.86 422.31 L65.36 422.46 L65.86 422.86 L66.36 422.4 L66.85 422.89 L67.35 422.7 L67.85 422.41 L68.35 423.15 L68.85 423.42 L69.34 423.24 L69.84 423.25 L70.34 422.54 L70.84 423.08 L71.33 422.61 L71.83 422.32 L72.33 422.29 L72.83 423.03 L73.32 422.17 L73.82 422.86 L74.32 422.85 L74.82 422.19 L75.31 422.08 L75.81 422.34 L76.31 422.42 L76.81 422.48 L77.3 422.62 L77.8 422.41 L78.3 422.94 L78.8 422.37 L79.3 422.55 L79.79 422.46 L80.29 422.96 L80.79 422.19 L81.29 422.55 L81.78 423.25 L82.28 422.59 L82.78 422.65 L83.28 422.74 L83.77 422.37 L84.27 423.27 L84.77 423.02 L85.27 423.41 L85.76 422.84 L86.26 422.49 L86.76 422.48 L87.26 422.78 L87.75 422.68 L88.25 423.6 L88.75 423.39 L89.25 423.24 L89.75 423 L90.24 422.6 L90.74 423.07 L91.24 423.13 L91.74 422.48 L92.23 423.12 L92.73 423.1 L93.23 423.02 L93.73 423.11 L94.22 423.24 L94.72 422.61 L95.22 422.87 L95.72 421.99 L96.21 423.09 L96.71 423.8 L97.21 422.81 L97.71 423.05 L98.2 422.76 L98.7 423.29 L99.2 423.18 L99.7 422.66 L100.2 422.84 L100.69 422.68 L101.19 422.46 L101.69 422.82 L102.19 422.88 L102.68 422.76 L103.18 422.48 L103.68 423.03 L104.18 422.22 L104.67 423.37 L105.17 424.16 L105.67 422.62 L106.17 422.82 L106.66 422.55 L107.16 422.41 L107.66 422.72 L108.16 422.8 L108.65 423.05 L109.15 423.04 L109.65 423.22 L110.15 423.67 L110.65 423.83 L111.14 423.53 L111.64 423.34 L112.14 423.46 L112.64 423.64 L113.13 423.59 L113.63 423.99 L114.13 422.72 L114.63 423.72 L115.12 423.41 L115.62 423.65 L116.12 423.01 L116.62 424.62 L117.11 423.01 L117.61 423.17 L118.11 422.99 L118.61 423.3 L119.1 423.33 L119.6 422.77 L120.1 422.65 L120.6 423.4 L121.1 423.8 L121.59 422.95 L122.09 423.04 L122.59 423.19 L123.09 423.65 L123.58 423.9 L124.08 424.39 L124.58 424.08 L125.08 423.64 L125.57 423.4 L126.07 423.03 L126.57 423.79 L127.07 422.35 L127.56 422.94 L128.06 423.12 L128.56 422.57 L129.06 423.21 L129.55 423.8 L130.05 423.11 L130.55 423.28 L131.05 423.45 L131.55 423.72 L132.04 423.39 L132.54 424.41 L133.04 423.08 L133.54 423.37 L134.03 423.09 L134.53 422.87 L135.03 422.83 L135.53 424.02 L136.02 424.52 L136.52 422.96 L137.02 423.26 L137.52 423.57 L138.01 424.17 L138.51 423.4 L139.01 423.47 L139.51 424.4 L140 423.42 L140.5 423.7 L141 423.4 L141.5 422.55 L142 423.92 L142.49 423.64 L142.99 423.98 L143.49 423.32 L143.99 423.08 L144.48 423.81 L144.98 422.87 L145.48 423.7 L145.98 424.06 L146.47 424.01 L146.97 424.03 L147.47 423.32 L147.97 423.92 L148.46 423.45 L148.96 424.14 L149.46 423.84 L149.96 423.23 L150.45 423.65 L150.95 423.75 L151.45 423.39 L151.95 423.76 L152.45 422.8 L152.94 423.7 L153.44 423.8 L153.94 423.59 L154.44 423.45 L154.93 423.01 L155.43 423.97 L155.93 423.64 L156.43 423.64 L156.92 423.51 L157.42 423.73 L157.92 424.26 L158.42 424.79 L158.91 423.83 L159.41 423.82 L159.91 423.55 L160.41 422.91 L160.9 424.05 L161.4 423.09 L161.9 423.53 L162.4 423.62 L162.9 423.68 L163.39 423.68 L163.89 423.43 L164.39 423.92 L164.89 423.03 L165.38 424.13 L165.88 423.71 L166.38 422.82 L166.88 423.32 L167.37 422.45 L167.87 423.36 L168.37 423.42 L168.87 423.2 L169.36 422.81 L169.86 422.88 L170.36 422.84 L170.86 424.16 L171.35 423.58 L171.85 423.34 L172.35 423.01 L172.85 423.97 L173.35 423.51 L173.84 422.51 L174.34 423.62 L174.84 422.92 L175.34 422.59 L175.83 422.91 L176.33 422.68 L176.83 422.89 L177.33 424.01 L177.82 422.68 L178.32 422.71 L178.82 423.71 L179.32 423.79 L179.81 422.7 L180.31 423.21 L180.81 423.68 L181.31 423 L181.8 423.12 L182.3 423.09 L182.8 422.7 L183.3 422.71 L183.8 423.48 L184.29 423.08 L184.79 422.92 L185.29 423.02 L185.79 423.05 L186.28 422.7 L186.78 423.22 L187.28 422.86 L187.78 422.82 L188.27 422.18 L188.77 423.43 L189.27 422.99 L189.77 422.9 L190.26 422.68 L190.76 422.7 L191.26 422.92 L191.76 422.72 L192.25 422.43 L192.75 423.06 L193.25 421.95 L193.75 422.64 L194.25 422.21 L194.74 422.15 L195.24 422.72 L195.74 423.27 L196.24 423 L196.73 423.41 L197.23 422.87 L197.73 423.68 L198.23 423.96 L198.72 422.54 L199.22 422.88 L199.72 422.58 L200.22 422.92 L200.71 423.59 L201.21 422.71 L201.71 423.33 L202.21 423.36 L202.7 422.49 L203.2 422.72 L203.7 422.04 L204.2 422.88 L204.7 421.74 L205.19 422.05 L205.69 422.94 L206.19 422.09 L206.69 421.92 L207.18 422.26 L207.68 422.04 L208.18 422.25 L208.68 422.71 L209.17 422.33 L209.67 423.15 L210.17 423.18 L210.67 422.72 L211.16 422.68 L211.66 423.27 L212.16 423.3 L212.66 422.66 L213.15 423.06 L213.65 422.62 L214.15 422.67 L214.65 422.62 L215.15 422.87 L215.64 422.87 L216.14 423.09 L216.64 422.48 L217.14 422.55 L217.63 422.86 L218.13 422.78 L218.63 422.65 L219.13 422.05 L219.62 422.65 L220.12 422.03 L220.62 421.8 L221.12 421.71 L221.61 422.43 L222.11 422.54 L222.61 421.16 L223.11 422.4 L223.6 422.83 L224.1 422.58 L224.6 422.5 L225.1 422.74 L225.6 422.01 L226.09 422.82 L226.59 423.19 L227.09 422.45 L227.59 422.24 L228.08 422.97 L228.58 421.79 L229.08 422.82 L229.58 422.97 L230.07 422.37 L230.57 423.44 L231.07 421.97 L231.57 421.75 L232.06 422.88 L232.56 421.95 L233.06 422.55 L233.56 422.31 L234.05 423.11 L234.55 422.91 L235.05 422.64 L235.55 422.88 L236.05 422.18 L236.54 422.83 L237.04 422.98 L237.54 422.5 L238.04 422.34 L238.53 423.07 L239.03 422.04 L239.53 421.81 L240.03 422.61 L240.52 422.43 L241.02 423.6 L241.52 421.67 L242.02 422.71 L242.51 422.49 L243.01 422.58 L243.51 422.5 L244.01 422.1 L244.5 423.3 L245 422.6 L245.5 422.98" stroke="#000000" stroke-width="1.3" fill="none" stroke-linejoin="round"/></g><rect x="36.5" y="391.2" width="266" height="63.8" fill="none" stroke="#555" stroke-width="0.9"/><path d="M36.5 455 v-2.2 M36.5 391.2 v2.2" stroke="#666" stroke-width="0.7"/><text x="36.5" y="470.4" text-anchor="middle" style='font-family:"Liberation Sans",sans-serif;font-size:10.6px' fill="#333">0</text><path d="M74.5 455 v-2.2 M74.5 391.2 v2.2" stroke="#666" stroke-width="0.7"/><text x="74.5" y="470.4" text-anchor="middle" style='font-family:"Liberation Sans",sans-serif;font-size:10.6px' fill="#333">50</text><path d="M112.5 455 v-2.2 M112.5 391.2 v2.2" stroke="#666" stroke-width="0.7"/><text x="112.5" y="470.4" text-anchor="middle" style='font-family:"Liberation Sans",sans-serif;font-size:10.6px' fill="#333">100</text><path d="M150.5 455 v-2.2 M150.5 391.2 v2.2" stroke="#666" stroke-width="0.7"/><text x="150.5" y="470.4" text-anchor="middle" style='font-family:"Liberation Sans",sans-serif;font-size:10.6px' fill="#333">150</text><path d="M188.5 455 v-2.2 M188.5 391.2 v2.2" stroke="#666" stroke-width="0.7"/><text x="188.5" y="470.4" text-anchor="middle" style='font-family:"Liberation Sans",sans-serif;font-size:10.6px' fill="#333">200</text><path d="M226.5 455 v-2.2 M226.5 391.2 v2.2" stroke="#666" stroke-width="0.7"/><text x="226.5" y="470.4" text-anchor="middle" style='font-family:"Liberation Sans",sans-serif;font-size:10.6px' fill="#333">250</text><path d="M264.5 455 v-2.2 M264.5 391.2 v2.2" stroke="#666" stroke-width="0.7"/><text x="264.5" y="470.4" text-anchor="middle" style='font-family:"Liberation Sans",sans-serif;font-size:10.6px' fill="#333">300</text><path d="M302.5 455 v-2.2 M302.5 391.2 v2.2" stroke="#666" stroke-width="0.7"/><text x="302.5" y="470.4" text-anchor="middle" style='font-family:"Liberation Sans",sans-serif;font-size:10.6px' fill="#333">350</text><path d="M36.5 455 h2.2 M302.5 455 h-2.2" stroke="#666" stroke-width="0.7"/><text x="31.9" y="459.5" text-anchor="end" style='font-family:"Liberation Sans",sans-serif;font-size:10.6px' fill="#333">-2</text><path d="M36.5 423.1 h2.2 M302.5 423.1 h-2.2" stroke="#666" stroke-width="0.7"/><text x="31.9" y="427.6" text-anchor="end" style='font-family:"Liberation Sans",sans-serif;font-size:10.6px' fill="#333">0</text><path d="M36.5 391.2 h2.2 M302.5 391.2 h-2.2" stroke="#666" stroke-width="0.7"/><text x="31.9" y="395.7" text-anchor="end" style='font-family:"Liberation Sans",sans-serif;font-size:10.6px' fill="#333">2</text><text transform="translate(17.8,423.1) rotate(-90)" text-anchor="middle" style='font-family:"Liberation Sans",sans-serif;font-size:12.4px' fill="#333">Position[nm]</text><rect x="190.5" y="398.3" width="102.6" height="41" fill="#fff" stroke="#444" stroke-width="0.7"/><path d="M192.7 406.6 H210.1" stroke="#0000ff" stroke-width="0.9" stroke-opacity="0.6"/><text x="212.7" y="410.2" style='font-family:"Liberation Sans","Noto Serif CJK SC",serif;font-size:9.6px' fill="#444" textLength="26.4" lengthAdjust="spacingAndGlyphs">全频段</text><text x="239.3" y="410.5" style='font-family:"Liberation Sans",sans-serif;font-size:10.1px' fill="#2a2a2a">0.51125nm</text><path d="M192.7 419.85 H210.1" stroke="#ff0000" stroke-width="0.9" stroke-opacity="0.6"/><text x="212.7" y="423.45" style='font-family:"Liberation Sans","Noto Serif CJK SC",serif;font-size:9.6px' fill="#444" textLength="26.4" lengthAdjust="spacingAndGlyphs">高频段</text><text x="239.3" y="423.75" style='font-family:"Liberation Sans",sans-serif;font-size:10.1px' fill="#2a2a2a">0.4875nm</text><path d="M192.7 433.1 H210.1" stroke="#000" stroke-width="0.9" stroke-opacity="0.6"/><text x="212.7" y="436.7" style='font-family:"Liberation Sans","Noto Serif CJK SC",serif;font-size:9.6px' fill="#444" textLength="26.4" lengthAdjust="spacingAndGlyphs">低频段</text><text x="239.3" y="437" style='font-family:"Liberation Sans",sans-serif;font-size:10.1px' fill="#2a2a2a">0.15401nm</text></g><rect x="296.8" y="330.5" width="5" height="146.5" fill="url(#shl)"/><rect x="303.8" y="323.9" width="318.2" height="4" fill="url(#sht)"/><clipPath id="w229"><rect x="301.8" y="327.9" width="318.2" height="147.1"/></clipPath><g clip-path="url(#w229)"><rect x="301.8" y="328.5" width="318.2" height="146.5" fill="#f0f0f0"/><rect x="301.8" y="327.9" width="318.2" height="32.2" fill="#fff"/><path d="M301.8 360.3 H620" stroke="#e2e2e2" stroke-width="0.8"/><rect x="301.8" y="360.7" width="318.2" height="15.3" fill="#f2f2f2"/><path d="M301.8 376.3 H620" stroke="#dcdcdc" stroke-width="0.8"/><g transform="translate(306.1,332.8)"><rect x="0.4" y="0.4" width="8.8" height="9" fill="#f6f7fa" stroke="#a0aac0" stroke-width="0.8"/><rect x="0.4" y="0.4" width="8.8" height="1.3" fill="#7f98c8"/><path d="M1.2 7 L5.4 2.4 L8.2 8 L6.4 6.8 Z" fill="#e06a1c"/><path d="M1.2 7 L3.6 4.4 L4.8 6.8 L3 7.6 Z" fill="#2f6db5"/><path d="M5.4 2.4 L8.2 8 L6.2 4.8 Z" fill="#b83a10"/></g><text x="317.6" y="340.2" style='font-family:"Liberation Sans","Noto Sans CJK SC",sans-serif;font-size:8.5px' fill="#a6a6a6" stroke="#a6a6a6" stroke-width="0.25" textLength="27.6" lengthAdjust="spacingAndGlyphs">Figure 8</text><path d="M561.4 336.8 H566.6" stroke="#9a9a9a" stroke-width="0.8"/><rect x="587.8" y="334.1" width="5.6" height="5.6" fill="none" stroke="#9a9a9a" stroke-width="0.8"/><text x="305.6" y="355.2" style='font-family:"Liberation Sans","Noto Sans CJK SC",sans-serif;font-size:7.6px' fill="#1a1a1a" stroke="#1a1a1a" stroke-width="0.15" textLength="22.1" lengthAdjust="spacingAndGlyphs">文件(F)</text><text x="335.8" y="355.2" style='font-family:"Liberation Sans","Noto Sans CJK SC",sans-serif;font-size:7.6px' fill="#1a1a1a" stroke="#1a1a1a" stroke-width="0.15" textLength="22.6" lengthAdjust="spacingAndGlyphs">编辑(E)</text><text x="366.5" y="355.2" style='font-family:"Liberation Sans","Noto Sans CJK SC",sans-serif;font-size:7.6px' fill="#1a1a1a" stroke="#1a1a1a" stroke-width="0.15" textLength="22.9" lengthAdjust="spacingAndGlyphs">查看(V)</text><text x="397.5" y="355.2" style='font-family:"Liberation Sans","Noto Sans CJK SC",sans-serif;font-size:7.6px' fill="#1a1a1a" stroke="#1a1a1a" stroke-width="0.15" textLength="20.9" lengthAdjust="spacingAndGlyphs">插入(I)</text><text x="426.3" y="355.2" style='font-family:"Liberation Sans","Noto Sans CJK SC",sans-serif;font-size:7.6px' fill="#1a1a1a" stroke="#1a1a1a" stroke-width="0.15" textLength="22.6" lengthAdjust="spacingAndGlyphs">工具(T)</text><text x="456.6" y="355.2" style='font-family:"Liberation Sans","Noto Sans CJK SC",sans-serif;font-size:7.6px' fill="#1a1a1a" stroke="#1a1a1a" stroke-width="0.15" textLength="23.3" lengthAdjust="spacingAndGlyphs">桌面(D)</text><text x="488" y="355.2" style='font-family:"Liberation Sans","Noto Sans CJK SC",sans-serif;font-size:7.6px' fill="#1a1a1a" stroke="#1a1a1a" stroke-width="0.15" textLength="25" lengthAdjust="spacingAndGlyphs">窗口(W)</text><text x="521" y="355.2" style='font-family:"Liberation Sans","Noto Sans CJK SC",sans-serif;font-size:7.6px' fill="#1a1a1a" stroke="#1a1a1a" stroke-width="0.15" textLength="24.2" lengthAdjust="spacingAndGlyphs">帮助(H)</text><g transform="translate(303.9,363.2)"><path d="M1 0.5 H6 L8.3 2.8 V8.6 H1 Z" fill="#fdfdff" stroke="#7d8fb0" stroke-width="0.8"/><path d="M6 0.5 V2.8 H8.3" fill="#dfe6f2" stroke="#7d8fb0" stroke-width="0.6"/><rect x="0.2" y="0" width="2.6" height="2.6" fill="#f08040"/></g><g transform="translate(316.3,363.2)"><path d="M0.5 2 H3.5 L4.3 3 H8 V8.3 H0.5 Z" fill="#d9a92c"/><path d="M0.5 8.3 L2 4.3 H9 L7.8 8.3 Z" fill="#f6d56b" stroke="#c89a28" stroke-width="0.5"/><path d="M6 0.8 L8.2 0.8 L8.2 2.6" stroke="#6a8ac0" stroke-width="0.7" fill="none"/></g><g transform="translate(329.9,363.2)"><rect x="0.4" y="0.4" width="8.4" height="8.4" rx="0.6" fill="#3b4fb0"/><rect x="2" y="0.6" width="5" height="3.4" fill="#e8ecf8"/><rect x="2.6" y="5.6" width="3.8" height="3" fill="#1e2a70"/><rect x="4.4" y="6" width="1.2" height="1.8" fill="#dfe4f0"/></g><g transform="translate(342.8,363.2)"><rect x="2.4" y="0.4" width="4.4" height="3.6" fill="#f4f6fa" stroke="#9aa4b8" stroke-width="0.5"/><path d="M0.4 4.2 Q0.4 3 1.6 3 H7.4 Q8.6 3 8.6 4.2 V7.4 H0.4 Z" fill="#b4b6bc"/><rect x="1.8" y="6" width="5.4" height="2.7" fill="#e6e7ea" stroke="#8c8e94" stroke-width="0.4"/></g><g transform="translate(360.5,363.2)"><path d="M2.3 0.6 L2.3 7.6 L4 6 L5.4 8.8 L6.4 8.3 L5 5.6 L7.3 5.4 Z" fill="#fff" stroke="#333" stroke-width="0.7"/></g><g transform="translate(376.6,363.2)"><path d="M5.2 5.2 L8.6 8.6" stroke="#e09a40" stroke-width="2" stroke-linecap="round"/><circle cx="3.6" cy="3.6" r="3" fill="#dcecfb" stroke="#7a9ad0" stroke-width="0.9"/><path d="M2.2 3.6 H5 M3.6 2.2 V5" stroke="#4a78c0" stroke-width="0.8"/></g><g transform="translate(389.6,363.2)"><path d="M5.2 5.2 L8.6 8.6" stroke="#e09a40" stroke-width="2" stroke-linecap="round"/><circle cx="3.6" cy="3.6" r="3" fill="#dcecfb" stroke="#7a9ad0" stroke-width="0.9"/><path d="M2.2 3.6 H5" stroke="#4a78c0" stroke-width="0.8"/></g><g transform="translate(401.7,362.7)"><path d="M1.2 5.2 Q0.4 3.6 1.8 3.4 L2.8 4.4 V2 Q3.4 0.6 4.4 1.4 V0.9 Q5.2 0 6 0.9 V1.4 Q7 0.8 7.6 1.8 V3.2 Q8.8 2.8 9.2 3.8 L8.8 6.6 Q8.2 9.8 5.2 9.8 Q2.8 9.8 1.2 5.2 Z" fill="#f7d8bc" stroke="#7f93c6" stroke-width="0.7"/><path d="M3 2.2 V5 M4.5 1.2 V4.6 M6 1.2 V4.6 M7.5 2 V5" stroke="#9fb0d8" stroke-width="0.5"/></g><g transform="translate(415.1,362.7)"><path d="M1.6 3.2 A4 4 0 1 1 1.4 6.6" fill="none" stroke="#3a5490" stroke-width="1.8"/><circle cx="5.2" cy="5" r="2.2" fill="#b8c4dc"/><path d="M4.4 3.8 V6.2 M5.4 3.6 V6.4" stroke="#7f8fb8" stroke-width="0.5"/><path d="M0 4.6 L3 4.2 L2 6.6 Z" fill="#fff" stroke="#9aa" stroke-width="0.3"/></g><g transform="translate(427.7,362.7)"><rect x="4" y="0" width="6" height="5.8" fill="#e6e4a4" stroke="#a8a470" stroke-width="0.5"/><rect x="5" y="1" width="4" height="3.8" fill="#dddb9a"/><path d="M0.4 1.6 L9.4 9.4" stroke="#8080ff" stroke-width="1.2"/><path d="M5 5.6 L1.2 6.4 L2.6 7.4 L1 9.2" stroke="#111" stroke-width="1.4" fill="none"/></g><g transform="translate(441.6,362.7)"><path d="M9.4 0.4 L4.2 6" stroke="#8c94cc" stroke-width="1.9" stroke-linecap="round"/><path d="M0.6 9.6 Q0.4 6.6 3 5.6 L4.4 7 Q3.8 9.6 0.6 9.6 Z" fill="#3a3a3a"/><circle cx="7.6" cy="8.2" r="1.5" fill="#ee0000"/></g><path d="M455.4 367.1 h2.4 l-1.2 1.3 z" fill="#333"/><g transform="translate(464.4,363.2)"><rect x="0.4" y="0.6" width="7.8" height="6.4" rx="1" fill="#dde4f0" stroke="#4a5f95" stroke-width="0.9"/><rect x="1.8" y="3.2" width="3.2" height="2.2" fill="#7d8fb8"/><rect x="3" y="6.6" width="5.8" height="2.2" rx="0.6" fill="#8596bd" stroke="#4a5f95" stroke-width="0.5"/></g><rect x="493" y="360.7" width="13" height="14" fill="#cce4f7"/><g transform="translate(481.9,363.2)"><rect x="2.3" y="0.4" width="4.6" height="8.4" rx="0.6" fill="url(#cbg)" stroke="#4f5f8f" stroke-width="0.8"/></g><g transform="translate(494.8,363.2)"><rect x="0.4" y="0.4" width="8.4" height="8.4" fill="#f4f6fb" stroke="#5a6a9a" stroke-width="0.8"/><rect x="1.5" y="2" width="2.4" height="1.8" fill="#e83a3a"/><rect x="1.5" y="5.4" width="2.4" height="1.8" fill="#3a4ae8"/><path d="M4.6 2.9 H7.6 M4.6 6.3 H7.6" stroke="#6a7aa8" stroke-width="0.9"/></g><rect x="513.3" y="364.7" width="6" height="6" rx="0.8" fill="#909090" stroke="#777" stroke-width="0.4"/><g transform="translate(524.6,363.2)"><rect x="0.4" y="0.4" width="8.4" height="8.4" rx="0.6" fill="#4a64a0"/><rect x="1.8" y="2.2" width="5.6" height="4.4" fill="#f4f6fb"/></g><path d="M355.6 360.7 V374.7" stroke="#d6d6d6" stroke-width="0.8"/><path d="M371.9 360.7 V374.7" stroke="#d6d6d6" stroke-width="0.8"/><path d="M461.3 360.7 V374.7" stroke="#d6d6d6" stroke-width="0.8"/><path d="M477.8 360.7 V374.7" stroke="#d6d6d6" stroke-width="0.8"/><path d="M508.3 360.7 V374.7" stroke="#d6d6d6" stroke-width="0.8"/><path d="M302.3 475 V328.4" stroke="#b4b4b4" stroke-width="1" fill="none"/><path d="M301.8 328.4 H620" stroke="#c8c8c8" stroke-width="1" fill="none"/><clipPath id="a253"><rect x="344.8" y="385.9" width="255.5" height="74.3"/></clipPath><rect x="344.8" y="385.9" width="255.5" height="74.3" fill="#fff"/><g clip-path="url(#a253)"><path d="M344.5 416.32V419.33M346.5 415.54V419.33M347.5 416.64V419.33M348.5 415.28V419.33M349.5 415.48V419.33M350.5 416.59V419.33M351.5 416.49V419.33M352.5 416.16V419.33M353.5 415.64V419.33M354.5 416.65V419.33M357.5 415.55V419.33M358.5 416.3V419.33M359.5 416.18V419.33M361.5 415.15V419.33M362.5 415.76V419.33M363.5 416.29V419.33M364.5 415.51V419.33M366.5 416.13V419.33M368.5 416.21V419.33M369.5 416.28V419.33M370.5 416.57V419.33M371.5 416.31V419.33M372.5 416.14V419.33M373.5 416.44V419.33M376.5 416.13V419.33M377.5 416.61V419.33M379.5 416.43V419.33M380.5 416.39V419.33M382.5 415.82V419.33M383.5 416.4V419.33M384.5 416.16V419.33M385.5 415.78V419.33M386.5 416.4V419.33M387.5 415.78V419.33M388.5 414.35V419.33M389.5 416.26V419.33M390.5 415.57V419.33M391.5 416.09V419.33M393.5 416.37V419.33M394.5 415.8V419.33M395.5 415.5V419.33M396.5 416.41V419.33M397.5 415.61V419.33M398.5 415.92V419.33M399.5 416.6V419.33M400.5 416.31V419.33M403.5 415.84V419.33M404.5 416.52V419.33M405.5 416.37V419.33M406.5 416.16V419.33M408.5 416.16V419.33M411.5 416.51V419.33M412.5 416.53V419.33M413.5 416.45V419.33M414.5 416.45V419.33M416.5 415.34V419.33M417.5 416.34V419.33M418.5 416.06V419.33M419.5 416.42V419.33M420.5 415.96V419.33M422.5 416.18V419.33M423.5 416.42V419.33M424.5 416.36V419.33M425.5 416.64V419.33M426.5 416.53V419.33M427.5 415.21V419.33M428.5 416.51V419.33M429.5 416.58V419.33M431.5 416.46V419.33M433.5 415.75V419.33M434.5 416.52V419.33M435.5 415.89V419.33M436.5 416.15V419.33M437.5 416.65V419.33M438.5 415.99V419.33M439.5 416.57V419.33M440.5 416.53V419.33M441.5 415.92V419.33M442.5 416.63V419.33M443.5 416.02V419.33M444.5 416.06V419.33M445.5 416.15V419.33M446.5 416.39V419.33M448.5 416.09V419.33M449.5 416.47V419.33M450.5 416.48V419.33M451.5 415.95V419.33M452.5 415.76V419.33M453.5 416.08V419.33M454.5 415.55V419.33M455.5 415.57V419.33M457.5 416.5V419.33M458.5 416.51V419.33M460.5 416.59V419.33M461.5 416.5V419.33M463.5 416.28V419.33M464.5 416.3V419.33M466.5 416.6V419.33M467.5 415.62V419.33M468.5 416.27V419.33M469.5 416.59V419.33M470.5 415.48V419.33M471.5 416.55V419.33M472.5 416.13V419.33M473.5 416.39V419.33M476.5 415.7V419.33M477.5 416.44V419.33M478.5 415.97V419.33M479.5 415.29V419.33M480.5 415.78V419.33M481.5 416.49V419.33M482.5 415.96V419.33M483.5 416.28V419.33M485.5 415.58V419.33M487.5 415.44V419.33M488.5 415.99V419.33M489.5 415.68V419.33M490.5 416.51V419.33M491.5 416.18V419.33M492.5 416.15V419.33M494.5 416.19V419.33M495.5 416.53V419.33M496.5 415.6V419.33M497.5 416.22V419.33M498.5 416.13V419.33M499.5 416V419.33M500.5 416.29V419.33M501.5 415.21V419.33M502.5 416.26V419.33M503.5 416.35V419.33M504.5 416.41V419.33M505.5 416.41V419.33M506.5 416.47V419.33M511.5 416.4V419.33M513.5 416.66V419.33M514.5 415.93V419.33M515.5 415.84V419.33M516.5 415.85V419.33M517.5 416.29V419.33M518.5 416.48V419.33M522.5 416.05V419.33M523.5 416.64V419.33M524.5 416.05V419.33M525.5 414.3V419.33M526.5 416.64V419.33M527.5 416.27V419.33M528.5 416.52V419.33M531.5 416.42V419.33M532.5 416V419.33M533.5 416.16V419.33M534.5 416.32V419.33M535.5 416.58V419.33M536.5 415.75V419.33M537.5 416.6V419.33M538.5 415.9V419.33M539.5 415.47V419.33M540.5 416.33V419.33M541.5 415.72V419.33M543.5 416.01V419.33M544.5 416.38V419.33M545.5 416.56V419.33" stroke="#0000ff" stroke-width="0.9" stroke-opacity="0.8" fill="none"/><path d="M344.5 418.36 L345.5 418.13 L346.5 418.36 L347.5 418.29 L348.5 418.4 L349.5 418.26 L350.5 417.96 L351.5 418.33 L352.5 418.33 L353.5 418.15 L354.5 418.08 L355.5 417.85 L356.5 418.16 L357.5 418.3 L358.5 418.24 L359.5 418.05 L360.5 418.25 L361.5 418.36 L362.5 418.39 L363.5 417.83 L364.5 418.27 L365.5 418.41 L366.5 417.99 L367.5 418.27 L368.5 418.4 L369.5 418.12 L370.5 417.73 L371.5 418.39 L372.5 418.16 L373.5 417.49 L374.5 418.32 L375.5 418 L376.5 418.2 L377.5 418.42 L378.5 418.31 L379.5 417.66 L380.5 417.65 L381.5 418.1 L382.5 418.38 L383.5 418.42 L384.5 418.27 L385.5 418.2 L386.5 418.01 L387.5 417.99 L388.5 418.09 L389.5 418.12 L390.5 418.22 L391.5 418.21 L392.5 417.77 L393.5 418.23 L394.5 417.56 L395.5 418.06 L396.5 417.68 L397.5 418.27 L398.5 418.26 L399.5 418.41 L400.5 418.33 L401.5 418.1 L402.5 418.4 L403.5 418.23 L404.5 418.29 L405.5 417.76 L406.5 418.04 L407.5 417.6 L408.5 418.15 L409.5 418.34 L410.5 417.93 L411.5 418.1 L412.5 418.13 L413.5 417.94 L414.5 418.19 L415.5 418.33 L416.5 418.27 L417.5 418.15 L418.5 418.28 L419.5 417.78 L420.5 418.34 L421.5 418.33 L422.5 417.76 L423.5 418.39 L424.5 418.42 L425.5 418.44 L426.5 418.31 L427.5 417.94 L428.5 418.37 L429.5 418.07 L430.5 418.28 L431.5 418.25 L432.5 418.41 L433.5 418.21 L434.5 418.05 L435.5 417.19 L436.5 418.43 L437.5 418.43 L438.5 418.33 L439.5 418.42 L440.5 418.2 L441.5 418.06 L442.5 418.1 L443.5 418.29 L444.5 418.22 L445.5 418.44 L446.5 418.26 L447.5 417.61 L448.5 418.44 L449.5 418.34 L450.5 417.91 L451.5 418.17 L452.5 418.44 L453.5 418.34 L454.5 418.2 L455.5 418.01 L456.5 418.31 L457.5 418.02 L458.5 417.96 L459.5 418.39 L460.5 418.37 L461.5 418.29 L462.5 418.42 L463.5 418.35 L464.5 418.24 L465.5 418.11 L466.5 417.88 L467.5 418.44 L468.5 417.96 L469.5 418.43 L470.5 418.21 L471.5 418.24 L472.5 418.32 L473.5 418.33 L474.5 418.31 L475.5 417.95 L476.5 418.36 L477.5 417.7 L478.5 417.93 L479.5 418.29 L480.5 417.87 L481.5 417.81 L482.5 418.39 L483.5 418.13 L484.5 418.43 L485.5 418.26 L486.5 417.9 L487.5 418.28 L488.5 418.18 L489.5 417.99 L490.5 418.02 L491.5 417.65 L492.5 418.25 L493.5 418.18 L494.5 418.06 L495.5 417.16 L496.5 418.42 L497.5 417.92 L498.5 417.94 L499.5 418.1 L500.5 418.44 L501.5 417.77 L502.5 418.17 L503.5 417.62 L504.5 417.75 L505.5 418.34 L506.5 418.34 L507.5 418.42 L508.5 418.38 L509.5 418.4 L510.5 418.09 L511.5 417.89 L512.5 418.09 L513.5 418.2 L514.5 418.15 L515.5 417.64 L516.5 418.41 L517.5 417.88 L518.5 417.97 L519.5 417.94 L520.5 418.15 L521.5 418.33 L522.5 417.99 L523.5 418 L524.5 418.19 L525.5 418.4 L526.5 418.02 L527.5 418.36 L528.5 418.34 L529.5 418.29 L530.5 418.39 L531.5 418.02 L532.5 418.3 L533.5 418.21 L534.5 418.43 L535.5 418.24 L536.5 418.16 L537.5 417.81 L538.5 418.44 L539.5 418.32 L540.5 418.08 L541.5 418.16 L542.5 417.7 L543.5 418.24 L544.5 417.53 L545.5 418.3 L545.5 427.81 L544.5 427.74 L543.5 427.81 L542.5 428.21 L541.5 428.22 L540.5 427.8 L539.5 427.71 L538.5 427.81 L537.5 428.03 L536.5 427.85 L535.5 427.99 L534.5 428.24 L533.5 427.8 L532.5 427.81 L531.5 427.99 L530.5 428.26 L529.5 428.44 L528.5 428.05 L527.5 428 L526.5 427.89 L525.5 428.08 L524.5 427.9 L523.5 427.67 L522.5 427.79 L521.5 427.66 L520.5 428.41 L519.5 428.14 L518.5 427.76 L517.5 428.18 L516.5 427.92 L515.5 428.15 L514.5 427.7 L513.5 428.72 L512.5 427.99 L511.5 428.24 L510.5 428.01 L509.5 428.13 L508.5 428.03 L507.5 427.71 L506.5 427.79 L505.5 428.04 L504.5 427.97 L503.5 428.24 L502.5 427.92 L501.5 427.79 L500.5 427.73 L499.5 428.54 L498.5 427.75 L497.5 427.73 L496.5 427.71 L495.5 428.07 L494.5 428.02 L493.5 427.67 L492.5 428.12 L491.5 427.75 L490.5 428.13 L489.5 427.85 L488.5 427.86 L487.5 428 L486.5 428.06 L485.5 427.95 L484.5 427.81 L483.5 427.76 L482.5 428.52 L481.5 427.77 L480.5 427.87 L479.5 427.82 L478.5 428.45 L477.5 428.59 L476.5 427.86 L475.5 428.19 L474.5 428.2 L473.5 427.93 L472.5 428.2 L471.5 427.8 L470.5 427.76 L469.5 428.18 L468.5 427.77 L467.5 427.9 L466.5 427.74 L465.5 428.1 L464.5 427.85 L463.5 428.08 L462.5 427.67 L461.5 428.09 L460.5 427.99 L459.5 428.22 L458.5 427.77 L457.5 428.06 L456.5 427.96 L455.5 427.75 L454.5 427.68 L453.5 428.11 L452.5 427.96 L451.5 428.09 L450.5 427.94 L449.5 427.74 L448.5 427.81 L447.5 428.48 L446.5 427.96 L445.5 428.18 L444.5 427.69 L443.5 427.88 L442.5 428.4 L441.5 427.91 L440.5 428.05 L439.5 428.46 L438.5 427.69 L437.5 428.24 L436.5 428.05 L435.5 427.75 L434.5 428.66 L433.5 428.24 L432.5 428.14 L431.5 427.82 L430.5 427.69 L429.5 427.91 L428.5 428.22 L427.5 427.85 L426.5 428.14 L425.5 428.62 L424.5 428.17 L423.5 428.02 L422.5 427.77 L421.5 428.07 L420.5 427.69 L419.5 428 L418.5 427.99 L417.5 427.69 L416.5 427.73 L415.5 428.03 L414.5 427.7 L413.5 428.31 L412.5 427.66 L411.5 428.23 L410.5 427.99 L409.5 428.15 L408.5 427.89 L407.5 427.71 L406.5 427.72 L405.5 428.6 L404.5 427.71 L403.5 428.46 L402.5 428.03 L401.5 427.99 L400.5 427.92 L399.5 427.69 L398.5 427.99 L397.5 427.78 L396.5 427.82 L395.5 428.12 L394.5 427.73 L393.5 427.75 L392.5 427.73 L391.5 428.26 L390.5 427.66 L389.5 427.99 L388.5 428.34 L387.5 427.83 L386.5 427.75 L385.5 427.68 L384.5 427.8 L383.5 427.87 L382.5 427.78 L381.5 427.67 L380.5 428.1 L379.5 427.79 L378.5 427.88 L377.5 427.95 L376.5 427.83 L375.5 428.39 L374.5 427.82 L373.5 428.36 L372.5 427.74 L371.5 427.8 L370.5 428.27 L369.5 427.86 L368.5 428.08 L367.5 427.91 L366.5 427.89 L365.5 427.83 L364.5 427.82 L363.5 427.73 L362.5 427.97 L361.5 427.95 L360.5 427.69 L359.5 428.12 L358.5 427.96 L357.5 427.88 L356.5 427.84 L355.5 427.74 L354.5 428.25 L353.5 428 L352.5 427.8 L351.5 428.1 L350.5 428 L349.5 427.67 L348.5 427.91 L347.5 427.68 L346.5 428.16 L345.5 428.28 L344.5 427.79Z" fill="#ff0000"/><path d="M352.5 426.76V432.1M359.5 426.76V431.43M360.5 426.76V430.74M361.5 426.76V431.33M372.5 426.76V431.22M373.5 426.76V430.69M375.5 426.76V431.49M376.5 426.76V430.56M381.5 426.76V431.52M382.5 426.76V430.91M383.5 426.76V431.49M391.5 426.76V431.93M397.5 426.76V431.89M400.5 426.76V431.77M417.5 426.76V430.61M420.5 426.76V431.93M428.5 426.76V430.53M442.5 426.76V430.95M446.5 426.76V431.01M447.5 426.76V432.29M459.5 426.76V431.27M462.5 426.76V431.36M464.5 426.76V430.52M465.5 426.76V430.64M473.5 426.76V430.82M484.5 426.76V431.06M492.5 426.76V432.25M493.5 426.76V430.53M495.5 426.76V431.01M500.5 426.76V431.23M511.5 426.76V430.67M512.5 426.76V431.65M520.5 426.76V430.76M524.5 426.76V432.05M528.5 426.76V431.77M542.5 426.76V430.74M544.5 426.76V430.94" stroke="#ff0000" stroke-width="0.7" stroke-opacity="0.6" fill="none"/><path d="M473.5 405.22V438.65" stroke="#ff0000" stroke-width="0.8" stroke-opacity="0.7" fill="none"/><path d="M344.8 422.87 L345.28 422.38 L345.76 422.27 L346.23 422.38 L346.71 422.69 L347.19 422.72 L347.67 422.07 L348.15 422.35 L348.62 423.13 L349.1 422.52 L349.58 423.14 L350.06 422.78 L350.54 422.78 L351.01 422.84 L351.49 422.74 L351.97 423.32 L352.45 422.74 L352.93 422.9 L353.4 422.64 L353.88 423.03 L354.36 423.24 L354.84 423.23 L355.32 422.85 L355.79 422.65 L356.27 422.74 L356.75 423.16 L357.23 422.71 L357.71 422.56 L358.18 422.9 L358.66 422.23 L359.14 422.5 L359.62 422.06 L360.1 422.42 L360.57 422.48 L361.05 422.71 L361.53 423.31 L362.01 422.7 L362.49 422.67 L362.96 422.84 L363.44 423.22 L363.92 423.14 L364.4 422.89 L364.88 423.2 L365.35 423.26 L365.83 422.7 L366.31 423.48 L366.79 422.94 L367.26 422.6 L367.74 423.09 L368.22 422.82 L368.7 422.91 L369.18 423.04 L369.65 422.99 L370.13 422.97 L370.61 423.35 L371.09 423.03 L371.57 422.33 L372.04 422.45 L372.52 422.7 L373 422.83 L373.48 422.71 L373.96 422.7 L374.43 422.98 L374.91 423.1 L375.39 422.54 L375.87 422.18 L376.35 422.56 L376.82 422.8 L377.3 422.41 L377.78 422.5 L378.26 422.52 L378.74 422.5 L379.21 421.99 L379.69 422.12 L380.17 422.33 L380.65 421.99 L381.13 422.25 L381.6 422.45 L382.08 422.37 L382.56 422.59 L383.04 422.06 L383.52 422.17 L383.99 422.41 L384.47 421.93 L384.95 422.53 L385.43 422.18 L385.91 421.82 L386.38 422.35 L386.86 422.16 L387.34 422.41 L387.82 422.04 L388.3 422.43 L388.77 422.34 L389.25 422.31 L389.73 422.39 L390.21 422.03 L390.69 422.38 L391.16 421.78 L391.64 422.07 L392.12 422.59 L392.6 422.56 L393.08 422.74 L393.55 422.26 L394.03 423.06 L394.51 422.69 L394.99 422.35 L395.47 422.48 L395.94 422.44 L396.42 422.05 L396.9 422.54 L397.38 422.55 L397.86 422.22 L398.33 422.95 L398.81 422.39 L399.29 422.14 L399.77 422.64 L400.25 421.94 L400.72 422.31 L401.2 422.45 L401.68 422.38 L402.16 422.31 L402.64 422.24 L403.11 422.1 L403.59 422.53 L404.07 422.04 L404.55 422.22 L405.02 422.45 L405.5 422.87 L405.98 422.7 L406.46 422.73 L406.94 422.59 L407.41 422.62 L407.89 422.63 L408.37 422.56 L408.85 422.15 L409.33 422.3 L409.8 422.55 L410.28 422.47 L410.76 422.81 L411.24 422.27 L411.72 422.79 L412.19 422.28 L412.67 422.35 L413.15 422.12 L413.63 422.76 L414.11 421.71 L414.58 422.23 L415.06 422.61 L415.54 422.15 L416.02 422.01 L416.5 422.58 L416.97 422.81 L417.45 422.72 L417.93 422.65 L418.41 422.84 L418.89 422.28 L419.36 422.55 L419.84 422.58 L420.32 422.4 L420.8 422.23 L421.28 422.17 L421.75 422.69 L422.23 422.35 L422.71 422.44 L423.19 421.77 L423.67 422.65 L424.14 422.22 L424.62 421.82 L425.1 422.19 L425.58 422.39 L426.06 422.36 L426.53 421.84 L427.01 422.02 L427.49 422.12 L427.97 422.03 L428.45 422.65 L428.92 421.9 L429.4 422.31 L429.88 422.39 L430.36 421.97 L430.84 422.03 L431.31 422.83 L431.79 422.17 L432.27 422.49 L432.75 422.04 L433.23 422.21 L433.7 422.17 L434.18 422.17 L434.66 422.11 L435.14 422.43 L435.62 422.12 L436.09 422.68 L436.57 422.32 L437.05 421.89 L437.53 422.23 L438.01 422.4 L438.48 422.46 L438.96 422.47 L439.44 422.78 L439.92 422.49 L440.4 422.89 L440.87 422.48 L441.35 422.47 L441.83 422.5 L442.31 422.63 L442.79 421.89 L443.26 422.99 L443.74 422.22 L444.22 421.83 L444.7 422.39 L445.18 422.16 L445.65 422.2 L446.13 421.8 L446.61 421.94 L447.09 422.09 L447.56 421.93 L448.04 422.25 L448.52 422.82 L449 422.75 L449.48 422.53 L449.95 422.33 L450.43 422.36 L450.91 421.9 L451.39 421.84 L451.87 422.29 L452.34 422.46 L452.82 422.62 L453.3 422.59 L453.78 422 L454.26 422.11 L454.73 422.49 L455.21 422.74 L455.69 422.08 L456.17 422.4 L456.65 422.02 L457.12 422.36 L457.6 422.28 L458.08 422.26 L458.56 422.23 L459.04 421.99 L459.51 422.14 L459.99 422.31 L460.47 421.94 L460.95 422.09 L461.43 422.13 L461.9 422.04 L462.38 421.88 L462.86 422.28 L463.34 422.86 L463.82 422.4 L464.29 422.75 L464.77 422.45 L465.25 422.22 L465.73 422.2 L466.21 421.98 L466.68 422.61 L467.16 421.82 L467.64 421.84 L468.12 421.85 L468.6 421.91 L469.07 422.26 L469.55 421.81 L470.03 422.41 L470.51 422.65 L470.99 422.42 L471.46 422.3 L471.94 422.22 L472.42 422.17 L472.9 422.07 L473.38 422.34 L473.85 422.65 L474.33 422.23 L474.81 422.44 L475.29 423.15 L475.77 422.5 L476.24 422.78 L476.72 422.79 L477.2 422.18 L477.68 422.21 L478.16 423.05 L478.63 422.26 L479.11 422.04 L479.59 422.26 L480.07 422.09 L480.55 421.56 L481.02 421.98 L481.5 422.04 L481.98 422.05 L482.46 422.43 L482.94 421.99 L483.41 422.04 L483.89 422.22 L484.37 422.22 L484.85 422.16 L485.32 422.39 L485.8 421.46 L486.28 421.49 L486.76 421.63 L487.24 421.74 L487.71 421.55 L488.19 422.05 L488.67 421.88 L489.15 421.7 L489.63 421.97 L490.1 422.68 L490.58 422.23 L491.06 422.55 L491.54 422.17 L492.02 422.17 L492.49 423.2 L492.97 422.46 L493.45 422.08 L493.93 422.27 L494.41 421.91 L494.88 422.47 L495.36 422.17 L495.84 422.15 L496.32 421.81 L496.8 422.02 L497.27 421.74 L497.75 421.84 L498.23 421.79 L498.71 422.25 L499.19 421.95 L499.66 422.67 L500.14 422.08 L500.62 421.71 L501.1 422.21 L501.58 422.46 L502.05 422.15 L502.53 421.88 L503.01 422.5 L503.49 421.84 L503.97 421.74 L504.44 421.95 L504.92 422.09 L505.4 422.14 L505.88 421.7 L506.36 422.04 L506.83 421.25 L507.31 421.85 L507.79 421.95 L508.27 421.85 L508.75 422.25 L509.22 421.92 L509.7 421.73 L510.18 422.18 L510.66 422.54 L511.14 422.27 L511.61 422.23 L512.09 421.81 L512.57 421.52 L513.05 421.92 L513.53 422.04 L514 421.95 L514.48 421.79 L514.96 421.89 L515.44 421.5 L515.92 421.96 L516.39 421.72 L516.87 422.23 L517.35 422.3 L517.83 422.62 L518.31 422.11 L518.78 422.09 L519.26 421.94 L519.74 422.04 L520.22 422.38 L520.7 421.63 L521.17 421.94 L521.65 421.67 L522.13 421.72 L522.61 421.86 L523.09 422.31 L523.56 421.57 L524.04 421.99 L524.52 422.18 L525 421.16 L525.47 422.55 L525.95 422.01 L526.43 422.38 L526.91 422.04 L527.39 422.07 L527.86 421.87 L528.34 421.74 L528.82 422.07 L529.3 421.65 L529.78 421.87 L530.25 421.81 L530.73 421.6 L531.21 421.69 L531.69 422.08 L532.17 422.08 L532.64 422.21 L533.12 421.76 L533.6 422.16 L534.08 422.59 L534.56 422 L535.03 421.78 L535.51 422.21 L535.99 422.46 L536.47 422.19 L536.95 421.78 L537.42 421.76 L537.9 421.82 L538.38 421.93 L538.86 421.88 L539.34 421.32 L539.81 422.4 L540.29 421.66 L540.77 422.38 L541.25 421.9 L541.73 421.98 L542.2 422.21 L542.68 421.67 L543.16 421.83 L543.64 422.5 L544.12 422.05 L544.59 422.11 L545.07 422.1 L545.55 422.34" stroke="#000000" stroke-width="1.1" fill="none" stroke-linejoin="round"/></g><rect x="344.8" y="385.9" width="255.5" height="74.3" fill="none" stroke="#555" stroke-width="0.9"/><path d="M344.8 460.2 v-2.2 M344.8 385.9 v2.2" stroke="#666" stroke-width="0.7"/><text x="344.8" y="475.6" text-anchor="middle" style='font-family:"Liberation Sans",sans-serif;font-size:10.6px' fill="#333">0</text><path d="M381.3 460.2 v-2.2 M381.3 385.9 v2.2" stroke="#666" stroke-width="0.7"/><text x="381.3" y="475.6" text-anchor="middle" style='font-family:"Liberation Sans",sans-serif;font-size:10.6px' fill="#333">50</text><path d="M417.8 460.2 v-2.2 M417.8 385.9 v2.2" stroke="#666" stroke-width="0.7"/><text x="417.8" y="475.6" text-anchor="middle" style='font-family:"Liberation Sans",sans-serif;font-size:10.6px' fill="#333">100</text><path d="M454.3 460.2 v-2.2 M454.3 385.9 v2.2" stroke="#666" stroke-width="0.7"/><text x="454.3" y="475.6" text-anchor="middle" style='font-family:"Liberation Sans",sans-serif;font-size:10.6px' fill="#333">150</text><path d="M490.8 460.2 v-2.2 M490.8 385.9 v2.2" stroke="#666" stroke-width="0.7"/><text x="490.8" y="475.6" text-anchor="middle" style='font-family:"Liberation Sans",sans-serif;font-size:10.6px' fill="#333">200</text><path d="M527.3 460.2 v-2.2 M527.3 385.9 v2.2" stroke="#666" stroke-width="0.7"/><text x="527.3" y="475.6" text-anchor="middle" style='font-family:"Liberation Sans",sans-serif;font-size:10.6px' fill="#333">250</text><path d="M563.8 460.2 v-2.2 M563.8 385.9 v2.2" stroke="#666" stroke-width="0.7"/><text x="563.8" y="475.6" text-anchor="middle" style='font-family:"Liberation Sans",sans-serif;font-size:10.6px' fill="#333">300</text><path d="M600.3 460.2 v-2.2 M600.3 385.9 v2.2" stroke="#666" stroke-width="0.7"/><text x="600.3" y="475.6" text-anchor="middle" style='font-family:"Liberation Sans",sans-serif;font-size:10.6px' fill="#333">350</text><path d="M344.8 460.2 h2.2 M600.3 460.2 h-2.2" stroke="#666" stroke-width="0.7"/><text x="340.2" y="464.7" text-anchor="end" style='font-family:"Liberation Sans",sans-serif;font-size:10.6px' fill="#333">-5</text><path d="M344.8 423.05 h2.2 M600.3 423.05 h-2.2" stroke="#666" stroke-width="0.7"/><text x="340.2" y="427.55" text-anchor="end" style='font-family:"Liberation Sans",sans-serif;font-size:10.6px' fill="#333">0</text><path d="M344.8 385.9 h2.2 M600.3 385.9 h-2.2" stroke="#666" stroke-width="0.7"/><text x="340.2" y="390.4" text-anchor="end" style='font-family:"Liberation Sans",sans-serif;font-size:10.6px' fill="#333">5</text><text transform="translate(326.1,423.05) rotate(-90)" text-anchor="middle" style='font-family:"Liberation Sans",sans-serif;font-size:12.4px' fill="#333">Position[nm]</text><rect x="489.7" y="393.2" width="102.6" height="41" fill="#fff" stroke="#444" stroke-width="0.7"/><path d="M491.9 401.5 H509.3" stroke="#0000ff" stroke-width="0.9" stroke-opacity="0.6"/><text x="511.9" y="405.1" style='font-family:"Liberation Sans","Noto Serif CJK SC",serif;font-size:9.6px' fill="#444" textLength="26.4" lengthAdjust="spacingAndGlyphs">全频段</text><text x="538.5" y="405.4" style='font-family:"Liberation Sans",sans-serif;font-size:10.1px' fill="#2a2a2a">0.67849nm</text><path d="M491.9 414.75 H509.3" stroke="#ff0000" stroke-width="0.9" stroke-opacity="0.6"/><text x="511.9" y="418.35" style='font-family:"Liberation Sans","Noto Serif CJK SC",serif;font-size:9.6px' fill="#444" textLength="26.4" lengthAdjust="spacingAndGlyphs">高频段</text><text x="538.5" y="418.65" style='font-family:"Liberation Sans",sans-serif;font-size:10.1px' fill="#2a2a2a">0.66003nm</text><path d="M491.9 428 H509.3" stroke="#000" stroke-width="0.9" stroke-opacity="0.6"/><text x="511.9" y="431.6" style='font-family:"Liberation Sans","Noto Serif CJK SC",serif;font-size:9.6px' fill="#444" textLength="26.4" lengthAdjust="spacingAndGlyphs">低频段</text><text x="538.5" y="431.9" style='font-family:"Liberation Sans",sans-serif;font-size:10.1px' fill="#2a2a2a">0.15719nm</text></g><rect x="591" y="329.7" width="5" height="147.3" fill="url(#shl)"/><rect x="598" y="323.7" width="314" height="4" fill="url(#sht)"/><clipPath id="w263"><rect x="596" y="327.7" width="314" height="147.3"/></clipPath><g clip-path="url(#w263)"><rect x="596" y="327.7" width="314" height="147.3" fill="#f0f0f0"/><rect x="596" y="327.7" width="314" height="31.6" fill="#fff"/><path d="M596 359.5 H910" stroke="#e2e2e2" stroke-width="0.8"/><rect x="596" y="359.9" width="314" height="15.3" fill="#f2f2f2"/><path d="M596 375.5 H910" stroke="#dcdcdc" stroke-width="0.8"/><g transform="translate(600.3,332)"><rect x="0.4" y="0.4" width="8.8" height="9" fill="#f6f7fa" stroke="#a0aac0" stroke-width="0.8"/><rect x="0.4" y="0.4" width="8.8" height="1.3" fill="#7f98c8"/><path d="M1.2 7 L5.4 2.4 L8.2 8 L6.4 6.8 Z" fill="#e06a1c"/><path d="M1.2 7 L3.6 4.4 L4.8 6.8 L3 7.6 Z" fill="#2f6db5"/><path d="M5.4 2.4 L8.2 8 L6.2 4.8 Z" fill="#b83a10"/></g><text x="611.8" y="339.4" style='font-family:"Liberation Sans","Noto Sans CJK SC",sans-serif;font-size:8.5px' fill="#000" stroke="#000" stroke-width="0.25" textLength="27.6" lengthAdjust="spacingAndGlyphs">Figure 9</text><path d="M828.6 336 H833.8" stroke="#111" stroke-width="0.8"/><rect x="855.2" y="333.3" width="5.6" height="5.6" fill="none" stroke="#111" stroke-width="0.8"/><path d="M883.2 333.3 l5.6 5.6 M888.8 333.3 l-5.6 5.6" stroke="#111" stroke-width="0.8"/><text x="599.8" y="354.4" style='font-family:"Liberation Sans","Noto Sans CJK SC",sans-serif;font-size:7.6px' fill="#1a1a1a" stroke="#1a1a1a" stroke-width="0.15" textLength="22.1" lengthAdjust="spacingAndGlyphs">文件(F)</text><text x="630" y="354.4" style='font-family:"Liberation Sans","Noto Sans CJK SC",sans-serif;font-size:7.6px' fill="#1a1a1a" stroke="#1a1a1a" stroke-width="0.15" textLength="22.6" lengthAdjust="spacingAndGlyphs">编辑(E)</text><text x="660.7" y="354.4" style='font-family:"Liberation Sans","Noto Sans CJK SC",sans-serif;font-size:7.6px' fill="#1a1a1a" stroke="#1a1a1a" stroke-width="0.15" textLength="22.9" lengthAdjust="spacingAndGlyphs">查看(V)</text><text x="691.7" y="354.4" style='font-family:"Liberation Sans","Noto Sans CJK SC",sans-serif;font-size:7.6px' fill="#1a1a1a" stroke="#1a1a1a" stroke-width="0.15" textLength="20.9" lengthAdjust="spacingAndGlyphs">插入(I)</text><text x="720.5" y="354.4" style='font-family:"Liberation Sans","Noto Sans CJK SC",sans-serif;font-size:7.6px' fill="#1a1a1a" stroke="#1a1a1a" stroke-width="0.15" textLength="22.6" lengthAdjust="spacingAndGlyphs">工具(T)</text><text x="750.8" y="354.4" style='font-family:"Liberation Sans","Noto Sans CJK SC",sans-serif;font-size:7.6px' fill="#1a1a1a" stroke="#1a1a1a" stroke-width="0.15" textLength="23.3" lengthAdjust="spacingAndGlyphs">桌面(D)</text><text x="782.2" y="354.4" style='font-family:"Liberation Sans","Noto Sans CJK SC",sans-serif;font-size:7.6px' fill="#1a1a1a" stroke="#1a1a1a" stroke-width="0.15" textLength="25" lengthAdjust="spacingAndGlyphs">窗口(W)</text><text x="815.2" y="354.4" style='font-family:"Liberation Sans","Noto Sans CJK SC",sans-serif;font-size:7.6px' fill="#1a1a1a" stroke="#1a1a1a" stroke-width="0.15" textLength="24.2" lengthAdjust="spacingAndGlyphs">帮助(H)</text><g transform="translate(598.1,362.4)"><path d="M1 0.5 H6 L8.3 2.8 V8.6 H1 Z" fill="#fdfdff" stroke="#7d8fb0" stroke-width="0.8"/><path d="M6 0.5 V2.8 H8.3" fill="#dfe6f2" stroke="#7d8fb0" stroke-width="0.6"/><rect x="0.2" y="0" width="2.6" height="2.6" fill="#f08040"/></g><g transform="translate(610.5,362.4)"><path d="M0.5 2 H3.5 L4.3 3 H8 V8.3 H0.5 Z" fill="#d9a92c"/><path d="M0.5 8.3 L2 4.3 H9 L7.8 8.3 Z" fill="#f6d56b" stroke="#c89a28" stroke-width="0.5"/><path d="M6 0.8 L8.2 0.8 L8.2 2.6" stroke="#6a8ac0" stroke-width="0.7" fill="none"/></g><g transform="translate(624.1,362.4)"><rect x="0.4" y="0.4" width="8.4" height="8.4" rx="0.6" fill="#3b4fb0"/><rect x="2" y="0.6" width="5" height="3.4" fill="#e8ecf8"/><rect x="2.6" y="5.6" width="3.8" height="3" fill="#1e2a70"/><rect x="4.4" y="6" width="1.2" height="1.8" fill="#dfe4f0"/></g><g transform="translate(637,362.4)"><rect x="2.4" y="0.4" width="4.4" height="3.6" fill="#f4f6fa" stroke="#9aa4b8" stroke-width="0.5"/><path d="M0.4 4.2 Q0.4 3 1.6 3 H7.4 Q8.6 3 8.6 4.2 V7.4 H0.4 Z" fill="#b4b6bc"/><rect x="1.8" y="6" width="5.4" height="2.7" fill="#e6e7ea" stroke="#8c8e94" stroke-width="0.4"/></g><g transform="translate(654.7,362.4)"><path d="M2.3 0.6 L2.3 7.6 L4 6 L5.4 8.8 L6.4 8.3 L5 5.6 L7.3 5.4 Z" fill="#fff" stroke="#333" stroke-width="0.7"/></g><g transform="translate(670.8,362.4)"><path d="M5.2 5.2 L8.6 8.6" stroke="#e09a40" stroke-width="2" stroke-linecap="round"/><circle cx="3.6" cy="3.6" r="3" fill="#dcecfb" stroke="#7a9ad0" stroke-width="0.9"/><path d="M2.2 3.6 H5 M3.6 2.2 V5" stroke="#4a78c0" stroke-width="0.8"/></g><g transform="translate(683.8,362.4)"><path d="M5.2 5.2 L8.6 8.6" stroke="#e09a40" stroke-width="2" stroke-linecap="round"/><circle cx="3.6" cy="3.6" r="3" fill="#dcecfb" stroke="#7a9ad0" stroke-width="0.9"/><path d="M2.2 3.6 H5" stroke="#4a78c0" stroke-width="0.8"/></g><g transform="translate(695.9,361.9)"><path d="M1.2 5.2 Q0.4 3.6 1.8 3.4 L2.8 4.4 V2 Q3.4 0.6 4.4 1.4 V0.9 Q5.2 0 6 0.9 V1.4 Q7 0.8 7.6 1.8 V3.2 Q8.8 2.8 9.2 3.8 L8.8 6.6 Q8.2 9.8 5.2 9.8 Q2.8 9.8 1.2 5.2 Z" fill="#f7d8bc" stroke="#7f93c6" stroke-width="0.7"/><path d="M3 2.2 V5 M4.5 1.2 V4.6 M6 1.2 V4.6 M7.5 2 V5" stroke="#9fb0d8" stroke-width="0.5"/></g><g transform="translate(709.3,361.9)"><path d="M1.6 3.2 A4 4 0 1 1 1.4 6.6" fill="none" stroke="#3a5490" stroke-width="1.8"/><circle cx="5.2" cy="5" r="2.2" fill="#b8c4dc"/><path d="M4.4 3.8 V6.2 M5.4 3.6 V6.4" stroke="#7f8fb8" stroke-width="0.5"/><path d="M0 4.6 L3 4.2 L2 6.6 Z" fill="#fff" stroke="#9aa" stroke-width="0.3"/></g><g transform="translate(721.9,361.9)"><rect x="4" y="0" width="6" height="5.8" fill="#e6e4a4" stroke="#a8a470" stroke-width="0.5"/><rect x="5" y="1" width="4" height="3.8" fill="#dddb9a"/><path d="M0.4 1.6 L9.4 9.4" stroke="#8080ff" stroke-width="1.2"/><path d="M5 5.6 L1.2 6.4 L2.6 7.4 L1 9.2" stroke="#111" stroke-width="1.4" fill="none"/></g><g transform="translate(735.8,361.9)"><path d="M9.4 0.4 L4.2 6" stroke="#8c94cc" stroke-width="1.9" stroke-linecap="round"/><path d="M0.6 9.6 Q0.4 6.6 3 5.6 L4.4 7 Q3.8 9.6 0.6 9.6 Z" fill="#3a3a3a"/><circle cx="7.6" cy="8.2" r="1.5" fill="#ee0000"/></g><path d="M749.6 366.3 h2.4 l-1.2 1.3 z" fill="#333"/><g transform="translate(758.6,362.4)"><rect x="0.4" y="0.6" width="7.8" height="6.4" rx="1" fill="#dde4f0" stroke="#4a5f95" stroke-width="0.9"/><rect x="1.8" y="3.2" width="3.2" height="2.2" fill="#7d8fb8"/><rect x="3" y="6.6" width="5.8" height="2.2" rx="0.6" fill="#8596bd" stroke="#4a5f95" stroke-width="0.5"/></g><rect x="787.2" y="359.9" width="13" height="14" fill="#cce4f7"/><g transform="translate(776.1,362.4)"><rect x="2.3" y="0.4" width="4.6" height="8.4" rx="0.6" fill="url(#cbg)" stroke="#4f5f8f" stroke-width="0.8"/></g><g transform="translate(789,362.4)"><rect x="0.4" y="0.4" width="8.4" height="8.4" fill="#f4f6fb" stroke="#5a6a9a" stroke-width="0.8"/><rect x="1.5" y="2" width="2.4" height="1.8" fill="#e83a3a"/><rect x="1.5" y="5.4" width="2.4" height="1.8" fill="#3a4ae8"/><path d="M4.6 2.9 H7.6 M4.6 6.3 H7.6" stroke="#6a7aa8" stroke-width="0.9"/></g><rect x="807.5" y="363.9" width="6" height="6" rx="0.8" fill="#909090" stroke="#777" stroke-width="0.4"/><g transform="translate(818.8,362.4)"><rect x="0.4" y="0.4" width="8.4" height="8.4" rx="0.6" fill="#4a64a0"/><rect x="1.8" y="2.2" width="5.6" height="4.4" fill="#f4f6fb"/></g><path d="M649.8 359.9 V373.9" stroke="#d6d6d6" stroke-width="0.8"/><path d="M666.1 359.9 V373.9" stroke="#d6d6d6" stroke-width="0.8"/><path d="M755.5 359.9 V373.9" stroke="#d6d6d6" stroke-width="0.8"/><path d="M772 359.9 V373.9" stroke="#d6d6d6" stroke-width="0.8"/><path d="M802.5 359.9 V373.9" stroke="#d6d6d6" stroke-width="0.8"/><path d="M596.5 475 V328.2" stroke="#b4b4b4" stroke-width="1" fill="none"/><path d="M596 328.2 H910" stroke="#c8c8c8" stroke-width="1" fill="none"/><clipPath id="a288"><rect x="636.1" y="384.1" width="234.7" height="68.8"/></clipPath><rect x="636.1" y="384.1" width="234.7" height="68.8" fill="#fff"/><g clip-path="url(#a288)"><path d="M636.5 406.51 L637.5 406.18 L638.5 406.12 L639.5 406.15 L640.5 405.93 L641.5 406.15 L642.5 406.43 L643.5 406.11 L644.5 406.1 L645.5 406.28 L646.5 405.92 L647.5 405.51 L648.5 406.47 L649.5 405.36 L650.5 406.48 L651.5 406.2 L652.5 406.08 L653.5 406.27 L654.5 406.17 L655.5 406.02 L656.5 406.11 L657.5 406.12 L658.5 406.49 L659.5 406 L660.5 405.52 L661.5 405.75 L662.5 405.65 L663.5 405.74 L664.5 405.74 L665.5 406.11 L666.5 406.15 L667.5 406.44 L668.5 405.28 L669.5 406.31 L670.5 405.8 L671.5 406.1 L672.5 406.47 L673.5 405.87 L674.5 406.52 L675.5 405.81 L676.5 406.07 L677.5 405.81 L678.5 406.14 L679.5 406.52 L680.5 406.41 L681.5 404.85 L682.5 406.1 L683.5 406.19 L684.5 406.33 L685.5 406.46 L686.5 406.41 L687.5 406.34 L688.5 406.36 L689.5 406.02 L690.5 405.39 L691.5 405.82 L692.5 406.11 L693.5 406.35 L694.5 406.39 L695.5 406.22 L696.5 406.16 L697.5 406.47 L698.5 406.34 L699.5 405.8 L700.5 405.99 L701.5 406.27 L702.5 406.25 L703.5 405.13 L704.5 406.34 L705.5 405.99 L706.5 406.37 L707.5 406.21 L708.5 405.89 L709.5 405.71 L710.5 405.31 L711.5 406.15 L712.5 406.33 L713.5 405.47 L714.5 406.38 L715.5 405.16 L716.5 406.43 L717.5 406.18 L718.5 405.6 L719.5 406.4 L720.5 406.21 L721.5 406.52 L722.5 406.06 L723.5 406.03 L724.5 405.59 L725.5 406.46 L726.5 406.46 L727.5 406.38 L728.5 406.23 L729.5 406.44 L730.5 406.12 L731.5 405.77 L732.5 406.32 L733.5 406.2 L734.5 406.23 L735.5 406.4 L736.5 406.35 L737.5 406.2 L738.5 405.9 L739.5 406.06 L740.5 406.23 L741.5 405.9 L742.5 406.43 L743.5 406 L744.5 406.45 L745.5 406.31 L746.5 405.84 L747.5 406.16 L748.5 406.41 L749.5 406.48 L750.5 406.19 L751.5 405.67 L752.5 406.4 L753.5 406.19 L754.5 405.77 L755.5 406.35 L756.5 406.35 L757.5 406.35 L758.5 405.67 L759.5 406.21 L760.5 405.9 L761.5 405.37 L762.5 405.84 L763.5 405.57 L764.5 406.26 L765.5 406.29 L766.5 405.24 L767.5 406.44 L768.5 405.7 L769.5 405.91 L770.5 406.06 L771.5 405.67 L772.5 405.83 L773.5 406.36 L774.5 405.72 L775.5 406.4 L776.5 406.4 L777.5 406.37 L778.5 406.06 L779.5 406.42 L780.5 405.54 L781.5 406.23 L782.5 406.22 L783.5 406.37 L784.5 406.23 L785.5 406.42 L786.5 406.42 L787.5 405.62 L788.5 406.26 L789.5 406.39 L790.5 406.09 L791.5 406.14 L792.5 405.88 L793.5 406.08 L794.5 406.15 L795.5 406.51 L796.5 406.51 L796.5 415.06 L795.5 415.06 L794.5 415.06 L793.5 415.06 L792.5 415.06 L791.5 415.06 L790.5 415.06 L789.5 415.06 L788.5 415.06 L787.5 415.06 L786.5 415.06 L785.5 415.06 L784.5 415.06 L783.5 415.06 L782.5 415.06 L781.5 415.06 L780.5 415.06 L779.5 415.06 L778.5 415.06 L777.5 415.06 L776.5 415.06 L775.5 415.06 L774.5 415.06 L773.5 415.06 L772.5 415.06 L771.5 415.06 L770.5 415.06 L769.5 415.06 L768.5 415.06 L767.5 415.06 L766.5 415.06 L765.5 415.06 L764.5 415.06 L763.5 415.06 L762.5 415.06 L761.5 415.06 L760.5 415.06 L759.5 415.06 L758.5 415.06 L757.5 415.06 L756.5 415.06 L755.5 415.06 L754.5 415.06 L753.5 415.06 L752.5 415.06 L751.5 415.06 L750.5 415.06 L749.5 415.06 L748.5 415.06 L747.5 415.06 L746.5 415.06 L745.5 415.06 L744.5 415.06 L743.5 415.06 L742.5 415.06 L741.5 415.06 L740.5 415.06 L739.5 415.06 L738.5 415.06 L737.5 415.06 L736.5 415.06 L735.5 415.06 L734.5 415.06 L733.5 415.06 L732.5 415.06 L731.5 415.06 L730.5 415.06 L729.5 415.06 L728.5 415.06 L727.5 415.06 L726.5 415.06 L725.5 415.06 L724.5 415.06 L723.5 415.06 L722.5 415.06 L721.5 415.06 L720.5 415.06 L719.5 415.06 L718.5 415.06 L717.5 415.06 L716.5 415.06 L715.5 415.06 L714.5 415.06 L713.5 415.06 L712.5 415.06 L711.5 415.06 L710.5 415.06 L709.5 415.06 L708.5 415.06 L707.5 415.06 L706.5 415.06 L705.5 415.06 L704.5 415.06 L703.5 415.06 L702.5 415.06 L701.5 415.06 L700.5 415.06 L699.5 415.06 L698.5 415.06 L697.5 415.06 L696.5 415.06 L695.5 415.06 L694.5 415.06 L693.5 415.06 L692.5 415.06 L691.5 415.06 L690.5 415.06 L689.5 415.06 L688.5 415.06 L687.5 415.06 L686.5 415.06 L685.5 415.06 L684.5 415.06 L683.5 415.06 L682.5 415.06 L681.5 415.06 L680.5 415.06 L679.5 415.06 L678.5 415.06 L677.5 415.06 L676.5 415.06 L675.5 415.06 L674.5 415.06 L673.5 415.06 L672.5 415.06 L671.5 415.06 L670.5 415.06 L669.5 415.06 L668.5 415.06 L667.5 415.06 L666.5 415.06 L665.5 415.06 L664.5 415.06 L663.5 415.06 L662.5 415.06 L661.5 415.06 L660.5 415.06 L659.5 415.06 L658.5 415.06 L657.5 415.06 L656.5 415.06 L655.5 415.06 L654.5 415.06 L653.5 415.06 L652.5 415.06 L651.5 415.06 L650.5 415.06 L649.5 415.06 L648.5 415.06 L647.5 415.06 L646.5 415.06 L645.5 415.06 L644.5 415.06 L643.5 415.06 L642.5 415.06 L641.5 415.06 L640.5 415.06 L639.5 415.06 L638.5 415.06 L637.5 415.06 L636.5 415.06Z" fill="#0000ff"/><path d="M637.5 402.96V407.49M638.5 404.31V407.49M639.5 404.43V407.49M646.5 404.65V407.49M654.5 403.15V407.49M656.5 402.9V407.49M657.5 404.01V407.49M659.5 403.63V407.49M660.5 404.73V407.49M661.5 403.54V407.49M667.5 404.39V407.49M670.5 404.12V407.49M675.5 404.48V407.49M677.5 404.05V407.49M686.5 403.6V407.49M687.5 404.5V407.49M688.5 404.03V407.49M693.5 403.81V407.49M695.5 403.59V407.49M701.5 404.47V407.49M705.5 404.32V407.49M706.5 404.48V407.49M707.5 404.65V407.49M724.5 404.02V407.49M726.5 404.23V407.49M729.5 402.39V407.49M731.5 404.45V407.49M732.5 403.29V407.49M733.5 404.23V407.49M738.5 403.91V407.49M742.5 404.48V407.49M754.5 404.4V407.49M757.5 403.55V407.49M764.5 404V407.49M772.5 404.24V407.49M777.5 403.47V407.49M783.5 404.09V407.49M785.5 403.91V407.49M786.5 404.12V407.49M793.5 404.64V407.49M794.5 402.26V407.49" stroke="#0000ff" stroke-width="0.8" stroke-opacity="0.7" fill="none"/><path d="M636.5 409.24 L637.5 408.34 L638.5 409.08 L639.5 408.88 L640.5 409.05 L641.5 408.97 L642.5 408.88 L643.5 409.25 L644.5 408.98 L645.5 409.44 L646.5 408.94 L647.5 408.82 L648.5 409.23 L649.5 409.52 L650.5 408.85 L651.5 408.98 L652.5 409.45 L653.5 409.25 L654.5 409.53 L655.5 409.51 L656.5 409.35 L657.5 409.24 L658.5 409.36 L659.5 409.43 L660.5 409.1 L661.5 409.32 L662.5 409.26 L663.5 409.18 L664.5 409.39 L665.5 409.4 L666.5 408.86 L667.5 408.98 L668.5 409.28 L669.5 409.2 L670.5 408.74 L671.5 409.29 L672.5 409.37 L673.5 409.28 L674.5 408.79 L675.5 408.85 L676.5 409.45 L677.5 409.52 L678.5 409.32 L679.5 409.53 L680.5 409.37 L681.5 409.42 L682.5 409.35 L683.5 409.25 L684.5 409.08 L685.5 409.39 L686.5 409.44 L687.5 408.92 L688.5 409.17 L689.5 409.22 L690.5 409.16 L691.5 409.38 L692.5 408.91 L693.5 409.32 L694.5 409.16 L695.5 409.3 L696.5 409.4 L697.5 408.97 L698.5 409.44 L699.5 409.48 L700.5 409.3 L701.5 409.26 L702.5 409.27 L703.5 409.49 L704.5 409.19 L705.5 409.46 L706.5 409.41 L707.5 409.38 L708.5 409.34 L709.5 409.1 L710.5 409.01 L711.5 409.08 L712.5 409.3 L713.5 408.85 L714.5 409.46 L715.5 409.44 L716.5 409.46 L717.5 409.03 L718.5 408.85 L719.5 408.94 L720.5 408.62 L721.5 409.5 L722.5 409.21 L723.5 409.39 L724.5 409.16 L725.5 409.46 L726.5 409.18 L727.5 409.5 L728.5 409.51 L729.5 409.06 L730.5 409.12 L731.5 409.48 L732.5 409.4 L733.5 408.86 L734.5 409.51 L735.5 409.29 L736.5 409.38 L737.5 409.5 L738.5 409.11 L739.5 408.76 L740.5 409.43 L741.5 408.94 L742.5 409.37 L743.5 409.33 L744.5 409.15 L745.5 408.78 L746.5 409.17 L747.5 409.11 L748.5 409.21 L749.5 409.37 L750.5 409.47 L751.5 409.54 L752.5 409.26 L753.5 409.1 L754.5 409.02 L755.5 409.4 L756.5 409.42 L757.5 408.88 L758.5 409.18 L759.5 409.38 L760.5 409.27 L761.5 409.17 L762.5 409.33 L763.5 409.1 L764.5 408.54 L765.5 409.09 L766.5 409.46 L767.5 409.31 L768.5 408.5 L769.5 409.22 L770.5 409.23 L771.5 409.45 L772.5 409.25 L773.5 408.98 L774.5 409.01 L775.5 408.97 L776.5 409.54 L777.5 409.43 L778.5 409.43 L779.5 409.19 L780.5 409.21 L781.5 408.78 L782.5 408.84 L783.5 409.46 L784.5 408.74 L785.5 409.42 L786.5 409.29 L787.5 409.15 L788.5 409.24 L789.5 409.29 L790.5 409.23 L791.5 409.3 L792.5 409.49 L793.5 409.53 L794.5 409.19 L795.5 409.4 L796.5 409.37 L796.5 426.33 L795.5 425.87 L794.5 425.45 L793.5 426.11 L792.5 425.55 L791.5 425.56 L790.5 425.46 L789.5 425.95 L788.5 426.65 L787.5 426.26 L786.5 426.6 L785.5 426.32 L784.5 425.59 L783.5 426.22 L782.5 425.66 L781.5 425.71 L780.5 425.67 L779.5 425.91 L778.5 426.76 L777.5 425.94 L776.5 425.71 L775.5 425.99 L774.5 426.02 L773.5 425.62 L772.5 426.34 L771.5 426.21 L770.5 425.6 L769.5 426.17 L768.5 426.87 L767.5 426.66 L766.5 425.82 L765.5 425.74 L764.5 425.42 L763.5 425.75 L762.5 426.12 L761.5 426.07 L760.5 425.95 L759.5 426.05 L758.5 425.57 L757.5 425.54 L756.5 425.92 L755.5 425.66 L754.5 425.87 L753.5 425.91 L752.5 425.84 L751.5 426.78 L750.5 426.18 L749.5 426.03 L748.5 425.63 L747.5 425.68 L746.5 425.98 L745.5 425.66 L744.5 425.54 L743.5 425.81 L742.5 425.53 L741.5 426.29 L740.5 425.49 L739.5 425.47 L738.5 425.52 L737.5 425.5 L736.5 426.09 L735.5 426.45 L734.5 425.45 L733.5 425.44 L732.5 426.62 L731.5 425.59 L730.5 425.81 L729.5 426.38 L728.5 426.56 L727.5 426.03 L726.5 426.63 L725.5 425.78 L724.5 425.85 L723.5 425.9 L722.5 426.03 L721.5 425.89 L720.5 425.59 L719.5 426.09 L718.5 426.08 L717.5 425.58 L716.5 425.65 L715.5 426.3 L714.5 425.98 L713.5 425.56 L712.5 425.69 L711.5 425.95 L710.5 425.97 L709.5 425.47 L708.5 425.39 L707.5 425.44 L706.5 425.47 L705.5 425.87 L704.5 425.83 L703.5 425.65 L702.5 426.11 L701.5 425.9 L700.5 425.43 L699.5 425.96 L698.5 425.55 L697.5 425.77 L696.5 426.41 L695.5 425.79 L694.5 425.99 L693.5 427.59 L692.5 425.51 L691.5 426.2 L690.5 425.72 L689.5 425.39 L688.5 425.79 L687.5 425.71 L686.5 425.75 L685.5 425.7 L684.5 425.61 L683.5 426 L682.5 425.7 L681.5 426.57 L680.5 426.5 L679.5 425.47 L678.5 425.54 L677.5 426 L676.5 425.47 L675.5 425.62 L674.5 426.05 L673.5 425.55 L672.5 426.08 L671.5 425.83 L670.5 425.58 L669.5 425.58 L668.5 425.79 L667.5 426.24 L666.5 425.57 L665.5 425.47 L664.5 425.43 L663.5 426.3 L662.5 426.59 L661.5 426.1 L660.5 426.55 L659.5 425.84 L658.5 426.04 L657.5 425.87 L656.5 425.58 L655.5 425.92 L654.5 425.9 L653.5 425.76 L652.5 425.43 L651.5 426.65 L650.5 426.01 L649.5 425.92 L648.5 425.47 L647.5 426.05 L646.5 426.42 L645.5 426.23 L644.5 425.41 L643.5 426.11 L642.5 425.71 L641.5 427.13 L640.5 425.58 L639.5 426.13 L638.5 425.45 L637.5 425.87 L636.5 426Z" fill="#ff0000"/><path d="M636.5 424V428.45M638.5 424V430.81M639.5 424V429.96M641.5 424V428.55M644.5 424V429.74M647.5 424V428.4M649.5 424V428.35M657.5 424V427.68M659.5 424V429.34M662.5 424V429M664.5 424V428.02M665.5 424V428.02M673.5 424V428.96M674.5 424V428.05M677.5 424V431.01M683.5 424V429.12M684.5 424V427.74M685.5 424V428.46M695.5 424V428.78M697.5 424V427.7M701.5 424V428.4M702.5 424V428.19M704.5 424V427.77M705.5 424V429.21M707.5 424V429.25M711.5 424V428.74M712.5 424V427.52M715.5 424V427.58M719.5 424V428.61M721.5 424V429.98M722.5 424V428.41M723.5 424V429.15M726.5 424V428.44M730.5 424V428.51M734.5 424V428.6M737.5 424V429.45M739.5 424V427.63M741.5 424V427.6M742.5 424V428.43M743.5 424V427.82M744.5 424V427.7M746.5 424V428.65M749.5 424V429.43M757.5 424V429.71M761.5 424V430.14M762.5 424V429.05M764.5 424V428.65M775.5 424V427.61M777.5 424V428.62M780.5 424V428.76M781.5 424V430.5M782.5 424V427.67M784.5 424V428.56M787.5 424V428.09M789.5 424V428.39M790.5 424V428.37M793.5 424V428.19M795.5 424V428.54M796.5 424V428.76" stroke="#ff0000" stroke-width="0.8" stroke-opacity="0.7" fill="none"/><path d="M739.5 388.23V443.96" stroke="#ff0000" stroke-width="0.9" stroke-opacity="0.75" fill="none"/><path d="M739.5 388.23V391.67" stroke="#0000ff" stroke-width="0.9" stroke-opacity="0.75" fill="none"/><path d="M752.5 399.24V437.08" stroke="#ff0000" stroke-width="0.9" stroke-opacity="0.7" fill="none"/><path d="M752.5 399.24V403.36" stroke="#0000ff" stroke-width="0.9" stroke-opacity="0.7" fill="none"/><path d="M796.5 425.38V436.39" stroke="#ff0000" stroke-width="0.9" stroke-opacity="0.7" fill="none"/><path d="M636.1 416.76 L636.48 416.92 L636.87 416.95 L637.25 416.45 L637.64 416.74 L638.02 416.83 L638.41 416.2 L638.79 416.83 L639.17 416.85 L639.56 416.72 L639.94 416.39 L640.33 417.13 L640.71 416.41 L641.09 416.63 L641.48 416.92 L641.86 417.02 L642.25 417.27 L642.63 417.01 L643.02 416.81 L643.4 416.97 L643.78 417.1 L644.17 416.82 L644.55 416.75 L644.94 417.13 L645.32 417.13 L645.7 416.28 L646.09 416.73 L646.47 416.84 L646.86 416.44 L647.24 416.91 L647.63 416.61 L648.01 416.79 L648.39 416.65 L648.78 417.02 L649.16 416.57 L649.55 416.82 L649.93 416.9 L650.31 417.03 L650.7 416.7 L651.08 416.51 L651.47 416.77 L651.85 417.06 L652.24 416.57 L652.62 416.71 L653 416.38 L653.39 416.83 L653.77 417.12 L654.16 416.58 L654.54 416.88 L654.92 416.86 L655.31 416.91 L655.69 416.97 L656.08 416.44 L656.46 416.54 L656.85 416.45 L657.23 416.39 L657.61 416.95 L658 416.95 L658.38 416.38 L658.77 416.97 L659.15 416.66 L659.54 416.53 L659.92 416.65 L660.3 416.5 L660.69 416.57 L661.07 416.61 L661.46 416.69 L661.84 416.48 L662.22 416.9 L662.61 416.66 L662.99 416.92 L663.38 416.9 L663.76 416.58 L664.15 416.79 L664.53 416.54 L664.91 416.72 L665.3 416.52 L665.68 416.47 L666.07 416.35 L666.45 416.54 L666.83 416.45 L667.22 416.88 L667.6 416.53 L667.99 416.4 L668.37 416.49 L668.76 416.39 L669.14 416.53 L669.52 416.67 L669.91 416.27 L670.29 416.34 L670.68 416.42 L671.06 416.58 L671.44 416.48 L671.83 416.29 L672.21 416.15 L672.6 416.32 L672.98 416.32 L673.37 416.47 L673.75 416.66 L674.13 416.12 L674.52 416.84 L674.9 416.51 L675.29 416.44 L675.67 416.02 L676.05 416.12 L676.44 416.36 L676.82 416.5 L677.21 416.35 L677.59 416.43 L677.98 416.33 L678.36 416.01 L678.74 416.1 L679.13 415.99 L679.51 415.89 L679.9 416.02 L680.28 415.92 L680.67 415.84 L681.05 416.15 L681.43 416.08 L681.82 416.14 L682.2 416.27 L682.59 415.92 L682.97 416.09 L683.35 416.02 L683.74 415.9 L684.12 416.1 L684.51 416.47 L684.89 416.48 L685.28 416.45 L685.66 416.26 L686.04 416.41 L686.43 416.09 L686.81 416.3 L687.2 416.19 L687.58 415.9 L687.96 415.93 L688.35 416.43 L688.73 415.93 L689.12 416.09 L689.5 416.34 L689.89 416.26 L690.27 416.43 L690.65 416.07 L691.04 416.31 L691.42 416.4 L691.81 416.38 L692.19 416.22 L692.57 416.27 L692.96 416.36 L693.34 416.13 L693.73 416.24 L694.11 415.78 L694.5 415.94 L694.88 415.98 L695.26 415.94 L695.65 415.76 L696.03 415.73 L696.42 416.18 L696.8 416.17 L697.18 415.83 L697.57 415.79 L697.95 415.9 L698.34 416.42 L698.72 416.3 L699.11 416.21 L699.49 416.22 L699.87 415.88 L700.26 415.51 L700.64 415.9 L701.03 416.08 L701.41 415.85 L701.8 415.84 L702.18 415.78 L702.56 415.88 L702.95 415.89 L703.33 416.24 L703.72 415.66 L704.1 416.19 L704.48 416.02 L704.87 416.36 L705.25 415.93 L705.64 416.15 L706.02 415.9 L706.41 415.91 L706.79 415.85 L707.17 415.72 L707.56 415.5 L707.94 416.06 L708.33 416 L708.71 415.7 L709.09 415.67 L709.48 415.64 L709.86 415.65 L710.25 416.11 L710.63 415.69 L711.02 415.88 L711.4 415.76 L711.78 415.79 L712.17 415.74 L712.55 415.93 L712.94 415.68 L713.32 416.05 L713.7 415.81 L714.09 415.58 L714.47 416.04 L714.86 415.89 L715.24 415.82 L715.63 416.03 L716.01 415.4 L716.39 416 L716.78 415.82 L717.16 416.17 L717.55 415.49 L717.93 415.49 L718.31 415.88 L718.7 415.61 L719.08 416 L719.47 415.89 L719.85 415.9 L720.24 415.63 L720.62 415.68 L721 416.03 L721.39 416.05 L721.77 416.07 L722.16 416.23 L722.54 415.75 L722.93 415.64 L723.31 415.71 L723.69 415.64 L724.08 415.47 L724.46 415.57 L724.85 415.51 L725.23 415.8 L725.61 415.51 L726 415.63 L726.38 415.58 L726.77 415.65 L727.15 415.7 L727.54 415.76 L727.92 415.48 L728.3 415.31 L728.69 415.38 L729.07 415.93 L729.46 415.78 L729.84 415.65 L730.22 415.72 L730.61 415.63 L730.99 416.07 L731.38 415.6 L731.76 415.42 L732.15 415.46 L732.53 415.48 L732.91 414.99 L733.3 415.54 L733.68 415.28 L734.07 415.16 L734.45 415.2 L734.83 415.15 L735.22 415.37 L735.6 415.53 L735.99 415.39 L736.37 415.67 L736.76 415 L737.14 415.39 L737.52 415.24 L737.91 415.6 L738.29 415.44 L738.68 415.13 L739.06 415.54 L739.44 415.32 L739.83 415.64 L740.21 415.43 L740.6 415.46 L740.98 415.65 L741.37 415.55 L741.75 415.53 L742.13 416.05 L742.52 415.84 L742.9 415.92 L743.29 415.57 L743.67 415.32 L744.06 415.34 L744.44 415.06 L744.82 415.1 L745.21 415.42 L745.59 415.19 L745.98 415.4 L746.36 415.06 L746.74 415.13 L747.13 415.32 L747.51 415.34 L747.9 415.34 L748.28 415.86 L748.67 415.53 L749.05 415.58 L749.43 415.42 L749.82 415.7 L750.2 415.25 L750.59 415.77 L750.97 415.81 L751.35 415.47 L751.74 415.63 L752.12 415.33 L752.51 415.23 L752.89 415.54 L753.28 415.28 L753.66 415.02 L754.04 415.17 L754.43 414.94 L754.81 415.49 L755.2 415.08 L755.58 415.41 L755.96 414.88 L756.35 415.55 L756.73 415.36 L757.12 415.44 L757.5 415.31 L757.89 415.55 L758.27 415.13 L758.65 415.44 L759.04 415.7 L759.42 415.44 L759.81 415.3 L760.19 415.41 L760.57 415.35 L760.96 415.23 L761.34 415.35 L761.73 415.5 L762.11 415.55 L762.5 415.34 L762.88 415.39 L763.26 415.28 L763.65 414.78 L764.03 415.56 L764.42 415.27 L764.8 415.24 L765.18 415.58 L765.57 415.05 L765.95 415.5 L766.34 415.21 L766.72 415.3 L767.11 415.37 L767.49 414.96 L767.87 415.63 L768.26 415.59 L768.64 415.2 L769.03 414.79 L769.41 415 L769.8 415.06 L770.18 414.58 L770.56 415.09 L770.95 415.43 L771.33 414.94 L771.72 415.19 L772.1 414.78 L772.48 415.07 L772.87 414.95 L773.25 414.86 L773.64 414.87 L774.02 415.17 L774.41 415.27 L774.79 415.25 L775.17 414.93 L775.56 415.16 L775.94 414.87 L776.33 414.76 L776.71 414.79 L777.09 414.75 L777.48 414.72 L777.86 415.14 L778.25 414.63 L778.63 414.86 L779.02 414.78 L779.4 414.77 L779.78 414.92 L780.17 414.86 L780.55 415.09 L780.94 414.72 L781.32 414.83 L781.7 414.97 L782.09 415.4 L782.47 415.07 L782.86 415.2 L783.24 414.44 L783.63 414.85 L784.01 415.03 L784.39 415.23 L784.78 414.67 L785.16 414.55 L785.55 414.32 L785.93 415.03 L786.31 415.04 L786.7 415.04 L787.08 414.6 L787.47 414.93 L787.85 415.19 L788.24 414.71 L788.62 414.87 L789 415.21 L789.39 414.72 L789.77 415.12 L790.16 415.26 L790.54 414.82 L790.93 414.76 L791.31 415.46 L791.69 414.75 L792.08 414.83 L792.46 414.9 L792.85 414.82 L793.23 414.9 L793.61 414.82 L794 414.63 L794.38 414.62 L794.77 414.68 L795.15 414.77 L795.54 414.73 L795.92 415.05 L796.3 414.6 L796.69 414.44 L797.07 414.42 L797.46 414.6" stroke="#000000" stroke-width="1.1" fill="none" stroke-linejoin="round"/></g><rect x="636.1" y="384.1" width="234.7" height="68.8" fill="none" stroke="#555" stroke-width="0.9"/><path d="M636.1 452.9 v-2.2 M636.1 384.1 v2.2" stroke="#666" stroke-width="0.7"/><text x="636.1" y="468.3" text-anchor="middle" style='font-family:"Liberation Sans",sans-serif;font-size:10.6px' fill="#333">0</text><path d="M694.77 452.9 v-2.2 M694.77 384.1 v2.2" stroke="#666" stroke-width="0.7"/><text x="694.77" y="468.3" text-anchor="middle" style='font-family:"Liberation Sans",sans-serif;font-size:10.6px' fill="#333">100</text><path d="M753.45 452.9 v-2.2 M753.45 384.1 v2.2" stroke="#666" stroke-width="0.7"/><text x="753.45" y="468.3" text-anchor="middle" style='font-family:"Liberation Sans",sans-serif;font-size:10.6px' fill="#333">200</text><path d="M812.12 452.9 v-2.2 M812.12 384.1 v2.2" stroke="#666" stroke-width="0.7"/><text x="812.12" y="468.3" text-anchor="middle" style='font-family:"Liberation Sans",sans-serif;font-size:10.6px' fill="#333">300</text><path d="M870.8 452.9 v-2.2 M870.8 384.1 v2.2" stroke="#666" stroke-width="0.7"/><text x="870.8" y="468.3" text-anchor="middle" style='font-family:"Liberation Sans",sans-serif;font-size:10.6px' fill="#333">400</text><path d="M636.1 452.9 h2.2 M870.8 452.9 h-2.2" stroke="#666" stroke-width="0.7"/><text x="631.5" y="457.4" text-anchor="end" style='font-family:"Liberation Sans",sans-serif;font-size:10.6px' fill="#333">-5</text><path d="M636.1 418.5 h2.2 M870.8 418.5 h-2.2" stroke="#666" stroke-width="0.7"/><text x="631.5" y="423" text-anchor="end" style='font-family:"Liberation Sans",sans-serif;font-size:10.6px' fill="#333">0</text><path d="M636.1 384.1 h2.2 M870.8 384.1 h-2.2" stroke="#666" stroke-width="0.7"/><text x="631.5" y="388.6" text-anchor="end" style='font-family:"Liberation Sans",sans-serif;font-size:10.6px' fill="#333">5</text><text transform="translate(617.4,418.5) rotate(-90)" text-anchor="middle" style='font-family:"Liberation Sans",sans-serif;font-size:12.4px' fill="#333">Position[nm]</text><rect x="759.9" y="392" width="102.6" height="41" fill="#fff" stroke="#444" stroke-width="0.7"/><path d="M762.1 400.3 H779.5" stroke="#0000ff" stroke-width="0.9" stroke-opacity="0.6"/><text x="782.1" y="403.9" style='font-family:"Liberation Sans","Noto Serif CJK SC",serif;font-size:9.6px' fill="#444" textLength="26.4" lengthAdjust="spacingAndGlyphs">全频段</text><text x="808.7" y="404.2" style='font-family:"Liberation Sans",sans-serif;font-size:10.1px' fill="#2a2a2a">1.1113nm</text><path d="M762.1 413.55 H779.5" stroke="#ff0000" stroke-width="0.9" stroke-opacity="0.6"/><text x="782.1" y="417.15" style='font-family:"Liberation Sans","Noto Serif CJK SC",serif;font-size:9.6px' fill="#444" textLength="26.4" lengthAdjust="spacingAndGlyphs">高频段</text><text x="808.7" y="417.45" style='font-family:"Liberation Sans",sans-serif;font-size:10.1px' fill="#2a2a2a">1.0855nm</text><path d="M762.1 426.8 H779.5" stroke="#000" stroke-width="0.9" stroke-opacity="0.6"/><text x="782.1" y="430.4" style='font-family:"Liberation Sans","Noto Serif CJK SC",serif;font-size:9.6px' fill="#444" textLength="26.4" lengthAdjust="spacingAndGlyphs">低频段</text><text x="808.7" y="430.7" style='font-family:"Liberation Sans",sans-serif;font-size:10.1px' fill="#2a2a2a">0.23844nm</text></g><rect x="891" y="0" width="4" height="327.7" fill="#fafafa"/><rect x="744.5" y="468.8" width="115.5" height="10" fill="#fff"/><text x="748.4" y="478.4" style='font-family:"Liberation Sans","Noto Sans CJK SC",sans-serif;font-size:8.2px' fill="#555" textLength="57.6" lengthAdjust="spacingAndGlyphs">你有<tspan fill="#e33">12</tspan>条评论消息</text><text x="815" y="478.4" style='font-family:"Liberation Sans","Noto Sans CJK SC",sans-serif;font-size:8.2px' fill="#3a7be0" textLength="27.3" lengthAdjust="spacingAndGlyphs">立即查看</text><path d="M850 472.2 l2.7 2.7 l2.7 -2.7" stroke="#888" stroke-width="0.7" fill="none"/><rect x="0" y="475" width="895" height="4" fill="#fff"/><rect x="744.5" y="475" width="115.5" height="4" fill="#fff"/><path d="M531.5 475 Q538 473.6 541 472.2 Q543 472.6 543.6 475 Z" fill="#f26522"/></svg></body></html>
